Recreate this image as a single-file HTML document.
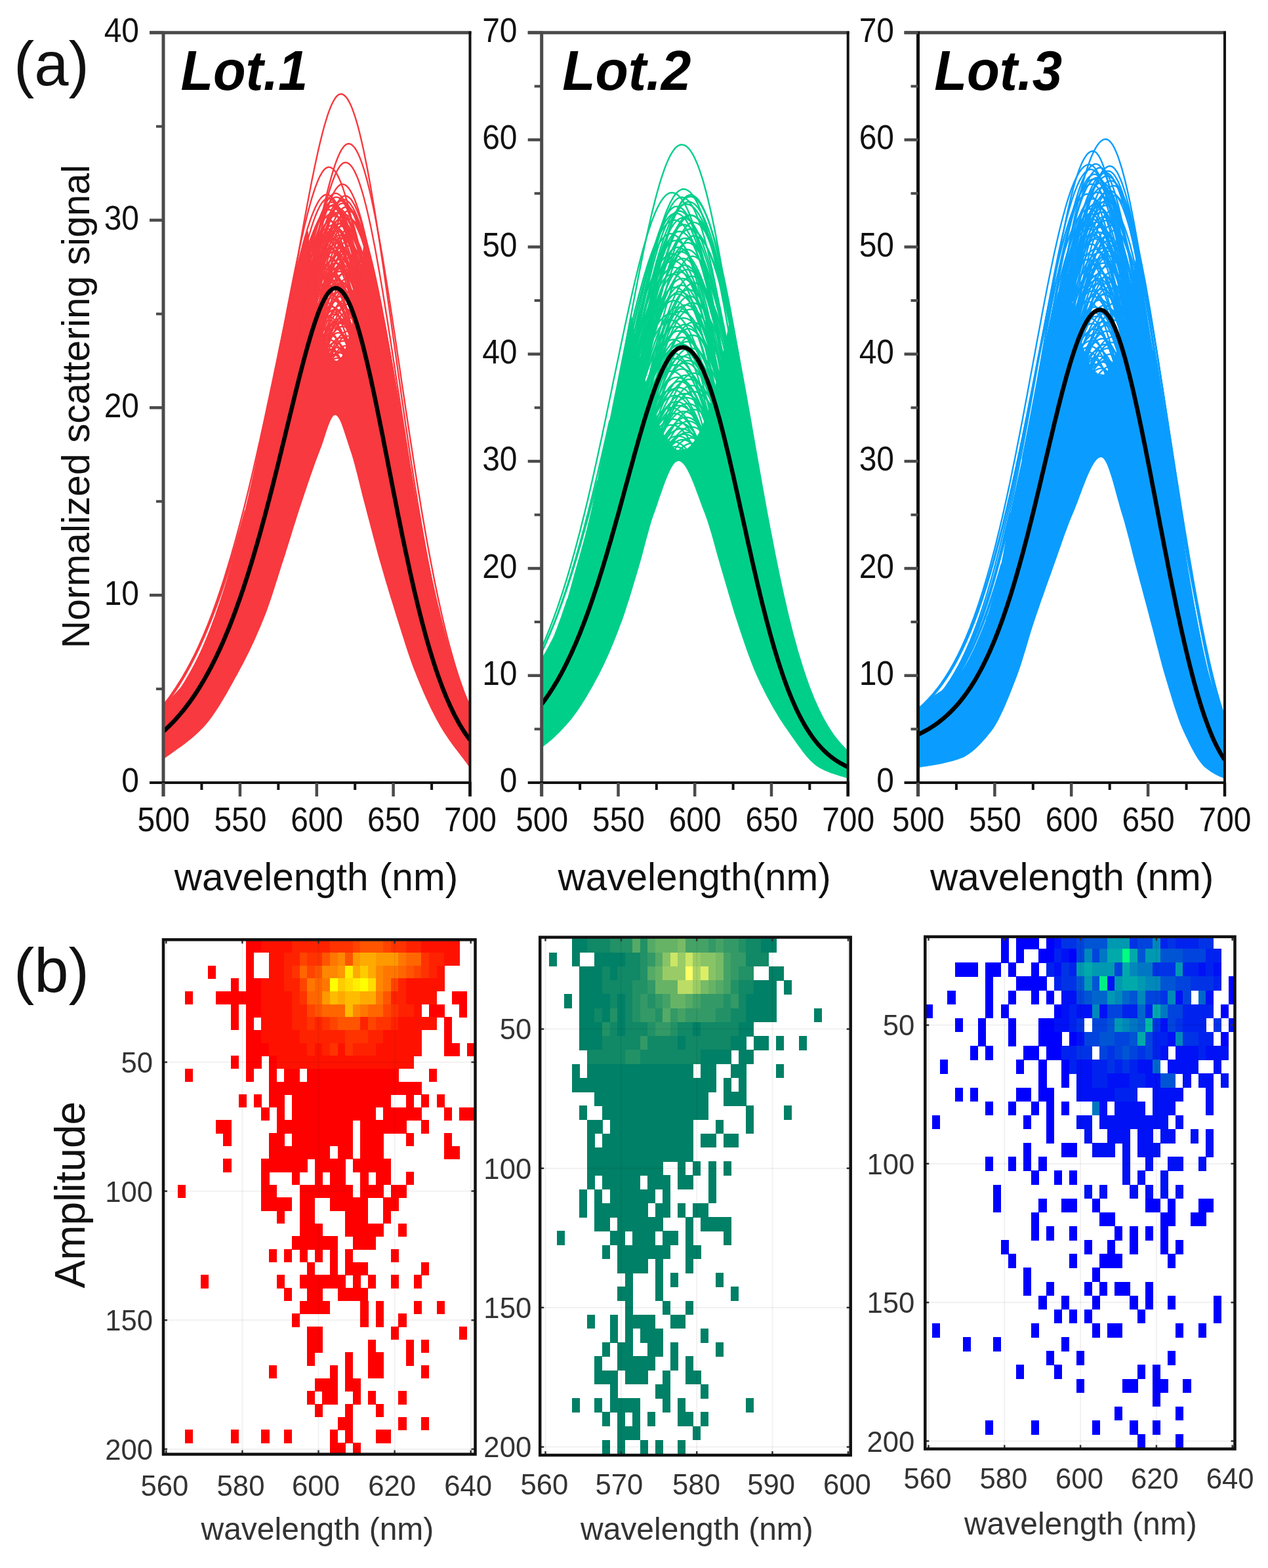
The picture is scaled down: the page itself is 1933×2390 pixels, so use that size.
<!DOCTYPE html>
<html><head><meta charset="utf-8"><title>Figure</title>
<style>html,body{margin:0;padding:0;background:#fff;}svg{display:block;}</style></head>
<body><svg xmlns="http://www.w3.org/2000/svg" width="1933" height="2390" viewBox="0 0 1933 2390" font-family="Liberation Sans, Arial, Helvetica, sans-serif">
<rect width="1933" height="2390" fill="#fff"/>
<clipPath id="cp1"><rect x="249.0" y="49.8" width="467.5" height="1143.2"/></clipPath>
<g clip-path="url(#cp1)">
<path d="M241.0,1086.8 L243.0,1084.3 L245.0,1081.8 L247.1,1079.3 L249.1,1076.9 L251.1,1074.5 L253.1,1072.1 L255.2,1069.8 L257.2,1067.6 L259.2,1065.4 L261.2,1063.2 L263.3,1061.0 L265.3,1058.8 L267.3,1056.7 L269.3,1054.5 L271.3,1052.3 L273.4,1050.0 L275.4,1047.7 L277.4,1045.4 L279.4,1043.0 L281.5,1040.5 L283.5,1037.9 L285.5,1035.3 L287.5,1032.5 L289.6,1029.6 L291.6,1026.6 L293.6,1023.4 L295.6,1020.1 L297.6,1016.6 L299.7,1012.8 L301.7,1009.0 L303.7,1004.9 L305.7,1000.7 L307.8,996.3 L309.8,991.7 L311.8,987.1 L313.8,982.2 L315.9,977.3 L317.9,972.2 L319.9,967.0 L321.9,961.7 L323.9,956.3 L326.0,950.8 L328.0,945.2 L330.0,939.5 L332.0,933.6 L334.1,927.4 L336.1,920.9 L338.1,914.0 L340.1,906.9 L342.2,899.7 L344.2,892.2 L346.2,884.7 L348.2,877.0 L350.2,869.3 L352.3,861.7 L354.3,854.0 L356.3,846.4 L358.3,838.7 L360.4,830.9 L362.4,823.0 L364.4,815.1 L366.4,807.0 L368.4,798.8 L370.5,790.5 L372.5,782.1 L374.5,773.5 L376.5,764.8 L378.6,756.0 L380.6,747.1 L382.6,738.0 L384.6,728.7 L386.7,719.3 L388.7,709.8 L390.7,700.0 L392.7,690.1 L394.7,679.9 L396.8,669.9 L398.8,660.7 L400.8,651.4 L402.8,642.1 L404.9,632.7 L406.9,623.2 L408.9,613.7 L410.9,604.2 L413.0,594.6 L415.0,585.0 L417.0,575.3 L419.0,565.7 L421.0,556.0 L423.1,546.3 L425.1,536.6 L427.1,526.9 L429.1,517.2 L431.2,507.6 L433.2,498.0 L435.2,488.5 L437.2,479.0 L439.3,469.6 L441.3,460.3 L443.3,451.1 L445.3,442.0 L447.3,433.0 L449.4,424.2 L451.4,415.5 L453.4,407.0 L455.4,398.7 L457.5,390.5 L459.5,382.6 L461.5,374.9 L463.5,367.5 L465.6,360.3 L467.6,353.4 L469.6,351.7 L471.6,369.7 L473.6,386.8 L475.7,403.1 L477.7,418.5 L479.7,433.1 L481.7,446.8 L483.8,459.7 L485.8,471.7 L487.8,482.8 L489.8,493.1 L491.9,502.6 L493.9,511.1 L495.9,518.9 L497.9,525.7 L499.9,531.7 L502.0,536.9 L504.0,541.2 L506.0,544.6 L508.0,547.2 L510.1,549.0 L512.1,549.8 L514.1,549.9 L516.1,549.0 L518.2,547.3 L520.2,544.8 L522.2,541.4 L524.2,537.1 L526.2,532.0 L528.3,526.0 L530.3,519.2 L532.3,511.5 L534.3,502.9 L536.4,493.5 L538.4,483.3 L540.4,472.2 L542.4,460.2 L544.5,447.4 L546.5,433.7 L548.5,419.1 L550.5,403.8 L552.5,387.5 L554.6,370.4 L556.6,360.7 L558.6,368.7 L560.6,376.4 L562.7,383.7 L564.7,391.4 L566.7,399.4 L568.7,407.9 L570.8,416.7 L572.8,425.8 L574.8,435.2 L576.8,444.9 L578.8,454.9 L580.9,465.2 L582.9,475.7 L584.9,486.4 L586.9,497.4 L589.0,508.5 L591.0,519.9 L593.0,531.3 L595.0,542.6 L597.1,553.9 L599.1,565.3 L601.1,576.8 L603.1,588.4 L605.1,600.0 L607.2,611.6 L609.2,623.3 L611.2,635.0 L613.2,646.7 L615.3,658.4 L617.3,670.0 L619.3,681.6 L621.3,693.2 L623.3,704.7 L625.4,716.1 L627.4,727.5 L629.4,738.8 L631.4,749.9 L633.5,761.0 L635.5,772.0 L637.5,782.8 L639.5,793.5 L641.6,804.1 L643.6,814.5 L645.6,824.8 L647.6,835.0 L649.6,845.0 L651.7,854.8 L653.7,864.5 L655.7,874.0 L657.7,883.3 L659.8,892.5 L661.8,901.5 L663.8,910.3 L665.8,918.9 L667.9,927.4 L669.9,935.7 L671.9,943.8 L673.9,951.7 L675.9,959.4 L678.0,967.0 L680.0,974.3 L682.0,981.5 L684.0,988.6 L686.1,995.4 L688.1,1002.0 L690.1,1008.5 L692.1,1014.8 L694.2,1021.0 L696.2,1027.0 L698.2,1032.8 L700.2,1038.4 L702.2,1043.9 L704.3,1049.2 L706.3,1054.4 L708.3,1059.4 L710.3,1064.2 L712.4,1068.9 L714.4,1073.5 L716.4,1077.9 L718.4,1078.1 L720.5,1078.1 L722.5,1078.1 L724.5,1078.1 L724.5,1182.3 L722.5,1179.3 L720.5,1176.4 L718.4,1173.5 L716.4,1170.6 L714.4,1167.7 L712.4,1164.9 L710.3,1162.1 L708.3,1159.4 L706.3,1156.7 L704.3,1154.1 L702.2,1151.4 L700.2,1148.8 L698.2,1146.2 L696.2,1143.5 L694.2,1140.9 L692.1,1138.2 L690.1,1135.4 L688.1,1132.7 L686.1,1129.9 L684.0,1127.0 L682.0,1124.1 L680.0,1121.1 L678.0,1118.0 L675.9,1114.8 L673.9,1111.6 L671.9,1108.2 L669.9,1104.7 L667.9,1101.1 L665.8,1097.4 L663.8,1093.6 L661.8,1089.7 L659.8,1085.8 L657.7,1081.7 L655.7,1077.5 L653.7,1073.3 L651.7,1068.9 L649.6,1064.5 L647.6,1060.0 L645.6,1055.4 L643.6,1050.8 L641.6,1046.0 L639.5,1041.2 L637.5,1036.3 L635.5,1031.4 L633.5,1026.3 L631.4,1021.2 L629.4,1015.9 L627.4,1010.4 L625.4,1004.7 L623.3,998.8 L621.3,992.8 L619.3,986.7 L617.3,980.5 L615.3,974.1 L613.2,967.8 L611.2,961.3 L609.2,954.9 L607.2,948.4 L605.1,942.0 L603.1,935.6 L601.1,929.1 L599.1,922.6 L597.1,916.1 L595.0,909.5 L593.0,902.8 L591.0,896.1 L589.0,889.4 L586.9,882.5 L584.9,875.6 L582.9,868.6 L580.9,861.6 L578.8,854.5 L576.8,847.3 L574.8,839.9 L572.8,832.5 L570.8,824.9 L568.7,817.3 L566.7,809.6 L564.7,801.9 L562.7,794.2 L560.6,786.4 L558.6,778.8 L556.6,771.1 L554.6,763.5 L552.5,755.6 L550.5,747.5 L548.5,739.3 L546.5,731.2 L544.5,723.1 L542.4,715.2 L540.4,707.6 L538.4,700.3 L536.4,693.5 L534.3,687.2 L532.3,681.2 L530.3,675.1 L528.3,668.7 L526.2,662.4 L524.2,656.2 L522.2,650.4 L520.2,645.1 L518.2,640.5 L516.1,636.8 L514.1,634.2 L512.1,632.7 L510.1,632.7 L508.0,634.1 L506.0,636.8 L504.0,640.6 L502.0,645.3 L499.9,650.7 L497.9,656.6 L495.9,662.8 L493.9,669.0 L491.9,675.1 L489.8,680.9 L487.8,686.2 L485.8,691.4 L483.8,696.8 L481.7,702.3 L479.7,707.8 L477.7,713.5 L475.7,719.2 L473.6,725.0 L471.6,730.9 L469.6,736.8 L467.6,742.8 L465.6,748.8 L463.5,754.8 L461.5,760.9 L459.5,766.9 L457.5,773.0 L455.4,779.2 L453.4,785.5 L451.4,791.9 L449.4,798.3 L447.3,804.8 L445.3,811.3 L443.3,817.8 L441.3,824.3 L439.3,830.8 L437.2,837.3 L435.2,843.7 L433.2,850.0 L431.2,856.3 L429.1,862.6 L427.1,868.9 L425.1,875.3 L423.1,881.7 L421.0,888.1 L419.0,894.5 L417.0,900.8 L415.0,907.0 L413.0,913.1 L410.9,919.0 L408.9,924.8 L406.9,930.4 L404.9,935.7 L402.8,940.9 L400.8,945.9 L398.8,950.8 L396.8,955.7 L394.7,960.4 L392.7,965.1 L390.7,969.7 L388.7,974.2 L386.7,978.7 L384.6,983.0 L382.6,987.3 L380.6,991.5 L378.6,995.7 L376.5,999.8 L374.5,1003.8 L372.5,1007.8 L370.5,1011.7 L368.4,1015.5 L366.4,1019.3 L364.4,1023.0 L362.4,1026.7 L360.4,1030.4 L358.3,1034.1 L356.3,1037.8 L354.3,1041.5 L352.3,1045.1 L350.2,1048.7 L348.2,1052.3 L346.2,1055.9 L344.2,1059.4 L342.2,1062.8 L340.1,1066.3 L338.1,1069.6 L336.1,1072.9 L334.1,1076.2 L332.0,1079.4 L330.0,1082.5 L328.0,1085.5 L326.0,1088.5 L323.9,1091.4 L321.9,1094.2 L319.9,1096.9 L317.9,1099.5 L315.9,1102.0 L313.8,1104.4 L311.8,1106.7 L309.8,1108.9 L307.8,1111.0 L305.7,1113.0 L303.7,1115.0 L301.7,1117.0 L299.7,1118.8 L297.6,1120.7 L295.6,1122.4 L293.6,1124.2 L291.6,1125.9 L289.6,1127.5 L287.5,1129.2 L285.5,1130.8 L283.5,1132.3 L281.5,1133.9 L279.4,1135.4 L277.4,1136.9 L275.4,1138.4 L273.4,1139.8 L271.3,1141.3 L269.3,1142.7 L267.3,1144.2 L265.3,1145.6 L263.3,1147.0 L261.2,1148.5 L259.2,1149.9 L257.2,1151.4 L255.2,1152.8 L253.1,1154.3 L251.1,1155.8 L249.1,1157.3 L247.1,1158.8 L245.0,1160.3 L243.0,1161.8 L241.0,1163.3 Z" fill="#f8393f"/>
<clipPath id="op1"><path d="M241.0,0.0 L241.0,1163.3 L243.0,1161.8 L245.0,1160.3 L247.1,1158.8 L249.1,1157.3 L251.1,1155.8 L253.1,1154.3 L255.2,1152.8 L257.2,1151.4 L259.2,1149.9 L261.2,1148.5 L263.3,1147.0 L265.3,1145.6 L267.3,1144.2 L269.3,1142.7 L271.3,1141.3 L273.4,1139.8 L275.4,1138.4 L277.4,1136.9 L279.4,1135.4 L281.5,1133.9 L283.5,1132.3 L285.5,1130.8 L287.5,1129.2 L289.6,1127.5 L291.6,1125.9 L293.6,1124.2 L295.6,1122.4 L297.6,1120.7 L299.7,1118.8 L301.7,1117.0 L303.7,1115.0 L305.7,1113.0 L307.8,1111.0 L309.8,1108.9 L311.8,1106.7 L313.8,1104.4 L315.9,1102.0 L317.9,1099.5 L319.9,1096.9 L321.9,1094.2 L323.9,1091.4 L326.0,1088.5 L328.0,1085.5 L330.0,1082.5 L332.0,1079.4 L334.1,1076.2 L336.1,1072.9 L338.1,1069.6 L340.1,1066.3 L342.2,1062.8 L344.2,1059.4 L346.2,1055.9 L348.2,1052.3 L350.2,1048.7 L352.3,1045.1 L354.3,1041.5 L356.3,1037.8 L358.3,1034.1 L360.4,1030.4 L362.4,1026.7 L364.4,1023.0 L366.4,1019.3 L368.4,1015.5 L370.5,1011.7 L372.5,1007.8 L374.5,1003.8 L376.5,999.8 L378.6,995.7 L380.6,991.5 L382.6,987.3 L384.6,983.0 L386.7,978.7 L388.7,974.2 L390.7,969.7 L392.7,965.1 L394.7,960.4 L396.8,955.7 L398.8,950.8 L400.8,945.9 L402.8,940.9 L404.9,935.7 L406.9,930.4 L408.9,924.8 L410.9,919.0 L413.0,913.1 L415.0,907.0 L417.0,900.8 L419.0,894.5 L421.0,888.1 L423.1,881.7 L425.1,875.3 L427.1,868.9 L429.1,862.6 L431.2,856.3 L433.2,850.0 L435.2,843.7 L437.2,837.3 L439.3,830.8 L441.3,824.3 L443.3,817.8 L445.3,811.3 L447.3,804.8 L449.4,798.3 L451.4,791.9 L453.4,785.5 L455.4,779.2 L457.5,773.0 L459.5,766.9 L461.5,760.9 L463.5,754.8 L465.6,748.8 L467.6,742.8 L469.6,736.8 L471.6,730.9 L473.6,725.0 L475.7,719.2 L477.7,713.5 L479.7,707.8 L481.7,702.3 L483.8,696.8 L485.8,691.4 L487.8,686.2 L489.8,680.9 L491.9,675.1 L493.9,669.0 L495.9,662.8 L497.9,656.6 L499.9,650.7 L502.0,645.3 L504.0,640.6 L506.0,636.8 L508.0,634.1 L510.1,632.7 L512.1,632.7 L514.1,634.2 L516.1,636.8 L518.2,640.5 L520.2,645.1 L522.2,650.4 L524.2,656.2 L526.2,662.4 L528.3,668.7 L530.3,675.1 L532.3,681.2 L534.3,687.2 L536.4,693.5 L538.4,700.3 L540.4,707.6 L542.4,715.2 L544.5,723.1 L546.5,731.2 L548.5,739.3 L550.5,747.5 L552.5,755.6 L554.6,763.5 L556.6,771.1 L558.6,778.8 L560.6,786.4 L562.7,794.2 L564.7,801.9 L566.7,809.6 L568.7,817.3 L570.8,824.9 L572.8,832.5 L574.8,839.9 L576.8,847.3 L578.8,854.5 L580.9,861.6 L582.9,868.6 L584.9,875.6 L586.9,882.5 L589.0,889.4 L591.0,896.1 L593.0,902.8 L595.0,909.5 L597.1,916.1 L599.1,922.6 L601.1,929.1 L603.1,935.6 L605.1,942.0 L607.2,948.4 L609.2,954.9 L611.2,961.3 L613.2,967.8 L615.3,974.1 L617.3,980.5 L619.3,986.7 L621.3,992.8 L623.3,998.8 L625.4,1004.7 L627.4,1010.4 L629.4,1015.9 L631.4,1021.2 L633.5,1026.3 L635.5,1031.4 L637.5,1036.3 L639.5,1041.2 L641.6,1046.0 L643.6,1050.8 L645.6,1055.4 L647.6,1060.0 L649.6,1064.5 L651.7,1068.9 L653.7,1073.3 L655.7,1077.5 L657.7,1081.7 L659.8,1085.8 L661.8,1089.7 L663.8,1093.6 L665.8,1097.4 L667.9,1101.1 L669.9,1104.7 L671.9,1108.2 L673.9,1111.6 L675.9,1114.8 L678.0,1118.0 L680.0,1121.1 L682.0,1124.1 L684.0,1127.0 L686.1,1129.9 L688.1,1132.7 L690.1,1135.4 L692.1,1138.2 L694.2,1140.9 L696.2,1143.5 L698.2,1146.2 L700.2,1148.8 L702.2,1151.4 L704.3,1154.1 L706.3,1156.7 L708.3,1159.4 L710.3,1162.1 L712.4,1164.9 L714.4,1167.7 L716.4,1170.6 L718.4,1173.5 L720.5,1176.4 L722.5,1179.3 L724.5,1182.3 L724.5,0.0 Z"/></clipPath>
<g clip-path="url(#op1)" fill="none" stroke="#f8393f" stroke-width="2.4">
<path d="M482.8,458.7 L485.1,452.4 L487.4,446.5 L489.8,441.2 L492.1,436.3 L494.4,432.1 L496.8,428.4 L499.1,425.3 L501.4,422.9 L503.8,421.2 L506.1,420.2 L508.5,420.0 L510.8,420.4 L513.1,421.5 L515.5,423.3 L517.8,425.7 L520.1,428.7 L522.5,432.3 L524.8,436.6 L527.2,441.4 L529.5,446.9 L531.8,452.9 L534.2,459.4 L536.5,466.5 L538.8,474.1 L540.0,478.1"/>
<path d="M495.6,523.2 L497.9,517.8 L500.3,512.8 L502.6,508.2 L505.0,504.1 L507.3,500.5 L509.6,497.4 L512.0,494.8 L514.3,492.9 L516.6,491.5 L519.0,490.7 L521.3,490.6 L523.7,491.1 L526.0,492.1 L528.3,493.7 L530.7,495.9 L533.0,498.6 L535.3,501.8 L535.3,501.8"/>
<path d="M291.1,1029.5 L293.4,1025.3 L295.8,1020.9 L298.1,1016.5 L300.4,1012.0 L302.8,1007.3 L305.1,1002.6 L307.4,997.7 L309.8,992.7 L312.1,987.7 L314.4,982.4 L316.8,977.1 L316.8,977.1 M473.4,396.1 L475.7,389.6 L478.1,383.5 L480.4,378.0 L482.8,373.0 L485.1,368.5 L487.4,364.6 L489.8,361.3 L492.1,358.6 L494.4,356.6 L496.8,355.3 L499.1,354.8 L501.4,354.9 L503.8,355.7 L506.1,357.1 L508.5,359.2 L510.8,361.9 L513.1,365.2 L515.5,369.2 L517.8,373.7 L520.1,378.8 L522.5,384.5 L524.8,390.7 L527.2,397.5 L529.5,404.8 L531.8,412.6 L534.2,420.9 L536.5,429.7 L538.8,438.9 L541.2,448.5 L543.5,458.5 L543.5,458.5"/>
<path d="M500.3,536.7 L502.6,534.3 L505.0,532.4 L507.3,531.0 L509.6,530.1 L512.0,529.7 L514.3,529.9 L516.6,530.6 L519.0,531.8 L521.3,533.4 L523.7,535.5 L526.0,538.1 L526.0,538.1"/>
<path d="M485.1,479.4 L487.4,470.2 L489.8,461.3 L492.1,452.8 L494.4,444.6 L496.8,436.9 L499.1,429.5 L501.4,422.7 L503.8,416.3 L506.1,410.4 L508.5,405.1 L510.8,400.5 L513.1,396.4 L515.5,393.0 L517.8,390.3 L520.1,388.4 L522.5,387.2 L524.8,386.9 L527.2,387.3 L529.5,388.4 L531.8,390.2 L534.2,392.7 L536.5,395.9 L538.8,399.8 L541.2,404.3 L543.5,409.5 L545.9,415.4 L548.2,421.8 L549.4,425.2"/>
<path d="M485.1,475.5 L487.4,470.8 L489.8,466.7 L492.1,463.1 L494.4,460.0 L496.8,457.6 L499.1,455.9 L501.4,454.8 L503.8,454.4 L506.1,454.6 L508.5,455.5 L510.8,457.1 L513.1,459.2 L515.5,461.9 L517.8,465.2 L520.1,469.1 L522.5,473.6 L524.8,478.6 L527.2,484.2 L529.5,490.3 L531.8,496.9 L534.2,504.0 L535.3,507.7"/>
<path d="M476.9,414.5 L479.2,405.4 L481.6,396.6 L483.9,388.1 L486.3,380.0 L488.6,372.3 L490.9,365.0 L493.3,358.3 L495.6,352.0 L497.9,346.2 L500.3,341.1 L502.6,336.5 L505.0,332.5 L507.3,329.3 L509.6,326.7 L512.0,324.8 L514.3,323.7 L516.6,323.4 L519.0,323.8 L521.3,325.0 L523.7,326.8 L526.0,329.3 L528.3,332.4 L530.7,336.3 L533.0,340.8 L535.3,345.9 L537.7,351.6 L540.0,358.0 L542.4,364.9 L544.7,372.4 L547.0,380.5 L549.4,389.1 L551.7,398.2 L551.7,398.2"/>
<path d="M275.9,1049.3 L278.2,1045.6 L280.6,1041.9 L282.9,1038.1 L285.2,1034.2 L287.6,1030.2 L289.9,1026.2 L292.2,1022.0 L294.6,1017.7 L296.9,1013.4 L299.3,1008.9 L301.6,1004.3 L303.9,999.7 L306.3,994.9 L308.6,990.1 L310.9,985.1 L313.3,980.0 L315.6,974.8 L318.0,969.5 L320.3,964.1 L322.6,958.5 L325.0,952.9 L327.3,947.1 L329.6,941.3 L332.0,935.3 L333.1,932.2 M476.9,425.6 L479.2,420.9 L481.6,416.8 L483.9,413.1 L486.3,410.0 L488.6,407.4 L490.9,405.5 L493.3,404.1 L495.6,403.4 L497.9,403.3 L500.3,403.8 L502.6,404.9 L505.0,406.6 L507.3,408.8 L509.6,411.6 L512.0,415.0 L514.3,418.8 L516.6,423.3 L519.0,428.2 L521.3,433.6 L523.7,439.5 L526.0,445.9 L528.3,452.7 L530.7,460.0 L533.0,467.7 L535.3,475.8 L537.7,484.3 L538.8,488.7"/>
<path d="M489.8,495.5 L492.1,490.6 L494.4,486.2 L496.8,482.3 L499.1,479.0 L501.4,476.3 L503.8,474.3 L506.1,472.9 L508.5,472.3 L510.8,472.3 L513.1,473.0 L515.5,474.3 L517.8,476.2 L520.1,478.8 L522.5,481.9 L524.8,485.7 L527.2,490.0 L529.5,494.9 L531.8,500.3 L534.2,506.3 L534.2,506.3"/>
<path d="M480.4,439.9 L482.8,430.3 L485.1,421.1 L487.4,412.2 L489.8,403.7 L492.1,395.5 L494.4,387.7 L496.8,380.4 L499.1,373.6 L501.4,367.3 L503.8,361.5 L506.1,356.3 L508.5,351.8 L510.8,347.8 L513.1,344.6 L515.5,342.0 L517.8,340.2 L520.1,339.2 L522.5,339.0 L524.8,339.5 L527.2,340.8 L529.5,342.7 L531.8,345.3 L534.2,348.7 L536.5,352.7 L538.8,357.3 L541.2,362.6 L543.5,368.6 L545.9,375.1 L548.2,382.3 L550.5,390.0 L552.9,398.3 L552.9,398.3"/>
<path d="M493.3,513.1 L495.6,511.4 L497.9,510.2 L500.3,509.7 L502.6,509.8 L505.0,510.4 L507.3,511.5 L509.6,513.2 L512.0,515.4 L514.3,518.2 L516.6,521.4 L519.0,525.2 L521.3,529.4 L523.7,534.1 L526.0,539.3 L526.0,539.3"/>
<path d="M479.2,435.0 L481.6,427.4 L483.9,420.2 L486.3,413.3 L488.6,406.9 L490.9,400.9 L493.3,395.3 L495.6,390.3 L497.9,385.7 L500.3,381.7 L502.6,378.3 L505.0,375.5 L507.3,373.3 L509.6,371.7 L512.0,370.9 L514.3,370.7 L516.6,371.2 L519.0,372.3 L521.3,374.1 L523.7,376.4 L526.0,379.3 L528.3,382.9 L530.7,387.0 L533.0,391.7 L535.3,396.9 L537.7,402.7 L540.0,409.1 L542.4,415.9 L544.7,423.2 L547.0,431.0 L548.2,435.1"/>
<path d="M489.8,499.6 L492.1,492.6 L494.4,485.9 L496.8,479.6 L499.1,473.6 L501.4,468.0 L503.8,462.7 L506.1,457.9 L508.5,453.5 L510.8,449.6 L513.1,446.1 L515.5,443.2 L517.8,440.8 L520.1,439.0 L522.5,437.7 L524.8,437.1 L527.2,437.0 L529.5,437.6 L531.8,438.6 L534.2,440.3 L536.5,442.4 L538.8,445.1 L541.2,448.3 L543.5,452.0 L544.7,454.0"/>
<path d="M472.2,380.9 L474.6,372.0 L476.9,363.6 L479.2,355.6 L481.6,348.0 L483.9,341.0 L486.3,334.6 L488.6,328.8 L490.9,323.6 L493.3,319.1 L495.6,315.3 L497.9,312.3 L500.3,310.0 L502.6,308.6 L505.0,308.0 L507.3,308.3 L509.6,309.3 L512.0,311.1 L514.3,313.7 L516.6,317.0 L519.0,321.0 L521.3,325.7 L523.7,331.2 L526.0,337.3 L528.3,344.1 L530.7,351.6 L533.0,359.6 L535.3,368.3 L537.7,377.6 L540.0,387.3 L542.4,397.7 L544.7,408.5 L547.0,419.7 L548.2,425.6"/>
<path d="M489.8,495.7 L492.1,487.5 L494.4,479.5 L496.8,471.9 L499.1,464.6 L501.4,457.6 L503.8,451.0 L506.1,444.9 L508.5,439.1 L510.8,433.9 L513.1,429.1 L515.5,424.8 L517.8,421.1 L520.1,417.9 L522.5,415.4 L524.8,413.5 L527.2,412.2 L529.5,411.6 L531.8,411.7 L534.2,412.5 L536.5,413.8 L538.8,415.7 L541.2,418.3 L543.5,421.4 L545.9,425.1 L548.2,429.4 L548.2,429.4"/>
<path d="M487.4,487.8 L489.8,485.4 L492.1,483.5 L494.4,482.2 L496.8,481.4 L499.1,481.3 L501.4,481.8 L503.8,482.7 L506.1,484.2 L508.5,486.2 L510.8,488.8 L513.1,491.8 L515.5,495.4 L517.8,499.4 L520.1,503.9 L522.5,508.9 L524.8,514.3 L527.2,520.2 L529.5,526.5 L529.5,526.5"/>
<path d="M475.7,412.3 L478.1,404.7 L480.4,397.5 L482.8,390.6 L485.1,384.2 L487.4,378.1 L489.8,372.5 L492.1,367.4 L494.4,362.8 L496.8,358.8 L499.1,355.2 L501.4,352.3 L503.8,349.9 L506.1,348.2 L508.5,347.2 L510.8,346.8 L513.1,347.1 L515.5,348.0 L517.8,349.5 L520.1,351.6 L522.5,354.3 L524.8,357.6 L527.2,361.4 L529.5,365.8 L531.8,370.8 L534.2,376.2 L536.5,382.2 L538.8,388.8 L541.2,395.8 L543.5,403.2 L545.9,411.2 L548.2,419.6 L549.4,423.9"/>
<path d="M502.6,543.0 L505.0,538.3 L507.3,534.0 L509.6,530.2 L512.0,527.0 L514.3,524.3 L516.6,522.2 L519.0,520.7 L521.3,519.8 L523.7,519.5 L526.0,519.9 L528.3,520.9 L530.7,522.4 L530.7,522.4"/>
<path d="M476.9,418.9 L479.2,412.4 L481.6,406.4 L483.9,400.9 L486.3,395.9 L488.6,391.5 L490.9,387.7 L493.3,384.6 L495.6,382.0 L497.9,380.2 L500.3,379.1 L502.6,378.7 L505.0,379.1 L507.3,380.1 L509.6,381.8 L512.0,384.1 L514.3,387.1 L516.6,390.7 L519.0,395.0 L521.3,399.8 L523.7,405.3 L526.0,411.3 L528.3,417.9 L530.7,425.0 L533.0,432.6 L535.3,440.8 L537.7,449.4 L540.0,458.5 L542.4,468.0 L542.4,468.0"/>
<path d="M487.4,486.0 L489.8,479.9 L492.1,474.3 L494.4,469.1 L496.8,464.3 L499.1,460.0 L501.4,456.2 L503.8,453.0 L506.1,450.3 L508.5,448.2 L510.8,446.7 L513.1,445.8 L515.5,445.6 L517.8,446.0 L520.1,447.0 L522.5,448.6 L524.8,450.7 L527.2,453.4 L529.5,456.7 L531.8,460.5 L534.2,464.8 L536.5,469.7 L538.8,475.1 L540.0,477.9"/>
<path d="M479.2,436.7 L481.6,427.1 L483.9,417.6 L486.3,408.4 L488.6,399.5 L490.9,390.9 L493.3,382.6 L495.6,374.6 L497.9,367.1 L500.3,359.9 L502.6,353.2 L505.0,346.9 L507.3,341.1 L509.6,335.8 L512.0,331.1 L514.3,326.9 L516.6,323.4 L519.0,320.5 L521.3,318.2 L523.7,316.7 L526.0,315.8 L528.3,315.7 L530.7,316.3 L533.0,317.5 L535.3,319.4 L537.7,321.9 L540.0,325.0 L542.4,328.8 L544.7,333.1 L547.0,338.1 L549.4,343.6 L551.7,349.7 L554.0,356.4 L556.4,363.6 L558.7,371.3 L561.1,379.5 L563.4,388.2 L565.7,397.4 L568.1,406.9 L570.4,416.9 L572.7,427.3 L575.1,438.1 L577.4,449.2 L579.8,460.6 L582.1,472.4 L584.4,484.4 L586.8,496.6 L589.1,509.1 L591.4,521.8 L593.8,534.6 L596.1,547.7 L598.5,560.8 L600.8,574.1 L603.1,587.4 L605.5,600.9 L607.8,614.3 L610.1,627.8 L612.5,641.3 L614.8,654.8 L617.2,668.3 L619.5,681.7 L621.8,695.1 L624.2,708.3 L626.5,721.5 L628.8,734.6 L631.2,747.5 L633.5,760.3 L635.9,773.0 L638.2,785.5 L640.5,797.8 L642.9,809.9 L645.2,821.8 L647.5,833.6 L649.9,845.1 L652.2,856.5 L654.6,867.6 L656.9,878.4 L659.2,889.1 L661.6,899.5 L663.9,909.7 L666.2,919.7 L668.6,929.4 L670.9,938.9 L673.3,948.1 L675.6,957.1 L677.9,965.8 L680.3,974.3 L682.6,982.6 L684.9,990.6 L687.3,998.4 L689.6,1006.0 L692.0,1013.3 L694.3,1020.4 L696.6,1027.3 L699.0,1033.9 L701.3,1040.4 L703.6,1046.6 L706.0,1052.6 L708.3,1058.4 L710.7,1064.0 L713.0,1069.4 L715.3,1074.6 L716.5,1077.1"/>
<path d="M502.6,541.1 L505.0,540.5 L507.3,540.3 L509.6,540.7 L512.0,541.5 L514.3,542.8 L516.6,544.5 L519.0,546.7 L520.1,547.9"/>
<path d="M483.9,470.4 L486.3,461.9 L488.6,453.7 L490.9,445.9 L493.3,438.5 L495.6,431.6 L497.9,425.2 L500.3,419.3 L502.6,413.9 L505.0,409.2 L507.3,405.0 L509.6,401.6 L512.0,398.8 L514.3,396.8 L516.6,395.5 L519.0,395.0 L521.3,395.3 L523.7,396.4 L526.0,398.1 L528.3,400.5 L530.7,403.6 L533.0,407.4 L535.3,411.8 L537.7,416.9 L540.0,422.7 L542.4,429.0 L544.7,436.0 L547.0,443.5 L547.0,443.5"/>
<path d="M496.8,527.9 L499.1,520.5 L501.4,513.3 L503.8,506.6 L506.1,500.2 L508.5,494.2 L510.8,488.6 L513.1,483.5 L515.5,479.0 L517.8,474.9 L520.1,471.4 L522.5,468.5 L524.8,466.2 L527.2,464.5 L529.5,463.5 L531.8,463.2 L534.2,463.6 L536.5,464.6 L538.8,466.2 L541.2,468.4 L542.4,469.7"/>
<path d="M284.1,1039.5 L286.4,1035.4 L288.7,1031.2 L291.1,1026.9 L293.4,1022.5 L295.8,1018.0 L298.1,1013.4 L300.4,1008.6 L302.8,1003.8 L305.1,998.8 L307.4,993.7 L309.8,988.5 L312.1,983.2 L314.4,977.8 L316.8,972.2 L319.1,966.5 L321.5,960.7 L323.8,954.7 L326.1,948.6 L328.5,942.4 L330.8,936.0 L333.1,929.5 L335.5,922.8 L337.8,916.0 L340.2,909.1 L340.2,909.1 M471.1,371.4 L473.4,364.7 L475.7,358.6 L478.1,352.9 L480.4,347.9 L482.8,343.4 L485.1,339.6 L487.4,336.5 L489.8,334.0 L492.1,332.3 L494.4,331.4 L496.8,331.2 L499.1,331.8 L501.4,333.0 L503.8,335.0 L506.1,337.6 L508.5,340.9 L510.8,344.8 L513.1,349.4 L515.5,354.7 L517.8,360.5 L520.1,367.0 L522.5,374.0 L524.8,381.6 L527.2,389.8 L529.5,398.5 L531.8,407.6 L534.2,417.3 L536.5,427.4 L538.8,437.9 L541.2,448.8 L543.5,460.1 L543.5,460.1"/>
<path d="M493.3,512.2 L495.6,508.9 L497.9,506.1 L500.3,503.7 L502.6,501.9 L505.0,500.7 L507.3,500.1 L509.6,500.1 L512.0,500.6 L514.3,501.6 L516.6,503.2 L519.0,505.3 L521.3,507.9 L523.7,511.0 L526.0,514.7 L528.3,518.8 L530.7,523.3 L530.7,523.3"/>
<path d="M480.4,447.4 L482.8,439.1 L485.1,431.1 L487.4,423.4 L489.8,416.0 L492.1,409.0 L494.4,402.4 L496.8,396.2 L499.1,390.4 L501.4,385.1 L503.8,380.3 L506.1,376.0 L508.5,372.3 L510.8,369.1 L513.1,366.6 L515.5,364.6 L517.8,363.3 L520.1,362.7 L522.5,362.8 L524.8,363.5 L527.2,364.8 L529.5,366.7 L531.8,369.2 L534.2,372.3 L536.5,376.0 L538.8,380.2 L541.2,385.0 L543.5,390.3 L545.9,396.2 L548.2,402.5 L550.5,409.4 L550.5,409.4"/>
<path d="M481.6,450.9 L483.9,445.9 L486.3,441.4 L488.6,437.6 L490.9,434.4 L493.3,431.8 L495.6,429.9 L497.9,428.8 L500.3,428.4 L502.6,428.8 L505.0,429.8 L507.3,431.5 L509.6,433.9 L512.0,436.9 L514.3,440.5 L516.6,444.8 L519.0,449.7 L521.3,455.2 L523.7,461.3 L526.0,467.9 L528.3,475.1 L530.7,482.8 L533.0,491.0 L535.3,499.7 L536.5,504.2"/>
<path d="M473.4,397.0 L475.7,387.3 L478.1,377.9 L480.4,368.9 L482.8,360.3 L485.1,352.1 L487.4,344.4 L489.8,337.2 L492.1,330.5 L494.4,324.4 L496.8,318.9 L499.1,314.0 L501.4,309.9 L503.8,306.4 L506.1,303.7 L508.5,301.7 L510.8,300.6 L513.1,300.4 L515.5,300.9 L517.8,302.1 L520.1,304.2 L522.5,306.9 L524.8,310.4 L527.2,314.5 L529.5,319.4 L531.8,325.0 L534.2,331.2 L536.5,338.1 L538.8,345.6 L541.2,353.7 L543.5,362.4 L545.9,371.6 L548.2,381.4 L550.5,391.7 L551.7,397.0"/>
<path d="M480.4,447.6 L482.8,442.1 L485.1,437.0 L487.4,432.4 L489.8,428.3 L492.1,424.7 L494.4,421.7 L496.8,419.3 L499.1,417.5 L501.4,416.3 L503.8,415.8 L506.1,415.9 L508.5,416.7 L510.8,418.0 L513.1,419.9 L515.5,422.4 L517.8,425.5 L520.1,429.1 L522.5,433.3 L524.8,438.0 L527.2,443.2 L529.5,448.9 L531.8,455.2 L534.2,461.9 L536.5,469.1 L538.8,476.7 L540.0,480.6"/>
<path d="M493.3,512.8 L495.6,508.1 L497.9,503.7 L500.3,499.8 L502.6,496.3 L505.0,493.2 L507.3,490.7 L509.6,488.7 L512.0,487.2 L514.3,486.3 L516.6,485.9 L519.0,486.1 L521.3,486.9 L523.7,488.1 L526.0,489.8 L528.3,492.1 L530.7,494.8 L533.0,498.1 L535.3,501.8 L535.3,501.8"/>
<path d="M483.9,471.1 L486.3,461.0 L488.6,451.0 L490.9,441.4 L493.3,432.1 L495.6,423.1 L497.9,414.5 L500.3,406.2 L502.6,398.4 L505.0,391.1 L507.3,384.2 L509.6,377.9 L512.0,372.2 L514.3,367.0 L516.6,362.5 L519.0,358.7 L521.3,355.6 L523.7,353.2 L526.0,351.6 L528.3,350.8 L530.7,350.9 L533.0,351.7 L535.3,353.2 L537.7,355.5 L540.0,358.4 L542.4,362.1 L544.7,366.5 L547.0,371.5 L549.4,377.2 L551.7,383.6 L552.9,387.0"/>
<path d="M496.8,524.6 L499.1,524.7 L501.4,525.4 L503.8,526.6 L506.1,528.4 L508.5,530.7 L510.8,533.6 L513.1,536.9 L515.5,540.8 L517.8,545.2 L520.1,550.1 L520.1,550.1"/>
<path d="M479.2,436.7 L481.6,429.5 L483.9,422.7 L486.3,416.4 L488.6,410.5 L490.9,405.0 L493.3,400.2 L495.6,395.8 L497.9,392.0 L500.3,388.9 L502.6,386.3 L505.0,384.4 L507.3,383.3 L509.6,382.8 L512.0,383.0 L514.3,383.9 L516.6,385.4 L519.0,387.6 L521.3,390.4 L523.7,393.8 L526.0,397.8 L528.3,402.3 L530.7,407.5 L533.0,413.2 L535.3,419.5 L537.7,426.3 L540.0,433.6 L542.4,441.4 L544.7,449.7 L544.7,449.7"/>
<path d="M489.8,502.9 L492.1,496.3 L494.4,490.0 L496.8,484.1 L499.1,478.6 L501.4,473.4 L503.8,468.8 L506.1,464.5 L508.5,460.8 L510.8,457.6 L513.1,454.9 L515.5,452.8 L517.8,451.2 L520.1,450.3 L522.5,450.0 L524.8,450.3 L527.2,451.2 L529.5,452.6 L531.8,454.6 L534.2,457.1 L536.5,460.1 L538.8,463.7 L541.2,467.8 L542.4,470.1"/>
<path d="M249.0,1078.1 L251.3,1075.1 L253.7,1072.1 L256.0,1069.0 L258.4,1065.9 L260.7,1062.6 L263.0,1059.3 L265.4,1055.9 L267.7,1052.5 L270.0,1048.9 L272.4,1045.3 L274.7,1041.5 L277.1,1037.7 L279.4,1033.8 L281.7,1029.8 L284.1,1025.7 L286.4,1021.5 L288.7,1017.3 L291.1,1012.9 L293.4,1008.4 L295.8,1003.8 L298.1,999.1 L300.4,994.3 L302.8,989.4 L305.1,984.4 L307.4,979.3 L309.8,974.0 L312.1,968.7 L314.4,963.2 L316.8,957.6 L319.1,951.9 L321.5,946.1 L323.8,940.1 L326.1,934.1 L328.5,927.9 L330.8,921.5 L333.1,915.1 L335.5,908.5 L337.8,901.8 L340.2,894.9 L342.5,887.9 L344.8,880.8 L347.2,873.6 L349.5,866.2 L351.9,858.7 L354.2,851.0 L356.5,843.2 L358.9,835.3 L361.2,827.2 L363.5,819.0 L365.9,810.7 L368.2,802.2 L368.2,802.2 M471.1,372.5 L473.4,365.4 L475.7,358.7 L478.1,352.4 L480.4,346.5 L482.8,341.2 L485.1,336.4 L487.4,332.1 L489.8,328.4 L492.1,325.3 L494.4,322.9 L496.8,321.1 L499.1,319.9 L501.4,319.5 L503.8,319.8 L506.1,320.7 L508.5,322.2 L510.8,324.4 L513.1,327.1 L515.5,330.5 L517.8,334.5 L520.1,339.0 L522.5,344.1 L524.8,349.8 L527.2,356.0 L529.5,362.8 L531.8,370.0 L534.2,377.8 L536.5,386.0 L538.8,394.7 L541.2,403.8 L543.5,413.3 L545.9,423.2 L548.2,433.5 L548.2,433.5"/>
<path d="M507.3,548.5 L509.6,547.0 L512.0,546.1 L514.3,545.8 L516.6,546.1 L519.0,547.0 L520.1,547.7"/>
<path d="M487.4,483.0 L489.8,474.5 L492.1,466.3 L494.4,458.5 L496.8,451.0 L499.1,443.8 L501.4,437.1 L503.8,430.9 L506.1,425.1 L508.5,419.8 L510.8,415.0 L513.1,410.8 L515.5,407.2 L517.8,404.2 L520.1,401.9 L522.5,400.3 L524.8,399.4 L527.2,399.2 L529.5,399.7 L531.8,400.8 L534.2,402.6 L536.5,405.1 L538.8,408.1 L541.2,411.8 L543.5,416.1 L545.9,421.0 L548.2,426.5 L548.2,426.5"/>
<path d="M487.4,486.2 L489.8,482.0 L492.1,478.2 L494.4,475.0 L496.8,472.4 L499.1,470.3 L501.4,468.8 L503.8,467.9 L506.1,467.7 L508.5,468.1 L510.8,469.0 L513.1,470.5 L515.5,472.6 L517.8,475.2 L520.1,478.4 L522.5,482.0 L524.8,486.3 L527.2,491.0 L529.5,496.2 L531.8,501.9 L534.2,508.1 L534.2,508.1"/>
<path d="M476.9,426.8 L479.2,418.0 L481.6,409.5 L483.9,401.3 L486.3,393.5 L488.6,386.0 L490.9,378.9 L493.3,372.3 L495.6,366.1 L497.9,360.4 L500.3,355.1 L502.6,350.5 L505.0,346.3 L507.3,342.8 L509.6,339.9 L512.0,337.7 L514.3,336.1 L516.6,335.2 L519.0,335.1 L521.3,335.6 L523.7,336.8 L526.0,338.6 L528.3,341.0 L530.7,344.1 L533.0,347.8 L535.3,352.0 L537.7,356.9 L540.0,362.3 L542.4,368.3 L544.7,374.8 L547.0,381.9 L549.4,389.5 L551.7,397.5 L551.7,397.5"/>
<path d="M502.6,540.3 L505.0,535.1 L507.3,530.2 L509.6,525.7 L512.0,521.5 L514.3,517.8 L516.6,514.5 L519.0,511.6 L521.3,509.2 L523.7,507.3 L526.0,505.9 L528.3,505.1 L530.7,504.8 L533.0,505.0 L535.3,505.8 L535.3,505.8"/>
<path d="M474.6,405.2 L476.9,398.7 L479.2,392.6 L481.6,387.1 L483.9,382.2 L486.3,377.8 L488.6,374.2 L490.9,371.2 L493.3,369.0 L495.6,367.5 L497.9,366.7 L500.3,366.8 L502.6,367.6 L505.0,369.1 L507.3,371.3 L509.6,374.2 L512.0,377.7 L514.3,382.0 L516.6,386.8 L519.0,392.4 L521.3,398.5 L523.7,405.2 L526.0,412.6 L528.3,420.4 L530.7,428.8 L533.0,437.8 L535.3,447.2 L537.7,457.1 L540.0,467.4 L541.2,472.7"/>
<path d="M485.1,471.8 L487.4,465.6 L489.8,459.9 L492.1,454.6 L494.4,449.9 L496.8,445.6 L499.1,441.9 L501.4,438.8 L503.8,436.3 L506.1,434.4 L508.5,433.2 L510.8,432.7 L513.1,432.9 L515.5,433.7 L517.8,435.1 L520.1,437.1 L522.5,439.8 L524.8,443.0 L527.2,446.8 L529.5,451.1 L531.8,456.1 L534.2,461.6 L536.5,467.6 L538.8,474.1 L540.0,477.5"/>
<path d="M476.9,425.6 L479.2,415.6 L481.6,405.9 L483.9,396.4 L486.3,387.2 L488.6,378.3 L490.9,369.8 L493.3,361.7 L495.6,354.0 L497.9,346.7 L500.3,339.9 L502.6,333.5 L505.0,327.7 L507.3,322.5 L509.6,317.8 L512.0,313.8 L514.3,310.5 L516.6,307.8 L519.0,305.8 L521.3,304.6 L523.7,304.2 L526.0,304.5 L528.3,305.5 L530.7,307.2 L533.0,309.5 L535.3,312.6 L537.7,316.3 L540.0,320.6 L542.4,325.6 L544.7,331.2 L547.0,337.4 L549.4,344.2 L551.7,351.6 L554.0,359.5 L556.4,368.0 L556.4,368.0"/>
<path d="M482.8,460.5 L485.1,453.8 L487.4,447.5 L489.8,441.6 L492.1,436.1 L494.4,430.9 L496.8,426.3 L499.1,422.0 L501.4,418.3 L503.8,415.1 L506.1,412.4 L508.5,410.2 L510.8,408.7 L513.1,407.7 L515.5,407.4 L517.8,407.7 L520.1,408.5 L522.5,409.9 L524.8,411.9 L527.2,414.4 L529.5,417.4 L531.8,420.9 L534.2,425.0 L536.5,429.5 L538.8,434.6 L541.2,440.1 L543.5,446.1 L544.7,449.3"/>
<path d="M496.8,531.1 L499.1,524.0 L501.4,517.3 L503.8,511.0 L506.1,505.1 L508.5,499.7 L510.8,494.8 L513.1,490.4 L515.5,486.6 L517.8,483.3 L520.1,480.7 L522.5,478.7 L524.8,477.4 L527.2,476.8 L529.5,476.9 L531.8,477.6 L534.2,479.0 L536.5,481.0 L538.8,483.6 L538.8,483.6"/>
<path d="M474.6,409.7 L476.9,401.4 L479.2,393.5 L481.6,386.1 L483.9,379.1 L486.3,372.6 L488.6,366.7 L490.9,361.3 L493.3,356.6 L495.6,352.5 L497.9,349.1 L500.3,346.4 L502.6,344.4 L505.0,343.3 L507.3,342.9 L509.6,343.3 L512.0,344.4 L514.3,346.3 L516.6,348.8 L519.0,352.0 L521.3,356.0 L523.7,360.6 L526.0,365.8 L528.3,371.7 L530.7,378.2 L533.0,385.3 L535.3,393.0 L537.7,401.3 L540.0,410.1 L542.4,419.4 L544.7,429.2 L547.0,439.5 L547.0,439.5"/>
<path d="M499.1,536.4 L501.4,532.0 L503.8,528.0 L506.1,524.4 L508.5,521.4 L510.8,518.9 L513.1,516.9 L515.5,515.5 L517.8,514.7 L520.1,514.6 L522.5,515.0 L524.8,515.9 L527.2,517.4 L529.5,519.4 L530.7,520.6"/>
<path d="M486.3,481.4 L488.6,472.3 L490.9,463.6 L493.3,455.0 L495.6,446.8 L497.9,438.8 L500.3,431.2 L502.6,424.0 L505.0,417.1 L507.3,410.6 L509.6,404.6 L512.0,399.0 L514.3,394.0 L516.6,389.5 L519.0,385.5 L521.3,382.1 L523.7,379.3 L526.0,377.1 L528.3,375.6 L530.7,374.8 L533.0,374.8 L535.3,375.3 L537.7,376.5 L540.0,378.3 L542.4,380.8 L544.7,383.8 L547.0,387.4 L549.4,391.6 L551.7,396.4 L551.7,396.4"/>
<path d="M481.6,453.5 L483.9,450.1 L486.3,447.2 L488.6,444.9 L490.9,443.1 L493.3,441.9 L495.6,441.3 L497.9,441.4 L500.3,442.0 L502.6,443.2 L505.0,444.9 L507.3,447.1 L509.6,449.9 L512.0,453.2 L514.3,457.0 L516.6,461.3 L519.0,466.1 L521.3,471.4 L523.7,477.1 L526.0,483.3 L528.3,490.0 L530.7,497.0 L533.0,504.5 L534.2,508.3"/>
<path d="M473.4,395.7 L475.7,386.2 L478.1,377.2 L480.4,368.6 L482.8,360.5 L485.1,352.9 L487.4,345.8 L489.8,339.2 L492.1,333.3 L494.4,328.0 L496.8,323.4 L499.1,319.5 L501.4,316.4 L503.8,314.0 L506.1,312.5 L508.5,311.8 L510.8,312.1 L513.1,313.0 L515.5,314.8 L517.8,317.3 L520.1,320.6 L522.5,324.6 L524.8,329.4 L527.2,334.8 L529.5,341.0 L531.8,347.8 L534.2,355.3 L536.5,363.4 L538.8,372.1 L541.2,381.4 L543.5,391.2 L545.9,401.6 L548.2,412.5 L549.4,418.1"/>
<path d="M506.1,547.7 L508.5,544.2 L510.8,541.3 L513.1,538.9 L515.5,537.0 L517.8,535.7 L520.1,535.1 L522.5,535.0 L524.8,535.5 L526.0,536.0"/>
<path d="M476.9,424.7 L479.2,418.8 L481.6,413.4 L483.9,408.5 L486.3,404.1 L488.6,400.3 L490.9,397.1 L493.3,394.6 L495.6,392.7 L497.9,391.4 L500.3,390.9 L502.6,391.2 L505.0,392.0 L507.3,393.5 L509.6,395.6 L512.0,398.4 L514.3,401.7 L516.6,405.7 L519.0,410.2 L521.3,415.3 L523.7,421.0 L526.0,427.2 L528.3,434.0 L530.7,441.3 L533.0,449.0 L535.3,457.3 L537.7,465.9 L540.0,475.0 L541.2,479.7"/>
<path d="M488.6,490.2 L490.9,484.9 L493.3,480.0 L495.6,475.5 L497.9,471.5 L500.3,468.0 L502.6,465.1 L505.0,462.6 L507.3,460.8 L509.6,459.5 L512.0,458.9 L514.3,458.8 L516.6,459.4 L519.0,460.5 L521.3,462.2 L523.7,464.4 L526.0,467.1 L528.3,470.4 L530.7,474.2 L533.0,478.5 L535.3,483.3 L537.7,488.6 L538.8,491.5"/>
<path d="M479.2,437.1 L481.6,427.9 L483.9,418.9 L486.3,410.2 L488.6,401.8 L490.9,393.7 L493.3,385.9 L495.6,378.5 L497.9,371.5 L500.3,364.8 L502.6,358.7 L505.0,353.0 L507.3,347.8 L509.6,343.1 L512.0,338.9 L514.3,335.4 L516.6,332.5 L519.0,330.1 L521.3,328.5 L523.7,327.5 L526.0,327.3 L528.3,327.7 L530.7,328.7 L533.0,330.4 L535.3,332.7 L537.7,335.6 L540.0,339.1 L542.4,343.2 L544.7,347.9 L547.0,353.1 L549.4,358.9 L551.7,365.2 L554.0,372.0 L555.2,375.7 M683.8,989.7 L686.1,997.4 L688.5,1004.9 L690.8,1012.2 L693.1,1019.2 L695.5,1026.0 L697.8,1032.6 L700.1,1039.0 L702.5,1045.2 L704.8,1051.2 L707.1,1056.9 L709.5,1062.5 L711.8,1067.9 L714.2,1073.1 L716.5,1078.1 L716.5,1078.1"/>
<path d="M490.9,506.9 L493.3,503.4 L495.6,500.5 L497.9,498.2 L500.3,496.6 L502.6,495.6 L505.0,495.3 L507.3,495.6 L509.6,496.5 L512.0,498.1 L514.3,500.2 L516.6,503.0 L519.0,506.3 L521.3,510.1 L523.7,514.6 L526.0,519.6 L528.3,525.0 L529.5,528.0"/>
<path d="M479.2,443.3 L481.6,434.5 L483.9,426.0 L486.3,417.8 L488.6,410.1 L490.9,402.7 L493.3,395.9 L495.6,389.4 L497.9,383.5 L500.3,378.2 L502.6,373.4 L505.0,369.2 L507.3,365.7 L509.6,362.9 L512.0,360.7 L514.3,359.4 L516.6,358.7 L519.0,358.9 L521.3,359.7 L523.7,361.3 L526.0,363.5 L528.3,366.4 L530.7,369.9 L533.0,374.1 L535.3,378.9 L537.7,384.4 L540.0,390.5 L542.4,397.1 L544.7,404.4 L547.0,412.1 L549.4,420.4 L549.4,420.4"/>
<path d="M490.9,501.6 L493.3,493.7 L495.6,486.1 L497.9,478.7 L500.3,471.8 L502.6,465.1 L505.0,458.9 L507.3,453.1 L509.6,447.7 L512.0,442.9 L514.3,438.5 L516.6,434.6 L519.0,431.3 L521.3,428.6 L523.7,426.6 L526.0,425.1 L528.3,424.3 L530.7,424.2 L533.0,424.8 L535.3,425.9 L537.7,427.7 L540.0,430.0 L542.4,432.9 L544.7,436.4 L547.0,440.5 L547.0,440.5"/>
<path d="M249.0,1077.4 L251.3,1074.4 L253.7,1071.3 L256.0,1068.1 L258.4,1064.9 L260.7,1061.6 L263.0,1058.1 L265.4,1054.6 L267.7,1051.0 L270.0,1047.4 L272.4,1043.6 L274.7,1039.7 L277.1,1035.8 L279.4,1031.7 L281.7,1027.6 L284.1,1023.4 L286.4,1019.0 L288.7,1014.6 L291.1,1010.0 L293.4,1005.3 L295.8,1000.6 L298.1,995.7 L300.4,990.7 L302.8,985.6 L305.1,980.3 L307.4,975.0 L309.8,969.5 L312.1,963.9 L314.4,958.2 L316.8,952.4 L319.1,946.4 L321.5,940.3 L323.8,934.1 L326.1,927.7 L328.5,921.2 L330.8,914.6 L333.1,907.8 L335.5,900.9 L337.8,893.8 L340.2,886.6 L342.5,879.3 L344.8,871.8 L347.2,864.2 L349.5,856.4 L351.9,848.5 L354.2,840.4 L356.5,832.2 L358.9,823.9 L361.2,815.4 L363.5,806.7 L365.9,797.9 L368.2,789.0 L370.6,779.9 L372.9,770.7 L375.2,761.3 L377.6,751.8 L379.9,742.2 L382.2,732.4 L384.6,722.5 L386.9,712.5 L389.2,702.3 L391.6,692.0 L393.9,681.6 L396.3,671.2 L398.6,660.6 L400.9,649.9 L403.3,639.1 L405.6,628.2 L407.9,617.3 L410.3,606.3 L412.6,595.2 L415.0,584.1 L417.3,572.9 L419.6,561.7 L422.0,550.5 L424.3,539.3 L426.6,528.1 L429.0,517.0 L431.3,505.9 L433.7,494.8 L436.0,483.8 L438.3,472.9 L440.7,462.1 L443.0,451.4 L445.4,440.9 L447.7,430.5 L450.0,420.4 L452.4,410.4 L454.7,400.7 L457.0,391.2 L459.4,382.0 L461.7,373.2 L464.0,364.6 L466.4,356.5 L468.7,348.7 L471.1,341.3 L473.4,334.4 L475.7,328.0 L478.1,322.1 L480.4,316.7 L482.8,311.9 L485.1,307.6 L487.4,304.1 L489.8,301.1 L492.1,298.9 L494.4,297.4 L496.8,296.6 L499.1,296.6 L501.4,297.3 L503.8,298.7 L506.1,300.7 L508.5,303.4 L510.8,306.7 L513.1,310.7 L515.5,315.3 L517.8,320.5 L520.1,326.4 L522.5,332.8 L524.8,339.8 L527.2,347.3 L529.5,355.4 L531.8,363.9 L534.2,373.0 L536.5,382.6 L538.8,392.5 L541.2,402.9 L543.5,413.8 L545.9,424.9 L548.2,436.5 L548.2,436.5"/>
<path d="M487.4,489.7 L489.8,481.6 L492.1,473.8 L494.4,466.4 L496.8,459.4 L499.1,452.8 L501.4,446.7 L503.8,441.1 L506.1,436.0 L508.5,431.5 L510.8,427.6 L513.1,424.3 L515.5,421.6 L517.8,419.6 L520.1,418.4 L522.5,417.9 L524.8,418.1 L527.2,419.0 L529.5,420.6 L531.8,422.8 L534.2,425.7 L536.5,429.2 L538.8,433.3 L541.2,438.1 L543.5,443.4 L545.9,449.4 L545.9,449.4"/>
<path d="M489.8,497.0 L492.1,494.1 L494.4,491.7 L496.8,489.9 L499.1,488.8 L501.4,488.3 L503.8,488.4 L506.1,489.1 L508.5,490.4 L510.8,492.3 L513.1,494.7 L515.5,497.7 L517.8,501.2 L520.1,505.3 L522.5,509.8 L524.8,514.9 L527.2,520.5 L529.5,526.6 L529.5,526.6"/>
<path d="M478.1,427.9 L480.4,419.7 L482.8,411.7 L485.1,404.1 L487.4,397.0 L489.8,390.2 L492.1,384.0 L494.4,378.2 L496.8,372.9 L499.1,368.1 L501.4,364.0 L503.8,360.4 L506.1,357.5 L508.5,355.3 L510.8,353.7 L513.1,352.9 L515.5,352.8 L517.8,353.4 L520.1,354.6 L522.5,356.5 L524.8,359.1 L527.2,362.3 L529.5,366.1 L531.8,370.5 L534.2,375.5 L536.5,381.1 L538.8,387.3 L541.2,394.0 L543.5,401.3 L545.9,409.0 L548.2,417.3 L549.4,421.6"/>
<path d="M506.1,547.8 L508.5,543.7 L510.8,540.0 L513.1,536.7 L515.5,533.8 L517.8,531.4 L520.1,529.6 L522.5,528.2 L524.8,527.4 L527.2,527.1 L529.5,527.4 L529.5,527.4"/>
<path d="M478.1,426.7 L480.4,420.5 L482.8,414.8 L485.1,409.4 L487.4,404.6 L489.8,400.2 L492.1,396.3 L494.4,392.9 L496.8,390.1 L499.1,387.8 L501.4,386.2 L503.8,385.2 L506.1,384.8 L508.5,385.1 L510.8,385.9 L513.1,387.3 L515.5,389.3 L517.8,391.9 L520.1,395.0 L522.5,398.6 L524.8,402.8 L527.2,407.5 L529.5,412.7 L531.8,418.4 L534.2,424.6 L536.5,431.2 L538.8,438.3 L541.2,445.9 L543.5,453.8 L544.7,458.0"/>
<path d="M489.8,499.7 L492.1,493.0 L494.4,486.6 L496.8,480.8 L499.1,475.3 L501.4,470.4 L503.8,466.0 L506.1,462.1 L508.5,458.9 L510.8,456.2 L513.1,454.2 L515.5,452.9 L517.8,452.2 L520.1,452.3 L522.5,453.0 L524.8,454.4 L527.2,456.3 L529.5,458.9 L531.8,462.1 L534.2,465.9 L536.5,470.3 L538.8,475.2 L540.0,477.9"/>
<path d="M481.6,457.2 L483.9,446.9 L486.3,436.7 L488.6,426.8 L490.9,417.1 L493.3,407.7 L495.6,398.6 L497.9,389.9 L500.3,381.6 L502.6,373.6 L505.0,366.1 L507.3,359.1 L509.6,352.5 L512.0,346.5 L514.3,341.1 L516.6,336.2 L519.0,332.0 L521.3,328.4 L523.7,325.6 L526.0,323.4 L528.3,322.1 L530.7,321.5 L533.0,321.7 L535.3,322.6 L537.7,324.2 L540.0,326.5 L542.4,329.5 L544.7,333.2 L547.0,337.6 L549.4,342.6 L551.7,348.2 L554.0,354.5 L556.4,361.4 L558.7,368.8 L561.1,376.9 L563.4,385.4 L565.7,394.5 L568.1,404.1 L570.4,414.1 L572.7,424.6 L575.1,435.5 L577.4,446.8 L579.8,458.5 L582.1,470.5 L584.4,482.9 L586.8,495.5 L589.1,508.4 L591.4,521.5 L593.8,534.8 L596.1,548.3 L598.5,561.9 L600.8,575.7 L603.1,589.6 L605.5,603.5 L607.8,617.5 L607.8,617.5"/>
<path d="M481.6,449.3 L483.9,442.8 L486.3,436.6 L488.6,430.8 L490.9,425.5 L493.3,420.6 L495.6,416.2 L497.9,412.3 L500.3,409.0 L502.6,406.2 L505.0,404.0 L507.3,402.4 L509.6,401.5 L512.0,401.2 L514.3,401.6 L516.6,402.5 L519.0,404.0 L521.3,406.1 L523.7,408.7 L526.0,412.0 L528.3,415.7 L530.7,420.0 L533.0,424.9 L535.3,430.2 L537.7,436.1 L540.0,442.4 L542.4,449.2 L544.7,456.5 L544.7,456.5"/>
<path d="M493.3,514.1 L495.6,508.2 L497.9,502.7 L500.3,497.5 L502.6,492.7 L505.0,488.3 L507.3,484.3 L509.6,480.7 L512.0,477.7 L514.3,475.1 L516.6,473.0 L519.0,471.4 L521.3,470.4 L523.7,470.0 L526.0,470.1 L528.3,470.7 L530.7,471.9 L533.0,473.5 L535.3,475.7 L537.7,478.3 L540.0,481.5 L540.0,481.5"/>
<path d="M473.4,397.9 L475.7,389.6 L478.1,381.8 L480.4,374.6 L482.8,367.8 L485.1,361.6 L487.4,356.0 L489.8,351.1 L492.1,346.8 L494.4,343.3 L496.8,340.5 L499.1,338.5 L501.4,337.3 L503.8,337.0 L506.1,337.5 L508.5,338.8 L510.8,340.8 L513.1,343.5 L515.5,347.0 L517.8,351.2 L520.1,356.1 L522.5,361.7 L524.8,368.0 L527.2,374.9 L529.5,382.4 L531.8,390.6 L534.2,399.3 L536.5,408.6 L538.8,418.5 L541.2,428.8 L543.5,439.6 L545.9,450.9 L545.9,450.9"/>
<path d="M496.8,527.5 L499.1,523.1 L501.4,519.2 L503.8,515.7 L506.1,512.9 L508.5,510.5 L510.8,508.8 L513.1,507.7 L515.5,507.2 L517.8,507.4 L520.1,508.2 L522.5,509.5 L524.8,511.4 L527.2,513.9 L529.5,516.9 L531.8,520.5 L531.8,520.5"/>
<path d="M485.1,470.2 L487.4,461.1 L489.8,452.2 L492.1,443.6 L494.4,435.3 L496.8,427.4 L499.1,419.8 L501.4,412.6 L503.8,405.9 L506.1,399.6 L508.5,393.8 L510.8,388.6 L513.1,383.8 L515.5,379.7 L517.8,376.2 L520.1,373.3 L522.5,371.1 L524.8,369.6 L527.2,368.8 L529.5,368.8 L531.8,369.4 L534.2,370.7 L536.5,372.7 L538.8,375.3 L541.2,378.5 L543.5,382.4 L545.9,386.9 L548.2,392.0 L550.5,397.7 L551.7,400.7"/>
<path d="M483.9,465.4 L486.3,460.0 L488.6,455.1 L490.9,450.6 L493.3,446.7 L495.6,443.2 L497.9,440.4 L500.3,438.1 L502.6,436.4 L505.0,435.3 L507.3,434.8 L509.6,435.1 L512.0,435.9 L514.3,437.2 L516.6,439.2 L519.0,441.7 L521.3,444.7 L523.7,448.4 L526.0,452.5 L528.3,457.2 L530.7,462.4 L533.0,468.1 L535.3,474.2 L537.7,480.9 L538.8,484.4"/>
<path d="M475.7,411.0 L478.1,401.7 L480.4,392.7 L482.8,384.0 L485.1,375.6 L487.4,367.5 L489.8,359.9 L492.1,352.6 L494.4,345.7 L496.8,339.3 L499.1,333.3 L501.4,327.9 L503.8,323.0 L506.1,318.6 L508.5,314.9 L510.8,311.8 L513.1,309.3 L515.5,307.5 L517.8,306.4 L520.1,306.1 L522.5,306.4 L524.8,307.4 L527.2,309.1 L529.5,311.3 L531.8,314.2 L534.2,317.8 L536.5,321.9 L538.8,326.6 L541.2,332.0 L543.5,337.9 L545.9,344.3 L548.2,351.3 L550.5,358.8 L552.9,366.9 L555.2,375.4 L555.2,375.4"/>
<path d="M478.1,429.3 L480.4,424.6 L482.8,420.5 L485.1,417.0 L487.4,414.2 L489.8,411.9 L492.1,410.4 L494.4,409.6 L496.8,409.6 L499.1,410.2 L501.4,411.4 L503.8,413.4 L506.1,415.9 L508.5,419.1 L510.8,422.9 L513.1,427.3 L515.5,432.3 L517.8,437.9 L520.1,444.0 L522.5,450.7 L524.8,457.9 L527.2,465.7 L529.5,473.9 L531.8,482.5 L534.2,491.6 L536.5,501.1 L536.5,501.1"/>
<path d="M489.8,497.7 L492.1,493.5 L494.4,489.7 L496.8,486.5 L499.1,483.8 L501.4,481.7 L503.8,480.2 L506.1,479.3 L508.5,479.0 L510.8,479.4 L513.1,480.3 L515.5,481.7 L517.8,483.8 L520.1,486.4 L522.5,489.5 L524.8,493.1 L527.2,497.3 L529.5,502.0 L531.8,507.2 L534.2,512.9 L534.2,512.9"/>
<path d="M479.2,437.2 L481.6,428.4 L483.9,419.9 L486.3,411.7 L488.6,403.8 L490.9,396.3 L493.3,389.2 L495.6,382.5 L497.9,376.3 L500.3,370.5 L502.6,365.3 L505.0,360.5 L507.3,356.4 L509.6,352.8 L512.0,349.9 L514.3,347.6 L516.6,346.0 L519.0,345.1 L521.3,344.9 L523.7,345.4 L526.0,346.5 L528.3,348.3 L530.7,350.7 L533.0,353.7 L535.3,357.4 L537.7,361.6 L540.0,366.5 L542.4,371.9 L544.7,377.9 L547.0,384.4 L549.4,391.4 L551.7,399.0 L551.7,399.0"/>
<path d="M494.4,518.6 L496.8,517.5 L499.1,517.1 L501.4,517.1 L503.8,517.7 L506.1,518.8 L508.5,520.3 L510.8,522.3 L513.1,524.8 L515.5,527.8 L517.8,531.2 L520.1,535.0 L522.5,539.3 L523.7,541.6"/>
<path d="M480.4,440.3 L482.8,432.3 L485.1,424.6 L487.4,417.4 L489.8,410.7 L492.1,404.4 L494.4,398.8 L496.8,393.6 L499.1,389.1 L501.4,385.3 L503.8,382.1 L506.1,379.6 L508.5,377.9 L510.8,376.9 L513.1,376.8 L515.5,377.3 L517.8,378.6 L520.1,380.6 L522.5,383.3 L524.8,386.7 L527.2,390.8 L529.5,395.5 L531.8,400.8 L534.2,406.8 L536.5,413.4 L538.8,420.5 L541.2,428.3 L543.5,436.5 L545.9,445.3 L545.9,445.3"/>
<path d="M490.9,505.5 L493.3,498.1 L495.6,491.1 L497.9,484.4 L500.3,478.1 L502.6,472.3 L505.0,466.9 L507.3,462.0 L509.6,457.6 L512.0,453.7 L514.3,450.4 L516.6,447.7 L519.0,445.7 L521.3,444.3 L523.7,443.6 L526.0,443.5 L528.3,444.1 L530.7,445.4 L533.0,447.2 L535.3,449.7 L537.7,452.7 L540.0,456.4 L542.4,460.6 L543.5,462.9"/>
<path d="M471.1,380.2 L473.4,372.0 L475.7,364.2 L478.1,356.9 L480.4,350.0 L482.8,343.7 L485.1,337.8 L487.4,332.5 L489.8,327.8 L492.1,323.7 L494.4,320.3 L496.8,317.5 L499.1,315.5 L501.4,314.2 L503.8,313.8 L506.1,314.0 L508.5,315.0 L510.8,316.6 L513.1,318.9 L515.5,322.0 L517.8,325.6 L520.1,329.9 L522.5,334.9 L524.8,340.5 L527.2,346.7 L529.5,353.5 L531.8,360.8 L534.2,368.7 L536.5,377.2 L538.8,386.1 L541.2,395.6 L543.5,405.5 L545.9,415.8 L548.2,426.6 L548.2,426.6"/>
<path d="M503.8,545.6 L506.1,543.0 L508.5,540.9 L510.8,539.3 L513.1,538.2 L515.5,537.7 L517.8,537.7 L520.1,538.2 L522.5,539.2 L524.8,540.7 L524.8,540.7"/>
<path d="M486.3,480.5 L488.6,472.4 L490.9,464.6 L493.3,457.0 L495.6,449.8 L497.9,442.8 L500.3,436.2 L502.6,430.0 L505.0,424.2 L507.3,418.8 L509.6,413.8 L512.0,409.3 L514.3,405.3 L516.6,401.8 L519.0,398.9 L521.3,396.5 L523.7,394.7 L526.0,393.5 L528.3,393.0 L530.7,393.1 L533.0,393.8 L535.3,395.1 L537.7,396.9 L540.0,399.3 L542.4,402.3 L544.7,405.8 L547.0,409.8 L549.4,414.4 L550.5,416.8 M695.5,1027.0 L697.8,1033.4 L700.1,1039.6 L702.5,1045.7 L704.8,1051.5 L707.1,1057.2 L709.5,1062.6 L711.8,1067.9 L714.2,1073.0 L716.5,1077.9 L716.5,1077.9"/>
<path d="M485.1,470.2 L487.4,467.0 L489.8,464.5 L492.1,462.7 L494.4,461.5 L496.8,461.0 L499.1,461.2 L501.4,462.1 L503.8,463.5 L506.1,465.6 L508.5,468.3 L510.8,471.6 L513.1,475.5 L515.5,480.0 L517.8,485.1 L520.1,490.7 L522.5,496.8 L524.8,503.4 L527.2,510.5 L529.5,518.1 L530.7,522.1"/>
<path d="M474.6,404.3 L476.9,395.7 L479.2,387.4 L481.6,379.6 L483.9,372.2 L486.3,365.3 L488.6,358.9 L490.9,353.0 L493.3,347.7 L495.6,343.0 L497.9,338.9 L500.3,335.5 L502.6,332.8 L505.0,330.8 L507.3,329.6 L509.6,329.2 L512.0,329.6 L514.3,330.6 L516.6,332.4 L519.0,334.9 L521.3,338.0 L523.7,341.9 L526.0,346.4 L528.3,351.5 L530.7,357.3 L533.0,363.7 L535.3,370.7 L537.7,378.2 L540.0,386.4 L542.4,395.0 L544.7,404.2 L547.0,413.9 L549.4,424.0 L549.4,424.0"/>
<path d="M496.8,529.8 L499.1,524.5 L501.4,519.7 L503.8,515.2 L506.1,511.2 L508.5,507.6 L510.8,504.6 L513.1,502.1 L515.5,500.1 L517.8,498.7 L520.1,497.8 L522.5,497.6 L524.8,498.0 L527.2,498.9 L529.5,500.4 L531.8,502.3 L534.2,504.9 L535.3,506.3"/>
<path d="M282.9,1041.1 L285.2,1037.2 L287.6,1033.2 L289.9,1029.2 L292.2,1025.0 L294.6,1020.7 L296.9,1016.4 L299.3,1011.9 L301.6,1007.4 L303.9,1002.7 L306.3,997.9 L308.6,993.0 L310.9,988.0 L313.3,982.9 L315.6,977.7 L318.0,972.4 L320.3,966.9 L322.6,961.4 L325.0,955.7 L325.0,955.7 M474.6,401.5 L476.9,395.2 L479.2,389.3 L481.6,383.9 L483.9,379.0 L486.3,374.6 L488.6,370.7 L490.9,367.5 L493.3,364.8 L495.6,362.8 L497.9,361.4 L500.3,360.8 L502.6,360.8 L505.0,361.4 L507.3,362.7 L509.6,364.6 L512.0,367.1 L514.3,370.2 L516.6,373.9 L519.0,378.2 L521.3,383.0 L523.7,388.4 L526.0,394.3 L528.3,400.7 L530.7,407.7 L533.0,415.1 L535.3,423.0 L537.7,431.4 L540.0,440.2 L542.4,449.4 L544.7,459.0 L544.7,459.0"/>
<path d="M483.9,470.4 L486.3,464.3 L488.6,458.6 L490.9,453.2 L493.3,448.3 L495.6,443.8 L497.9,439.8 L500.3,436.2 L502.6,433.2 L505.0,430.7 L507.3,428.7 L509.6,427.3 L512.0,426.5 L514.3,426.3 L516.6,426.7 L519.0,427.7 L521.3,429.2 L523.7,431.2 L526.0,433.7 L528.3,436.8 L530.7,440.4 L533.0,444.5 L535.3,449.1 L537.7,454.1 L540.0,459.7 L542.4,465.6 L542.4,465.6"/>
<path d="M478.1,436.6 L480.4,425.7 L482.8,415.0 L485.1,404.7 L487.4,394.5 L489.8,384.8 L492.1,375.3 L494.4,366.3 L496.8,357.6 L499.1,349.4 L501.4,341.7 L503.8,334.4 L506.1,327.8 L508.5,321.7 L510.8,316.2 L513.1,311.4 L515.5,307.3 L517.8,304.0 L520.1,301.4 L522.5,299.6 L524.8,298.6 L527.2,298.5 L529.5,299.2 L531.8,300.6 L534.2,302.8 L536.5,305.8 L538.8,309.5 L541.2,313.9 L543.5,319.0 L545.9,324.8 L548.2,331.2 L550.5,338.4 L552.9,346.1 L555.2,354.5 L557.5,363.4 L559.9,372.9 L562.2,383.0 L564.6,393.5 L564.6,393.5"/>
<path d="M485.1,471.0 L487.4,463.9 L489.8,457.2 L492.1,450.8 L494.4,444.8 L496.8,439.3 L499.1,434.3 L501.4,429.7 L503.8,425.6 L506.1,422.1 L508.5,419.2 L510.8,416.8 L513.1,415.1 L515.5,414.1 L517.8,413.7 L520.1,414.0 L522.5,414.8 L524.8,416.3 L527.2,418.4 L529.5,421.0 L531.8,424.3 L534.2,428.1 L536.5,432.4 L538.8,437.3 L541.2,442.7 L543.5,448.7 L544.7,451.9"/>
<path d="M497.9,532.6 L500.3,526.4 L502.6,520.6 L505.0,515.1 L507.3,509.9 L509.6,505.2 L512.0,500.8 L514.3,496.9 L516.6,493.5 L519.0,490.5 L521.3,488.0 L523.7,486.1 L526.0,484.7 L528.3,483.8 L530.7,483.6 L533.0,483.9 L535.3,484.8 L537.7,486.2 L538.8,487.0"/>
<path d="M249.0,1074.7 L251.3,1071.8 L253.7,1068.7 L256.0,1065.6 L258.4,1062.4 L260.7,1059.1 L263.0,1055.8 L265.4,1052.3 L267.7,1048.8 L270.0,1045.2 L272.4,1041.5 L274.7,1037.8 L277.1,1033.9 L279.4,1030.0 L281.7,1025.9 L284.1,1021.8 L286.4,1017.6 L288.7,1013.3 L291.1,1008.9 L293.4,1004.4 L295.8,999.8 L298.1,995.0 L300.4,990.2 L302.8,985.3 L305.1,980.3 L307.4,975.1 L309.8,969.9 L312.1,964.5 L314.4,959.0 L316.8,953.4 L319.1,947.7 L321.5,941.9 L323.8,936.0 L326.1,929.9 L328.5,923.7 L330.8,917.4 L333.1,911.0 L335.5,904.4 L337.8,897.7 L340.2,890.9 L342.5,884.0 L344.8,876.9 L347.2,869.7 L349.5,862.4 L351.9,854.9 L354.2,847.3 L356.5,839.6 L358.9,831.8 L361.2,823.8 L363.5,815.7 L365.9,807.5 L368.2,799.2 L370.6,790.7 L372.9,782.1 L374.1,777.7 M472.2,387.0 L474.6,381.0 L476.9,375.3 L479.2,370.2 L481.6,365.6 L483.9,361.4 L486.3,357.8 L488.6,354.8 L490.9,352.3 L493.3,350.5 L495.6,349.3 L497.9,348.8 L500.3,349.0 L502.6,349.7 L505.0,351.0 L507.3,353.0 L509.6,355.5 L512.0,358.6 L514.3,362.2 L516.6,366.4 L519.0,371.2 L521.3,376.4 L523.7,382.2 L526.0,388.5 L528.3,395.3 L530.7,402.5 L533.0,410.3 L535.3,418.4 L537.7,427.0 L540.0,435.9 L542.4,445.3 L544.7,455.0 L544.7,455.0"/>
<path d="M497.9,532.1 L500.3,528.9 L502.6,526.3 L505.0,524.3 L507.3,522.9 L509.6,522.2 L512.0,522.1 L514.3,522.7 L516.6,523.8 L519.0,525.5 L521.3,527.8 L523.7,530.7 L526.0,534.1 L527.2,536.1"/>
<path d="M483.9,470.0 L486.3,461.1 L488.6,452.5 L490.9,444.2 L493.3,436.3 L495.6,428.8 L497.9,421.7 L500.3,415.1 L502.6,408.9 L505.0,403.3 L507.3,398.2 L509.6,393.7 L512.0,389.8 L514.3,386.6 L516.6,384.0 L519.0,382.2 L521.3,381.1 L523.7,380.8 L526.0,381.2 L528.3,382.3 L530.7,384.0 L533.0,386.4 L535.3,389.5 L537.7,393.3 L540.0,397.7 L542.4,402.7 L544.7,408.3 L547.0,414.5 L549.4,421.3 L549.4,421.3"/>
<path d="M483.9,468.1 L486.3,463.6 L488.6,459.6 L490.9,456.1 L493.3,453.2 L495.6,450.9 L497.9,449.2 L500.3,448.2 L502.6,447.8 L505.0,448.1 L507.3,449.0 L509.6,450.4 L512.0,452.5 L514.3,455.1 L516.6,458.4 L519.0,462.1 L521.3,466.5 L523.7,471.3 L526.0,476.7 L528.3,482.6 L530.7,489.0 L533.0,495.8 L535.3,503.1 L535.3,503.1"/>
<path d="M474.6,410.1 L476.9,401.1 L479.2,392.3 L481.6,384.0 L483.9,375.9 L486.3,368.3 L488.6,361.1 L490.9,354.3 L493.3,348.0 L495.6,342.2 L497.9,336.9 L500.3,332.2 L502.6,328.1 L505.0,324.7 L507.3,321.8 L509.6,319.7 L512.0,318.3 L514.3,317.6 L516.6,317.7 L519.0,318.5 L521.3,319.9 L523.7,322.0 L526.0,324.8 L528.3,328.2 L530.7,332.2 L533.0,336.8 L535.3,342.1 L537.7,347.9 L540.0,354.4 L542.4,361.3 L544.7,368.9 L547.0,376.9 L549.4,385.5 L551.7,394.5 L552.9,399.2"/>
<path d="M513.1,552.9 L515.5,550.1 L517.8,547.7 L520.1,545.8 L521.3,545.0"/>
<path d="M480.4,441.5 L482.8,434.6 L485.1,428.1 L487.4,422.2 L489.8,416.8 L492.1,412.0 L494.4,407.8 L496.8,404.2 L499.1,401.4 L501.4,399.2 L503.8,397.8 L506.1,397.1 L508.5,397.3 L510.8,398.1 L513.1,399.6 L515.5,401.8 L517.8,404.7 L520.1,408.3 L522.5,412.5 L524.8,417.4 L527.2,422.9 L529.5,429.0 L531.8,435.6 L534.2,442.9 L536.5,450.7 L538.8,459.0 L541.2,467.8 L542.4,472.4"/>
<path d="M492.1,506.3 L494.4,500.1 L496.8,494.4 L499.1,489.0 L501.4,484.2 L503.8,479.8 L506.1,475.9 L508.5,472.7 L510.8,469.9 L513.1,467.8 L515.5,466.4 L517.8,465.6 L520.1,465.5 L522.5,466.0 L524.8,467.1 L527.2,468.9 L529.5,471.2 L531.8,474.1 L534.2,477.6 L536.5,481.6 L538.8,486.2 L538.8,486.2"/>
<path d="M482.8,462.1 L485.1,452.1 L487.4,442.3 L489.8,432.7 L492.1,423.4 L494.4,414.4 L496.8,405.7 L499.1,397.3 L501.4,389.3 L503.8,381.7 L506.1,374.6 L508.5,367.9 L510.8,361.7 L513.1,356.0 L515.5,350.9 L517.8,346.3 L520.1,342.4 L522.5,339.1 L524.8,336.5 L527.2,334.6 L529.5,333.5 L531.8,333.1 L534.2,333.5 L536.5,334.5 L538.8,336.2 L541.2,338.6 L543.5,341.7 L545.9,345.4 L548.2,349.8 L550.5,354.7 L552.9,360.3 L555.2,366.5 L556.4,369.8 M584.4,486.0 L586.8,498.1 L589.1,510.5 L591.4,523.2 L593.8,536.1 L596.1,549.1 L598.5,562.4 L600.8,575.7 L603.1,589.2 L605.5,602.8 L607.8,616.4 L610.1,630.1 L612.5,643.8 L614.8,657.5 L617.2,671.1 L619.5,684.8 L619.5,684.8"/>
<path d="M490.9,503.9 L493.3,502.9 L495.6,502.4 L497.9,502.5 L500.3,503.2 L502.6,504.4 L505.0,506.0 L507.3,508.2 L509.6,510.9 L512.0,514.1 L514.3,517.8 L516.6,522.0 L519.0,526.6 L521.3,531.6 L523.7,537.2 L524.8,540.1"/>
<path d="M476.9,418.8 L479.2,411.8 L481.6,405.2 L483.9,399.0 L486.3,393.3 L488.6,387.9 L490.9,383.1 L493.3,378.7 L495.6,374.9 L497.9,371.7 L500.3,369.0 L502.6,367.0 L505.0,365.6 L507.3,364.8 L509.6,364.7 L512.0,365.3 L514.3,366.4 L516.6,368.1 L519.0,370.5 L521.3,373.4 L523.7,376.8 L526.0,380.9 L528.3,385.5 L530.7,390.6 L533.0,396.2 L535.3,402.4 L537.7,409.0 L540.0,416.2 L542.4,423.7 L544.7,431.8 L547.0,440.2 L547.0,440.2"/>
<path d="M488.6,491.8 L490.9,484.2 L493.3,477.0 L495.6,470.2 L497.9,463.8 L500.3,457.8 L502.6,452.4 L505.0,447.5 L507.3,443.1 L509.6,439.4 L512.0,436.2 L514.3,433.8 L516.6,432.0 L519.0,430.9 L521.3,430.6 L523.7,430.9 L526.0,432.0 L528.3,433.7 L530.7,436.0 L533.0,439.0 L535.3,442.6 L537.7,446.9 L540.0,451.7 L542.4,457.1 L543.5,460.0"/>
<path d="M469.9,363.1 L472.2,355.0 L474.6,347.3 L476.9,340.1 L479.2,333.4 L481.6,327.2 L483.9,321.7 L486.3,316.8 L488.6,312.5 L490.9,308.9 L493.3,306.1 L495.6,304.0 L497.9,302.7 L500.3,302.2 L502.6,302.6 L505.0,303.7 L507.3,305.5 L509.6,308.0 L512.0,311.2 L514.3,315.2 L516.6,319.8 L519.0,325.1 L521.3,331.1 L523.7,337.7 L526.0,344.9 L528.3,352.8 L530.7,361.2 L533.0,370.2 L535.3,379.7 L537.7,389.7 L540.0,400.2 L542.4,411.1 L544.7,422.5 L547.0,434.2 L547.0,434.2"/>
<path d="M486.3,482.0 L488.6,474.1 L490.9,466.6 L493.3,459.4 L495.6,452.5 L497.9,446.0 L500.3,439.8 L502.6,434.1 L505.0,428.8 L507.3,424.0 L509.6,419.7 L512.0,415.8 L514.3,412.6 L516.6,409.9 L519.0,407.8 L521.3,406.3 L523.7,405.5 L526.0,405.4 L528.3,405.8 L530.7,406.9 L533.0,408.6 L535.3,410.8 L537.7,413.6 L540.0,416.9 L542.4,420.9 L544.7,425.3 L547.0,430.3 L548.2,433.0"/>
<path d="M487.4,489.2 L489.8,485.6 L492.1,482.5 L494.4,479.8 L496.8,477.6 L499.1,476.0 L501.4,475.0 L503.8,474.5 L506.1,474.6 L508.5,475.2 L510.8,476.3 L513.1,477.9 L515.5,480.1 L517.8,482.7 L520.1,485.8 L522.5,489.4 L524.8,493.5 L527.2,498.0 L529.5,503.0 L531.8,508.4 L533.0,511.3"/>
<path d="M478.1,433.6 L480.4,424.2 L482.8,415.1 L485.1,406.4 L487.4,398.1 L489.8,390.2 L492.1,382.8 L494.4,375.8 L496.8,369.4 L499.1,363.5 L501.4,358.3 L503.8,353.6 L506.1,349.7 L508.5,346.4 L510.8,343.8 L513.1,342.1 L515.5,341.1 L517.8,341.0 L520.1,341.6 L522.5,343.0 L524.8,345.0 L527.2,347.8 L529.5,351.3 L531.8,355.5 L534.2,360.4 L536.5,365.9 L538.8,372.1 L541.2,378.9 L543.5,386.3 L545.9,394.3 L548.2,402.9 L550.5,412.0 L550.5,412.0"/>
<path d="M503.8,545.9 L506.1,540.5 L508.5,535.4 L510.8,530.8 L513.1,526.6 L515.5,522.9 L517.8,519.7 L520.1,517.0 L522.5,514.9 L524.8,513.3 L527.2,512.4 L529.5,512.1 L531.8,512.4 L533.0,512.7"/>
<path d="M474.6,404.6 L476.9,398.8 L479.2,393.5 L481.6,388.8 L483.9,384.6 L486.3,381.0 L488.6,378.0 L490.9,375.6 L493.3,374.0 L495.6,373.0 L497.9,372.7 L500.3,373.1 L502.6,374.2 L505.0,375.9 L507.3,378.2 L509.6,381.1 L512.0,384.6 L514.3,388.8 L516.6,393.5 L519.0,398.8 L521.3,404.7 L523.7,411.1 L526.0,418.0 L528.3,425.5 L530.7,433.4 L533.0,441.8 L535.3,450.6 L537.7,459.9 L540.0,469.5 L541.2,474.5"/>
<path d="M485.1,471.7 L487.4,466.3 L489.8,461.3 L492.1,456.7 L494.4,452.6 L496.8,449.0 L499.1,445.9 L501.4,443.4 L503.8,441.4 L506.1,440.1 L508.5,439.3 L510.8,439.2 L513.1,439.6 L515.5,440.6 L517.8,442.2 L520.1,444.3 L522.5,447.0 L524.8,450.2 L527.2,453.9 L529.5,458.2 L531.8,462.9 L534.2,468.1 L536.5,473.8 L538.8,480.0 L540.0,483.3"/>
<path d="M476.9,416.9 L479.2,407.8 L481.6,398.8 L483.9,390.2 L486.3,381.8 L488.6,373.8 L490.9,366.1 L493.3,358.8 L495.6,351.9 L497.9,345.5 L500.3,339.4 L502.6,333.9 L505.0,328.8 L507.3,324.3 L509.6,320.4 L512.0,317.0 L514.3,314.3 L516.6,312.2 L519.0,310.7 L521.3,310.0 L523.7,310.0 L526.0,310.6 L528.3,311.8 L530.7,313.7 L533.0,316.2 L535.3,319.3 L537.7,322.9 L540.0,327.2 L542.4,332.0 L544.7,337.4 L547.0,343.4 L549.4,349.9 L551.7,356.9 L554.0,364.4 L556.4,372.4 L556.4,372.4 M687.3,1001.5 L689.6,1008.8 L692.0,1015.9 L694.3,1022.8 L696.6,1029.4 L699.0,1035.9 L701.3,1042.1 L703.6,1048.1 L706.0,1054.0 L708.3,1059.6 L710.7,1065.0 L713.0,1070.3 L715.3,1075.4 L716.5,1077.8"/>
<path d="M499.1,532.8 L501.4,532.3 L503.8,532.5 L506.1,533.3 L508.5,534.6 L510.8,536.5 L513.1,539.0 L515.5,541.9 L517.8,545.4 L520.1,549.4 L520.1,549.4"/>
<path d="M481.6,449.9 L483.9,442.4 L486.3,435.1 L488.6,428.3 L490.9,422.0 L493.3,416.1 L495.6,410.7 L497.9,405.8 L500.3,401.5 L502.6,397.7 L505.0,394.6 L507.3,392.1 L509.6,390.3 L512.0,389.2 L514.3,388.9 L516.6,389.2 L519.0,390.2 L521.3,391.9 L523.7,394.2 L526.0,397.1 L528.3,400.6 L530.7,404.8 L533.0,409.5 L535.3,414.9 L537.7,420.8 L540.0,427.2 L542.4,434.2 L544.7,441.7 L545.9,445.6"/>
<path d="M493.3,512.4 L495.6,505.6 L497.9,499.2 L500.3,493.1 L502.6,487.4 L505.0,482.0 L507.3,477.2 L509.6,472.7 L512.0,468.8 L514.3,465.3 L516.6,462.4 L519.0,460.1 L521.3,458.3 L523.7,457.1 L526.0,456.6 L528.3,456.7 L530.7,457.4 L533.0,458.6 L535.3,460.5 L537.7,462.8 L540.0,465.7 L542.4,469.2 L542.4,469.2"/>
<path d="M281.7,1042.2 L284.1,1038.4 L286.4,1034.4 L288.7,1030.4 L291.1,1026.3 L293.4,1022.1 L295.8,1017.8 L298.1,1013.3 L300.4,1008.8 L302.8,1004.2 L305.1,999.5 L307.4,994.6 L309.8,989.7 L312.1,984.6 L314.4,979.4 L316.8,974.1 L319.1,968.7 L321.5,963.2 L323.8,957.6 L326.1,951.8 L328.5,945.9 L328.5,945.9 M472.2,389.3 L474.6,381.6 L476.9,374.2 L479.2,367.3 L481.6,360.8 L483.9,354.7 L486.3,349.1 L488.6,344.1 L490.9,339.5 L493.3,335.6 L495.6,332.2 L497.9,329.5 L500.3,327.4 L502.6,326.1 L505.0,325.4 L507.3,325.4 L509.6,326.1 L512.0,327.5 L514.3,329.4 L516.6,332.0 L519.0,335.2 L521.3,339.1 L523.7,343.5 L526.0,348.5 L528.3,354.0 L530.7,360.2 L533.0,366.8 L535.3,374.0 L537.7,381.7 L540.0,389.8 L542.4,398.5 L544.7,407.6 L547.0,417.1 L549.4,427.0 L549.4,427.0"/>
<path d="M494.4,519.5 L496.8,514.9 L499.1,510.6 L501.4,506.8 L503.8,503.3 L506.1,500.4 L508.5,497.8 L510.8,495.8 L513.1,494.3 L515.5,493.3 L517.8,492.9 L520.1,493.0 L522.5,493.7 L524.8,494.8 L527.2,496.4 L529.5,498.5 L531.8,501.0 L534.2,504.0 L535.3,505.7"/>
<path d="M485.1,480.0 L487.4,469.8 L489.8,459.7 L492.1,449.9 L494.4,440.5 L496.8,431.3 L499.1,422.5 L501.4,414.2 L503.8,406.2 L506.1,398.7 L508.5,391.7 L510.8,385.2 L513.1,379.3 L515.5,374.0 L517.8,369.3 L520.1,365.3 L522.5,362.0 L524.8,359.5 L527.2,357.8 L529.5,356.9 L531.8,356.8 L534.2,357.5 L536.5,358.9 L538.8,361.1 L541.2,364.0 L543.5,367.6 L545.9,371.9 L548.2,376.9 L550.5,382.6 L552.9,388.9 L552.9,388.9"/>
<path d="M480.4,443.8 L482.8,438.9 L485.1,434.6 L487.4,430.9 L489.8,427.8 L492.1,425.3 L494.4,423.5 L496.8,422.4 L499.1,422.1 L501.4,422.4 L503.8,423.5 L506.1,425.1 L508.5,427.4 L510.8,430.4 L513.1,433.9 L515.5,438.1 L517.8,442.9 L520.1,448.2 L522.5,454.2 L524.8,460.6 L527.2,467.6 L529.5,475.2 L531.8,483.2 L534.2,491.6 L536.5,500.5 L536.5,500.5"/>
<path d="M472.2,388.5 L474.6,379.0 L476.9,369.9 L479.2,361.1 L481.6,352.7 L483.9,344.7 L486.3,337.2 L488.6,330.2 L490.9,323.8 L493.3,317.8 L495.6,312.5 L497.9,307.8 L500.3,303.8 L502.6,300.4 L505.0,297.8 L507.3,295.9 L509.6,294.9 L512.0,294.6 L514.3,295.2 L516.6,296.4 L519.0,298.4 L521.3,301.1 L523.7,304.4 L526.0,308.5 L528.3,313.3 L530.7,318.7 L533.0,324.7 L535.3,331.4 L537.7,338.7 L540.0,346.6 L542.4,355.1 L544.7,364.1 L547.0,373.6 L549.4,383.6 L551.7,394.1 L552.9,399.6"/>
<path d="M480.4,446.7 L482.8,441.6 L485.1,437.0 L487.4,432.8 L489.8,429.1 L492.1,425.9 L494.4,423.3 L496.8,421.3 L499.1,419.9 L501.4,419.1 L503.8,418.9 L506.1,419.4 L508.5,420.4 L510.8,422.0 L513.1,424.1 L515.5,426.8 L517.8,430.0 L520.1,433.8 L522.5,438.1 L524.8,442.9 L527.2,448.1 L529.5,453.9 L531.8,460.2 L534.2,466.9 L536.5,474.0 L538.8,481.6 L540.0,485.5"/>
<path d="M494.4,515.7 L496.8,510.5 L499.1,505.9 L501.4,501.7 L503.8,498.1 L506.1,495.1 L508.5,492.7 L510.8,490.9 L513.1,489.8 L515.5,489.4 L517.8,489.7 L520.1,490.6 L522.5,492.1 L524.8,494.2 L527.2,496.9 L529.5,500.3 L531.8,504.2 L534.2,508.6 L534.2,508.6"/>
</g>
<path d="M249.0,1094.0 L251.3,1091.3 L253.7,1088.6 L256.0,1085.7 L258.4,1082.9 L260.7,1079.9 L263.0,1076.8 L265.4,1073.7 L267.7,1070.5 L270.0,1067.2 L272.4,1063.8 L274.7,1060.4 L277.1,1056.8 L279.4,1053.2 L281.7,1049.4 L284.1,1045.6 L286.4,1041.7 L288.7,1037.6 L291.1,1033.5 L293.4,1029.3 L295.8,1024.9 L298.1,1020.5 L300.4,1015.9 L302.8,1011.2 L305.1,1006.4 L307.4,1001.5 L309.8,996.5 L312.1,991.3 L314.4,986.0 L316.8,980.6 L319.1,975.1 L321.5,969.4 L323.8,963.6 L326.1,957.6 L328.5,951.5 L330.8,945.3 L333.1,938.9 L335.5,932.4 L337.8,925.7 L340.2,918.9 L342.5,911.9 L344.8,904.8 L347.2,897.5 L349.5,890.0 L351.9,882.4 L354.2,874.6 L356.5,866.6 L358.9,858.5 L361.2,850.2 L363.5,841.7 L365.9,833.1 L368.2,824.2 L370.6,815.2 L372.9,806.1 L375.2,796.7 L377.6,787.2 L379.9,777.5 L382.2,767.6 L384.6,757.5 L386.9,747.3 L389.2,736.8 L391.6,726.2 L393.9,715.4 L396.3,704.5 L398.6,693.3 L400.9,682.0 L403.3,670.6 L405.6,658.9 L407.9,647.1 L410.3,635.2 L412.6,623.1 L415.0,610.8 L417.3,598.4 L419.6,585.9 L422.0,573.2 L424.3,560.4 L426.6,547.5 L429.0,534.5 L431.3,521.4 L433.7,508.2 L436.0,495.0 L438.3,481.7 L440.7,468.3 L443.0,454.9 L445.4,441.5 L447.7,428.1 L450.0,414.6 L452.4,401.3 L454.7,387.9 L457.0,374.7 L459.4,361.5 L461.7,348.4 L464.0,335.5 L466.4,322.7 L468.7,310.2 L471.1,297.8 L473.4,285.6 L475.7,273.8 L478.1,262.2 L480.4,250.9 L482.8,240.1 L485.1,229.5 L487.4,219.5 L489.8,209.9 L492.1,200.7 L494.4,192.1 L496.8,184.1 L499.1,176.7 L501.4,169.9 L503.8,163.8 L506.1,158.4 L508.5,153.8 L510.8,149.9 L513.1,146.9 L515.5,144.8 L517.8,143.6 L520.1,143.3 L522.5,143.9 L524.8,145.3 L527.2,147.5 L529.5,150.5 L531.8,154.4 L534.2,159.0 L536.5,164.4 L538.8,170.6 L541.2,177.5 L543.5,185.1 L545.9,193.5 L548.2,202.5 L550.5,212.1 L552.9,222.4 L555.2,233.3 L557.5,244.8 L559.9,256.8 L562.2,269.3 L564.6,282.3 L566.9,295.8 L569.2,309.7 L571.6,324.0 L573.9,338.6 L576.2,353.6 L578.6,368.9 L580.9,384.5 L583.3,400.3 L585.6,416.3 L587.9,432.5 L590.3,448.8 L592.6,465.3 L595.0,481.8 L597.3,498.5 L599.6,515.1 L602.0,531.8 L604.3,548.4 L606.6,565.0 L609.0,581.6 L611.3,598.1 L613.6,614.4 L616.0,630.7 L618.3,646.8 L620.7,662.7 L623.0,678.5 L625.3,694.0 L627.7,709.4 L630.0,724.5 L632.3,739.4 L634.7,754.1 L637.0,768.5 L639.4,782.6 L641.7,796.4 L644.0,810.0 L646.4,823.3 L648.7,836.3 L651.0,849.0 L653.4,861.4 L655.7,873.5 L658.1,885.3 L660.4,896.8 L662.7,907.9 L665.1,918.8 L667.4,929.4 L669.8,939.6 L672.1,949.6 L674.4,959.2 L676.8,968.6 L679.1,977.6 L681.4,986.4 L683.8,994.9 L686.1,1003.1 L688.5,1011.0 L690.8,1018.6 L693.1,1026.0 L695.5,1033.1 L697.8,1040.0 L700.1,1046.6 L702.5,1052.9 L704.8,1059.1 L707.1,1065.0 L709.5,1070.6 L711.8,1076.1 L714.2,1081.3 L716.5,1086.3" fill="none" stroke="#f8393f" stroke-width="2.4"/>
<path d="M249.0,1117.8 L251.3,1115.7 L253.7,1113.5 L256.0,1111.3 L258.4,1109.1 L260.7,1106.8 L263.0,1104.4 L265.4,1101.9 L267.7,1099.4 L270.0,1096.8 L272.4,1094.2 L274.7,1091.5 L277.1,1088.7 L279.4,1085.8 L281.7,1082.8 L284.1,1079.8 L286.4,1076.7 L288.7,1073.5 L291.1,1070.3 L293.4,1066.9 L295.8,1063.5 L298.1,1059.9 L300.4,1056.3 L302.8,1052.6 L305.1,1048.8 L307.4,1044.8 L309.8,1040.8 L312.1,1036.7 L314.4,1032.5 L316.8,1028.1 L319.1,1023.7 L321.5,1019.1 L323.8,1014.5 L326.1,1009.7 L328.5,1004.8 L330.8,999.7 L333.1,994.6 L335.5,989.3 L337.8,983.9 L340.2,978.3 L342.5,972.6 L344.8,966.8 L347.2,960.9 L349.5,954.8 L351.9,948.5 L354.2,942.1 L356.5,935.6 L358.9,928.9 L361.2,922.1 L363.5,915.1 L365.9,907.9 L368.2,900.6 L370.6,893.2 L372.9,885.5 L375.2,877.7 L377.6,869.8 L379.9,861.6 L382.2,853.3 L384.6,844.9 L386.9,836.2 L389.2,827.4 L391.6,818.4 L393.9,809.3 L396.3,799.9 L398.6,790.4 L400.9,780.7 L403.3,770.9 L405.6,760.9 L407.9,750.7 L410.3,740.3 L412.6,729.8 L415.0,719.1 L417.3,708.2 L419.6,697.2 L422.0,686.0 L424.3,674.7 L426.6,663.2 L429.0,651.6 L431.3,639.8 L433.7,627.9 L436.0,615.9 L438.3,603.8 L440.7,591.6 L443.0,579.3 L445.4,566.8 L447.7,554.3 L450.0,541.8 L452.4,529.1 L454.7,516.5 L457.0,503.8 L459.4,491.1 L461.7,478.4 L464.0,465.7 L466.4,453.0 L468.7,440.4 L471.1,427.9 L473.4,415.5 L475.7,403.2 L478.1,391.0 L480.4,379.0 L482.8,367.2 L485.1,355.6 L487.4,344.3 L489.8,333.2 L492.1,322.5 L494.4,312.0 L496.8,302.0 L499.1,292.3 L501.4,283.1 L503.8,274.3 L506.1,266.1 L508.5,258.3 L510.8,251.2 L513.1,244.7 L515.5,238.8 L517.8,233.6 L520.1,229.1 L522.5,225.4 L524.8,222.5 L527.2,220.5 L529.5,219.3 L531.8,219.0 L534.2,219.6 L536.5,220.9 L538.8,223.1 L541.2,226.0 L543.5,229.7 L545.9,234.2 L548.2,239.4 L550.5,245.4 L552.9,252.1 L555.2,259.4 L557.5,267.4 L559.9,276.1 L562.2,285.4 L564.6,295.3 L566.9,305.8 L569.2,316.8 L571.6,328.4 L573.9,340.4 L576.2,352.9 L578.6,365.8 L580.9,379.1 L583.3,392.8 L585.6,406.8 L587.9,421.2 L590.3,435.8 L592.6,450.6 L595.0,465.7 L597.3,481.0 L599.6,496.4 L602.0,511.9 L604.3,527.6 L606.6,543.3 L609.0,559.0 L611.3,574.8 L613.6,590.6 L616.0,606.3 L618.3,622.0 L620.7,637.6 L623.0,653.1 L625.3,668.5 L627.7,683.8 L630.0,698.9 L632.3,713.9 L634.7,728.6 L637.0,743.2 L639.4,757.5 L641.7,771.6 L644.0,785.5 L646.4,799.1 L648.7,812.5 L651.0,825.6 L653.4,838.5 L655.7,851.0 L658.1,863.3 L660.4,875.3 L662.7,887.0 L665.1,898.4 L667.4,909.5 L669.8,920.3 L672.1,930.8 L674.4,941.1 L676.8,951.0 L679.1,960.6 L681.4,969.9 L683.8,979.0 L686.1,987.7 L688.5,996.2 L690.8,1004.4 L693.1,1012.3 L695.5,1020.0 L697.8,1027.4 L700.1,1034.5 L702.5,1041.3 L704.8,1048.0 L707.1,1054.3 L709.5,1060.5 L711.8,1066.3 L714.2,1072.0 L716.5,1077.5" fill="none" stroke="#f8393f" stroke-width="2.4"/>
<path d="M249.0,1115.9 L251.3,1113.7 L253.7,1111.5 L256.0,1109.3 L258.4,1107.0 L260.7,1104.6 L263.0,1102.2 L265.4,1099.6 L267.7,1097.1 L270.0,1094.4 L272.4,1091.7 L274.7,1088.9 L277.1,1086.1 L279.4,1083.1 L281.7,1080.1 L284.1,1077.0 L286.4,1073.9 L288.7,1070.6 L291.1,1067.3 L293.4,1063.8 L295.8,1060.3 L298.1,1056.7 L300.4,1053.0 L302.8,1049.2 L305.1,1045.3 L307.4,1041.3 L309.8,1037.2 L312.1,1033.0 L314.4,1028.7 L316.8,1024.2 L319.1,1019.7 L321.5,1015.0 L323.8,1010.3 L326.1,1005.4 L328.5,1000.4 L330.8,995.3 L333.1,990.0 L335.5,984.6 L337.8,979.1 L340.2,973.5 L342.5,967.7 L344.8,961.8 L347.2,955.7 L349.5,949.5 L351.9,943.2 L354.2,936.7 L356.5,930.0 L358.9,923.3 L361.2,916.3 L363.5,909.2 L365.9,902.0 L368.2,894.6 L370.6,887.0 L372.9,879.3 L375.2,871.4 L377.6,863.3 L379.9,855.1 L382.2,846.7 L384.6,838.1 L386.9,829.4 L389.2,820.5 L391.6,811.5 L393.9,802.2 L396.3,792.8 L398.6,783.3 L400.9,773.5 L403.3,763.6 L405.6,753.6 L407.9,743.4 L410.3,733.0 L412.6,722.4 L415.0,711.7 L417.3,700.9 L419.6,689.9 L422.0,678.8 L424.3,667.5 L426.6,656.1 L429.0,644.5 L431.3,632.9 L433.7,621.1 L436.0,609.2 L438.3,597.3 L440.7,585.2 L443.0,573.1 L445.4,560.9 L447.7,548.6 L450.0,536.3 L452.4,524.0 L454.7,511.7 L457.0,499.3 L459.4,487.0 L461.7,474.7 L464.0,462.5 L466.4,450.4 L468.7,438.3 L471.1,426.4 L473.4,414.6 L475.7,402.9 L478.1,391.4 L480.4,380.2 L482.8,369.2 L485.1,358.4 L487.4,348.0 L489.8,337.9 L492.1,328.1 L494.4,318.7 L496.8,309.8 L499.1,301.3 L501.4,293.3 L503.8,285.8 L506.1,278.8 L508.5,272.5 L510.8,266.8 L513.1,261.8 L515.5,257.4 L517.8,253.8 L520.1,251.0 L522.5,249.0 L524.8,247.9 L527.2,247.6 L529.5,248.1 L531.8,249.5 L534.2,251.5 L536.5,254.4 L538.8,258.0 L541.2,262.4 L543.5,267.4 L545.9,273.2 L548.2,279.7 L550.5,286.8 L552.9,294.6 L555.2,303.0 L557.5,312.0 L559.9,321.7 L562.2,331.8 L564.6,342.5 L566.9,353.7 L569.2,365.4 L571.6,377.5 L573.9,390.1 L576.2,403.0 L578.6,416.3 L580.9,429.9 L583.3,443.8 L585.6,458.0 L587.9,472.4 L590.3,487.0 L592.6,501.9 L595.0,516.8 L597.3,531.9 L599.6,547.1 L602.0,562.3 L604.3,577.6 L606.6,592.9 L609.0,608.3 L611.3,623.5 L613.6,638.8 L616.0,653.9 L618.3,669.0 L620.7,683.9 L623.0,698.7 L625.3,713.4 L627.7,727.9 L630.0,742.2 L632.3,756.4 L634.7,770.3 L637.0,784.0 L639.4,797.5 L641.7,810.7 L644.0,823.7 L646.4,836.4 L648.7,848.9 L651.0,861.1 L653.4,873.0 L655.7,884.6 L658.1,896.0 L660.4,907.0 L662.7,917.8 L665.1,928.3 L667.4,938.5 L669.8,948.4 L672.1,958.1 L674.4,967.4 L676.8,976.5 L679.1,985.3 L681.4,993.8 L683.8,1002.0 L686.1,1010.0 L688.5,1017.6 L690.8,1025.1 L693.1,1032.2 L695.5,1039.1 L697.8,1045.8 L700.1,1052.2 L702.5,1058.4 L704.8,1064.3 L707.1,1070.1 L709.5,1075.6 L711.8,1080.9 L714.2,1085.9 L716.5,1090.8" fill="none" stroke="#f8393f" stroke-width="2.4"/>
<path d="M249.0,1090.0 L251.3,1087.2 L253.7,1084.3 L256.0,1081.3 L258.4,1078.2 L260.7,1075.1 L263.0,1071.9 L265.4,1068.5 L267.7,1065.1 L270.0,1061.7 L272.4,1058.1 L274.7,1054.4 L277.1,1050.6 L279.4,1046.8 L281.7,1042.8 L284.1,1038.8 L286.4,1034.6 L288.7,1030.3 L291.1,1025.9 L293.4,1021.5 L295.8,1016.9 L298.1,1012.1 L300.4,1007.3 L302.8,1002.3 L305.1,997.3 L307.4,992.1 L309.8,986.7 L312.1,981.3 L314.4,975.7 L316.8,970.0 L319.1,964.1 L321.5,958.1 L323.8,952.0 L326.1,945.7 L328.5,939.3 L330.8,932.7 L333.1,926.0 L335.5,919.1 L337.8,912.1 L340.2,904.9 L342.5,897.6 L344.8,890.1 L347.2,882.4 L349.5,874.6 L351.9,866.6 L354.2,858.5 L356.5,850.2 L358.9,841.7 L361.2,833.0 L363.5,824.2 L365.9,815.3 L368.2,806.1 L370.6,796.8 L372.9,787.3 L375.2,777.7 L377.6,767.9 L379.9,757.9 L382.2,747.8 L384.6,737.5 L386.9,727.0 L389.2,716.4 L391.6,705.7 L393.9,694.8 L396.3,683.8 L398.6,672.6 L400.9,661.3 L403.3,649.8 L405.6,638.3 L407.9,626.6 L410.3,614.8 L412.6,603.0 L415.0,591.0 L417.3,579.0 L419.6,566.9 L422.0,554.7 L424.3,542.5 L426.6,530.3 L429.0,518.0 L431.3,505.8 L433.7,493.6 L436.0,481.4 L438.3,469.2 L440.7,457.2 L443.0,445.2 L445.4,433.3 L447.7,421.6 L450.0,410.0 L452.4,398.6 L454.7,387.4 L457.0,376.5 L459.4,365.8 L461.7,355.4 L464.0,345.3 L466.4,335.6 L468.7,326.3 L471.1,317.3 L473.4,308.8 L475.7,300.8 L478.1,293.3 L480.4,286.4 L482.8,280.1 L485.1,274.3 L487.4,269.3 L489.8,264.9 L492.1,261.2 L494.4,258.4 L496.8,256.3 L499.1,255.1 L501.4,254.7 L503.8,255.2 L506.1,256.4 L508.5,258.4 L510.8,261.2 L513.1,264.7 L515.5,268.9 L517.8,273.9 L520.1,279.5 L522.5,285.9 L524.8,292.9 L527.2,300.6 L529.5,308.9 L531.8,317.8 L534.2,327.3 L536.5,337.3 L538.8,347.9 L541.2,358.9 L543.5,370.5 L545.9,382.5 L548.2,394.9 L550.5,407.7 L552.9,420.8 L555.2,434.3 L557.5,448.1 L559.9,462.1 L562.2,476.4 L564.6,490.9 L566.9,505.6 L569.2,520.4 L571.6,535.4 L573.9,550.5 L576.2,565.6 L578.6,580.8 L580.9,596.0 L583.3,611.2 L585.6,626.3 L587.9,641.4 L590.3,656.5 L592.6,671.5 L595.0,686.3 L597.3,701.0 L599.6,715.6 L602.0,730.0 L604.3,744.2 L606.6,758.3 L609.0,772.1 L611.3,785.7 L613.6,799.1 L616.0,812.3 L618.3,825.2 L620.7,837.8 L623.0,850.2 L625.3,862.4 L627.7,874.2 L630.0,885.8 L632.3,897.1 L634.7,908.1 L637.0,918.8 L639.4,929.3 L641.7,939.5 L644.0,949.3 L646.4,958.9 L648.7,968.2 L651.0,977.2 L653.4,986.0 L655.7,994.4 L658.1,1002.6 L660.4,1010.6 L662.7,1018.2 L665.1,1025.6 L667.4,1032.7 L669.8,1039.6 L672.1,1046.3 L674.4,1052.7 L676.8,1058.8 L679.1,1064.7 L681.4,1070.4 L683.8,1075.9 L686.1,1081.2 L688.5,1086.2 L690.8,1091.1 L693.1,1095.8 L695.5,1100.2 L697.8,1104.5 L700.1,1108.6 L702.5,1112.5 L704.8,1116.3 L707.1,1119.9 L709.5,1123.4 L711.8,1126.7 L714.2,1129.8 L716.5,1132.8" fill="none" stroke="#f8393f" stroke-width="2.4"/>
<path d="M249.0,1114.4 L251.3,1112.2 L253.7,1110.0 L256.0,1107.7 L258.4,1105.3 L260.7,1102.9 L263.0,1100.4 L265.4,1097.9 L267.7,1095.3 L270.0,1092.6 L272.4,1089.8 L274.7,1087.0 L277.1,1084.1 L279.4,1081.1 L281.7,1078.0 L284.1,1074.9 L286.4,1071.7 L288.7,1068.4 L291.1,1065.0 L293.4,1061.5 L295.8,1057.9 L298.1,1054.2 L300.4,1050.5 L302.8,1046.6 L305.1,1042.6 L307.4,1038.6 L309.8,1034.4 L312.1,1030.1 L314.4,1025.8 L316.8,1021.3 L319.1,1016.7 L321.5,1012.0 L323.8,1007.1 L326.1,1002.2 L328.5,997.1 L330.8,991.9 L333.1,986.6 L335.5,981.2 L337.8,975.6 L340.2,969.9 L342.5,964.0 L344.8,958.0 L347.2,951.9 L349.5,945.7 L351.9,939.3 L354.2,932.7 L356.5,926.0 L358.9,919.2 L361.2,912.2 L363.5,905.0 L365.9,897.7 L368.2,890.3 L370.6,882.6 L372.9,874.9 L375.2,866.9 L377.6,858.8 L379.9,850.6 L382.2,842.2 L384.6,833.6 L386.9,824.8 L389.2,815.9 L391.6,806.9 L393.9,797.6 L396.3,788.3 L398.6,778.7 L400.9,769.0 L403.3,759.1 L405.6,749.1 L407.9,738.9 L410.3,728.6 L412.6,718.1 L415.0,707.5 L417.3,696.8 L419.6,685.9 L422.0,674.9 L424.3,663.8 L426.6,652.5 L429.0,641.2 L431.3,629.7 L433.7,618.2 L436.0,606.5 L438.3,594.8 L440.7,583.0 L443.0,571.2 L445.4,559.3 L447.7,547.5 L450.0,535.6 L452.4,523.7 L454.7,511.8 L457.0,499.9 L459.4,488.1 L461.7,476.4 L464.0,464.8 L466.4,453.2 L468.7,441.8 L471.1,430.6 L473.4,419.6 L475.7,408.7 L478.1,398.1 L480.4,387.7 L482.8,377.6 L485.1,367.9 L487.4,358.4 L489.8,349.4 L492.1,340.7 L494.4,332.5 L496.8,324.8 L499.1,317.6 L501.4,310.9 L503.8,304.8 L506.1,299.3 L508.5,294.4 L510.8,290.2 L513.1,286.8 L515.5,284.0 L517.8,282.1 L520.1,281.0 L522.5,280.7 L524.8,281.3 L527.2,282.5 L529.5,284.6 L531.8,287.3 L534.2,290.8 L536.5,295.0 L538.8,299.9 L541.2,305.5 L543.5,311.7 L545.9,318.6 L548.2,326.1 L550.5,334.2 L552.9,342.9 L555.2,352.2 L557.5,362.0 L559.9,372.4 L562.2,383.2 L564.6,394.4 L566.9,406.1 L569.2,418.2 L571.6,430.7 L573.9,443.5 L576.2,456.7 L578.6,470.1 L580.9,483.8 L583.3,497.7 L585.6,511.8 L587.9,526.1 L590.3,540.5 L592.6,555.1 L595.0,569.7 L597.3,584.5 L599.6,599.2 L602.0,614.0 L604.3,628.8 L606.6,643.5 L609.0,658.2 L611.3,672.8 L613.6,687.4 L616.0,701.8 L618.3,716.1 L620.7,730.2 L623.0,744.2 L625.3,758.0 L627.7,771.7 L630.0,785.1 L632.3,798.3 L634.7,811.3 L637.0,824.1 L639.4,836.6 L641.7,848.9 L644.0,860.9 L646.4,872.7 L648.7,884.2 L651.0,895.4 L653.4,906.4 L655.7,917.1 L658.1,927.5 L660.4,937.6 L662.7,947.5 L665.1,957.0 L667.4,966.3 L669.8,975.3 L672.1,984.1 L674.4,992.6 L676.8,1000.8 L679.1,1008.7 L681.4,1016.4 L683.8,1023.8 L686.1,1030.9 L688.5,1037.9 L690.8,1044.5 L693.1,1051.0 L695.5,1057.2 L697.8,1063.1 L700.1,1068.9 L702.5,1074.4 L704.8,1079.7 L707.1,1084.8 L709.5,1089.7 L711.8,1094.4 L714.2,1098.9 L716.5,1103.2" fill="none" stroke="#f8393f" stroke-width="2.4"/>
<path d="M249.0,1114.9 L251.3,1112.8 L253.7,1110.7 L256.0,1108.5 L258.4,1106.2 L260.7,1103.8 L263.0,1101.5 L265.4,1099.0 L267.7,1096.5 L270.0,1093.9 L272.4,1091.2 L274.7,1088.5 L277.1,1085.7 L279.4,1082.9 L281.7,1079.9 L284.1,1076.9 L286.4,1073.8 L288.7,1070.7 L291.1,1067.5 L293.4,1064.1 L295.8,1060.7 L298.1,1057.2 L300.4,1053.7 L302.8,1050.0 L305.1,1046.3 L307.4,1042.4 L309.8,1038.5 L312.1,1034.5 L314.4,1030.3 L316.8,1026.1 L319.1,1021.8 L321.5,1017.4 L323.8,1012.8 L326.1,1008.2 L328.5,1003.4 L330.8,998.6 L333.1,993.6 L335.5,988.6 L337.8,983.4 L340.2,978.1 L342.5,972.7 L344.8,967.1 L347.2,961.5 L349.5,955.7 L351.9,949.8 L354.2,943.8 L356.5,937.6 L358.9,931.3 L361.2,924.9 L363.5,918.4 L365.9,911.8 L368.2,905.0 L370.6,898.1 L372.9,891.0 L375.2,883.9 L377.6,876.6 L379.9,869.1 L382.2,861.6 L384.6,853.9 L386.9,846.1 L389.2,838.1 L391.6,830.1 L393.9,821.9 L396.3,813.6 L398.6,805.2 L400.9,796.7 L403.3,788.0 L405.6,779.3 L407.9,770.4 L410.3,761.5 L412.6,752.4 L415.0,743.3 L417.3,734.0 L419.6,724.7 L422.0,715.4 L424.3,705.9 L426.6,696.4 L429.0,686.9 L431.3,677.3 L433.7,667.7 L436.0,658.1 L438.3,648.4 L440.7,638.8 L443.0,629.2 L445.4,619.6 L447.7,610.0 L450.0,600.5 L452.4,591.1 L454.7,581.8 L457.0,572.5 L459.4,563.4 L461.7,554.5 L464.0,545.7 L466.4,537.0 L468.7,528.6 L471.1,520.4 L473.4,512.5 L475.7,504.8 L478.1,497.4 L480.4,490.3 L482.8,483.6 L485.1,477.2 L487.4,471.2 L489.8,465.7 L492.1,460.6 L494.4,455.9 L496.8,451.8 L499.1,448.2 L501.4,445.2 L503.8,442.7 L506.1,440.9 L508.5,439.6 L510.8,439.1 L513.1,439.2 L515.5,439.9 L517.8,441.2 L520.1,443.1 L522.5,445.6 L524.8,448.6 L527.2,452.3 L529.5,456.4 L531.8,461.1 L534.2,466.3 L536.5,472.1 L538.8,478.3 L541.2,485.0 L543.5,492.2 L545.9,499.8 L548.2,507.8 L550.5,516.2 L552.9,525.1 L555.2,534.2 L557.5,543.7 L559.9,553.6 L562.2,563.7 L564.6,574.1 L566.9,584.7 L569.2,595.6 L571.6,606.7 L573.9,618.0 L576.2,629.4 L578.6,641.0 L580.9,652.6 L583.3,664.4 L585.6,676.3 L587.9,688.2 L590.3,700.1 L592.6,712.1 L595.0,724.1 L597.3,736.0 L599.6,747.9 L602.0,759.8 L604.3,771.6 L606.6,783.3 L609.0,794.9 L611.3,806.4 L613.6,817.8 L616.0,829.1 L618.3,840.2 L620.7,851.1 L623.0,861.9 L625.3,872.5 L627.7,882.9 L630.0,893.2 L632.3,903.2 L634.7,913.1 L637.0,922.7 L639.4,932.2 L641.7,941.4 L644.0,950.4 L646.4,959.2 L648.7,967.8 L651.0,976.1 L653.4,984.3 L655.7,992.2 L658.1,999.9 L660.4,1007.4 L662.7,1014.6 L665.1,1021.7 L667.4,1028.5 L669.8,1035.1 L672.1,1041.5 L674.4,1047.7 L676.8,1053.7 L679.1,1059.5 L681.4,1065.0 L683.8,1070.4 L686.1,1075.6 L688.5,1080.7 L690.8,1085.5 L693.1,1090.2 L695.5,1094.6 L697.8,1098.9 L700.1,1103.1 L702.5,1107.1 L704.8,1110.9 L707.1,1114.6 L709.5,1118.1 L711.8,1121.5 L714.2,1124.8 L716.5,1127.9" fill="none" stroke="#000" stroke-width="6.5" stroke-linejoin="round"/>
</g>
<line x1="228.0" y1="49.8" x2="718.5" y2="49.8" stroke="#4a4a4a" stroke-width="5"/>
<line x1="249.0" y1="47.8" x2="249.0" y2="1214.0" stroke="#4a4a4a" stroke-width="5"/>
<line x1="716.5" y1="47.8" x2="716.5" y2="1214.0" stroke="#111" stroke-width="4"/>
<line x1="228.0" y1="1193.0" x2="718.5" y2="1193.0" stroke="#111" stroke-width="4"/>
<line x1="238.0" y1="1050.1" x2="249.0" y2="1050.1" stroke="#4a4a4a" stroke-width="4"/>
<line x1="228.0" y1="907.2" x2="249.0" y2="907.2" stroke="#4a4a4a" stroke-width="4.5"/>
<line x1="238.0" y1="764.3" x2="249.0" y2="764.3" stroke="#4a4a4a" stroke-width="4"/>
<line x1="228.0" y1="621.4" x2="249.0" y2="621.4" stroke="#4a4a4a" stroke-width="4.5"/>
<line x1="238.0" y1="478.5" x2="249.0" y2="478.5" stroke="#4a4a4a" stroke-width="4"/>
<line x1="228.0" y1="335.6" x2="249.0" y2="335.6" stroke="#4a4a4a" stroke-width="4.5"/>
<line x1="238.0" y1="192.7" x2="249.0" y2="192.7" stroke="#4a4a4a" stroke-width="4"/>
<line x1="228.0" y1="49.8" x2="249.0" y2="49.8" stroke="#4a4a4a" stroke-width="4.5"/>
<line x1="249.0" y1="1193.0" x2="249.0" y2="1214.0" stroke="#4a4a4a" stroke-width="4.5"/>
<line x1="307.4" y1="1193.0" x2="307.4" y2="1204.0" stroke="#111" stroke-width="4"/>
<line x1="365.9" y1="1193.0" x2="365.9" y2="1214.0" stroke="#4a4a4a" stroke-width="4.5"/>
<line x1="424.3" y1="1193.0" x2="424.3" y2="1204.0" stroke="#111" stroke-width="4"/>
<line x1="482.8" y1="1193.0" x2="482.8" y2="1214.0" stroke="#4a4a4a" stroke-width="4.5"/>
<line x1="541.2" y1="1193.0" x2="541.2" y2="1204.0" stroke="#111" stroke-width="4"/>
<line x1="599.6" y1="1193.0" x2="599.6" y2="1214.0" stroke="#4a4a4a" stroke-width="4.5"/>
<line x1="658.1" y1="1193.0" x2="658.1" y2="1204.0" stroke="#111" stroke-width="4"/>
<line x1="716.5" y1="1193.0" x2="716.5" y2="1214.0" stroke="#111" stroke-width="4.5"/>
<text transform="translate(212.0,1207.3) scale(0.94,1)" font-size="51" text-anchor="end" fill="#111">0</text>
<text transform="translate(212.0,921.5) scale(0.94,1)" font-size="51" text-anchor="end" fill="#111">10</text>
<text transform="translate(212.0,635.7) scale(0.94,1)" font-size="51" text-anchor="end" fill="#111">20</text>
<text transform="translate(212.0,349.9) scale(0.94,1)" font-size="51" text-anchor="end" fill="#111">30</text>
<text transform="translate(212.0,64.1) scale(0.94,1)" font-size="51" text-anchor="end" fill="#111">40</text>
<text transform="translate(249.5,1267.3) scale(0.94,1)" font-size="51" text-anchor="middle" fill="#111">500</text>
<text transform="translate(366.4,1267.3) scale(0.94,1)" font-size="51" text-anchor="middle" fill="#111">550</text>
<text transform="translate(483.2,1267.3) scale(0.94,1)" font-size="51" text-anchor="middle" fill="#111">600</text>
<text transform="translate(600.1,1267.3) scale(0.94,1)" font-size="51" text-anchor="middle" fill="#111">650</text>
<text transform="translate(717.0,1267.3) scale(0.94,1)" font-size="51" text-anchor="middle" fill="#111">700</text>
<clipPath id="cp2"><rect x="825.7" y="49.8" width="467.0" height="1143.2"/></clipPath>
<g clip-path="url(#cp2)">
<path d="M817.7,1016.5 L819.7,1013.4 L821.7,1010.2 L823.8,1006.9 L825.8,1003.5 L827.8,1000.0 L829.8,996.5 L831.8,992.9 L833.9,989.3 L835.9,985.6 L837.9,981.8 L839.9,977.9 L842.0,973.9 L844.0,969.8 L846.0,965.5 L848.0,961.1 L850.0,956.5 L852.1,951.6 L854.1,946.6 L856.1,941.1 L858.1,935.2 L860.1,929.0 L862.2,922.4 L864.2,915.6 L866.2,908.6 L868.2,901.5 L870.2,894.2 L872.3,886.9 L874.3,879.6 L876.3,872.3 L878.3,865.1 L880.3,858.0 L882.4,850.9 L884.4,843.7 L886.4,836.5 L888.4,829.2 L890.5,821.7 L892.5,814.1 L894.5,806.3 L896.5,798.3 L898.5,790.0 L900.6,781.3 L902.6,772.2 L904.6,762.4 L906.6,752.3 L908.6,741.9 L910.7,731.3 L912.7,720.8 L914.7,710.4 L916.7,700.4 L918.7,690.6 L920.8,681.0 L922.8,671.4 L924.8,661.8 L926.8,652.0 L928.9,642.1 L930.9,632.2 L932.9,622.2 L934.9,612.1 L936.9,602.0 L939.0,591.9 L941.0,581.8 L943.0,571.6 L945.0,561.4 L947.0,551.3 L949.1,541.1 L951.1,531.0 L953.1,520.9 L955.1,510.7 L957.1,500.4 L959.2,490.1 L961.2,479.8 L963.2,482.8 L965.2,493.6 L967.2,504.2 L969.3,514.4 L971.3,524.4 L973.3,534.1 L975.3,543.4 L977.4,552.5 L979.4,561.3 L981.4,569.7 L983.4,577.9 L985.4,585.8 L987.5,593.4 L989.5,600.7 L991.5,607.7 L993.5,614.4 L995.5,620.8 L997.6,626.9 L999.6,632.7 L1001.6,638.2 L1003.6,643.4 L1005.6,648.3 L1007.7,652.9 L1009.7,657.3 L1011.7,661.3 L1013.7,665.0 L1015.8,668.5 L1017.8,671.6 L1019.8,674.5 L1021.8,677.0 L1023.8,679.3 L1025.9,681.2 L1027.9,682.9 L1029.9,684.2 L1031.9,685.3 L1033.9,686.1 L1036.0,686.5 L1038.0,686.7 L1040.0,686.6 L1042.0,686.2 L1044.0,685.5 L1046.1,684.5 L1048.1,683.2 L1050.1,681.6 L1052.1,679.7 L1054.1,677.5 L1056.2,675.0 L1058.2,672.2 L1060.2,669.1 L1062.2,665.7 L1064.3,662.1 L1066.3,658.1 L1068.3,653.8 L1070.3,649.3 L1072.3,644.4 L1074.4,639.3 L1076.4,633.8 L1078.4,628.1 L1080.4,622.0 L1082.4,615.7 L1084.5,609.0 L1086.5,602.1 L1088.5,594.9 L1090.5,587.4 L1092.5,579.5 L1094.6,571.4 L1096.6,563.0 L1098.6,554.3 L1100.6,545.3 L1102.6,536.0 L1104.7,526.4 L1106.7,516.5 L1108.7,506.3 L1110.7,495.8 L1112.8,485.0 L1114.8,485.4 L1116.8,495.2 L1118.8,505.2 L1120.8,515.4 L1122.9,525.8 L1124.9,536.4 L1126.9,547.1 L1128.9,557.9 L1130.9,568.9 L1133.0,580.0 L1135.0,591.2 L1137.0,602.4 L1139.0,613.8 L1141.0,625.2 L1143.1,636.6 L1145.1,648.1 L1147.1,659.7 L1149.1,671.2 L1151.2,682.7 L1153.2,694.2 L1155.2,705.7 L1157.2,717.1 L1159.2,728.5 L1161.3,739.8 L1163.3,751.0 L1165.3,762.2 L1167.3,773.3 L1169.3,784.2 L1171.4,795.1 L1173.4,805.8 L1175.4,816.4 L1177.4,826.9 L1179.4,837.3 L1181.5,847.4 L1183.5,857.5 L1185.5,867.3 L1187.5,877.0 L1189.5,886.6 L1191.6,895.9 L1193.6,905.1 L1195.6,914.1 L1197.6,922.9 L1199.7,931.6 L1201.7,940.0 L1203.7,948.3 L1205.7,956.3 L1207.7,964.2 L1209.8,971.9 L1211.8,979.4 L1213.8,986.7 L1215.8,993.8 L1217.8,1000.7 L1219.9,1007.4 L1221.9,1014.0 L1223.9,1020.3 L1225.9,1026.5 L1227.9,1032.5 L1230.0,1038.3 L1232.0,1043.9 L1234.0,1049.4 L1236.0,1054.6 L1238.1,1059.8 L1240.1,1064.7 L1242.1,1069.5 L1244.1,1074.1 L1246.1,1078.6 L1248.2,1082.9 L1250.2,1087.1 L1252.2,1091.1 L1254.2,1095.0 L1256.2,1098.7 L1258.3,1102.3 L1260.3,1105.8 L1262.3,1109.2 L1264.3,1112.4 L1266.3,1115.5 L1268.4,1118.5 L1270.4,1121.4 L1272.4,1124.2 L1274.4,1126.8 L1276.4,1129.4 L1278.5,1131.9 L1280.5,1134.2 L1282.5,1136.5 L1284.5,1138.7 L1286.6,1140.8 L1288.6,1142.8 L1290.6,1144.7 L1292.6,1146.6 L1294.6,1146.7 L1296.7,1146.7 L1298.7,1146.7 L1300.7,1146.7 L1300.7,1188.9 L1298.7,1188.4 L1296.7,1187.8 L1294.6,1187.2 L1292.6,1186.6 L1290.6,1185.9 L1288.6,1185.3 L1286.6,1184.7 L1284.5,1184.1 L1282.5,1183.5 L1280.5,1182.9 L1278.5,1182.2 L1276.4,1181.6 L1274.4,1180.9 L1272.4,1180.3 L1270.4,1179.6 L1268.4,1178.9 L1266.3,1178.2 L1264.3,1177.4 L1262.3,1176.6 L1260.3,1175.8 L1258.3,1174.9 L1256.2,1174.0 L1254.2,1173.0 L1252.2,1172.0 L1250.2,1170.9 L1248.2,1169.8 L1246.1,1168.5 L1244.1,1167.1 L1242.1,1165.6 L1240.1,1163.8 L1238.1,1162.0 L1236.0,1160.0 L1234.0,1157.9 L1232.0,1155.7 L1230.0,1153.4 L1227.9,1151.0 L1225.9,1148.5 L1223.9,1145.9 L1221.9,1143.3 L1219.9,1140.6 L1217.8,1137.8 L1215.8,1135.0 L1213.8,1132.2 L1211.8,1129.3 L1209.8,1126.5 L1207.7,1123.6 L1205.7,1120.7 L1203.7,1117.8 L1201.7,1114.9 L1199.7,1112.1 L1197.6,1109.1 L1195.6,1106.2 L1193.6,1103.1 L1191.6,1100.0 L1189.5,1096.9 L1187.5,1093.7 L1185.5,1090.4 L1183.5,1087.1 L1181.5,1083.7 L1179.4,1080.3 L1177.4,1076.7 L1175.4,1073.1 L1173.4,1069.5 L1171.4,1065.8 L1169.3,1062.0 L1167.3,1058.1 L1165.3,1054.2 L1163.3,1050.1 L1161.3,1046.1 L1159.2,1041.9 L1157.2,1037.6 L1155.2,1033.3 L1153.2,1028.9 L1151.2,1024.2 L1149.1,1019.4 L1147.1,1014.3 L1145.1,1009.2 L1143.1,1003.8 L1141.0,998.3 L1139.0,992.7 L1137.0,987.0 L1135.0,981.2 L1133.0,975.3 L1130.9,969.3 L1128.9,963.3 L1126.9,957.2 L1124.9,951.1 L1122.9,945.0 L1120.8,938.7 L1118.8,932.3 L1116.8,925.7 L1114.8,918.9 L1112.8,912.1 L1110.7,905.2 L1108.7,898.3 L1106.7,891.4 L1104.7,884.4 L1102.6,877.5 L1100.6,870.7 L1098.6,863.9 L1096.6,857.0 L1094.6,849.9 L1092.5,842.6 L1090.5,835.3 L1088.5,828.0 L1086.5,820.8 L1084.5,813.8 L1082.4,806.9 L1080.4,800.3 L1078.4,794.1 L1076.4,788.2 L1074.4,782.8 L1072.3,777.5 L1070.3,772.2 L1068.3,766.7 L1066.3,761.2 L1064.3,755.7 L1062.2,750.2 L1060.2,744.8 L1058.2,739.5 L1056.2,734.4 L1054.1,729.6 L1052.1,725.0 L1050.1,720.7 L1048.1,716.8 L1046.1,713.2 L1044.0,710.1 L1042.0,707.5 L1040.0,705.4 L1038.0,703.9 L1036.0,703.0 L1033.9,702.8 L1031.9,703.4 L1029.9,704.6 L1027.9,706.6 L1025.9,709.2 L1023.8,712.4 L1021.8,716.2 L1019.8,720.4 L1017.8,725.0 L1015.8,729.9 L1013.7,735.2 L1011.7,740.7 L1009.7,746.4 L1007.7,752.2 L1005.6,758.1 L1003.6,764.0 L1001.6,769.9 L999.6,775.7 L997.6,781.4 L995.5,787.0 L993.5,793.2 L991.5,799.8 L989.5,806.9 L987.5,814.2 L985.4,821.7 L983.4,829.3 L981.4,837.0 L979.4,844.6 L977.4,852.1 L975.3,859.3 L973.3,866.2 L971.3,873.0 L969.3,879.7 L967.2,886.5 L965.2,893.3 L963.2,900.0 L961.2,906.6 L959.2,913.1 L957.1,919.6 L955.1,925.8 L953.1,932.0 L951.1,937.9 L949.1,943.7 L947.0,949.2 L945.0,954.6 L943.0,959.9 L941.0,965.2 L939.0,970.3 L936.9,975.4 L934.9,980.4 L932.9,985.3 L930.9,990.1 L928.9,994.8 L926.8,999.4 L924.8,1003.9 L922.8,1008.3 L920.8,1012.7 L918.7,1016.9 L916.7,1021.0 L914.7,1025.1 L912.7,1029.0 L910.7,1032.8 L908.6,1036.6 L906.6,1040.3 L904.6,1043.9 L902.6,1047.6 L900.6,1051.1 L898.5,1054.6 L896.5,1058.1 L894.5,1061.5 L892.5,1064.8 L890.5,1068.1 L888.4,1071.3 L886.4,1074.5 L884.4,1077.6 L882.4,1080.6 L880.3,1083.5 L878.3,1086.4 L876.3,1089.1 L874.3,1091.8 L872.3,1094.5 L870.2,1097.0 L868.2,1099.5 L866.2,1101.8 L864.2,1104.1 L862.2,1106.4 L860.1,1108.6 L858.1,1110.8 L856.1,1113.0 L854.1,1115.1 L852.1,1117.1 L850.0,1119.1 L848.0,1121.1 L846.0,1123.0 L844.0,1124.8 L842.0,1126.7 L839.9,1128.4 L837.9,1130.1 L835.9,1131.8 L833.9,1133.4 L831.8,1135.0 L829.8,1136.5 L827.8,1138.0 L825.8,1139.4 L823.8,1140.7 L821.7,1141.9 L819.7,1143.1 L817.7,1144.2 Z" fill="#00cf8a"/>
<clipPath id="op2"><path d="M817.7,0.0 L817.7,1144.2 L819.7,1143.1 L821.7,1141.9 L823.8,1140.7 L825.8,1139.4 L827.8,1138.0 L829.8,1136.5 L831.8,1135.0 L833.9,1133.4 L835.9,1131.8 L837.9,1130.1 L839.9,1128.4 L842.0,1126.7 L844.0,1124.8 L846.0,1123.0 L848.0,1121.1 L850.0,1119.1 L852.1,1117.1 L854.1,1115.1 L856.1,1113.0 L858.1,1110.8 L860.1,1108.6 L862.2,1106.4 L864.2,1104.1 L866.2,1101.8 L868.2,1099.5 L870.2,1097.0 L872.3,1094.5 L874.3,1091.8 L876.3,1089.1 L878.3,1086.4 L880.3,1083.5 L882.4,1080.6 L884.4,1077.6 L886.4,1074.5 L888.4,1071.3 L890.5,1068.1 L892.5,1064.8 L894.5,1061.5 L896.5,1058.1 L898.5,1054.6 L900.6,1051.1 L902.6,1047.6 L904.6,1043.9 L906.6,1040.3 L908.6,1036.6 L910.7,1032.8 L912.7,1029.0 L914.7,1025.1 L916.7,1021.0 L918.7,1016.9 L920.8,1012.7 L922.8,1008.3 L924.8,1003.9 L926.8,999.4 L928.9,994.8 L930.9,990.1 L932.9,985.3 L934.9,980.4 L936.9,975.4 L939.0,970.3 L941.0,965.2 L943.0,959.9 L945.0,954.6 L947.0,949.2 L949.1,943.7 L951.1,937.9 L953.1,932.0 L955.1,925.8 L957.1,919.6 L959.2,913.1 L961.2,906.6 L963.2,900.0 L965.2,893.3 L967.2,886.5 L969.3,879.7 L971.3,873.0 L973.3,866.2 L975.3,859.3 L977.4,852.1 L979.4,844.6 L981.4,837.0 L983.4,829.3 L985.4,821.7 L987.5,814.2 L989.5,806.9 L991.5,799.8 L993.5,793.2 L995.5,787.0 L997.6,781.4 L999.6,775.7 L1001.6,769.9 L1003.6,764.0 L1005.6,758.1 L1007.7,752.2 L1009.7,746.4 L1011.7,740.7 L1013.7,735.2 L1015.8,729.9 L1017.8,725.0 L1019.8,720.4 L1021.8,716.2 L1023.8,712.4 L1025.9,709.2 L1027.9,706.6 L1029.9,704.6 L1031.9,703.4 L1033.9,702.8 L1036.0,703.0 L1038.0,703.9 L1040.0,705.4 L1042.0,707.5 L1044.0,710.1 L1046.1,713.2 L1048.1,716.8 L1050.1,720.7 L1052.1,725.0 L1054.1,729.6 L1056.2,734.4 L1058.2,739.5 L1060.2,744.8 L1062.2,750.2 L1064.3,755.7 L1066.3,761.2 L1068.3,766.7 L1070.3,772.2 L1072.3,777.5 L1074.4,782.8 L1076.4,788.2 L1078.4,794.1 L1080.4,800.3 L1082.4,806.9 L1084.5,813.8 L1086.5,820.8 L1088.5,828.0 L1090.5,835.3 L1092.5,842.6 L1094.6,849.9 L1096.6,857.0 L1098.6,863.9 L1100.6,870.7 L1102.6,877.5 L1104.7,884.4 L1106.7,891.4 L1108.7,898.3 L1110.7,905.2 L1112.8,912.1 L1114.8,918.9 L1116.8,925.7 L1118.8,932.3 L1120.8,938.7 L1122.9,945.0 L1124.9,951.1 L1126.9,957.2 L1128.9,963.3 L1130.9,969.3 L1133.0,975.3 L1135.0,981.2 L1137.0,987.0 L1139.0,992.7 L1141.0,998.3 L1143.1,1003.8 L1145.1,1009.2 L1147.1,1014.3 L1149.1,1019.4 L1151.2,1024.2 L1153.2,1028.9 L1155.2,1033.3 L1157.2,1037.6 L1159.2,1041.9 L1161.3,1046.1 L1163.3,1050.1 L1165.3,1054.2 L1167.3,1058.1 L1169.3,1062.0 L1171.4,1065.8 L1173.4,1069.5 L1175.4,1073.1 L1177.4,1076.7 L1179.4,1080.3 L1181.5,1083.7 L1183.5,1087.1 L1185.5,1090.4 L1187.5,1093.7 L1189.5,1096.9 L1191.6,1100.0 L1193.6,1103.1 L1195.6,1106.2 L1197.6,1109.1 L1199.7,1112.1 L1201.7,1114.9 L1203.7,1117.8 L1205.7,1120.7 L1207.7,1123.6 L1209.8,1126.5 L1211.8,1129.3 L1213.8,1132.2 L1215.8,1135.0 L1217.8,1137.8 L1219.9,1140.6 L1221.9,1143.3 L1223.9,1145.9 L1225.9,1148.5 L1227.9,1151.0 L1230.0,1153.4 L1232.0,1155.7 L1234.0,1157.9 L1236.0,1160.0 L1238.1,1162.0 L1240.1,1163.8 L1242.1,1165.6 L1244.1,1167.1 L1246.1,1168.5 L1248.2,1169.8 L1250.2,1170.9 L1252.2,1172.0 L1254.2,1173.0 L1256.2,1174.0 L1258.3,1174.9 L1260.3,1175.8 L1262.3,1176.6 L1264.3,1177.4 L1266.3,1178.2 L1268.4,1178.9 L1270.4,1179.6 L1272.4,1180.3 L1274.4,1180.9 L1276.4,1181.6 L1278.5,1182.2 L1280.5,1182.9 L1282.5,1183.5 L1284.5,1184.1 L1286.6,1184.7 L1288.6,1185.3 L1290.6,1185.9 L1292.6,1186.6 L1294.6,1187.2 L1296.7,1187.8 L1298.7,1188.4 L1300.7,1188.9 L1300.7,0.0 Z"/></clipPath>
<g clip-path="url(#op2)" fill="none" stroke="#00cf8a" stroke-width="2.4">
<path d="M985.6,595.1 L988.0,587.5 L990.3,580.1 L992.7,572.9 L995.0,566.0 L997.3,559.4 L999.7,553.1 L1002.0,547.1 L1004.3,541.4 L1006.7,536.1 L1009.0,531.2 L1011.3,526.6 L1013.7,522.4 L1016.0,518.7 L1018.3,515.3 L1020.7,512.4 L1023.0,509.9 L1025.3,507.9 L1027.7,506.3 L1030.0,505.2 L1032.3,504.6 L1034.7,504.4 L1037.0,504.7 L1039.4,505.4 L1041.7,506.6 L1044.0,508.1 L1046.4,510.1 L1048.7,512.6 L1051.0,515.5 L1053.4,518.8 L1055.7,522.6 L1058.0,526.9 L1060.4,531.5 L1062.7,536.6 L1065.0,542.2 L1067.4,548.1 L1069.7,554.5 L1072.0,561.2 L1074.4,568.4 L1076.7,575.9 L1079.0,583.8 L1081.4,592.1 L1083.7,600.7 L1086.1,609.6 L1086.1,609.6"/>
<path d="M1006.7,657.6 L1009.0,652.2 L1011.3,647.0 L1013.7,642.1 L1016.0,637.4 L1018.3,633.0 L1020.7,628.9 L1023.0,625.1 L1025.3,621.6 L1027.7,618.5 L1030.0,615.7 L1032.3,613.2 L1034.7,611.1 L1037.0,609.3 L1039.4,608.0 L1041.7,606.9 L1044.0,606.3 L1046.4,606.0 L1048.7,606.2 L1051.0,606.6 L1053.4,607.4 L1055.7,608.6 L1058.0,610.1 L1060.4,611.9 L1062.7,614.1 L1065.0,616.7 L1067.4,619.6 L1069.7,622.9 L1072.0,626.6 L1074.4,630.5 L1076.7,634.9 L1076.7,634.9"/>
<path d="M969.3,521.6 L971.6,512.8 L974.0,504.1 L976.3,495.7 L978.6,487.5 L981.0,479.6 L983.3,471.9 L985.6,464.6 L988.0,457.5 L990.3,450.8 L992.7,444.4 L995.0,438.3 L997.3,432.6 L999.7,427.3 L1002.0,422.4 L1004.3,417.9 L1006.7,413.8 L1009.0,410.1 L1011.3,406.9 L1013.7,404.1 L1016.0,401.8 L1018.3,400.0 L1020.7,398.6 L1023.0,397.8 L1025.3,397.4 L1027.7,397.5 L1030.0,398.0 L1032.3,399.0 L1034.7,400.4 L1037.0,402.3 L1039.4,404.6 L1041.7,407.4 L1044.0,410.6 L1046.4,414.3 L1048.7,418.5 L1051.0,423.1 L1053.4,428.2 L1055.7,433.7 L1058.0,439.7 L1060.4,446.0 L1062.7,452.9 L1065.0,460.1 L1067.4,467.7 L1069.7,475.8 L1072.0,484.2 L1074.4,493.0 L1076.7,502.2 L1079.0,511.7 L1081.4,521.5 L1083.7,531.6 L1086.1,542.1 L1088.4,552.8 L1090.7,563.7 L1093.1,575.0 L1094.2,580.6"/>
<path d="M1014.8,669.0 L1017.2,666.2 L1019.5,663.6 L1021.8,661.3 L1024.2,659.3 L1026.5,657.5 L1028.8,656.1 L1031.2,655.0 L1033.5,654.1 L1035.9,653.6 L1038.2,653.4 L1040.5,653.5 L1042.9,653.9 L1045.2,654.6 L1047.5,655.6 L1049.9,656.8 L1052.2,658.4 L1054.5,660.2 L1056.9,662.3 L1059.2,664.8 L1061.5,667.5 L1062.7,668.9"/>
<path d="M989.2,605.3 L991.5,595.6 L993.8,586.1 L996.2,576.8 L998.5,567.6 L1000.8,558.7 L1003.2,550.0 L1005.5,541.5 L1007.8,533.3 L1010.2,525.4 L1012.5,517.8 L1014.8,510.5 L1017.2,503.5 L1019.5,497.0 L1021.8,490.7 L1024.2,484.9 L1026.5,479.5 L1028.8,474.6 L1031.2,470.1 L1033.5,466.0 L1035.9,462.4 L1038.2,459.3 L1040.5,456.7 L1042.9,454.6 L1045.2,453.0 L1047.5,452.0 L1049.9,451.5 L1052.2,451.5 L1054.5,452.0 L1056.9,453.0 L1059.2,454.5 L1061.5,456.4 L1063.9,458.9 L1066.2,461.9 L1068.5,465.4 L1070.9,469.3 L1073.2,473.8 L1075.5,478.8 L1077.9,484.2 L1080.2,490.2 L1082.6,496.6 L1084.9,503.5 L1087.2,510.9 L1089.6,518.6 L1091.9,526.9 L1094.2,535.5 L1096.6,544.6 L1098.9,554.0 L1100.1,558.8"/>
<path d="M991.5,610.7 L993.8,604.7 L996.2,599.0 L998.5,593.6 L1000.8,588.6 L1003.2,583.8 L1005.5,579.4 L1007.8,575.3 L1010.2,571.6 L1012.5,568.2 L1014.8,565.3 L1017.2,562.7 L1019.5,560.6 L1021.8,558.8 L1024.2,557.5 L1026.5,556.6 L1028.8,556.2 L1031.2,556.1 L1033.5,556.5 L1035.9,557.2 L1038.2,558.4 L1040.5,559.9 L1042.9,561.9 L1045.2,564.3 L1047.5,567.0 L1049.9,570.2 L1052.2,573.8 L1054.5,577.8 L1056.9,582.1 L1059.2,586.9 L1061.5,592.1 L1063.9,597.6 L1066.2,603.5 L1068.5,609.8 L1070.9,616.5 L1073.2,623.5 L1075.5,630.8 L1077.9,638.4 L1077.9,638.4"/>
<path d="M972.8,538.6 L975.1,527.9 L977.5,517.4 L979.8,506.9 L982.1,496.7 L984.5,486.6 L986.8,476.7 L989.2,467.0 L991.5,457.5 L993.8,448.3 L996.2,439.3 L998.5,430.6 L1000.8,422.2 L1003.2,414.2 L1005.5,406.5 L1007.8,399.1 L1010.2,392.1 L1012.5,385.5 L1014.8,379.4 L1017.2,373.6 L1019.5,368.3 L1021.8,363.5 L1024.2,359.1 L1026.5,355.2 L1028.8,351.8 L1031.2,348.9 L1033.5,346.5 L1035.9,344.7 L1038.2,343.4 L1040.5,342.6 L1042.9,342.4 L1045.2,342.7 L1047.5,343.5 L1049.9,344.8 L1052.2,346.5 L1054.5,348.8 L1056.9,351.6 L1059.2,355.0 L1061.5,358.8 L1063.9,363.1 L1066.2,368.0 L1068.5,373.3 L1070.9,379.2 L1073.2,385.5 L1075.5,392.4 L1077.9,399.7 L1080.2,407.5 L1082.6,415.7 L1084.9,424.4 L1087.2,433.6 L1089.6,443.1 L1091.9,453.1 L1094.2,463.4 L1096.6,474.1 L1098.9,485.2 L1101.2,496.6 L1103.6,508.3 L1105.9,520.3 L1107.1,526.4"/>
<path d="M1033.5,688.6 L1035.9,686.0 L1038.2,683.6 L1040.5,681.6 L1042.9,679.8 L1045.2,678.4 L1047.5,677.2 L1049.9,676.3 L1052.2,675.8 L1054.5,675.6 L1056.9,675.6 L1058.0,675.8"/>
<path d="M976.3,553.2 L978.6,546.5 L981.0,540.0 L983.3,533.8 L985.6,527.8 L988.0,522.2 L990.3,516.8 L992.7,511.7 L995.0,507.0 L997.3,502.5 L999.7,498.5 L1002.0,494.7 L1004.3,491.3 L1006.7,488.3 L1009.0,485.7 L1011.3,483.4 L1013.7,481.5 L1016.0,480.0 L1018.3,479.0 L1020.7,478.3 L1023.0,478.1 L1025.3,478.2 L1027.7,478.7 L1030.0,479.6 L1032.3,480.9 L1034.7,482.5 L1037.0,484.6 L1039.4,487.0 L1041.7,489.8 L1044.0,493.0 L1046.4,496.5 L1048.7,500.5 L1051.0,504.8 L1053.4,509.6 L1055.7,514.6 L1058.0,520.1 L1060.4,525.9 L1062.7,532.1 L1065.0,538.6 L1067.4,545.4 L1069.7,552.6 L1072.0,560.1 L1074.4,567.9 L1076.7,576.1 L1079.0,584.4 L1081.4,593.1 L1083.7,602.0 L1086.1,611.2 L1086.1,611.2"/>
<path d="M998.5,632.3 L1000.8,626.5 L1003.2,621.0 L1005.5,615.8 L1007.8,610.9 L1010.2,606.3 L1012.5,602.1 L1014.8,598.2 L1017.2,594.7 L1019.5,591.6 L1021.8,588.9 L1024.2,586.6 L1026.5,584.7 L1028.8,583.2 L1031.2,582.1 L1033.5,581.5 L1035.9,581.3 L1038.2,581.5 L1040.5,582.1 L1042.9,583.2 L1045.2,584.6 L1047.5,586.4 L1049.9,588.6 L1052.2,591.3 L1054.5,594.3 L1056.9,597.7 L1059.2,601.6 L1061.5,605.9 L1063.9,610.5 L1066.2,615.6 L1068.5,621.0 L1070.9,626.8 L1073.2,633.0 L1075.5,639.5 L1075.5,639.5"/>
<path d="M978.6,565.7 L981.0,555.0 L983.3,544.5 L985.6,534.1 L988.0,523.9 L990.3,513.8 L992.7,503.9 L995.0,494.2 L997.3,484.7 L999.7,475.5 L1002.0,466.5 L1004.3,457.9 L1006.7,449.5 L1009.0,441.4 L1011.3,433.7 L1013.7,426.3 L1016.0,419.4 L1018.3,412.8 L1020.7,406.6 L1023.0,400.8 L1025.3,395.5 L1027.7,390.7 L1030.0,386.3 L1032.3,382.5 L1034.7,379.1 L1037.0,376.2 L1039.4,373.9 L1041.7,372.1 L1044.0,370.8 L1046.4,370.1 L1048.7,370.0 L1051.0,370.4 L1053.4,371.2 L1055.7,372.6 L1058.0,374.5 L1060.4,376.9 L1062.7,379.8 L1065.0,383.2 L1067.4,387.1 L1069.7,391.6 L1072.0,396.6 L1074.4,402.1 L1076.7,408.1 L1079.0,414.6 L1081.4,421.5 L1083.7,429.0 L1086.1,437.0 L1088.4,445.4 L1090.7,454.2 L1093.1,463.5 L1095.4,473.2 L1097.7,483.3 L1100.1,493.7 L1102.4,504.6 L1104.7,515.7 L1107.1,527.2 L1107.1,527.2"/>
<path d="M1003.2,648.7 L1005.5,645.4 L1007.8,642.4 L1010.2,639.7 L1012.5,637.3 L1014.8,635.3 L1017.2,633.5 L1019.5,632.2 L1021.8,631.1 L1024.2,630.5 L1026.5,630.2 L1028.8,630.2 L1031.2,630.6 L1033.5,631.2 L1035.9,632.3 L1038.2,633.6 L1040.5,635.3 L1042.9,637.3 L1045.2,639.6 L1047.5,642.3 L1049.9,645.3 L1052.2,648.7 L1054.5,652.3 L1056.9,656.3 L1059.2,660.7 L1061.5,665.3 L1062.7,667.7"/>
<path d="M977.5,563.4 L979.8,554.5 L982.1,545.9 L984.5,537.4 L986.8,529.1 L989.2,521.0 L991.5,513.2 L993.8,505.5 L996.2,498.2 L998.5,491.1 L1000.8,484.2 L1003.2,477.7 L1005.5,471.5 L1007.8,465.6 L1010.2,460.1 L1012.5,454.9 L1014.8,450.1 L1017.2,445.7 L1019.5,441.6 L1021.8,438.0 L1024.2,434.8 L1026.5,432.0 L1028.8,429.6 L1031.2,427.7 L1033.5,426.2 L1035.9,425.2 L1038.2,424.6 L1040.5,424.5 L1042.9,424.9 L1045.2,425.6 L1047.5,426.8 L1049.9,428.4 L1052.2,430.4 L1054.5,432.8 L1056.9,435.7 L1059.2,439.0 L1061.5,442.8 L1063.9,446.9 L1066.2,451.5 L1068.5,456.6 L1070.9,462.0 L1073.2,467.9 L1075.5,474.2 L1077.9,480.8 L1080.2,487.9 L1082.6,495.4 L1084.9,503.2 L1087.2,511.4 L1089.6,519.9 L1091.9,528.7 L1094.2,537.9 L1096.6,547.4 L1098.9,557.2 L1098.9,557.2"/>
<path d="M996.2,625.6 L998.5,618.6 L1000.8,611.9 L1003.2,605.4 L1005.5,599.0 L1007.8,592.9 L1010.2,586.9 L1012.5,581.3 L1014.8,575.8 L1017.2,570.6 L1019.5,565.7 L1021.8,561.1 L1024.2,556.7 L1026.5,552.7 L1028.8,548.9 L1031.2,545.5 L1033.5,542.4 L1035.9,539.7 L1038.2,537.3 L1040.5,535.2 L1042.9,533.5 L1045.2,532.2 L1047.5,531.2 L1049.9,530.6 L1052.2,530.4 L1054.5,530.6 L1056.9,531.1 L1059.2,531.9 L1061.5,533.1 L1063.9,534.6 L1066.2,536.5 L1068.5,538.7 L1070.9,541.3 L1073.2,544.3 L1075.5,547.6 L1077.9,551.2 L1080.2,555.2 L1082.6,559.6 L1084.9,564.2 L1087.2,569.3 L1089.6,574.6 L1091.9,580.3 L1093.1,583.2"/>
<path d="M967.0,507.0 L969.3,495.5 L971.6,484.2 L974.0,473.1 L976.3,462.2 L978.6,451.5 L981.0,441.1 L983.3,430.9 L985.6,421.0 L988.0,411.4 L990.3,402.2 L992.7,393.2 L995.0,384.7 L997.3,376.6 L999.7,368.8 L1002.0,361.5 L1004.3,354.7 L1006.7,348.4 L1009.0,342.5 L1011.3,337.2 L1013.7,332.4 L1016.0,328.1 L1018.3,324.4 L1020.7,321.3 L1023.0,318.7 L1025.3,316.8 L1027.7,315.4 L1030.0,314.7 L1032.3,314.6 L1034.7,315.1 L1037.0,316.1 L1039.4,317.7 L1041.7,319.9 L1044.0,322.6 L1046.4,325.9 L1048.7,329.8 L1051.0,334.3 L1053.4,339.4 L1055.7,345.0 L1058.0,351.2 L1060.4,358.0 L1062.7,365.3 L1065.0,373.2 L1067.4,381.6 L1069.7,390.5 L1072.0,399.9 L1074.4,409.8 L1076.7,420.2 L1079.0,431.1 L1081.4,442.3 L1083.7,454.0 L1086.1,466.1 L1088.4,478.5 L1090.7,491.3 L1093.1,504.4 L1095.4,517.8 L1097.7,531.5 L1100.1,545.4 L1101.2,552.4"/>
<path d="M1034.7,688.5 L1037.0,687.4 L1039.4,686.5 L1041.7,686.0 L1044.0,685.9 L1046.4,686.0 L1047.5,686.2"/>
<path d="M993.8,623.9 L996.2,615.5 L998.5,607.3 L1000.8,599.3 L1003.2,591.5 L1005.5,583.8 L1007.8,576.3 L1010.2,569.1 L1012.5,562.1 L1014.8,555.3 L1017.2,548.8 L1019.5,542.6 L1021.8,536.7 L1024.2,531.1 L1026.5,525.8 L1028.8,520.8 L1031.2,516.2 L1033.5,511.9 L1035.9,508.0 L1038.2,504.5 L1040.5,501.4 L1042.9,498.7 L1045.2,496.4 L1047.5,494.5 L1049.9,493.0 L1052.2,492.0 L1054.5,491.4 L1056.9,491.3 L1059.2,491.6 L1061.5,492.2 L1063.9,493.3 L1066.2,494.8 L1068.5,496.6 L1070.9,498.9 L1073.2,501.6 L1075.5,504.8 L1077.9,508.3 L1080.2,512.2 L1082.6,516.6 L1084.9,521.3 L1087.2,526.5 L1089.6,532.0 L1091.9,538.0 L1094.2,544.3 L1096.6,551.0 L1098.9,558.0 L1098.9,558.0"/>
<path d="M995.0,621.1 L997.3,617.1 L999.7,613.4 L1002.0,610.0 L1004.3,606.9 L1006.7,604.1 L1009.0,601.6 L1011.3,599.5 L1013.7,597.6 L1016.0,596.2 L1018.3,595.0 L1020.7,594.3 L1023.0,593.8 L1025.3,593.8 L1027.7,594.0 L1030.0,594.6 L1032.3,595.5 L1034.7,596.7 L1037.0,598.3 L1039.4,600.2 L1041.7,602.4 L1044.0,605.0 L1046.4,607.9 L1048.7,611.1 L1051.0,614.7 L1053.4,618.5 L1055.7,622.8 L1058.0,627.3 L1060.4,632.1 L1062.7,637.3 L1065.0,642.7 L1067.4,648.5 L1069.7,654.5 L1069.7,654.5"/>
<path d="M971.6,533.9 L974.0,524.8 L976.3,515.9 L978.6,507.2 L981.0,498.6 L983.3,490.3 L985.6,482.1 L988.0,474.2 L990.3,466.5 L992.7,459.1 L995.0,451.9 L997.3,445.0 L999.7,438.4 L1002.0,432.2 L1004.3,426.2 L1006.7,420.6 L1009.0,415.4 L1011.3,410.5 L1013.7,406.0 L1016.0,401.8 L1018.3,398.1 L1020.7,394.8 L1023.0,391.9 L1025.3,389.4 L1027.7,387.4 L1030.0,385.8 L1032.3,384.6 L1034.7,383.9 L1037.0,383.7 L1039.4,383.9 L1041.7,384.5 L1044.0,385.5 L1046.4,386.9 L1048.7,388.8 L1051.0,391.1 L1053.4,393.8 L1055.7,396.9 L1058.0,400.5 L1060.4,404.5 L1062.7,408.9 L1065.0,413.7 L1067.4,419.0 L1069.7,424.6 L1072.0,430.7 L1074.4,437.2 L1076.7,444.1 L1079.0,451.3 L1081.4,459.0 L1083.7,467.0 L1086.1,475.3 L1088.4,484.0 L1090.7,493.0 L1093.1,502.4 L1095.4,512.0 L1097.7,522.0 L1100.1,532.2 L1102.4,542.6 L1102.4,542.6"/>
<path d="M1017.2,676.5 L1019.5,671.9 L1021.8,667.6 L1024.2,663.6 L1026.5,659.9 L1028.8,656.6 L1031.2,653.5 L1033.5,650.8 L1035.9,648.4 L1038.2,646.4 L1040.5,644.8 L1042.9,643.5 L1045.2,642.6 L1047.5,642.0 L1049.9,641.9 L1052.2,642.1 L1054.5,642.7 L1056.9,643.6 L1059.2,644.9 L1061.5,646.5 L1063.9,648.5 L1066.2,650.8 L1068.5,653.5 L1069.7,655.0"/>
<path d="M975.1,551.5 L977.5,542.9 L979.8,534.5 L982.1,526.4 L984.5,518.5 L986.8,510.9 L989.2,503.6 L991.5,496.6 L993.8,489.9 L996.2,483.6 L998.5,477.6 L1000.8,472.0 L1003.2,466.7 L1005.5,461.9 L1007.8,457.4 L1010.2,453.4 L1012.5,449.9 L1014.8,446.8 L1017.2,444.1 L1019.5,441.9 L1021.8,440.2 L1024.2,439.0 L1026.5,438.2 L1028.8,438.0 L1031.2,438.2 L1033.5,438.9 L1035.9,440.1 L1038.2,441.6 L1040.5,443.7 L1042.9,446.2 L1045.2,449.2 L1047.5,452.6 L1049.9,456.5 L1052.2,460.9 L1054.5,465.7 L1056.9,471.0 L1059.2,476.7 L1061.5,482.9 L1063.9,489.5 L1066.2,496.6 L1068.5,504.0 L1070.9,511.9 L1073.2,520.1 L1075.5,528.8 L1077.9,537.8 L1080.2,547.1 L1082.6,556.8 L1084.9,566.8 L1087.2,577.1 L1089.6,587.6 L1090.7,593.0"/>
<path d="M993.8,617.8 L996.2,611.3 L998.5,604.9 L1000.8,598.9 L1003.2,593.0 L1005.5,587.5 L1007.8,582.2 L1010.2,577.2 L1012.5,572.5 L1014.8,568.1 L1017.2,564.0 L1019.5,560.3 L1021.8,556.9 L1024.2,553.9 L1026.5,551.2 L1028.8,548.9 L1031.2,547.0 L1033.5,545.5 L1035.9,544.4 L1038.2,543.7 L1040.5,543.3 L1042.9,543.4 L1045.2,543.8 L1047.5,544.6 L1049.9,545.8 L1052.2,547.3 L1054.5,549.3 L1056.9,551.6 L1059.2,554.2 L1061.5,557.3 L1063.9,560.7 L1066.2,564.5 L1068.5,568.7 L1070.9,573.2 L1073.2,578.1 L1075.5,583.4 L1077.9,589.0 L1080.2,595.0 L1082.6,601.3 L1084.9,607.9 L1086.1,611.4"/>
<path d="M975.1,553.2 L977.5,542.6 L979.8,532.0 L982.1,521.6 L984.5,511.3 L986.8,501.1 L989.2,491.0 L991.5,481.1 L993.8,471.3 L996.2,461.8 L998.5,452.4 L1000.8,443.2 L1003.2,434.3 L1005.5,425.6 L1007.8,417.2 L1010.2,409.1 L1012.5,401.3 L1014.8,393.8 L1017.2,386.6 L1019.5,379.8 L1021.8,373.4 L1024.2,367.3 L1026.5,361.6 L1028.8,356.3 L1031.2,351.5 L1033.5,347.1 L1035.9,343.1 L1038.2,339.6 L1040.5,336.5 L1042.9,333.9 L1045.2,331.9 L1047.5,330.3 L1049.9,329.2 L1052.2,328.6 L1054.5,328.5 L1056.9,328.9 L1059.2,329.8 L1061.5,331.1 L1063.9,332.9 L1066.2,335.1 L1068.5,337.9 L1070.9,341.1 L1073.2,344.8 L1075.5,348.9 L1077.9,353.5 L1080.2,358.6 L1082.6,364.2 L1084.9,370.3 L1087.2,376.7 L1089.6,383.7 L1091.9,391.1 L1094.2,398.9 L1096.6,407.1 L1098.9,415.8 L1101.2,424.8 L1103.6,434.3 L1105.9,444.1 L1108.2,454.2 L1110.6,464.7 L1112.9,475.5 L1115.2,486.6 L1117.6,498.0 L1119.9,509.7 L1122.2,521.6 L1124.6,533.8 L1126.9,546.1 L1129.2,558.7 L1131.6,571.4 L1133.9,584.3 L1136.3,597.2 L1138.6,610.3 L1140.9,623.5 L1143.3,636.7 L1145.6,650.0 L1147.9,663.3 L1150.3,676.6 L1152.6,689.9 L1154.9,703.2 L1157.3,716.4 L1159.6,729.5 L1161.9,742.6 L1164.3,755.6 L1166.6,768.4 L1168.9,781.1 L1171.3,793.7 L1173.6,806.1 L1176.0,818.3 L1178.3,830.3 L1180.6,842.2 L1183.0,853.9 L1185.3,865.3 L1187.6,876.5 L1190.0,887.5 L1192.3,898.3 L1194.6,908.8 L1197.0,919.1 L1199.3,929.1 L1201.6,938.9 L1204.0,948.4 L1206.3,957.7 L1208.6,966.7 L1211.0,975.4 L1213.3,983.9 L1215.6,992.2 L1218.0,1000.2 L1220.3,1007.9 L1222.7,1015.4 L1225.0,1022.6 L1227.3,1029.6 L1229.7,1036.4 L1232.0,1042.9 L1234.3,1049.2 L1236.7,1055.3 L1239.0,1061.1 L1241.3,1066.7 L1243.7,1072.1 L1246.0,1077.3 L1248.3,1082.3 L1250.7,1087.1 L1253.0,1091.7 L1255.3,1096.1 L1257.7,1100.3 L1260.0,1104.4 L1262.3,1108.2 L1264.7,1112.0 L1267.0,1115.5 L1269.3,1118.9 L1271.7,1122.2 L1274.0,1125.3 L1276.4,1128.3 L1278.7,1131.1 L1281.0,1133.8 L1283.4,1136.4 L1285.7,1138.9 L1288.0,1141.3 L1290.4,1143.5 L1292.7,1145.7 L1292.7,1145.7"/>
<path d="M1016.0,672.3 L1018.3,670.4 L1020.7,668.7 L1023.0,667.3 L1025.3,666.2 L1027.7,665.4 L1030.0,664.9 L1032.3,664.7 L1034.7,664.8 L1037.0,665.1 L1039.4,665.7 L1041.7,666.6 L1044.0,667.7 L1046.4,669.1 L1048.7,670.8 L1051.0,672.8 L1053.4,675.0 L1055.7,677.5 L1056.9,678.9"/>
<path d="M988.0,599.3 L990.3,590.1 L992.7,581.0 L995.0,572.1 L997.3,563.5 L999.7,555.1 L1002.0,546.9 L1004.3,539.1 L1006.7,531.5 L1009.0,524.2 L1011.3,517.3 L1013.7,510.7 L1016.0,504.5 L1018.3,498.7 L1020.7,493.3 L1023.0,488.3 L1025.3,483.8 L1027.7,479.7 L1030.0,476.1 L1032.3,473.0 L1034.7,470.3 L1037.0,468.2 L1039.4,466.6 L1041.7,465.4 L1044.0,464.9 L1046.4,464.8 L1048.7,465.3 L1051.0,466.2 L1053.4,467.6 L1055.7,469.5 L1058.0,471.9 L1060.4,474.7 L1062.7,478.1 L1065.0,482.0 L1067.4,486.4 L1069.7,491.2 L1072.0,496.6 L1074.4,502.4 L1076.7,508.7 L1079.0,515.5 L1081.4,522.7 L1083.7,530.4 L1086.1,538.5 L1088.4,547.0 L1090.7,555.9 L1093.1,565.2 L1095.4,574.9 L1095.4,574.9"/>
<path d="M1006.7,658.5 L1009.0,651.4 L1011.3,644.4 L1013.7,637.7 L1016.0,631.2 L1018.3,624.9 L1020.7,618.9 L1023.0,613.2 L1025.3,607.7 L1027.7,602.6 L1030.0,597.8 L1032.3,593.3 L1034.7,589.1 L1037.0,585.3 L1039.4,581.9 L1041.7,578.8 L1044.0,576.2 L1046.4,573.9 L1048.7,572.0 L1051.0,570.6 L1053.4,569.5 L1055.7,568.9 L1058.0,568.8 L1060.4,569.0 L1062.7,569.6 L1065.0,570.6 L1067.4,572.0 L1069.7,573.8 L1072.0,576.0 L1074.4,578.6 L1076.7,581.6 L1079.0,585.0 L1081.4,588.8 L1083.7,593.0 L1086.1,597.5 L1088.4,602.5 L1088.4,602.5"/>
<path d="M846.7,966.1 L849.1,960.1 L851.4,953.9 L853.7,947.6 L856.1,941.1 L858.4,934.4 L860.7,927.6 L863.1,920.6 L865.4,913.4 L865.4,913.4 M964.6,497.3 L967.0,487.5 L969.3,477.9 L971.6,468.6 L974.0,459.5 L976.3,450.7 L978.6,442.1 L981.0,433.9 L983.3,425.9 L985.6,418.4 L988.0,411.1 L990.3,404.3 L992.7,397.8 L995.0,391.8 L997.3,386.2 L999.7,381.0 L1002.0,376.3 L1004.3,372.0 L1006.7,368.2 L1009.0,364.9 L1011.3,362.2 L1013.7,359.9 L1016.0,358.2 L1018.3,357.0 L1020.7,356.3 L1023.0,356.2 L1025.3,356.6 L1027.7,357.5 L1030.0,358.9 L1032.3,360.7 L1034.7,363.1 L1037.0,366.0 L1039.4,369.4 L1041.7,373.3 L1044.0,377.7 L1046.4,382.6 L1048.7,388.0 L1051.0,393.9 L1053.4,400.3 L1055.7,407.2 L1058.0,414.5 L1060.4,422.4 L1062.7,430.6 L1065.0,439.4 L1067.4,448.5 L1069.7,458.1 L1072.0,468.0 L1074.4,478.3 L1076.7,489.0 L1079.0,500.1 L1081.4,511.4 L1083.7,523.1 L1086.1,535.0 L1088.4,547.2 L1090.7,559.6 L1093.1,572.2 L1094.2,578.6"/>
<path d="M1003.2,648.8 L1005.5,644.6 L1007.8,640.7 L1010.2,637.1 L1012.5,633.8 L1014.8,630.7 L1017.2,628.0 L1019.5,625.6 L1021.8,623.5 L1024.2,621.8 L1026.5,620.4 L1028.8,619.3 L1031.2,618.6 L1033.5,618.2 L1035.9,618.2 L1038.2,618.5 L1040.5,619.1 L1042.9,620.1 L1045.2,621.3 L1047.5,622.9 L1049.9,624.9 L1052.2,627.1 L1054.5,629.7 L1056.9,632.6 L1059.2,635.9 L1061.5,639.4 L1063.9,643.3 L1066.2,647.5 L1068.5,652.1 L1069.7,654.4"/>
<path d="M979.8,567.5 L982.1,558.5 L984.5,549.5 L986.8,540.8 L989.2,532.1 L991.5,523.7 L993.8,515.5 L996.2,507.4 L998.5,499.6 L1000.8,492.0 L1003.2,484.7 L1005.5,477.7 L1007.8,470.9 L1010.2,464.4 L1012.5,458.2 L1014.8,452.4 L1017.2,446.9 L1019.5,441.7 L1021.8,436.9 L1024.2,432.5 L1026.5,428.4 L1028.8,424.8 L1031.2,421.5 L1033.5,418.7 L1035.9,416.3 L1038.2,414.4 L1040.5,412.8 L1042.9,411.8 L1045.2,411.1 L1047.5,411.0 L1049.9,411.2 L1052.2,411.9 L1054.5,413.0 L1056.9,414.5 L1059.2,416.4 L1061.5,418.7 L1063.9,421.5 L1066.2,424.7 L1068.5,428.3 L1070.9,432.3 L1073.2,436.8 L1075.5,441.7 L1077.9,446.9 L1080.2,452.6 L1082.6,458.8 L1084.9,465.3 L1087.2,472.2 L1089.6,479.4 L1091.9,487.1 L1094.2,495.1 L1096.6,503.4 L1098.9,512.1 L1101.2,521.1 L1103.6,530.4 L1104.7,535.2"/>
<path d="M984.5,588.5 L986.8,581.4 L989.2,574.6 L991.5,568.2 L993.8,562.0 L996.2,556.2 L998.5,550.7 L1000.8,545.6 L1003.2,540.9 L1005.5,536.5 L1007.8,532.6 L1010.2,529.1 L1012.5,526.1 L1014.8,523.5 L1017.2,521.3 L1019.5,519.6 L1021.8,518.4 L1024.2,517.7 L1026.5,517.5 L1028.8,517.7 L1031.2,518.4 L1033.5,519.5 L1035.9,521.0 L1038.2,523.0 L1040.5,525.5 L1042.9,528.4 L1045.2,531.8 L1047.5,535.6 L1049.9,539.9 L1052.2,544.6 L1054.5,549.8 L1056.9,555.4 L1059.2,561.4 L1061.5,567.9 L1063.9,574.7 L1066.2,582.0 L1068.5,589.7 L1070.9,597.7 L1073.2,606.1 L1075.5,614.8 L1077.9,623.9 L1079.0,628.5"/>
<path d="M968.1,520.8 L970.5,509.2 L972.8,497.6 L975.1,486.2 L977.5,474.9 L979.8,463.8 L982.1,452.9 L984.5,442.2 L986.8,431.7 L989.2,421.5 L991.5,411.5 L993.8,401.9 L996.2,392.6 L998.5,383.6 L1000.8,374.9 L1003.2,366.6 L1005.5,358.8 L1007.8,351.3 L1010.2,344.3 L1012.5,337.8 L1014.8,331.7 L1017.2,326.1 L1019.5,321.1 L1021.8,316.5 L1024.2,312.5 L1026.5,309.1 L1028.8,306.2 L1031.2,303.9 L1033.5,302.2 L1035.9,301.1 L1038.2,300.6 L1040.5,300.7 L1042.9,301.4 L1045.2,302.6 L1047.5,304.3 L1049.9,306.6 L1052.2,309.5 L1054.5,312.9 L1056.9,317.0 L1059.2,321.5 L1061.5,326.7 L1063.9,332.4 L1066.2,338.6 L1068.5,345.4 L1070.9,352.8 L1073.2,360.7 L1075.5,369.1 L1077.9,378.0 L1080.2,387.4 L1082.6,397.3 L1084.9,407.6 L1087.2,418.4 L1089.6,429.7 L1091.9,441.3 L1094.2,453.3 L1096.6,465.7 L1098.9,478.4 L1101.2,491.4 L1103.6,504.7 L1105.9,518.3 L1107.1,525.1"/>
<path d="M982.1,579.0 L984.5,572.1 L986.8,565.3 L989.2,558.9 L991.5,552.6 L993.8,546.7 L996.2,541.0 L998.5,535.6 L1000.8,530.6 L1003.2,525.8 L1005.5,521.4 L1007.8,517.4 L1010.2,513.7 L1012.5,510.3 L1014.8,507.4 L1017.2,504.8 L1019.5,502.6 L1021.8,500.8 L1024.2,499.5 L1026.5,498.5 L1028.8,498.0 L1031.2,497.9 L1033.5,498.2 L1035.9,498.8 L1038.2,499.9 L1040.5,501.3 L1042.9,503.1 L1045.2,505.3 L1047.5,507.9 L1049.9,510.9 L1052.2,514.3 L1054.5,518.1 L1056.9,522.3 L1059.2,526.9 L1061.5,531.8 L1063.9,537.2 L1066.2,542.9 L1068.5,548.9 L1070.9,555.4 L1073.2,562.2 L1075.5,569.3 L1077.9,576.7 L1080.2,584.5 L1082.6,592.5 L1084.9,600.9 L1087.2,609.5 L1087.2,609.5"/>
<path d="M1003.2,646.0 L1005.5,641.1 L1007.8,636.4 L1010.2,631.9 L1012.5,627.7 L1014.8,623.8 L1017.2,620.1 L1019.5,616.8 L1021.8,613.7 L1024.2,610.9 L1026.5,608.4 L1028.8,606.2 L1031.2,604.3 L1033.5,602.8 L1035.9,601.5 L1038.2,600.7 L1040.5,600.1 L1042.9,599.9 L1045.2,600.0 L1047.5,600.5 L1049.9,601.2 L1052.2,602.3 L1054.5,603.6 L1056.9,605.3 L1059.2,607.3 L1061.5,609.6 L1063.9,612.3 L1066.2,615.2 L1068.5,618.5 L1070.9,622.1 L1073.2,626.0 L1075.5,630.2 L1077.9,634.7 L1077.9,634.7"/>
<path d="M985.6,591.9 L988.0,581.2 L990.3,570.5 L992.7,560.0 L995.0,549.6 L997.3,539.3 L999.7,529.2 L1002.0,519.3 L1004.3,509.7 L1006.7,500.2 L1009.0,491.0 L1011.3,482.1 L1013.7,473.5 L1016.0,465.2 L1018.3,457.3 L1020.7,449.7 L1023.0,442.4 L1025.3,435.6 L1027.7,429.2 L1030.0,423.2 L1032.3,417.7 L1034.7,412.6 L1037.0,408.1 L1039.4,404.0 L1041.7,400.4 L1044.0,397.4 L1046.4,394.9 L1048.7,393.0 L1051.0,391.6 L1053.4,390.8 L1055.7,390.5 L1058.0,390.8 L1060.4,391.6 L1062.7,393.0 L1065.0,394.8 L1067.4,397.2 L1069.7,400.1 L1072.0,403.6 L1074.4,407.6 L1076.7,412.1 L1079.0,417.1 L1081.4,422.7 L1083.7,428.8 L1086.1,435.4 L1088.4,442.5 L1090.7,450.1 L1093.1,458.2 L1095.4,466.8 L1097.7,475.8 L1100.1,485.3 L1102.4,495.2 L1104.7,505.4 L1107.1,516.1 L1108.2,521.6"/>
<path d="M1007.8,656.0 L1010.2,653.8 L1012.5,651.9 L1014.8,650.3 L1017.2,649.1 L1019.5,648.3 L1021.8,647.8 L1024.2,647.7 L1026.5,647.9 L1028.8,648.5 L1031.2,649.4 L1033.5,650.6 L1035.9,652.2 L1038.2,654.1 L1040.5,656.4 L1042.9,659.0 L1045.2,661.9 L1047.5,665.2 L1049.9,668.8 L1052.2,672.8 L1054.5,677.0 L1055.7,679.3"/>
<path d="M978.6,567.8 L981.0,559.2 L983.3,550.8 L985.6,542.6 L988.0,534.6 L990.3,526.9 L992.7,519.4 L995.0,512.2 L997.3,505.3 L999.7,498.7 L1002.0,492.4 L1004.3,486.4 L1006.7,480.8 L1009.0,475.5 L1011.3,470.6 L1013.7,466.1 L1016.0,462.0 L1018.3,458.3 L1020.7,455.0 L1023.0,452.2 L1025.3,449.8 L1027.7,447.8 L1030.0,446.4 L1032.3,445.4 L1034.7,444.8 L1037.0,444.8 L1039.4,445.1 L1041.7,445.9 L1044.0,447.2 L1046.4,448.8 L1048.7,450.9 L1051.0,453.5 L1053.4,456.5 L1055.7,459.9 L1058.0,463.8 L1060.4,468.1 L1062.7,472.9 L1065.0,478.1 L1067.4,483.7 L1069.7,489.8 L1072.0,496.2 L1074.4,503.1 L1076.7,510.4 L1079.0,518.0 L1081.4,526.1 L1083.7,534.5 L1086.1,543.2 L1088.4,552.3 L1090.7,561.7 L1093.1,571.4 L1094.2,576.3"/>
<path d="M997.3,632.0 L999.7,625.4 L1002.0,619.0 L1004.3,612.8 L1006.7,606.8 L1009.0,601.0 L1011.3,595.5 L1013.7,590.3 L1016.0,585.3 L1018.3,580.6 L1020.7,576.2 L1023.0,572.1 L1025.3,568.3 L1027.7,564.8 L1030.0,561.7 L1032.3,558.9 L1034.7,556.5 L1037.0,554.4 L1039.4,552.7 L1041.7,551.4 L1044.0,550.5 L1046.4,549.9 L1048.7,549.7 L1051.0,549.9 L1053.4,550.4 L1055.7,551.3 L1058.0,552.6 L1060.4,554.1 L1062.7,556.1 L1065.0,558.4 L1067.4,561.1 L1069.7,564.1 L1072.0,567.5 L1074.4,571.3 L1076.7,575.4 L1079.0,579.9 L1081.4,584.7 L1083.7,589.8 L1086.1,595.3 L1088.4,601.1 L1088.4,601.1"/>
<path d="M825.7,993.6 L828.0,988.7 L830.4,983.6 L832.7,978.4 L835.0,973.0 L837.4,967.6 L839.7,961.9 L842.0,956.2 L844.4,950.3 L846.7,944.3 L849.1,938.1 L851.4,931.8 L853.7,925.3 L856.1,918.7 L858.4,912.0 L860.7,905.1 L863.1,898.0 L865.4,890.9 L867.7,883.5 L870.1,876.0 L872.4,868.4 L874.7,860.6 L877.1,852.7 L879.4,844.6 L881.7,836.4 L884.1,828.0 L886.4,819.5 L888.7,810.8 L891.1,802.0 L893.4,793.1 L895.8,784.0 L898.1,774.8 L900.4,765.5 L902.8,756.0 L905.1,746.5 L907.4,736.8 L909.8,727.0 L912.1,717.1 L914.4,707.2 L916.8,697.1 L919.1,686.9 L921.4,676.7 L923.8,666.4 L926.1,656.1 L928.4,645.7 L929.6,640.5 M963.5,491.4 L965.8,481.8 L968.1,472.4 L970.5,463.1 L972.8,454.1 L975.1,445.3 L977.5,436.7 L979.8,428.3 L982.1,420.3 L984.5,412.5 L986.8,404.9 L989.2,397.7 L991.5,390.9 L993.8,384.3 L996.2,378.1 L998.5,372.3 L1000.8,366.9 L1003.2,361.8 L1005.5,357.2 L1007.8,353.0 L1010.2,349.2 L1012.5,345.9 L1014.8,343.0 L1017.2,340.5 L1019.5,338.6 L1021.8,337.1 L1024.2,336.1 L1026.5,335.5 L1028.8,335.5 L1031.2,335.9 L1033.5,336.7 L1035.9,338.0 L1038.2,339.8 L1040.5,341.9 L1042.9,344.6 L1045.2,347.7 L1047.5,351.2 L1049.9,355.3 L1052.2,359.7 L1054.5,364.6 L1056.9,370.0 L1059.2,375.8 L1061.5,382.1 L1063.9,388.8 L1066.2,395.9 L1068.5,403.4 L1070.9,411.3 L1073.2,419.7 L1075.5,428.4 L1077.9,437.5 L1080.2,446.9 L1082.6,456.7 L1084.9,466.8 L1087.2,477.3 L1089.6,488.0 L1091.9,499.0 L1094.2,510.3 L1096.6,521.8 L1098.9,533.6 L1101.2,545.5 L1101.2,545.5"/>
<path d="M1021.8,681.4 L1024.2,678.8 L1026.5,676.5 L1028.8,674.6 L1031.2,673.0 L1033.5,671.7 L1035.9,670.8 L1038.2,670.3 L1040.5,670.2 L1042.9,670.4 L1045.2,670.9 L1047.5,671.8 L1049.9,673.0 L1052.2,674.5 L1054.5,676.4 L1056.9,678.6 L1056.9,678.6"/>
<path d="M990.3,613.5 L992.7,604.6 L995.0,595.8 L997.3,587.2 L999.7,578.8 L1002.0,570.6 L1004.3,562.6 L1006.7,554.9 L1009.0,547.3 L1011.3,540.1 L1013.7,533.1 L1016.0,526.4 L1018.3,520.1 L1020.7,514.0 L1023.0,508.3 L1025.3,503.0 L1027.7,498.0 L1030.0,493.4 L1032.3,489.3 L1034.7,485.5 L1037.0,482.2 L1039.4,479.2 L1041.7,476.8 L1044.0,474.8 L1046.4,473.2 L1048.7,472.2 L1051.0,471.6 L1053.4,471.5 L1055.7,471.8 L1058.0,472.5 L1060.4,473.7 L1062.7,475.4 L1065.0,477.4 L1067.4,480.0 L1069.7,482.9 L1072.0,486.4 L1074.4,490.2 L1076.7,494.5 L1079.0,499.3 L1081.4,504.5 L1083.7,510.1 L1086.1,516.2 L1088.4,522.7 L1090.7,529.5 L1093.1,536.8 L1095.4,544.5 L1097.7,552.5 L1098.9,556.7"/>
<path d="M993.8,623.0 L996.2,617.7 L998.5,612.6 L1000.8,607.8 L1003.2,603.3 L1005.5,599.0 L1007.8,595.1 L1010.2,591.5 L1012.5,588.3 L1014.8,585.3 L1017.2,582.8 L1019.5,580.6 L1021.8,578.7 L1024.2,577.2 L1026.5,576.1 L1028.8,575.4 L1031.2,575.1 L1033.5,575.1 L1035.9,575.5 L1038.2,576.3 L1040.5,577.4 L1042.9,578.8 L1045.2,580.7 L1047.5,582.8 L1049.9,585.4 L1052.2,588.3 L1054.5,591.6 L1056.9,595.2 L1059.2,599.2 L1061.5,603.5 L1063.9,608.2 L1066.2,613.3 L1068.5,618.6 L1070.9,624.3 L1073.2,630.4 L1075.5,636.7 L1076.7,640.0"/>
<path d="M974.0,545.3 L976.3,535.4 L978.6,525.6 L981.0,515.9 L983.3,506.4 L985.6,497.0 L988.0,487.9 L990.3,478.9 L992.7,470.2 L995.0,461.7 L997.3,453.4 L999.7,445.4 L1002.0,437.7 L1004.3,430.2 L1006.7,423.1 L1009.0,416.3 L1011.3,409.9 L1013.7,403.8 L1016.0,398.1 L1018.3,392.8 L1020.7,387.9 L1023.0,383.4 L1025.3,379.3 L1027.7,375.6 L1030.0,372.4 L1032.3,369.7 L1034.7,367.4 L1037.0,365.6 L1039.4,364.3 L1041.7,363.4 L1044.0,363.1 L1046.4,363.2 L1048.7,363.8 L1051.0,364.8 L1053.4,366.3 L1055.7,368.3 L1058.0,370.6 L1060.4,373.5 L1062.7,376.8 L1065.0,380.6 L1067.4,384.8 L1069.7,389.5 L1072.0,394.7 L1074.4,400.3 L1076.7,406.3 L1079.0,412.8 L1081.4,419.7 L1083.7,427.0 L1086.1,434.8 L1088.4,442.9 L1090.7,451.5 L1093.1,460.4 L1095.4,469.7 L1097.7,479.3 L1100.1,489.3 L1102.4,499.6 L1104.7,510.2 L1107.1,521.1 L1107.1,521.1"/>
<path d="M1014.8,672.0 L1017.2,667.2 L1019.5,662.6 L1021.8,658.2 L1024.2,654.0 L1026.5,650.1 L1028.8,646.4 L1031.2,642.9 L1033.5,639.8 L1035.9,636.9 L1038.2,634.3 L1040.5,632.0 L1042.9,629.9 L1045.2,628.2 L1047.5,626.8 L1049.9,625.6 L1052.2,624.8 L1054.5,624.3 L1056.9,624.2 L1059.2,624.3 L1061.5,624.7 L1063.9,625.5 L1066.2,626.5 L1068.5,627.8 L1070.9,629.4 L1073.2,631.3 L1075.5,633.5 L1077.9,636.0 L1077.9,636.0"/>
<path d="M972.8,534.7 L975.1,525.6 L977.5,516.8 L979.8,508.2 L982.1,499.9 L984.5,491.9 L986.8,484.3 L989.2,476.9 L991.5,469.9 L993.8,463.3 L996.2,457.0 L998.5,451.2 L1000.8,445.8 L1003.2,440.8 L1005.5,436.2 L1007.8,432.2 L1010.2,428.6 L1012.5,425.5 L1014.8,422.9 L1017.2,420.8 L1019.5,419.3 L1021.8,418.3 L1024.2,417.8 L1026.5,417.8 L1028.8,418.4 L1031.2,419.4 L1033.5,420.9 L1035.9,422.9 L1038.2,425.5 L1040.5,428.5 L1042.9,432.0 L1045.2,436.0 L1047.5,440.6 L1049.9,445.6 L1052.2,451.1 L1054.5,457.1 L1056.9,463.6 L1059.2,470.6 L1061.5,478.0 L1063.9,485.9 L1066.2,494.3 L1068.5,503.0 L1070.9,512.2 L1073.2,521.7 L1075.5,531.6 L1077.9,541.9 L1080.2,552.5 L1082.6,563.5 L1084.9,574.7 L1087.2,586.2 L1089.6,598.0 L1089.6,598.0"/>
<path d="M989.2,607.5 L991.5,600.4 L993.8,593.5 L996.2,586.8 L998.5,580.4 L1000.8,574.3 L1003.2,568.5 L1005.5,562.9 L1007.8,557.7 L1010.2,552.8 L1012.5,548.3 L1014.8,544.1 L1017.2,540.2 L1019.5,536.8 L1021.8,533.7 L1024.2,531.1 L1026.5,528.8 L1028.8,527.0 L1031.2,525.6 L1033.5,524.6 L1035.9,524.1 L1038.2,524.0 L1040.5,524.3 L1042.9,525.0 L1045.2,526.1 L1047.5,527.6 L1049.9,529.5 L1052.2,531.8 L1054.5,534.6 L1056.9,537.7 L1059.2,541.3 L1061.5,545.2 L1063.9,549.6 L1066.2,554.4 L1068.5,559.5 L1070.9,565.1 L1073.2,571.0 L1075.5,577.3 L1077.9,584.0 L1080.2,591.1 L1082.6,598.4 L1084.9,606.2 L1086.1,610.1"/>
<path d="M972.8,541.0 L975.1,529.8 L977.5,518.7 L979.8,507.7 L982.1,496.8 L984.5,486.1 L986.8,475.5 L989.2,465.0 L991.5,454.7 L993.8,444.7 L996.2,434.8 L998.5,425.2 L1000.8,415.8 L1003.2,406.7 L1005.5,397.9 L1007.8,389.4 L1010.2,381.2 L1012.5,373.3 L1014.8,365.9 L1017.2,358.8 L1019.5,352.1 L1021.8,345.8 L1024.2,339.9 L1026.5,334.5 L1028.8,329.5 L1031.2,325.1 L1033.5,321.1 L1035.9,317.6 L1038.2,314.6 L1040.5,312.1 L1042.9,310.2 L1045.2,308.8 L1047.5,307.9 L1049.9,307.6 L1052.2,307.8 L1054.5,308.5 L1056.9,309.7 L1059.2,311.5 L1061.5,313.7 L1063.9,316.4 L1066.2,319.7 L1068.5,323.4 L1070.9,327.7 L1073.2,332.5 L1075.5,337.8 L1077.9,343.6 L1080.2,349.9 L1082.6,356.7 L1084.9,364.0 L1087.2,371.7 L1089.6,380.0 L1091.9,388.6 L1094.2,397.8 L1096.6,407.3 L1098.9,417.3 L1101.2,427.6 L1103.6,438.4 L1105.9,449.5 L1108.2,460.9 L1110.6,472.7 L1112.9,484.8 L1114.1,490.9"/>
<path d="M1023.0,681.9 L1025.3,681.2 L1027.7,680.9 L1030.0,680.8 L1032.3,681.0 L1034.7,681.5 L1037.0,682.3 L1039.4,683.3 L1041.7,684.7 L1044.0,686.3 L1045.2,687.2"/>
<path d="M984.5,587.7 L986.8,580.3 L989.2,573.2 L991.5,566.2 L993.8,559.5 L996.2,552.9 L998.5,546.6 L1000.8,540.5 L1003.2,534.7 L1005.5,529.2 L1007.8,523.9 L1010.2,518.9 L1012.5,514.2 L1014.8,509.8 L1017.2,505.8 L1019.5,502.0 L1021.8,498.6 L1024.2,495.6 L1026.5,492.9 L1028.8,490.6 L1031.2,488.7 L1033.5,487.1 L1035.9,485.9 L1038.2,485.1 L1040.5,484.7 L1042.9,484.7 L1045.2,485.1 L1047.5,485.8 L1049.9,486.9 L1052.2,488.3 L1054.5,490.1 L1056.9,492.3 L1059.2,494.8 L1061.5,497.7 L1063.9,501.0 L1066.2,504.6 L1068.5,508.6 L1070.9,513.0 L1073.2,517.7 L1075.5,522.8 L1077.9,528.2 L1080.2,534.0 L1082.6,540.1 L1084.9,546.6 L1087.2,553.3 L1089.6,560.4 L1091.9,567.8 L1094.2,575.5 L1094.2,575.5"/>
<path d="M1009.0,660.8 L1011.3,654.1 L1013.7,647.6 L1016.0,641.4 L1018.3,635.4 L1020.7,629.7 L1023.0,624.4 L1025.3,619.3 L1027.7,614.6 L1030.0,610.2 L1032.3,606.1 L1034.7,602.4 L1037.0,599.1 L1039.4,596.2 L1041.7,593.7 L1044.0,591.7 L1046.4,590.0 L1048.7,588.7 L1051.0,587.9 L1053.4,587.6 L1055.7,587.6 L1058.0,588.1 L1060.4,589.0 L1062.7,590.2 L1065.0,591.9 L1067.4,594.0 L1069.7,596.5 L1072.0,599.4 L1074.4,602.7 L1076.7,606.4 L1079.0,610.5 L1081.4,615.1 L1082.6,617.5"/>
<path d="M972.8,533.7 L975.1,523.6 L977.5,513.6 L979.8,503.8 L982.1,494.2 L984.5,484.9 L986.8,475.8 L989.2,467.0 L991.5,458.5 L993.8,450.4 L996.2,442.5 L998.5,435.0 L1000.8,427.9 L1003.2,421.2 L1005.5,414.9 L1007.8,409.0 L1010.2,403.6 L1012.5,398.6 L1014.8,394.1 L1017.2,390.1 L1019.5,386.6 L1021.8,383.6 L1024.2,381.2 L1026.5,379.3 L1028.8,377.9 L1031.2,377.1 L1033.5,376.8 L1035.9,377.1 L1038.2,377.9 L1040.5,379.2 L1042.9,381.0 L1045.2,383.3 L1047.5,386.2 L1049.9,389.5 L1052.2,393.4 L1054.5,397.8 L1056.9,402.8 L1059.2,408.2 L1061.5,414.2 L1063.9,420.7 L1066.2,427.6 L1068.5,435.1 L1070.9,443.0 L1073.2,451.4 L1075.5,460.3 L1077.9,469.6 L1080.2,479.3 L1082.6,489.4 L1084.9,499.8 L1087.2,510.7 L1089.6,521.9 L1091.9,533.4 L1094.2,545.2 L1096.6,557.3 L1097.7,563.5"/>
<path d="M1013.7,668.3 L1016.0,664.0 L1018.3,660.0 L1020.7,656.2 L1023.0,652.7 L1025.3,649.6 L1027.7,646.7 L1030.0,644.2 L1032.3,642.0 L1034.7,640.1 L1037.0,638.6 L1039.4,637.4 L1041.7,636.6 L1044.0,636.2 L1046.4,636.1 L1048.7,636.3 L1051.0,636.8 L1053.4,637.7 L1055.7,638.9 L1058.0,640.5 L1060.4,642.4 L1062.7,644.6 L1065.0,647.2 L1067.4,650.1 L1069.7,653.3 L1069.7,653.3"/>
<path d="M988.0,602.1 L990.3,592.8 L992.7,583.6 L995.0,574.6 L997.3,565.6 L999.7,556.9 L1002.0,548.3 L1004.3,539.9 L1006.7,531.7 L1009.0,523.7 L1011.3,515.9 L1013.7,508.4 L1016.0,501.1 L1018.3,494.2 L1020.7,487.5 L1023.0,481.1 L1025.3,475.1 L1027.7,469.3 L1030.0,464.0 L1032.3,459.0 L1034.7,454.4 L1037.0,450.1 L1039.4,446.3 L1041.7,442.9 L1044.0,439.9 L1046.4,437.3 L1048.7,435.2 L1051.0,433.5 L1053.4,432.3 L1055.7,431.6 L1058.0,431.3 L1060.4,431.4 L1062.7,432.0 L1065.0,433.0 L1067.4,434.4 L1069.7,436.3 L1072.0,438.6 L1074.4,441.3 L1076.7,444.5 L1079.0,448.1 L1081.4,452.1 L1083.7,456.6 L1086.1,461.5 L1088.4,466.9 L1090.7,472.6 L1093.1,478.8 L1095.4,485.3 L1097.7,492.3 L1100.1,499.7 L1102.4,507.4 L1104.7,515.5 L1107.1,523.9 L1107.1,523.9"/>
<path d="M984.5,584.5 L986.8,579.2 L989.2,574.1 L991.5,569.4 L993.8,564.9 L996.2,560.7 L998.5,556.8 L1000.8,553.3 L1003.2,550.0 L1005.5,547.1 L1007.8,544.6 L1010.2,542.4 L1012.5,540.6 L1014.8,539.1 L1017.2,538.0 L1019.5,537.3 L1021.8,536.9 L1024.2,536.9 L1026.5,537.3 L1028.8,538.0 L1031.2,539.1 L1033.5,540.5 L1035.9,542.3 L1038.2,544.4 L1040.5,546.9 L1042.9,549.7 L1045.2,552.9 L1047.5,556.5 L1049.9,560.4 L1052.2,564.6 L1054.5,569.2 L1056.9,574.1 L1059.2,579.4 L1061.5,585.0 L1063.9,590.9 L1066.2,597.2 L1068.5,603.7 L1070.9,610.5 L1073.2,617.7 L1075.5,625.1 L1077.9,632.7 L1077.9,632.7"/>
<path d="M969.3,522.1 L971.6,510.6 L974.0,499.1 L976.3,487.9 L978.6,476.8 L981.0,465.9 L983.3,455.3 L985.6,444.8 L988.0,434.7 L990.3,424.9 L992.7,415.3 L995.0,406.1 L997.3,397.3 L999.7,388.9 L1002.0,380.8 L1004.3,373.2 L1006.7,366.0 L1009.0,359.3 L1011.3,353.1 L1013.7,347.4 L1016.0,342.3 L1018.3,337.6 L1020.7,333.6 L1023.0,330.1 L1025.3,327.1 L1027.7,324.8 L1030.0,323.1 L1032.3,322.0 L1034.7,321.6 L1037.0,321.7 L1039.4,322.4 L1041.7,323.7 L1044.0,325.6 L1046.4,328.0 L1048.7,331.0 L1051.0,334.6 L1053.4,338.8 L1055.7,343.6 L1058.0,348.9 L1060.4,354.9 L1062.7,361.4 L1065.0,368.5 L1067.4,376.1 L1069.7,384.3 L1072.0,393.0 L1074.4,402.2 L1076.7,411.9 L1079.0,422.2 L1081.4,432.8 L1083.7,444.0 L1086.1,455.5 L1088.4,467.5 L1090.7,479.8 L1093.1,492.5 L1095.4,505.5 L1097.7,518.8 L1100.1,532.4 L1102.4,546.3 L1102.4,546.3"/>
<path d="M1021.8,680.4 L1024.2,676.8 L1026.5,673.6 L1028.8,670.6 L1031.2,668.0 L1033.5,665.7 L1035.9,663.7 L1038.2,662.1 L1040.5,660.8 L1042.9,659.9 L1045.2,659.3 L1047.5,659.1 L1049.9,659.2 L1052.2,659.7 L1054.5,660.5 L1056.9,661.6 L1059.2,663.1 L1061.5,664.9 L1063.9,667.0 L1063.9,667.0"/>
<path d="M976.3,555.4 L978.6,547.5 L981.0,539.9 L983.3,532.4 L985.6,525.3 L988.0,518.4 L990.3,511.9 L992.7,505.6 L995.0,499.7 L997.3,494.1 L999.7,488.8 L1002.0,484.0 L1004.3,479.5 L1006.7,475.4 L1009.0,471.7 L1011.3,468.5 L1013.7,465.6 L1016.0,463.2 L1018.3,461.3 L1020.7,459.8 L1023.0,458.8 L1025.3,458.2 L1027.7,458.1 L1030.0,458.5 L1032.3,459.3 L1034.7,460.5 L1037.0,462.1 L1039.4,464.1 L1041.7,466.7 L1044.0,469.6 L1046.4,473.0 L1048.7,476.8 L1051.0,481.1 L1053.4,485.8 L1055.7,490.9 L1058.0,496.5 L1060.4,502.4 L1062.7,508.8 L1065.0,515.6 L1067.4,522.8 L1069.7,530.4 L1072.0,538.3 L1074.4,546.6 L1076.7,555.2 L1079.0,564.2 L1081.4,573.5 L1083.7,583.1 L1086.1,592.9 L1088.4,603.1 L1088.4,603.1"/>
<path d="M995.0,625.0 L997.3,619.1 L999.7,613.4 L1002.0,608.0 L1004.3,602.8 L1006.7,597.8 L1009.0,593.2 L1011.3,588.8 L1013.7,584.7 L1016.0,581.0 L1018.3,577.6 L1020.7,574.5 L1023.0,571.7 L1025.3,569.3 L1027.7,567.2 L1030.0,565.5 L1032.3,564.2 L1034.7,563.2 L1037.0,562.6 L1039.4,562.4 L1041.7,562.6 L1044.0,563.1 L1046.4,564.0 L1048.7,565.2 L1051.0,566.7 L1053.4,568.6 L1055.7,570.9 L1058.0,573.5 L1060.4,576.5 L1062.7,579.9 L1065.0,583.6 L1067.4,587.6 L1069.7,592.0 L1072.0,596.8 L1074.4,601.8 L1076.7,607.3 L1079.0,613.0 L1081.4,619.0 L1082.6,622.2"/>
<path d="M976.3,551.0 L978.6,540.9 L981.0,530.9 L983.3,521.0 L985.6,511.3 L988.0,501.7 L990.3,492.2 L992.7,482.9 L995.0,473.8 L997.3,464.9 L999.7,456.2 L1002.0,447.8 L1004.3,439.6 L1006.7,431.6 L1009.0,423.9 L1011.3,416.6 L1013.7,409.5 L1016.0,402.8 L1018.3,396.3 L1020.7,390.3 L1023.0,384.6 L1025.3,379.3 L1027.7,374.4 L1030.0,369.9 L1032.3,365.8 L1034.7,362.2 L1037.0,358.9 L1039.4,356.2 L1041.7,353.9 L1044.0,352.0 L1046.4,350.6 L1048.7,349.7 L1051.0,349.3 L1053.4,349.4 L1055.7,349.9 L1058.0,350.8 L1060.4,352.2 L1062.7,354.0 L1065.0,356.3 L1067.4,359.0 L1069.7,362.2 L1072.0,365.8 L1074.4,369.9 L1076.7,374.5 L1079.0,379.5 L1081.4,384.9 L1083.7,390.7 L1086.1,397.1 L1088.4,403.8 L1090.7,410.9 L1093.1,418.5 L1095.4,426.5 L1097.7,434.8 L1100.1,443.5 L1102.4,452.6 L1104.7,462.1 L1107.1,471.8 L1109.4,482.0 L1111.7,492.4 L1112.9,497.7 M1225.0,1025.6 L1227.3,1032.4 L1229.7,1039.0 L1232.0,1045.3 L1234.3,1051.4 L1236.7,1057.3 L1239.0,1062.9 L1241.3,1068.4 L1243.7,1073.7 L1246.0,1078.7 L1248.3,1083.6 L1250.7,1088.2 L1253.0,1092.7 L1255.3,1097.0 L1257.7,1101.2 L1260.0,1105.1 L1262.3,1108.9 L1264.7,1112.6 L1267.0,1116.1 L1269.3,1119.4 L1271.7,1122.6 L1274.0,1125.6 L1276.4,1128.6 L1278.7,1131.4 L1281.0,1134.0 L1283.4,1136.6 L1285.7,1139.0 L1288.0,1141.4 L1290.4,1143.6 L1292.7,1145.7 L1292.7,1145.7"/>
<path d="M1002.0,642.5 L1004.3,638.0 L1006.7,633.8 L1009.0,630.0 L1011.3,626.5 L1013.7,623.4 L1016.0,620.6 L1018.3,618.2 L1020.7,616.2 L1023.0,614.6 L1025.3,613.4 L1027.7,612.6 L1030.0,612.2 L1032.3,612.2 L1034.7,612.6 L1037.0,613.3 L1039.4,614.5 L1041.7,616.0 L1044.0,617.9 L1046.4,620.2 L1048.7,622.8 L1051.0,625.9 L1053.4,629.3 L1055.7,633.2 L1058.0,637.4 L1060.4,641.9 L1062.7,646.9 L1065.0,652.2 L1067.4,657.9 L1067.4,657.9"/>
<path d="M979.8,566.1 L982.1,556.2 L984.5,546.5 L986.8,536.9 L989.2,527.6 L991.5,518.4 L993.8,509.5 L996.2,500.8 L998.5,492.4 L1000.8,484.2 L1003.2,476.4 L1005.5,468.8 L1007.8,461.6 L1010.2,454.7 L1012.5,448.3 L1014.8,442.2 L1017.2,436.5 L1019.5,431.2 L1021.8,426.3 L1024.2,421.9 L1026.5,418.0 L1028.8,414.5 L1031.2,411.5 L1033.5,409.0 L1035.9,407.0 L1038.2,405.6 L1040.5,404.6 L1042.9,404.2 L1045.2,404.3 L1047.5,404.9 L1049.9,405.9 L1052.2,407.5 L1054.5,409.5 L1056.9,412.0 L1059.2,415.0 L1061.5,418.5 L1063.9,422.5 L1066.2,427.0 L1068.5,432.0 L1070.9,437.4 L1073.2,443.4 L1075.5,449.8 L1077.9,456.7 L1080.2,464.0 L1082.6,471.8 L1084.9,480.1 L1087.2,488.7 L1089.6,497.7 L1091.9,507.2 L1094.2,517.0 L1096.6,527.1 L1098.9,537.6 L1101.2,548.4 L1101.2,548.4"/>
<path d="M996.2,630.8 L998.5,622.9 L1000.8,615.0 L1003.2,607.4 L1005.5,600.0 L1007.8,592.7 L1010.2,585.7 L1012.5,578.9 L1014.8,572.3 L1017.2,566.0 L1019.5,560.0 L1021.8,554.2 L1024.2,548.8 L1026.5,543.7 L1028.8,538.9 L1031.2,534.5 L1033.5,530.4 L1035.9,526.6 L1038.2,523.3 L1040.5,520.3 L1042.9,517.7 L1045.2,515.5 L1047.5,513.8 L1049.9,512.4 L1052.2,511.5 L1054.5,511.0 L1056.9,511.0 L1059.2,511.3 L1061.5,512.1 L1063.9,513.2 L1066.2,514.7 L1068.5,516.6 L1070.9,518.9 L1073.2,521.7 L1075.5,524.8 L1077.9,528.3 L1080.2,532.3 L1082.6,536.6 L1084.9,541.3 L1087.2,546.4 L1089.6,552.0 L1091.9,557.8 L1094.2,564.1 L1096.6,570.7 L1096.6,570.7"/>
<path d="M825.7,987.2 L828.0,981.9 L830.4,976.6 L832.7,971.0 L835.0,965.3 L837.4,959.5 L839.7,953.5 L842.0,947.4 L844.4,941.2 L846.7,934.7 L849.1,928.2 L851.4,921.4 L853.7,914.5 L856.1,907.5 L858.4,900.3 L860.7,892.9 L863.1,885.3 L865.4,877.6 L867.7,869.8 L870.1,861.7 L872.4,853.5 L874.7,845.2 L877.1,836.6 L879.4,827.9 L881.7,819.1 L884.1,810.1 L886.4,800.9 L888.7,791.6 L891.1,782.1 L893.4,772.5 L895.8,762.7 L898.1,752.8 L900.4,742.7 L902.8,732.5 L905.1,722.2 L907.4,711.8 L909.8,701.2 L912.1,690.5 L914.4,679.8 L916.8,668.9 L919.1,657.9 L921.4,646.9 L923.8,635.8 L926.1,624.6 L928.4,613.4 L930.8,602.2 L933.1,590.9 L935.4,579.6 L937.8,568.3 L940.1,557.0 L942.5,545.8 L944.8,534.6 L947.1,523.4 L949.5,512.3 L951.8,501.3 L954.1,490.4 L956.5,479.6 L958.8,469.0 L961.1,458.5 L963.5,448.1 L965.8,438.0 L968.1,428.0 L970.5,418.3 L972.8,408.8 L975.1,399.5 L977.5,390.6 L979.8,381.9 L982.1,373.5 L984.5,365.5 L986.8,357.8 L989.2,350.4 L991.5,343.5 L993.8,336.9 L996.2,330.7 L998.5,325.0 L1000.8,319.7 L1003.2,314.9 L1005.5,310.5 L1007.8,306.6 L1010.2,303.2 L1012.5,300.3 L1014.8,297.9 L1017.2,296.0 L1019.5,294.7 L1021.8,293.9 L1024.2,293.6 L1026.5,293.9 L1028.8,294.6 L1031.2,295.8 L1033.5,297.5 L1035.9,299.7 L1038.2,302.4 L1040.5,305.6 L1042.9,309.4 L1045.2,313.6 L1047.5,318.3 L1049.9,323.5 L1052.2,329.3 L1054.5,335.5 L1056.9,342.2 L1059.2,349.3 L1061.5,357.0 L1063.9,365.1 L1066.2,373.7 L1068.5,382.6 L1070.9,392.1 L1073.2,401.9 L1075.5,412.1 L1077.9,422.7 L1080.2,433.7 L1082.6,445.0 L1084.9,456.6 L1087.2,468.5 L1089.6,480.7 L1091.9,493.2 L1094.2,506.0 L1096.6,518.9 L1098.9,532.0 L1101.2,545.4 L1101.2,545.4"/>
<path d="M992.7,621.3 L995.0,612.8 L997.3,604.5 L999.7,596.4 L1002.0,588.5 L1004.3,580.9 L1006.7,573.5 L1009.0,566.3 L1011.3,559.5 L1013.7,552.9 L1016.0,546.7 L1018.3,540.8 L1020.7,535.3 L1023.0,530.1 L1025.3,525.3 L1027.7,520.9 L1030.0,516.9 L1032.3,513.4 L1034.7,510.2 L1037.0,507.6 L1039.4,505.3 L1041.7,503.6 L1044.0,502.3 L1046.4,501.5 L1048.7,501.1 L1051.0,501.3 L1053.4,501.9 L1055.7,502.9 L1058.0,504.4 L1060.4,506.3 L1062.7,508.7 L1065.0,511.5 L1067.4,514.8 L1069.7,518.5 L1072.0,522.7 L1074.4,527.3 L1076.7,532.4 L1079.0,537.9 L1081.4,543.9 L1083.7,550.3 L1086.1,557.0 L1088.4,564.2 L1090.7,571.8 L1093.1,579.8 L1093.1,579.8"/>
<path d="M998.5,633.2 L1000.8,628.8 L1003.2,624.8 L1005.5,621.0 L1007.8,617.6 L1010.2,614.5 L1012.5,611.8 L1014.8,609.4 L1017.2,607.4 L1019.5,605.7 L1021.8,604.5 L1024.2,603.6 L1026.5,603.1 L1028.8,603.0 L1031.2,603.2 L1033.5,603.8 L1035.9,604.8 L1038.2,606.1 L1040.5,607.8 L1042.9,609.9 L1045.2,612.3 L1047.5,615.1 L1049.9,618.2 L1052.2,621.7 L1054.5,625.6 L1056.9,629.8 L1059.2,634.4 L1061.5,639.3 L1063.9,644.6 L1066.2,650.2 L1068.5,656.1 L1068.5,656.1"/>
<path d="M976.3,551.9 L978.6,542.3 L981.0,532.9 L983.3,523.6 L985.6,514.5 L988.0,505.7 L990.3,497.0 L992.7,488.6 L995.0,480.4 L997.3,472.6 L999.7,464.9 L1002.0,457.6 L1004.3,450.7 L1006.7,444.0 L1009.0,437.7 L1011.3,431.8 L1013.7,426.2 L1016.0,421.1 L1018.3,416.3 L1020.7,412.0 L1023.0,408.1 L1025.3,404.7 L1027.7,401.7 L1030.0,399.2 L1032.3,397.2 L1034.7,395.6 L1037.0,394.6 L1039.4,394.0 L1041.7,394.0 L1044.0,394.4 L1046.4,395.2 L1048.7,396.5 L1051.0,398.3 L1053.4,400.5 L1055.7,403.2 L1058.0,406.4 L1060.4,410.0 L1062.7,414.1 L1065.0,418.7 L1067.4,423.7 L1069.7,429.2 L1072.0,435.2 L1074.4,441.6 L1076.7,448.4 L1079.0,455.7 L1081.4,463.3 L1083.7,471.4 L1086.1,479.9 L1088.4,488.8 L1090.7,498.0 L1093.1,507.6 L1095.4,517.5 L1097.7,527.7 L1100.1,538.3 L1102.4,549.1 L1102.4,549.1"/>
<path d="M1020.7,680.1 L1023.0,676.2 L1025.3,672.5 L1027.7,669.1 L1030.0,666.0 L1032.3,663.1 L1034.7,660.5 L1037.0,658.2 L1039.4,656.2 L1041.7,654.5 L1044.0,653.1 L1046.4,652.0 L1048.7,651.2 L1051.0,650.7 L1053.4,650.6 L1055.7,650.7 L1058.0,651.2 L1060.4,651.9 L1062.7,653.0 L1065.0,654.3 L1067.4,655.9 L1068.5,656.9"/>
<path d="M976.3,553.7 L978.6,546.0 L981.0,538.5 L983.3,531.2 L985.6,524.2 L988.0,517.4 L990.3,510.8 L992.7,504.5 L995.0,498.4 L997.3,492.7 L999.7,487.2 L1002.0,482.1 L1004.3,477.2 L1006.7,472.7 L1009.0,468.6 L1011.3,464.8 L1013.7,461.4 L1016.0,458.3 L1018.3,455.7 L1020.7,453.4 L1023.0,451.5 L1025.3,450.0 L1027.7,449.0 L1030.0,448.3 L1032.3,448.1 L1034.7,448.2 L1037.0,448.8 L1039.4,449.7 L1041.7,451.0 L1044.0,452.7 L1046.4,454.8 L1048.7,457.3 L1051.0,460.1 L1053.4,463.4 L1055.7,467.0 L1058.0,471.1 L1060.4,475.5 L1062.7,480.3 L1065.0,485.5 L1067.4,491.0 L1069.7,497.0 L1072.0,503.3 L1074.4,509.9 L1076.7,516.9 L1079.0,524.2 L1081.4,531.9 L1083.7,539.8 L1086.1,548.1 L1088.4,556.7 L1090.7,565.5 L1093.1,574.6 L1094.2,579.2"/>
<path d="M997.3,634.5 L999.7,627.4 L1002.0,620.6 L1004.3,614.0 L1006.7,607.7 L1009.0,601.6 L1011.3,595.8 L1013.7,590.4 L1016.0,585.2 L1018.3,580.4 L1020.7,576.0 L1023.0,571.8 L1025.3,568.1 L1027.7,564.8 L1030.0,561.8 L1032.3,559.3 L1034.7,557.1 L1037.0,555.4 L1039.4,554.2 L1041.7,553.3 L1044.0,552.9 L1046.4,553.0 L1048.7,553.4 L1051.0,554.3 L1053.4,555.5 L1055.7,557.2 L1058.0,559.3 L1060.4,561.8 L1062.7,564.7 L1065.0,568.0 L1067.4,571.7 L1069.7,575.9 L1072.0,580.4 L1074.4,585.4 L1076.7,590.7 L1079.0,596.5 L1081.4,602.6 L1083.7,609.1 L1084.9,612.5"/>
<path d="M981.0,570.0 L983.3,558.9 L985.6,547.9 L988.0,537.0 L990.3,526.1 L992.7,515.4 L995.0,504.8 L997.3,494.4 L999.7,484.2 L1002.0,474.1 L1004.3,464.3 L1006.7,454.7 L1009.0,445.3 L1011.3,436.2 L1013.7,427.4 L1016.0,419.0 L1018.3,410.8 L1020.7,403.0 L1023.0,395.6 L1025.3,388.5 L1027.7,381.9 L1030.0,375.6 L1032.3,369.8 L1034.7,364.5 L1037.0,359.6 L1039.4,355.2 L1041.7,351.3 L1044.0,348.0 L1046.4,345.1 L1048.7,342.8 L1051.0,341.0 L1053.4,339.7 L1055.7,339.1 L1058.0,338.9 L1060.4,339.3 L1062.7,340.2 L1065.0,341.6 L1067.4,343.6 L1069.7,346.0 L1072.0,349.0 L1074.4,352.4 L1076.7,356.4 L1079.0,361.0 L1081.4,366.0 L1083.7,371.6 L1086.1,377.7 L1088.4,384.3 L1090.7,391.3 L1093.1,398.9 L1095.4,407.0 L1097.7,415.5 L1100.1,424.4 L1102.4,433.8 L1104.7,443.7 L1107.1,453.9 L1109.4,464.5 L1111.7,475.5 L1114.1,486.9 L1115.2,492.7"/>
<path d="M1018.3,674.4 L1020.7,673.6 L1023.0,673.1 L1025.3,672.9 L1027.7,673.0 L1030.0,673.4 L1032.3,674.1 L1034.7,675.1 L1037.0,676.4 L1039.4,678.0 L1041.7,679.9 L1044.0,682.1 L1046.4,684.6 L1047.5,685.9"/>
<path d="M982.1,579.5 L984.5,571.8 L986.8,564.4 L989.2,557.2 L991.5,550.1 L993.8,543.4 L996.2,536.8 L998.5,530.5 L1000.8,524.5 L1003.2,518.8 L1005.5,513.4 L1007.8,508.2 L1010.2,503.4 L1012.5,499.0 L1014.8,494.9 L1017.2,491.1 L1019.5,487.7 L1021.8,484.7 L1024.2,482.1 L1026.5,479.8 L1028.8,478.0 L1031.2,476.6 L1033.5,475.5 L1035.9,474.9 L1038.2,474.8 L1040.5,475.0 L1042.9,475.6 L1045.2,476.6 L1047.5,477.9 L1049.9,479.7 L1052.2,481.8 L1054.5,484.4 L1056.9,487.3 L1059.2,490.6 L1061.5,494.3 L1063.9,498.4 L1066.2,503.0 L1068.5,507.8 L1070.9,513.1 L1073.2,518.7 L1075.5,524.7 L1077.9,531.1 L1080.2,537.8 L1082.6,544.9 L1084.9,552.3 L1087.2,560.0 L1089.6,568.0 L1091.9,576.3 L1093.1,580.6"/>
<path d="M1002.0,644.4 L1004.3,638.7 L1006.7,633.2 L1009.0,627.9 L1011.3,622.8 L1013.7,617.9 L1016.0,613.3 L1018.3,608.9 L1020.7,604.8 L1023.0,600.9 L1025.3,597.3 L1027.7,594.0 L1030.0,591.0 L1032.3,588.3 L1034.7,585.9 L1037.0,583.8 L1039.4,582.0 L1041.7,580.6 L1044.0,579.5 L1046.4,578.7 L1048.7,578.3 L1051.0,578.2 L1053.4,578.4 L1055.7,579.0 L1058.0,579.8 L1060.4,581.0 L1062.7,582.4 L1065.0,584.2 L1067.4,586.3 L1069.7,588.8 L1072.0,591.5 L1074.4,594.6 L1076.7,598.0 L1079.0,601.7 L1081.4,605.7 L1083.7,610.0 L1084.9,612.3"/>
<path d="M970.5,526.9 L972.8,516.3 L975.1,505.9 L977.5,495.7 L979.8,485.7 L982.1,476.0 L984.5,466.6 L986.8,457.4 L989.2,448.6 L991.5,440.1 L993.8,432.0 L996.2,424.2 L998.5,416.9 L1000.8,410.0 L1003.2,403.5 L1005.5,397.5 L1007.8,392.0 L1010.2,387.0 L1012.5,382.5 L1014.8,378.5 L1017.2,375.1 L1019.5,372.2 L1021.8,369.9 L1024.2,368.2 L1026.5,367.1 L1028.8,366.6 L1031.2,366.6 L1033.5,367.3 L1035.9,368.4 L1038.2,370.1 L1040.5,372.4 L1042.9,375.2 L1045.2,378.6 L1047.5,382.5 L1049.9,387.0 L1052.2,392.1 L1054.5,397.7 L1056.9,403.8 L1059.2,410.5 L1061.5,417.8 L1063.9,425.5 L1066.2,433.8 L1068.5,442.6 L1070.9,451.8 L1073.2,461.5 L1075.5,471.7 L1077.9,482.3 L1080.2,493.3 L1082.6,504.7 L1084.9,516.4 L1087.2,528.5 L1089.6,540.9 L1091.9,553.6 L1094.2,566.6 L1095.4,573.1"/>
<path d="M1010.2,661.3 L1012.5,656.7 L1014.8,652.4 L1017.2,648.5 L1019.5,644.8 L1021.8,641.4 L1024.2,638.4 L1026.5,635.7 L1028.8,633.4 L1031.2,631.4 L1033.5,629.8 L1035.9,628.6 L1038.2,627.7 L1040.5,627.3 L1042.9,627.2 L1045.2,627.5 L1047.5,628.1 L1049.9,629.1 L1052.2,630.4 L1054.5,632.1 L1056.9,634.2 L1059.2,636.6 L1061.5,639.4 L1063.9,642.5 L1066.2,646.0 L1068.5,649.9 L1070.9,654.1 L1070.9,654.1"/>
<path d="M985.6,596.3 L988.0,586.6 L990.3,577.1 L992.7,567.6 L995.0,558.3 L997.3,549.2 L999.7,540.2 L1002.0,531.5 L1004.3,522.9 L1006.7,514.6 L1009.0,506.5 L1011.3,498.7 L1013.7,491.2 L1016.0,484.0 L1018.3,477.1 L1020.7,470.5 L1023.0,464.2 L1025.3,458.4 L1027.7,452.9 L1030.0,447.8 L1032.3,443.1 L1034.7,438.8 L1037.0,435.0 L1039.4,431.6 L1041.7,428.7 L1044.0,426.2 L1046.4,424.2 L1048.7,422.7 L1051.0,421.7 L1053.4,421.2 L1055.7,421.2 L1058.0,421.6 L1060.4,422.5 L1062.7,423.8 L1065.0,425.6 L1067.4,427.9 L1069.7,430.6 L1072.0,433.8 L1074.4,437.5 L1076.7,441.6 L1079.0,446.2 L1081.4,451.2 L1083.7,456.7 L1086.1,462.7 L1088.4,469.1 L1090.7,475.9 L1093.1,483.2 L1095.4,490.9 L1097.7,498.9 L1100.1,507.4 L1102.4,516.2 L1104.7,525.4 L1105.9,530.2"/>
<path d="M988.0,597.9 L990.3,591.5 L992.7,585.3 L995.0,579.3 L997.3,573.6 L999.7,568.2 L1002.0,563.0 L1004.3,558.2 L1006.7,553.7 L1009.0,549.4 L1011.3,545.6 L1013.7,542.0 L1016.0,538.9 L1018.3,536.1 L1020.7,533.6 L1023.0,531.6 L1025.3,529.9 L1027.7,528.6 L1030.0,527.8 L1032.3,527.3 L1034.7,527.2 L1037.0,527.5 L1039.4,528.2 L1041.7,529.3 L1044.0,530.7 L1046.4,532.5 L1048.7,534.7 L1051.0,537.2 L1053.4,540.2 L1055.7,543.5 L1058.0,547.2 L1060.4,551.3 L1062.7,555.7 L1065.0,560.5 L1067.4,565.7 L1069.7,571.3 L1072.0,577.2 L1074.4,583.4 L1076.7,590.0 L1079.0,596.9 L1081.4,604.1 L1083.7,611.6 L1084.9,615.5"/>
<path d="M970.5,524.7 L972.8,514.1 L975.1,503.6 L977.5,493.2 L979.8,483.0 L982.1,472.8 L984.5,462.9 L986.8,453.1 L989.2,443.5 L991.5,434.1 L993.8,424.9 L996.2,416.0 L998.5,407.3 L1000.8,398.9 L1003.2,390.8 L1005.5,383.0 L1007.8,375.5 L1010.2,368.3 L1012.5,361.5 L1014.8,355.1 L1017.2,349.1 L1019.5,343.4 L1021.8,338.2 L1024.2,333.4 L1026.5,329.0 L1028.8,325.1 L1031.2,321.7 L1033.5,318.7 L1035.9,316.2 L1038.2,314.2 L1040.5,312.7 L1042.9,311.7 L1045.2,311.2 L1047.5,311.2 L1049.9,311.6 L1052.2,312.6 L1054.5,314.0 L1056.9,315.8 L1059.2,318.1 L1061.5,321.0 L1063.9,324.3 L1066.2,328.0 L1068.5,332.3 L1070.9,337.0 L1073.2,342.2 L1075.5,347.8 L1077.9,354.0 L1080.2,360.6 L1082.6,367.6 L1084.9,375.1 L1087.2,383.0 L1089.6,391.3 L1091.9,400.1 L1094.2,409.2 L1096.6,418.7 L1098.9,428.6 L1101.2,438.9 L1103.6,449.5 L1105.9,460.4 L1108.2,471.6 L1110.6,483.2 L1112.9,494.9 L1112.9,494.9"/>
<path d="M978.6,562.2 L981.0,555.0 L983.3,548.1 L985.6,541.6 L988.0,535.3 L990.3,529.4 L992.7,523.8 L995.0,518.5 L997.3,513.6 L999.7,509.1 L1002.0,505.1 L1004.3,501.4 L1006.7,498.1 L1009.0,495.3 L1011.3,492.9 L1013.7,491.0 L1016.0,489.6 L1018.3,488.6 L1020.7,488.1 L1023.0,488.0 L1025.3,488.4 L1027.7,489.2 L1030.0,490.5 L1032.3,492.2 L1034.7,494.4 L1037.0,496.9 L1039.4,500.0 L1041.7,503.5 L1044.0,507.4 L1046.4,511.8 L1048.7,516.6 L1051.0,521.8 L1053.4,527.5 L1055.7,533.6 L1058.0,540.1 L1060.4,547.0 L1062.7,554.3 L1065.0,562.0 L1067.4,570.0 L1069.7,578.4 L1072.0,587.2 L1074.4,596.2 L1076.7,605.6 L1079.0,615.3 L1081.4,625.2 L1081.4,625.2"/>
<path d="M998.5,633.2 L1000.8,628.1 L1003.2,623.3 L1005.5,618.9 L1007.8,614.7 L1010.2,610.8 L1012.5,607.2 L1014.8,603.9 L1017.2,601.0 L1019.5,598.4 L1021.8,596.2 L1024.2,594.4 L1026.5,592.9 L1028.8,591.8 L1031.2,591.0 L1033.5,590.7 L1035.9,590.7 L1038.2,591.1 L1040.5,591.8 L1042.9,592.9 L1045.2,594.3 L1047.5,596.1 L1049.9,598.3 L1052.2,600.8 L1054.5,603.6 L1056.9,606.9 L1059.2,610.4 L1061.5,614.4 L1063.9,618.7 L1066.2,623.3 L1068.5,628.3 L1070.9,633.6 L1073.2,639.3 L1074.4,642.2"/>
<path d="M977.5,556.9 L979.8,547.1 L982.1,537.4 L984.5,527.9 L986.8,518.6 L989.2,509.4 L991.5,500.4 L993.8,491.6 L996.2,483.0 L998.5,474.6 L1000.8,466.5 L1003.2,458.7 L1005.5,451.1 L1007.8,443.9 L1010.2,437.0 L1012.5,430.4 L1014.8,424.1 L1017.2,418.2 L1019.5,412.7 L1021.8,407.6 L1024.2,402.9 L1026.5,398.6 L1028.8,394.7 L1031.2,391.3 L1033.5,388.3 L1035.9,385.8 L1038.2,383.7 L1040.5,382.1 L1042.9,381.0 L1045.2,380.4 L1047.5,380.3 L1049.9,380.6 L1052.2,381.4 L1054.5,382.6 L1056.9,384.3 L1059.2,386.4 L1061.5,389.0 L1063.9,392.1 L1066.2,395.6 L1068.5,399.5 L1070.9,404.0 L1073.2,408.8 L1075.5,414.2 L1077.9,419.9 L1080.2,426.2 L1082.6,432.8 L1084.9,439.9 L1087.2,447.4 L1089.6,455.3 L1091.9,463.6 L1094.2,472.2 L1096.6,481.3 L1098.9,490.7 L1101.2,500.4 L1103.6,510.5 L1105.9,520.8 L1107.1,526.1"/>
<path d="M1005.5,651.1 L1007.8,648.6 L1010.2,646.3 L1012.5,644.4 L1014.8,642.7 L1017.2,641.3 L1019.5,640.3 L1021.8,639.5 L1024.2,639.1 L1026.5,639.0 L1028.8,639.2 L1031.2,639.6 L1033.5,640.4 L1035.9,641.4 L1038.2,642.8 L1040.5,644.4 L1042.9,646.4 L1045.2,648.6 L1047.5,651.1 L1049.9,653.9 L1052.2,657.1 L1054.5,660.5 L1056.9,664.2 L1059.2,668.2 L1061.5,672.4 L1061.5,672.4"/>
<path d="M981.0,572.4 L983.3,562.9 L985.6,553.6 L988.0,544.6 L990.3,535.7 L992.7,527.2 L995.0,518.8 L997.3,510.8 L999.7,503.1 L1002.0,495.6 L1004.3,488.6 L1006.7,481.9 L1009.0,475.5 L1011.3,469.6 L1013.7,464.1 L1016.0,459.0 L1018.3,454.3 L1020.7,450.2 L1023.0,446.4 L1025.3,443.2 L1027.7,440.5 L1030.0,438.3 L1032.3,436.6 L1034.7,435.4 L1037.0,434.8 L1039.4,434.7 L1041.7,435.1 L1044.0,435.9 L1046.4,437.3 L1048.7,439.2 L1051.0,441.5 L1053.4,444.4 L1055.7,447.8 L1058.0,451.6 L1060.4,456.0 L1062.7,460.9 L1065.0,466.2 L1067.4,472.1 L1069.7,478.4 L1072.0,485.2 L1074.4,492.5 L1076.7,500.2 L1079.0,508.4 L1081.4,517.0 L1083.7,526.0 L1086.1,535.4 L1088.4,545.1 L1090.7,555.3 L1093.1,565.7 L1095.4,576.5 L1095.4,576.5"/>
<path d="M998.5,636.2 L1000.8,628.8 L1003.2,621.5 L1005.5,614.5 L1007.8,607.7 L1010.2,601.2 L1012.5,594.9 L1014.8,588.9 L1017.2,583.1 L1019.5,577.7 L1021.8,572.6 L1024.2,567.8 L1026.5,563.4 L1028.8,559.3 L1031.2,555.5 L1033.5,552.2 L1035.9,549.2 L1038.2,546.7 L1040.5,544.5 L1042.9,542.8 L1045.2,541.5 L1047.5,540.6 L1049.9,540.2 L1052.2,540.1 L1054.5,540.5 L1056.9,541.3 L1059.2,542.5 L1061.5,544.1 L1063.9,546.1 L1066.2,548.4 L1068.5,551.2 L1070.9,554.5 L1073.2,558.1 L1075.5,562.1 L1077.9,566.5 L1080.2,571.3 L1082.6,576.6 L1084.9,582.2 L1087.2,588.1 L1089.6,594.5 L1089.6,594.5"/>
<path d="M964.6,503.4 L967.0,492.8 L969.3,482.5 L971.6,472.2 L974.0,462.2 L976.3,452.4 L978.6,442.8 L981.0,433.5 L983.3,424.4 L985.6,415.6 L988.0,407.1 L990.3,398.9 L992.7,391.1 L995.0,383.6 L997.3,376.5 L999.7,369.8 L1002.0,363.5 L1004.3,357.7 L1006.7,352.2 L1009.0,347.3 L1011.3,342.8 L1013.7,338.7 L1016.0,335.2 L1018.3,332.2 L1020.7,329.7 L1023.0,327.7 L1025.3,326.3 L1027.7,325.4 L1030.0,325.0 L1032.3,325.2 L1034.7,325.9 L1037.0,327.1 L1039.4,328.7 L1041.7,330.9 L1044.0,333.6 L1046.4,336.8 L1048.7,340.5 L1051.0,344.8 L1053.4,349.5 L1055.7,354.7 L1058.0,360.5 L1060.4,366.8 L1062.7,373.5 L1065.0,380.7 L1067.4,388.4 L1069.7,396.6 L1072.0,405.2 L1074.4,414.3 L1076.7,423.8 L1079.0,433.7 L1081.4,444.0 L1083.7,454.7 L1086.1,465.7 L1088.4,477.1 L1090.7,488.7 L1093.1,500.7 L1095.4,513.0 L1097.7,525.5 L1100.1,538.3 L1101.2,544.7"/>
<path d="M1019.5,677.2 L1021.8,674.3 L1024.2,671.8 L1026.5,669.5 L1028.8,667.5 L1031.2,665.8 L1033.5,664.4 L1035.9,663.3 L1038.2,662.5 L1040.5,662.0 L1042.9,661.9 L1045.2,662.1 L1047.5,662.5 L1049.9,663.2 L1052.2,664.2 L1054.5,665.5 L1056.9,667.2 L1059.2,669.1 L1061.5,671.3 L1061.5,671.3"/>
<path d="M988.0,604.1 L990.3,595.8 L992.7,587.6 L995.0,579.6 L997.3,571.7 L999.7,564.0 L1002.0,556.4 L1004.3,549.1 L1006.7,541.9 L1009.0,535.0 L1011.3,528.3 L1013.7,521.9 L1016.0,515.7 L1018.3,509.8 L1020.7,504.2 L1023.0,498.9 L1025.3,493.8 L1027.7,489.2 L1030.0,484.8 L1032.3,480.8 L1034.7,477.1 L1037.0,473.8 L1039.4,470.9 L1041.7,468.3 L1044.0,466.2 L1046.4,464.4 L1048.7,463.1 L1051.0,462.1 L1053.4,461.6 L1055.7,461.5 L1058.0,461.7 L1060.4,462.4 L1062.7,463.4 L1065.0,464.8 L1067.4,466.5 L1069.7,468.7 L1072.0,471.2 L1074.4,474.2 L1076.7,477.5 L1079.0,481.2 L1081.4,485.3 L1083.7,489.8 L1086.1,494.6 L1088.4,499.9 L1090.7,505.5 L1093.1,511.4 L1095.4,517.7 L1097.7,524.4 L1100.1,531.4 L1102.4,538.8 L1103.6,542.5 M1282.2,1138.2 L1284.5,1140.6 L1286.9,1142.8 L1289.2,1145.0 L1291.5,1147.0 L1292.7,1148.0"/>
<path d="M990.3,606.8 L992.7,601.5 L995.0,596.5 L997.3,591.8 L999.7,587.5 L1002.0,583.5 L1004.3,579.9 L1006.7,576.7 L1009.0,573.8 L1011.3,571.4 L1013.7,569.4 L1016.0,567.8 L1018.3,566.6 L1020.7,565.9 L1023.0,565.6 L1025.3,565.7 L1027.7,566.3 L1030.0,567.2 L1032.3,568.5 L1034.7,570.3 L1037.0,572.4 L1039.4,574.9 L1041.7,577.9 L1044.0,581.3 L1046.4,585.1 L1048.7,589.3 L1051.0,593.9 L1053.4,598.9 L1055.7,604.2 L1058.0,610.0 L1060.4,616.2 L1062.7,622.7 L1065.0,629.5 L1067.4,636.7 L1069.7,644.3 L1072.0,652.1 L1072.0,652.1"/>
<path d="M970.5,530.7 L972.8,520.2 L975.1,509.8 L977.5,499.6 L979.8,489.6 L982.1,479.8 L984.5,470.2 L986.8,460.9 L989.2,451.8 L991.5,443.0 L993.8,434.5 L996.2,426.3 L998.5,418.5 L1000.8,411.0 L1003.2,403.9 L1005.5,397.2 L1007.8,390.9 L1010.2,385.0 L1012.5,379.6 L1014.8,374.6 L1017.2,370.1 L1019.5,366.1 L1021.8,362.6 L1024.2,359.6 L1026.5,357.2 L1028.8,355.2 L1031.2,353.9 L1033.5,353.0 L1035.9,352.8 L1038.2,353.0 L1040.5,353.8 L1042.9,355.0 L1045.2,356.8 L1047.5,359.0 L1049.9,361.8 L1052.2,365.1 L1054.5,369.0 L1056.9,373.3 L1059.2,378.2 L1061.5,383.6 L1063.9,389.5 L1066.2,395.9 L1068.5,402.8 L1070.9,410.1 L1073.2,418.0 L1075.5,426.3 L1077.9,435.1 L1080.2,444.3 L1082.6,453.9 L1084.9,464.0 L1087.2,474.4 L1089.6,485.2 L1091.9,496.4 L1094.2,507.8 L1096.6,519.6 L1098.9,531.7 L1101.2,544.0 L1102.4,550.3"/>
<path d="M1009.0,662.3 L1011.3,657.2 L1013.7,652.3 L1016.0,647.7 L1018.3,643.4 L1020.7,639.3 L1023.0,635.6 L1025.3,632.1 L1027.7,628.9 L1030.0,626.0 L1032.3,623.4 L1034.7,621.2 L1037.0,619.3 L1039.4,617.8 L1041.7,616.6 L1044.0,615.8 L1046.4,615.3 L1048.7,615.2 L1051.0,615.4 L1053.4,615.9 L1055.7,616.8 L1058.0,618.0 L1060.4,619.5 L1062.7,621.4 L1065.0,623.6 L1067.4,626.1 L1069.7,629.0 L1072.0,632.2 L1074.4,635.8 L1076.7,639.7 L1076.7,639.7"/>
<path d="M970.5,527.4 L972.8,518.9 L975.1,510.6 L977.5,502.5 L979.8,494.7 L982.1,487.1 L984.5,479.7 L986.8,472.6 L989.2,465.9 L991.5,459.4 L993.8,453.2 L996.2,447.4 L998.5,441.9 L1000.8,436.8 L1003.2,432.1 L1005.5,427.7 L1007.8,423.8 L1010.2,420.2 L1012.5,417.1 L1014.8,414.4 L1017.2,412.1 L1019.5,410.3 L1021.8,409.0 L1024.2,408.1 L1026.5,407.6 L1028.8,407.6 L1031.2,408.1 L1033.5,408.9 L1035.9,410.2 L1038.2,411.9 L1040.5,414.1 L1042.9,416.6 L1045.2,419.7 L1047.5,423.1 L1049.9,427.0 L1052.2,431.3 L1054.5,436.0 L1056.9,441.2 L1059.2,446.8 L1061.5,452.8 L1063.9,459.2 L1066.2,466.0 L1068.5,473.2 L1070.9,480.8 L1073.2,488.8 L1075.5,497.1 L1077.9,505.8 L1080.2,514.8 L1082.6,524.1 L1084.9,533.7 L1087.2,543.6 L1089.6,553.8 L1091.9,564.3 L1094.2,574.9 L1094.2,574.9"/>
<path d="M988.0,598.0 L990.3,591.3 L992.7,584.9 L995.0,578.6 L997.3,572.6 L999.7,566.8 L1002.0,561.2 L1004.3,555.9 L1006.7,550.9 L1009.0,546.2 L1011.3,541.7 L1013.7,537.5 L1016.0,533.7 L1018.3,530.2 L1020.7,527.0 L1023.0,524.1 L1025.3,521.6 L1027.7,519.5 L1030.0,517.7 L1032.3,516.3 L1034.7,515.2 L1037.0,514.5 L1039.4,514.2 L1041.7,514.3 L1044.0,514.7 L1046.4,515.5 L1048.7,516.6 L1051.0,518.1 L1053.4,519.9 L1055.7,522.0 L1058.0,524.6 L1060.4,527.4 L1062.7,530.7 L1065.0,534.3 L1067.4,538.2 L1069.7,542.5 L1072.0,547.1 L1074.4,552.1 L1076.7,557.4 L1079.0,563.1 L1081.4,569.0 L1083.7,575.3 L1086.1,581.9 L1088.4,588.8 L1090.7,596.0 L1090.7,596.0"/>
<path d="M975.1,555.0 L977.5,543.0 L979.8,531.0 L982.1,519.1 L984.5,507.3 L986.8,495.6 L989.2,484.0 L991.5,472.5 L993.8,461.3 L996.2,450.2 L998.5,439.4 L1000.8,428.8 L1003.2,418.4 L1005.5,408.3 L1007.8,398.5 L1010.2,389.1 L1012.5,380.0 L1014.8,371.2 L1017.2,362.9 L1019.5,354.9 L1021.8,347.4 L1024.2,340.4 L1026.5,333.8 L1028.8,327.7 L1031.2,322.1 L1033.5,317.0 L1035.9,312.5 L1038.2,308.5 L1040.5,305.1 L1042.9,302.3 L1045.2,300.1 L1047.5,298.5 L1049.9,297.5 L1052.2,297.1 L1054.5,297.3 L1056.9,298.1 L1059.2,299.4 L1061.5,301.4 L1063.9,303.8 L1066.2,306.9 L1068.5,310.5 L1070.9,314.7 L1073.2,319.5 L1075.5,324.9 L1077.9,330.9 L1080.2,337.4 L1082.6,344.5 L1084.9,352.1 L1087.2,360.3 L1089.6,369.0 L1091.9,378.2 L1094.2,387.9 L1096.6,398.1 L1098.9,408.8 L1101.2,419.9 L1103.6,431.4 L1105.9,443.4 L1108.2,455.7 L1110.6,468.4 L1112.9,481.4 L1114.1,488.0"/>
<path d="M988.0,602.3 L990.3,594.5 L992.7,586.9 L995.0,579.6 L997.3,572.4 L999.7,565.5 L1002.0,558.8 L1004.3,552.4 L1006.7,546.2 L1009.0,540.3 L1011.3,534.8 L1013.7,529.5 L1016.0,524.5 L1018.3,519.9 L1020.7,515.7 L1023.0,511.8 L1025.3,508.3 L1027.7,505.1 L1030.0,502.4 L1032.3,500.0 L1034.7,498.1 L1037.0,496.6 L1039.4,495.5 L1041.7,494.8 L1044.0,494.6 L1046.4,494.7 L1048.7,495.3 L1051.0,496.3 L1053.4,497.6 L1055.7,499.3 L1058.0,501.5 L1060.4,504.0 L1062.7,507.0 L1065.0,510.4 L1067.4,514.1 L1069.7,518.3 L1072.0,522.8 L1074.4,527.8 L1076.7,533.1 L1079.0,538.8 L1081.4,544.9 L1083.7,551.4 L1086.1,558.2 L1088.4,565.4 L1090.7,572.9 L1093.1,580.7 L1093.1,580.7"/>
<path d="M1009.0,662.0 L1011.3,656.3 L1013.7,650.7 L1016.0,645.4 L1018.3,640.3 L1020.7,635.5 L1023.0,630.9 L1025.3,626.5 L1027.7,622.4 L1030.0,618.6 L1032.3,615.0 L1034.7,611.8 L1037.0,608.8 L1039.4,606.2 L1041.7,603.9 L1044.0,601.8 L1046.4,600.2 L1048.7,598.8 L1051.0,597.8 L1053.4,597.2 L1055.7,596.9 L1058.0,596.9 L1060.4,597.2 L1062.7,597.9 L1065.0,598.9 L1067.4,600.2 L1069.7,601.8 L1072.0,603.8 L1074.4,606.0 L1076.7,608.6 L1079.0,611.6 L1081.4,614.8 L1083.7,618.4 L1083.7,618.4"/>
<path d="M825.7,994.3 L828.0,989.4 L830.4,984.4 L832.7,979.3 L835.0,974.0 L837.4,968.7 L839.7,963.2 L842.0,957.5 L844.4,951.8 L846.7,945.9 L849.1,939.8 L851.4,933.7 L853.7,927.4 L856.1,920.9 L858.4,914.4 L860.7,907.7 L863.1,900.8 L865.4,893.9 L867.7,886.8 L870.1,879.5 L872.4,872.1 L874.7,864.6 L877.1,857.0 L879.4,849.2 L881.7,841.3 L884.1,833.2 L886.4,825.0 L888.7,816.7 L891.1,808.3 L893.4,799.8 L895.8,791.1 L898.1,782.4 L900.4,773.5 L902.8,764.5 L905.1,755.5 L907.4,746.3 L909.8,737.0 L910.9,732.4 M967.0,506.0 L969.3,497.7 L971.6,489.5 L974.0,481.5 L976.3,473.8 L978.6,466.3 L981.0,459.1 L983.3,452.2 L985.6,445.5 L988.0,439.1 L990.3,433.0 L992.7,427.3 L995.0,421.9 L997.3,416.8 L999.7,412.1 L1002.0,407.8 L1004.3,403.9 L1006.7,400.3 L1009.0,397.2 L1011.3,394.5 L1013.7,392.2 L1016.0,390.3 L1018.3,388.8 L1020.7,387.8 L1023.0,387.2 L1025.3,387.1 L1027.7,387.4 L1030.0,388.1 L1032.3,389.2 L1034.7,390.7 L1037.0,392.7 L1039.4,395.0 L1041.7,397.8 L1044.0,401.0 L1046.4,404.6 L1048.7,408.6 L1051.0,413.0 L1053.4,417.9 L1055.7,423.1 L1058.0,428.8 L1060.4,434.8 L1062.7,441.3 L1065.0,448.1 L1067.4,455.3 L1069.7,462.9 L1072.0,470.8 L1074.4,479.1 L1076.7,487.7 L1079.0,496.7 L1081.4,505.9 L1083.7,515.4 L1086.1,525.3 L1088.4,535.3 L1090.7,545.7 L1093.1,556.3 L1095.4,567.0 L1096.6,572.5"/>
<path d="M1012.5,666.2 L1014.8,662.5 L1017.2,659.1 L1019.5,656.0 L1021.8,653.3 L1024.2,650.9 L1026.5,649.0 L1028.8,647.4 L1031.2,646.1 L1033.5,645.3 L1035.9,644.9 L1038.2,644.8 L1040.5,645.2 L1042.9,645.8 L1045.2,646.9 L1047.5,648.3 L1049.9,650.1 L1052.2,652.2 L1054.5,654.8 L1056.9,657.6 L1059.2,660.9 L1061.5,664.5 L1063.9,668.5 L1063.9,668.5"/>
<path d="M986.8,594.5 L989.2,585.1 L991.5,575.8 L993.8,566.6 L996.2,557.6 L998.5,548.8 L1000.8,540.3 L1003.2,532.0 L1005.5,523.9 L1007.8,516.1 L1010.2,508.6 L1012.5,501.4 L1014.8,494.6 L1017.2,488.1 L1019.5,481.9 L1021.8,476.1 L1024.2,470.8 L1026.5,465.8 L1028.8,461.2 L1031.2,457.1 L1033.5,453.5 L1035.9,450.3 L1038.2,447.5 L1040.5,445.3 L1042.9,443.6 L1045.2,442.3 L1047.5,441.6 L1049.9,441.4 L1052.2,441.6 L1054.5,442.4 L1056.9,443.6 L1059.2,445.2 L1061.5,447.4 L1063.9,450.0 L1066.2,453.1 L1068.5,456.6 L1070.9,460.7 L1073.2,465.2 L1075.5,470.2 L1077.9,475.7 L1080.2,481.7 L1082.6,488.1 L1084.9,494.9 L1087.2,502.2 L1089.6,509.9 L1091.9,518.0 L1094.2,526.5 L1096.6,535.4 L1098.9,544.7 L1101.2,554.3 L1101.2,554.3"/>
<path d="M989.2,602.0 L991.5,596.1 L993.8,590.5 L996.2,585.1 L998.5,580.1 L1000.8,575.3 L1003.2,570.9 L1005.5,566.8 L1007.8,563.1 L1010.2,559.7 L1012.5,556.7 L1014.8,554.0 L1017.2,551.8 L1019.5,549.9 L1021.8,548.4 L1024.2,547.4 L1026.5,546.7 L1028.8,546.5 L1031.2,546.7 L1033.5,547.2 L1035.9,548.2 L1038.2,549.5 L1040.5,551.2 L1042.9,553.2 L1045.2,555.7 L1047.5,558.6 L1049.9,561.8 L1052.2,565.5 L1054.5,569.5 L1056.9,573.9 L1059.2,578.7 L1061.5,583.9 L1063.9,589.4 L1066.2,595.3 L1068.5,601.5 L1070.9,608.1 L1073.2,615.0 L1075.5,622.2 L1077.9,629.8 L1079.0,633.6"/>
<path d="M970.5,527.1 L972.8,516.6 L975.1,506.2 L977.5,496.0 L979.8,485.9 L982.1,475.9 L984.5,466.2 L986.8,456.7 L989.2,447.4 L991.5,438.3 L993.8,429.5 L996.2,421.0 L998.5,412.7 L1000.8,404.8 L1003.2,397.2 L1005.5,389.9 L1007.8,383.0 L1010.2,376.5 L1012.5,370.3 L1014.8,364.6 L1017.2,359.3 L1019.5,354.4 L1021.8,350.0 L1024.2,346.0 L1026.5,342.5 L1028.8,339.5 L1031.2,337.0 L1033.5,335.0 L1035.9,333.5 L1038.2,332.5 L1040.5,332.0 L1042.9,332.1 L1045.2,332.6 L1047.5,333.6 L1049.9,335.1 L1052.2,337.1 L1054.5,339.5 L1056.9,342.5 L1059.2,345.9 L1061.5,349.8 L1063.9,354.3 L1066.2,359.2 L1068.5,364.6 L1070.9,370.4 L1073.2,376.8 L1075.5,383.6 L1077.9,390.9 L1080.2,398.6 L1082.6,406.8 L1084.9,415.4 L1087.2,424.4 L1089.6,433.8 L1091.9,443.6 L1094.2,453.8 L1096.6,464.3 L1098.9,475.1 L1101.2,486.3 L1103.6,497.8 L1105.9,509.6 L1108.2,521.6 L1108.2,521.6"/>
<path d="M1027.7,685.8 L1030.0,682.8 L1032.3,680.0 L1034.7,677.4 L1037.0,675.2 L1039.4,673.2 L1041.7,671.5 L1044.0,670.1 L1046.4,669.0 L1048.7,668.2 L1051.0,667.7 L1053.4,667.4 L1055.7,667.5 L1058.0,667.9 L1060.4,668.5 L1061.5,668.9"/>
<path d="M982.1,575.2 L984.5,566.7 L986.8,558.4 L989.2,550.3 L991.5,542.5 L993.8,535.0 L996.2,527.9 L998.5,521.0 L1000.8,514.5 L1003.2,508.3 L1005.5,502.6 L1007.8,497.2 L1010.2,492.2 L1012.5,487.7 L1014.8,483.6 L1017.2,479.9 L1019.5,476.8 L1021.8,474.1 L1024.2,471.9 L1026.5,470.2 L1028.8,469.0 L1031.2,468.3 L1033.5,468.1 L1035.9,468.4 L1038.2,469.2 L1040.5,470.5 L1042.9,472.2 L1045.2,474.4 L1047.5,477.1 L1049.9,480.3 L1052.2,484.0 L1054.5,488.2 L1056.9,492.8 L1059.2,497.9 L1061.5,503.5 L1063.9,509.6 L1066.2,516.1 L1068.5,523.0 L1070.9,530.4 L1073.2,538.2 L1075.5,546.5 L1077.9,555.1 L1080.2,564.1 L1082.6,573.5 L1084.9,583.2 L1087.2,593.2 L1088.4,598.4"/>
<path d="M1000.8,640.8 L1003.2,634.4 L1005.5,628.2 L1007.8,622.3 L1010.2,616.6 L1012.5,611.2 L1014.8,606.1 L1017.2,601.3 L1019.5,596.9 L1021.8,592.7 L1024.2,588.9 L1026.5,585.5 L1028.8,582.4 L1031.2,579.7 L1033.5,577.4 L1035.9,575.5 L1038.2,574.0 L1040.5,572.9 L1042.9,572.2 L1045.2,571.9 L1047.5,572.0 L1049.9,572.6 L1052.2,573.4 L1054.5,574.7 L1056.9,576.4 L1059.2,578.4 L1061.5,580.9 L1063.9,583.7 L1066.2,586.9 L1068.5,590.5 L1070.9,594.6 L1073.2,598.9 L1075.5,603.7 L1077.9,608.9 L1080.2,614.4 L1082.6,620.2 L1082.6,620.2"/>
<path d="M982.1,577.8 L984.5,567.2 L986.8,556.6 L989.2,546.2 L991.5,535.8 L993.8,525.6 L996.2,515.5 L998.5,505.5 L1000.8,495.8 L1003.2,486.2 L1005.5,476.9 L1007.8,467.8 L1010.2,458.9 L1012.5,450.3 L1014.8,442.0 L1017.2,433.9 L1019.5,426.3 L1021.8,418.9 L1024.2,411.9 L1026.5,405.3 L1028.8,399.0 L1031.2,393.2 L1033.5,387.8 L1035.9,382.8 L1038.2,378.3 L1040.5,374.2 L1042.9,370.7 L1045.2,367.6 L1047.5,365.0 L1049.9,362.9 L1052.2,361.3 L1054.5,360.2 L1056.9,359.7 L1059.2,359.7 L1061.5,360.2 L1063.9,361.2 L1066.2,362.6 L1068.5,364.6 L1070.9,367.0 L1073.2,369.9 L1075.5,373.3 L1077.9,377.3 L1080.2,381.7 L1082.6,386.6 L1084.9,392.0 L1087.2,397.9 L1089.6,404.3 L1091.9,411.1 L1094.2,418.4 L1096.6,426.2 L1098.9,434.4 L1101.2,443.0 L1103.6,452.0 L1105.9,461.5 L1108.2,471.3 L1110.6,481.5 L1112.9,492.1 L1112.9,492.1"/>
<path d="M999.7,637.2 L1002.0,634.1 L1004.3,631.4 L1006.7,629.0 L1009.0,626.9 L1011.3,625.1 L1013.7,623.6 L1016.0,622.5 L1018.3,621.7 L1020.7,621.3 L1023.0,621.2 L1025.3,621.4 L1027.7,621.9 L1030.0,622.8 L1032.3,624.0 L1034.7,625.4 L1037.0,627.3 L1039.4,629.4 L1041.7,631.8 L1044.0,634.6 L1046.4,637.7 L1048.7,641.1 L1051.0,644.9 L1053.4,648.9 L1055.7,653.3 L1058.0,657.9 L1060.4,662.9 L1062.7,668.1 L1062.7,668.1"/>
<path d="M974.0,543.7 L976.3,535.2 L978.6,526.8 L981.0,518.7 L983.3,510.8 L985.6,503.0 L988.0,495.5 L990.3,488.3 L992.7,481.3 L995.0,474.6 L997.3,468.2 L999.7,462.0 L1002.0,456.2 L1004.3,450.7 L1006.7,445.6 L1009.0,440.8 L1011.3,436.4 L1013.7,432.3 L1016.0,428.7 L1018.3,425.4 L1020.7,422.6 L1023.0,420.1 L1025.3,418.1 L1027.7,416.5 L1030.0,415.3 L1032.3,414.6 L1034.7,414.4 L1037.0,414.5 L1039.4,415.1 L1041.7,416.0 L1044.0,417.4 L1046.4,419.2 L1048.7,421.4 L1051.0,424.0 L1053.4,427.0 L1055.7,430.4 L1058.0,434.3 L1060.4,438.6 L1062.7,443.2 L1065.0,448.3 L1067.4,453.8 L1069.7,459.7 L1072.0,466.0 L1074.4,472.7 L1076.7,479.7 L1079.0,487.1 L1081.4,494.9 L1083.7,503.0 L1086.1,511.4 L1088.4,520.2 L1090.7,529.2 L1093.1,538.6 L1095.4,548.2 L1097.7,558.1 L1098.9,563.2"/>
<path d="M995.0,624.0 L997.3,616.0 L999.7,608.3 L1002.0,600.7 L1004.3,593.4 L1006.7,586.4 L1009.0,579.6 L1011.3,573.1 L1013.7,566.9 L1016.0,561.1 L1018.3,555.6 L1020.7,550.4 L1023.0,545.6 L1025.3,541.2 L1027.7,537.2 L1030.0,533.6 L1032.3,530.4 L1034.7,527.7 L1037.0,525.4 L1039.4,523.5 L1041.7,522.1 L1044.0,521.2 L1046.4,520.8 L1048.7,520.8 L1051.0,521.2 L1053.4,522.1 L1055.7,523.4 L1058.0,525.2 L1060.4,527.4 L1062.7,530.0 L1065.0,533.1 L1067.4,536.7 L1069.7,540.6 L1072.0,545.1 L1074.4,549.9 L1076.7,555.2 L1079.0,560.9 L1081.4,567.0 L1083.7,573.6 L1086.1,580.5 L1088.4,587.8 L1090.7,595.5 L1090.7,595.5"/>
</g>
<path d="M825.7,1015.0 L828.0,1010.4 L830.4,1005.7 L832.7,1000.8 L835.0,995.8 L837.4,990.7 L839.7,985.4 L842.0,979.9 L844.4,974.4 L846.7,968.6 L849.1,962.7 L851.4,956.7 L853.7,950.5 L856.1,944.1 L858.4,937.6 L860.7,930.8 L863.1,924.0 L865.4,916.9 L867.7,909.7 L870.1,902.3 L872.4,894.7 L874.7,886.9 L877.1,878.9 L879.4,870.8 L881.7,862.5 L884.1,853.9 L886.4,845.2 L888.7,836.3 L891.1,827.3 L893.4,818.0 L895.8,808.5 L898.1,798.9 L900.4,789.1 L902.8,779.1 L905.1,768.9 L907.4,758.5 L909.8,748.0 L912.1,737.3 L914.4,726.4 L916.8,715.4 L919.1,704.2 L921.4,692.8 L923.8,681.3 L926.1,669.7 L928.4,657.9 L930.8,646.0 L933.1,634.0 L935.4,621.9 L937.8,609.7 L940.1,597.4 L942.5,585.0 L944.8,572.6 L947.1,560.1 L949.5,547.6 L951.8,535.1 L954.1,522.5 L956.5,510.0 L958.8,497.5 L961.1,485.0 L963.5,472.6 L965.8,460.2 L968.1,448.0 L970.5,435.8 L972.8,423.8 L975.1,412.0 L977.5,400.2 L979.8,388.7 L982.1,377.4 L984.5,366.4 L986.8,355.5 L989.2,345.0 L991.5,334.7 L993.8,324.8 L996.2,315.1 L998.5,305.9 L1000.8,297.0 L1003.2,288.5 L1005.5,280.4 L1007.8,272.8 L1010.2,265.6 L1012.5,258.9 L1014.8,252.6 L1017.2,246.9 L1019.5,241.7 L1021.8,237.0 L1024.2,232.9 L1026.5,229.4 L1028.8,226.4 L1031.2,224.0 L1033.5,222.2 L1035.9,221.1 L1038.2,220.5 L1040.5,220.6 L1042.9,221.2 L1045.2,222.3 L1047.5,224.0 L1049.9,226.3 L1052.2,229.2 L1054.5,232.6 L1056.9,236.6 L1059.2,241.2 L1061.5,246.4 L1063.9,252.1 L1066.2,258.4 L1068.5,265.3 L1070.9,272.7 L1073.2,280.6 L1075.5,289.1 L1077.9,298.1 L1080.2,307.7 L1082.6,317.7 L1084.9,328.2 L1087.2,339.2 L1089.6,350.6 L1091.9,362.5 L1094.2,374.7 L1096.6,387.4 L1098.9,400.4 L1101.2,413.8 L1103.6,427.4 L1105.9,441.4 L1108.2,455.6 L1110.6,470.1 L1112.9,484.8 L1115.2,499.7 L1117.6,514.8 L1119.9,530.0 L1122.2,545.3 L1124.6,560.7 L1126.9,576.2 L1129.2,591.7 L1131.6,607.2 L1133.9,622.7 L1136.3,638.2 L1138.6,653.6 L1140.9,668.9 L1143.3,684.2 L1145.6,699.3 L1147.9,714.3 L1150.3,729.1 L1152.6,743.7 L1154.9,758.2 L1157.3,772.4 L1159.6,786.5 L1161.9,800.3 L1164.3,813.8 L1166.6,827.1 L1168.9,840.1 L1171.3,852.9 L1173.6,865.3 L1176.0,877.5 L1178.3,889.4 L1180.6,900.9 L1183.0,912.2 L1185.3,923.2 L1187.6,933.8 L1190.0,944.2 L1192.3,954.2 L1194.6,963.9 L1197.0,973.3 L1199.3,982.4 L1201.6,991.2 L1204.0,999.7 L1206.3,1007.9 L1208.6,1015.9 L1211.0,1023.5 L1213.3,1030.8 L1215.6,1037.9 L1218.0,1044.7 L1220.3,1051.3 L1222.7,1057.5 L1225.0,1063.6 L1227.3,1069.3 L1229.7,1074.9 L1232.0,1080.2 L1234.3,1085.3 L1236.7,1090.2 L1239.0,1094.8 L1241.3,1099.3 L1243.7,1103.5 L1246.0,1107.6 L1248.3,1111.5 L1250.7,1115.2 L1253.0,1118.7 L1255.3,1122.1 L1257.7,1125.4 L1260.0,1128.4 L1262.3,1131.4 L1264.7,1134.1 L1267.0,1136.8 L1269.3,1139.3 L1271.7,1141.8 L1274.0,1144.0 L1276.4,1146.2 L1278.7,1148.3 L1281.0,1150.3 L1283.4,1152.2 L1285.7,1154.0 L1288.0,1155.7 L1290.4,1157.3 L1292.7,1158.8" fill="none" stroke="#00cf8a" stroke-width="2.4"/>
<path d="M825.7,1032.4 L828.0,1028.2 L830.4,1024.0 L832.7,1019.6 L835.0,1015.1 L837.4,1010.5 L839.7,1005.7 L842.0,1000.8 L844.4,995.8 L846.7,990.6 L849.1,985.3 L851.4,979.9 L853.7,974.3 L856.1,968.5 L858.4,962.6 L860.7,956.6 L863.1,950.4 L865.4,944.0 L867.7,937.5 L870.1,930.8 L872.4,923.9 L874.7,916.9 L877.1,909.7 L879.4,902.3 L881.7,894.8 L884.1,887.1 L886.4,879.2 L888.7,871.1 L891.1,862.9 L893.4,854.5 L895.8,845.9 L898.1,837.1 L900.4,828.2 L902.8,819.1 L905.1,809.8 L907.4,800.4 L909.8,790.7 L912.1,781.0 L914.4,771.0 L916.8,761.0 L919.1,750.7 L921.4,740.3 L923.8,729.8 L926.1,719.1 L928.4,708.3 L930.8,697.4 L933.1,686.4 L935.4,675.2 L937.8,664.0 L940.1,652.6 L942.5,641.2 L944.8,629.7 L947.1,618.2 L949.5,606.6 L951.8,594.9 L954.1,583.3 L956.5,571.6 L958.8,559.9 L961.1,548.3 L963.5,536.7 L965.8,525.1 L968.1,513.6 L970.5,502.2 L972.8,490.9 L975.1,479.6 L977.5,468.6 L979.8,457.7 L982.1,446.9 L984.5,436.4 L986.8,426.0 L989.2,415.9 L991.5,406.0 L993.8,396.4 L996.2,387.1 L998.5,378.1 L1000.8,369.4 L1003.2,361.1 L1005.5,353.1 L1007.8,345.5 L1010.2,338.3 L1012.5,331.5 L1014.8,325.2 L1017.2,319.3 L1019.5,313.9 L1021.8,308.9 L1024.2,304.5 L1026.5,300.5 L1028.8,297.1 L1031.2,294.3 L1033.5,292.0 L1035.9,290.2 L1038.2,289.0 L1040.5,288.3 L1042.9,288.3 L1045.2,288.7 L1047.5,289.7 L1049.9,291.2 L1052.2,293.2 L1054.5,295.8 L1056.9,298.9 L1059.2,302.5 L1061.5,306.6 L1063.9,311.3 L1066.2,316.6 L1068.5,322.3 L1070.9,328.6 L1073.2,335.4 L1075.5,342.7 L1077.9,350.5 L1080.2,358.8 L1082.6,367.6 L1084.9,376.8 L1087.2,386.5 L1089.6,396.6 L1091.9,407.2 L1094.2,418.1 L1096.6,429.5 L1098.9,441.2 L1101.2,453.2 L1103.6,465.6 L1105.9,478.2 L1108.2,491.2 L1110.6,504.4 L1112.9,517.8 L1115.2,531.4 L1117.6,545.2 L1119.9,559.2 L1122.2,573.3 L1124.6,587.6 L1126.9,601.9 L1129.2,616.3 L1131.6,630.7 L1133.9,645.1 L1136.3,659.5 L1138.6,674.0 L1140.9,688.3 L1143.3,702.6 L1145.6,716.8 L1147.9,730.9 L1150.3,744.9 L1152.6,758.7 L1154.9,772.3 L1157.3,785.8 L1159.6,799.1 L1161.9,812.2 L1164.3,825.1 L1166.6,837.7 L1168.9,850.1 L1171.3,862.3 L1173.6,874.2 L1176.0,885.9 L1178.3,897.2 L1180.6,908.3 L1183.0,919.2 L1185.3,929.7 L1187.6,939.9 L1190.0,949.9 L1192.3,959.6 L1194.6,969.0 L1197.0,978.1 L1199.3,986.9 L1201.6,995.4 L1204.0,1003.7 L1206.3,1011.6 L1208.6,1019.3 L1211.0,1026.8 L1213.3,1033.9 L1215.6,1040.8 L1218.0,1047.4 L1220.3,1053.8 L1222.7,1059.9 L1225.0,1065.8 L1227.3,1071.5 L1229.7,1076.9 L1232.0,1082.1 L1234.3,1087.1 L1236.7,1091.9 L1239.0,1096.4 L1241.3,1100.8 L1243.7,1105.0 L1246.0,1109.0 L1248.3,1112.8 L1250.7,1116.5 L1253.0,1119.9 L1255.3,1123.3 L1257.7,1126.4 L1260.0,1129.5 L1262.3,1132.4 L1264.7,1135.1 L1267.0,1137.7 L1269.3,1140.2 L1271.7,1142.6 L1274.0,1144.9 L1276.4,1147.0 L1278.7,1149.1 L1281.0,1151.0 L1283.4,1152.9 L1285.7,1154.7 L1288.0,1156.4 L1290.4,1158.0 L1292.7,1159.5" fill="none" stroke="#00cf8a" stroke-width="2.4"/>
<path d="M825.7,1051.0 L828.0,1047.4 L830.4,1043.7 L832.7,1039.9 L835.0,1036.0 L837.4,1032.0 L839.7,1027.8 L842.0,1023.5 L844.4,1019.2 L846.7,1014.6 L849.1,1010.0 L851.4,1005.2 L853.7,1000.3 L856.1,995.3 L858.4,990.1 L860.7,984.8 L863.1,979.3 L865.4,973.7 L867.7,967.9 L870.1,962.0 L872.4,955.9 L874.7,949.7 L877.1,943.3 L879.4,936.7 L881.7,930.0 L884.1,923.2 L886.4,916.1 L888.7,908.9 L891.1,901.5 L893.4,894.0 L895.8,886.3 L898.1,878.4 L900.4,870.3 L902.8,862.1 L905.1,853.7 L907.4,845.1 L909.8,836.3 L912.1,827.4 L914.4,818.3 L916.8,809.1 L919.1,799.6 L921.4,790.1 L923.8,780.3 L926.1,770.4 L928.4,760.4 L930.8,750.2 L933.1,739.8 L935.4,729.3 L937.8,718.7 L940.1,708.0 L942.5,697.1 L944.8,686.2 L947.1,675.1 L949.5,663.9 L951.8,652.7 L954.1,641.4 L956.5,630.0 L958.8,618.6 L961.1,607.1 L963.5,595.6 L965.8,584.1 L968.1,572.5 L970.5,561.0 L972.8,549.5 L975.1,538.1 L977.5,526.7 L979.8,515.4 L982.1,504.2 L984.5,493.1 L986.8,482.1 L989.2,471.2 L991.5,460.6 L993.8,450.1 L996.2,439.8 L998.5,429.7 L1000.8,419.8 L1003.2,410.2 L1005.5,400.9 L1007.8,391.9 L1010.2,383.2 L1012.5,374.8 L1014.8,366.8 L1017.2,359.1 L1019.5,351.9 L1021.8,345.0 L1024.2,338.6 L1026.5,332.6 L1028.8,327.0 L1031.2,322.0 L1033.5,317.4 L1035.9,313.3 L1038.2,309.7 L1040.5,306.7 L1042.9,304.2 L1045.2,302.2 L1047.5,300.8 L1049.9,300.0 L1052.2,299.7 L1054.5,299.9 L1056.9,300.7 L1059.2,301.9 L1061.5,303.7 L1063.9,306.0 L1066.2,308.9 L1068.5,312.2 L1070.9,316.1 L1073.2,320.6 L1075.5,325.5 L1077.9,331.0 L1080.2,337.0 L1082.6,343.5 L1084.9,350.5 L1087.2,358.0 L1089.6,366.0 L1091.9,374.5 L1094.2,383.4 L1096.6,392.8 L1098.9,402.6 L1101.2,412.9 L1103.6,423.5 L1105.9,434.6 L1108.2,446.0 L1110.6,457.7 L1112.9,469.8 L1115.2,482.2 L1117.6,494.9 L1119.9,507.8 L1122.2,521.0 L1124.6,534.4 L1126.9,547.9 L1129.2,561.7 L1131.6,575.6 L1133.9,589.6 L1136.3,603.7 L1138.6,617.9 L1140.9,632.1 L1143.3,646.3 L1145.6,660.6 L1147.9,674.8 L1150.3,689.0 L1152.6,703.2 L1154.9,717.2 L1157.3,731.2 L1159.6,745.0 L1161.9,758.7 L1164.3,772.3 L1166.6,785.7 L1168.9,798.9 L1171.3,811.9 L1173.6,824.7 L1176.0,837.3 L1178.3,849.6 L1180.6,861.7 L1183.0,873.6 L1185.3,885.2 L1187.6,896.5 L1190.0,907.6 L1192.3,918.4 L1194.6,928.9 L1197.0,939.1 L1199.3,949.1 L1201.6,958.8 L1204.0,968.1 L1206.3,977.2 L1208.6,986.1 L1211.0,994.6 L1213.3,1002.8 L1215.6,1010.8 L1218.0,1018.5 L1220.3,1026.0 L1222.7,1033.1 L1225.0,1040.0 L1227.3,1046.7 L1229.7,1053.1 L1232.0,1059.2 L1234.3,1065.1 L1236.7,1070.8 L1239.0,1076.3 L1241.3,1081.5 L1243.7,1086.5 L1246.0,1091.3 L1248.3,1095.9 L1250.7,1100.3 L1253.0,1104.5 L1255.3,1108.5 L1257.7,1112.3 L1260.0,1116.0 L1262.3,1119.5 L1264.7,1122.9 L1267.0,1126.1 L1269.3,1129.1 L1271.7,1132.0 L1274.0,1134.8 L1276.4,1137.4 L1278.7,1139.9 L1281.0,1142.3 L1283.4,1144.6 L1285.7,1146.8 L1288.0,1148.8 L1290.4,1150.8 L1292.7,1152.7" fill="none" stroke="#00cf8a" stroke-width="2.4"/>
<path d="M825.7,1054.7 L828.0,1051.2 L830.4,1047.6 L832.7,1043.9 L835.0,1040.1 L837.4,1036.2 L839.7,1032.1 L842.0,1028.0 L844.4,1023.7 L846.7,1019.3 L849.1,1014.8 L851.4,1010.1 L853.7,1005.3 L856.1,1000.4 L858.4,995.4 L860.7,990.2 L863.1,984.8 L865.4,979.4 L867.7,973.8 L870.1,968.0 L872.4,962.1 L874.7,956.0 L877.1,949.8 L879.4,943.4 L881.7,936.9 L884.1,930.2 L886.4,923.3 L888.7,916.3 L891.1,909.1 L893.4,901.8 L895.8,894.3 L898.1,886.6 L900.4,878.8 L902.8,870.7 L905.1,862.6 L907.4,854.2 L909.8,845.7 L912.1,837.0 L914.4,828.2 L916.8,819.2 L919.1,810.0 L921.4,800.7 L923.8,791.2 L926.1,781.6 L928.4,771.8 L930.8,761.9 L933.1,751.9 L935.4,741.7 L937.8,731.4 L940.1,721.0 L942.5,710.4 L944.8,699.8 L947.1,689.0 L949.5,678.2 L951.8,667.3 L954.1,656.3 L956.5,645.3 L958.8,634.2 L961.1,623.1 L963.5,611.9 L965.8,600.7 L968.1,589.6 L970.5,578.4 L972.8,567.3 L975.1,556.2 L977.5,545.2 L979.8,534.3 L982.1,523.4 L984.5,512.7 L986.8,502.1 L989.2,491.6 L991.5,481.3 L993.8,471.1 L996.2,461.2 L998.5,451.5 L1000.8,442.0 L1003.2,432.7 L1005.5,423.8 L1007.8,415.1 L1010.2,406.7 L1012.5,398.7 L1014.8,391.0 L1017.2,383.6 L1019.5,376.7 L1021.8,370.1 L1024.2,363.9 L1026.5,358.2 L1028.8,352.9 L1031.2,348.1 L1033.5,343.8 L1035.9,339.9 L1038.2,336.6 L1040.5,333.7 L1042.9,331.4 L1045.2,329.6 L1047.5,328.3 L1049.9,327.6 L1052.2,327.4 L1054.5,327.8 L1056.9,328.6 L1059.2,329.9 L1061.5,331.8 L1063.9,334.1 L1066.2,337.0 L1068.5,340.3 L1070.9,344.2 L1073.2,348.6 L1075.5,353.5 L1077.9,358.9 L1080.2,364.8 L1082.6,371.2 L1084.9,378.1 L1087.2,385.5 L1089.6,393.3 L1091.9,401.6 L1094.2,410.4 L1096.6,419.6 L1098.9,429.2 L1101.2,439.2 L1103.6,449.6 L1105.9,460.3 L1108.2,471.5 L1110.6,482.9 L1112.9,494.7 L1115.2,506.7 L1117.6,519.1 L1119.9,531.6 L1122.2,544.4 L1124.6,557.5 L1126.9,570.6 L1129.2,584.0 L1131.6,597.5 L1133.9,611.1 L1136.3,624.7 L1138.6,638.5 L1140.9,652.3 L1143.3,666.1 L1145.6,679.9 L1147.9,693.7 L1150.3,707.4 L1152.6,721.1 L1154.9,734.7 L1157.3,748.2 L1159.6,761.6 L1161.9,774.9 L1164.3,788.0 L1166.6,800.9 L1168.9,813.7 L1171.3,826.2 L1173.6,838.6 L1176.0,850.7 L1178.3,862.6 L1180.6,874.3 L1183.0,885.8 L1185.3,897.0 L1187.6,907.9 L1190.0,918.6 L1192.3,929.0 L1194.6,939.1 L1197.0,949.0 L1199.3,958.6 L1201.6,967.9 L1204.0,976.9 L1206.3,985.7 L1208.6,994.2 L1211.0,1002.4 L1213.3,1010.3 L1215.6,1018.0 L1218.0,1025.4 L1220.3,1032.6 L1222.7,1039.5 L1225.0,1046.1 L1227.3,1052.5 L1229.7,1058.6 L1232.0,1064.5 L1234.3,1070.2 L1236.7,1075.7 L1239.0,1080.9 L1241.3,1085.9 L1243.7,1090.7 L1246.0,1095.3 L1248.3,1099.8 L1250.7,1104.0 L1253.0,1108.0 L1255.3,1111.9 L1257.7,1115.6 L1260.0,1119.1 L1262.3,1122.5 L1264.7,1125.7 L1267.0,1128.7 L1269.3,1131.7 L1271.7,1134.4 L1274.0,1137.1 L1276.4,1139.6 L1278.7,1142.1 L1281.0,1144.4 L1283.4,1146.5 L1285.7,1148.6 L1288.0,1150.6 L1290.4,1152.5 L1292.7,1154.3" fill="none" stroke="#00cf8a" stroke-width="2.4"/>
<path d="M825.7,1073.4 L828.0,1070.3 L830.4,1067.1 L832.7,1063.9 L835.0,1060.5 L837.4,1057.1 L839.7,1053.5 L842.0,1049.9 L844.4,1046.1 L846.7,1042.3 L849.1,1038.3 L851.4,1034.3 L853.7,1030.1 L856.1,1025.8 L858.4,1021.4 L860.7,1016.9 L863.1,1012.3 L865.4,1007.5 L867.7,1002.7 L870.1,997.7 L872.4,992.6 L874.7,987.3 L877.1,982.0 L879.4,976.5 L881.7,970.9 L884.1,965.2 L886.4,959.3 L888.7,953.3 L891.1,947.2 L893.4,941.0 L895.8,934.6 L898.1,928.1 L900.4,921.5 L902.8,914.7 L905.1,907.8 L907.4,900.8 L909.8,893.7 L912.1,886.5 L914.4,879.1 L916.8,871.6 L919.1,864.1 L921.4,856.4 L923.8,848.6 L926.1,840.7 L928.4,832.7 L930.8,824.7 L933.1,816.5 L935.4,808.3 L937.8,800.0 L940.1,791.7 L942.5,783.3 L944.8,774.8 L947.1,766.3 L949.5,757.8 L951.8,749.2 L954.1,740.7 L956.5,732.1 L958.8,723.6 L961.1,715.1 L963.5,706.6 L965.8,698.1 L968.1,689.7 L970.5,681.4 L972.8,673.1 L975.1,664.9 L977.5,656.9 L979.8,649.0 L982.1,641.2 L984.5,633.5 L986.8,626.0 L989.2,618.7 L991.5,611.6 L993.8,604.7 L996.2,598.0 L998.5,591.5 L1000.8,585.3 L1003.2,579.3 L1005.5,573.6 L1007.8,568.2 L1010.2,563.1 L1012.5,558.4 L1014.8,553.9 L1017.2,549.8 L1019.5,546.0 L1021.8,542.6 L1024.2,539.6 L1026.5,536.9 L1028.8,534.7 L1031.2,532.8 L1033.5,531.3 L1035.9,530.3 L1038.2,529.7 L1040.5,529.5 L1042.9,529.6 L1045.2,530.2 L1047.5,531.1 L1049.9,532.5 L1052.2,534.2 L1054.5,536.3 L1056.9,538.8 L1059.2,541.7 L1061.5,545.0 L1063.9,548.6 L1066.2,552.7 L1068.5,557.2 L1070.9,562.0 L1073.2,567.2 L1075.5,572.8 L1077.9,578.7 L1080.2,585.0 L1082.6,591.7 L1084.9,598.6 L1087.2,605.9 L1089.6,613.6 L1091.9,621.5 L1094.2,629.7 L1096.6,638.1 L1098.9,646.9 L1101.2,655.8 L1103.6,665.0 L1105.9,674.5 L1108.2,684.1 L1110.6,693.8 L1112.9,703.8 L1115.2,713.9 L1117.6,724.1 L1119.9,734.4 L1122.2,744.8 L1124.6,755.3 L1126.9,765.8 L1129.2,776.4 L1131.6,786.9 L1133.9,797.5 L1136.3,808.1 L1138.6,818.7 L1140.9,829.2 L1143.3,839.6 L1145.6,850.0 L1147.9,860.2 L1150.3,870.4 L1152.6,880.5 L1154.9,890.4 L1157.3,900.2 L1159.6,909.9 L1161.9,919.4 L1164.3,928.8 L1166.6,937.9 L1168.9,946.9 L1171.3,955.7 L1173.6,964.4 L1176.0,972.8 L1178.3,981.0 L1180.6,989.0 L1183.0,996.8 L1185.3,1004.4 L1187.6,1011.8 L1190.0,1019.0 L1192.3,1026.0 L1194.6,1032.7 L1197.0,1039.3 L1199.3,1045.6 L1201.6,1051.8 L1204.0,1057.7 L1206.3,1063.4 L1208.6,1068.9 L1211.0,1074.3 L1213.3,1079.4 L1215.6,1084.3 L1218.0,1089.1 L1220.3,1093.6 L1222.7,1098.0 L1225.0,1102.2 L1227.3,1106.3 L1229.7,1110.2 L1232.0,1113.9 L1234.3,1117.4 L1236.7,1120.9 L1239.0,1124.1 L1241.3,1127.2 L1243.7,1130.2 L1246.0,1133.1 L1248.3,1135.8 L1250.7,1138.4 L1253.0,1140.9 L1255.3,1143.3 L1257.7,1145.5 L1260.0,1147.7 L1262.3,1149.8 L1264.7,1151.7 L1267.0,1153.6 L1269.3,1155.4 L1271.7,1157.1 L1274.0,1158.7 L1276.4,1160.2 L1278.7,1161.7 L1281.0,1163.1 L1283.4,1164.4 L1285.7,1165.6 L1288.0,1166.8 L1290.4,1168.0 L1292.7,1169.1" fill="none" stroke="#000" stroke-width="6.5" stroke-linejoin="round"/>
</g>
<line x1="804.7" y1="49.8" x2="1294.7" y2="49.8" stroke="#4a4a4a" stroke-width="5"/>
<line x1="825.7" y1="47.8" x2="825.7" y2="1214.0" stroke="#4a4a4a" stroke-width="5"/>
<line x1="1292.7" y1="47.8" x2="1292.7" y2="1214.0" stroke="#111" stroke-width="4"/>
<line x1="804.7" y1="1193.0" x2="1294.7" y2="1193.0" stroke="#111" stroke-width="4"/>
<line x1="814.7" y1="1111.3" x2="825.7" y2="1111.3" stroke="#4a4a4a" stroke-width="4"/>
<line x1="804.7" y1="1029.7" x2="825.7" y2="1029.7" stroke="#4a4a4a" stroke-width="4.5"/>
<line x1="814.7" y1="948.0" x2="825.7" y2="948.0" stroke="#4a4a4a" stroke-width="4"/>
<line x1="804.7" y1="866.4" x2="825.7" y2="866.4" stroke="#4a4a4a" stroke-width="4.5"/>
<line x1="814.7" y1="784.7" x2="825.7" y2="784.7" stroke="#4a4a4a" stroke-width="4"/>
<line x1="804.7" y1="703.1" x2="825.7" y2="703.1" stroke="#4a4a4a" stroke-width="4.5"/>
<line x1="814.7" y1="621.4" x2="825.7" y2="621.4" stroke="#4a4a4a" stroke-width="4"/>
<line x1="804.7" y1="539.7" x2="825.7" y2="539.7" stroke="#4a4a4a" stroke-width="4.5"/>
<line x1="814.7" y1="458.1" x2="825.7" y2="458.1" stroke="#4a4a4a" stroke-width="4"/>
<line x1="804.7" y1="376.4" x2="825.7" y2="376.4" stroke="#4a4a4a" stroke-width="4.5"/>
<line x1="814.7" y1="294.8" x2="825.7" y2="294.8" stroke="#4a4a4a" stroke-width="4"/>
<line x1="804.7" y1="213.1" x2="825.7" y2="213.1" stroke="#4a4a4a" stroke-width="4.5"/>
<line x1="814.7" y1="131.5" x2="825.7" y2="131.5" stroke="#4a4a4a" stroke-width="4"/>
<line x1="804.7" y1="49.8" x2="825.7" y2="49.8" stroke="#4a4a4a" stroke-width="4.5"/>
<line x1="825.7" y1="1193.0" x2="825.7" y2="1214.0" stroke="#4a4a4a" stroke-width="4.5"/>
<line x1="884.1" y1="1193.0" x2="884.1" y2="1204.0" stroke="#111" stroke-width="4"/>
<line x1="942.5" y1="1193.0" x2="942.5" y2="1214.0" stroke="#4a4a4a" stroke-width="4.5"/>
<line x1="1000.8" y1="1193.0" x2="1000.8" y2="1204.0" stroke="#111" stroke-width="4"/>
<line x1="1059.2" y1="1193.0" x2="1059.2" y2="1214.0" stroke="#4a4a4a" stroke-width="4.5"/>
<line x1="1117.6" y1="1193.0" x2="1117.6" y2="1204.0" stroke="#111" stroke-width="4"/>
<line x1="1176.0" y1="1193.0" x2="1176.0" y2="1214.0" stroke="#4a4a4a" stroke-width="4.5"/>
<line x1="1234.3" y1="1193.0" x2="1234.3" y2="1204.0" stroke="#111" stroke-width="4"/>
<line x1="1292.7" y1="1193.0" x2="1292.7" y2="1214.0" stroke="#111" stroke-width="4.5"/>
<text transform="translate(788.5,1207.3) scale(0.94,1)" font-size="51" text-anchor="end" fill="#111">0</text>
<text transform="translate(788.5,1044.0) scale(0.94,1)" font-size="51" text-anchor="end" fill="#111">10</text>
<text transform="translate(788.5,880.7) scale(0.94,1)" font-size="51" text-anchor="end" fill="#111">20</text>
<text transform="translate(788.5,717.4) scale(0.94,1)" font-size="51" text-anchor="end" fill="#111">30</text>
<text transform="translate(788.5,554.0) scale(0.94,1)" font-size="51" text-anchor="end" fill="#111">40</text>
<text transform="translate(788.5,390.7) scale(0.94,1)" font-size="51" text-anchor="end" fill="#111">50</text>
<text transform="translate(788.5,227.4) scale(0.94,1)" font-size="51" text-anchor="end" fill="#111">60</text>
<text transform="translate(788.5,64.1) scale(0.94,1)" font-size="51" text-anchor="end" fill="#111">70</text>
<text transform="translate(826.2,1267.3) scale(0.94,1)" font-size="51" text-anchor="middle" fill="#111">500</text>
<text transform="translate(943.0,1267.3) scale(0.94,1)" font-size="51" text-anchor="middle" fill="#111">550</text>
<text transform="translate(1059.7,1267.3) scale(0.94,1)" font-size="51" text-anchor="middle" fill="#111">600</text>
<text transform="translate(1176.5,1267.3) scale(0.94,1)" font-size="51" text-anchor="middle" fill="#111">650</text>
<text transform="translate(1293.2,1267.3) scale(0.94,1)" font-size="51" text-anchor="middle" fill="#111">700</text>
<clipPath id="cp3"><rect x="1399.5" y="49.8" width="467.5" height="1143.2"/></clipPath>
<g clip-path="url(#cp3)">
<path d="M1391.5,1081.6 L1393.5,1081.5 L1395.5,1081.5 L1397.6,1081.5 L1399.6,1081.4 L1401.6,1079.7 L1403.6,1077.9 L1405.7,1076.1 L1407.7,1074.2 L1409.7,1072.2 L1411.7,1070.2 L1413.8,1068.1 L1415.8,1066.0 L1417.8,1063.9 L1419.8,1062.7 L1421.8,1061.4 L1423.9,1060.1 L1425.9,1058.8 L1427.9,1057.5 L1429.9,1056.1 L1432.0,1054.8 L1434.0,1053.4 L1436.0,1051.9 L1438.0,1050.4 L1440.1,1048.9 L1442.1,1047.3 L1444.1,1045.7 L1446.1,1044.0 L1448.1,1042.2 L1450.2,1040.4 L1452.2,1038.4 L1454.2,1036.4 L1456.2,1034.3 L1458.3,1032.2 L1460.3,1029.9 L1462.3,1027.4 L1464.3,1024.7 L1466.4,1021.8 L1468.4,1018.8 L1470.4,1015.6 L1472.4,1012.2 L1474.4,1008.7 L1476.5,1005.0 L1478.5,1001.1 L1480.5,997.1 L1482.5,993.0 L1484.6,988.8 L1486.6,984.4 L1488.6,979.8 L1490.6,975.2 L1492.7,970.5 L1494.7,965.6 L1496.7,960.7 L1498.7,955.6 L1500.7,950.5 L1502.8,945.2 L1504.8,939.6 L1506.8,933.6 L1508.8,927.2 L1510.9,920.5 L1512.9,913.5 L1514.9,906.2 L1516.9,898.6 L1518.9,890.7 L1521.0,882.5 L1523.0,874.1 L1525.0,865.4 L1527.0,855.8 L1529.1,845.2 L1531.1,833.8 L1533.1,822.1 L1535.1,810.2 L1537.2,798.6 L1539.2,787.6 L1541.2,777.4 L1543.2,767.6 L1545.2,758.1 L1547.3,748.8 L1549.3,739.7 L1551.3,730.6 L1553.3,721.5 L1555.4,712.5 L1557.4,703.3 L1559.4,694.0 L1561.4,684.6 L1563.5,675.3 L1565.5,666.0 L1567.5,656.6 L1569.5,647.3 L1571.5,638.0 L1573.6,628.7 L1575.6,619.5 L1577.6,610.3 L1579.6,601.1 L1581.7,592.0 L1583.7,583.0 L1585.7,573.9 L1587.7,564.8 L1589.8,555.7 L1591.8,546.6 L1593.8,537.5 L1595.8,528.3 L1597.8,519.0 L1599.9,509.6 L1601.9,500.2 L1603.9,490.7 L1605.9,481.0 L1608.0,471.1 L1610.0,461.0 L1612.0,450.7 L1614.0,440.4 L1616.1,429.9 L1618.1,419.5 L1620.1,409.1 L1622.1,398.7 L1624.1,394.1 L1626.2,407.3 L1628.2,420.0 L1630.2,432.2 L1632.2,443.9 L1634.3,455.1 L1636.3,465.8 L1638.3,476.0 L1640.3,485.6 L1642.4,494.8 L1644.4,503.4 L1646.4,511.5 L1648.4,519.2 L1650.4,526.3 L1652.5,532.9 L1654.5,539.0 L1656.5,544.6 L1658.5,549.6 L1660.6,554.2 L1662.6,558.2 L1664.6,561.8 L1666.6,564.8 L1668.7,567.4 L1670.7,569.4 L1672.7,570.9 L1674.7,571.9 L1676.7,572.4 L1678.8,572.3 L1680.8,571.8 L1682.8,570.8 L1684.8,569.2 L1686.9,567.1 L1688.9,564.6 L1690.9,561.5 L1692.9,557.9 L1695.0,553.8 L1697.0,549.2 L1699.0,544.1 L1701.0,538.4 L1703.0,532.3 L1705.1,525.6 L1707.1,518.5 L1709.1,510.8 L1711.1,502.6 L1713.2,493.9 L1715.2,484.7 L1717.2,475.0 L1719.2,464.8 L1721.3,454.1 L1723.3,442.9 L1725.3,431.1 L1727.3,418.9 L1729.3,406.1 L1731.4,392.8 L1733.4,383.1 L1735.4,395.6 L1737.4,408.3 L1739.5,421.0 L1741.5,433.8 L1743.5,446.5 L1745.5,459.3 L1747.6,472.0 L1749.6,484.7 L1751.6,497.3 L1753.6,509.7 L1755.6,522.0 L1757.7,534.3 L1759.7,546.6 L1761.7,558.9 L1763.7,571.4 L1765.8,584.1 L1767.8,597.0 L1769.8,610.3 L1771.8,623.9 L1773.8,638.3 L1775.9,653.5 L1777.9,669.2 L1779.9,684.7 L1781.9,699.6 L1784.0,713.6 L1786.0,727.2 L1788.0,740.5 L1790.0,753.7 L1792.1,766.9 L1794.1,780.1 L1796.1,793.6 L1798.1,807.2 L1800.1,820.9 L1802.2,834.4 L1804.2,847.8 L1806.2,860.9 L1808.2,873.7 L1810.3,886.4 L1812.3,898.9 L1814.3,911.2 L1816.3,923.3 L1818.4,935.1 L1820.4,946.5 L1822.4,957.7 L1824.4,969.0 L1826.4,980.2 L1828.5,991.2 L1830.5,1001.8 L1832.5,1011.8 L1834.5,1020.9 L1836.6,1029.1 L1838.6,1036.3 L1840.6,1043.1 L1842.6,1049.6 L1844.7,1055.8 L1846.7,1061.7 L1848.7,1067.4 L1850.7,1072.8 L1852.7,1078.0 L1854.8,1082.9 L1856.8,1087.7 L1858.8,1092.3 L1860.8,1096.7 L1862.9,1100.9 L1864.9,1105.0 L1866.9,1109.0 L1868.9,1112.8 L1871.0,1116.3 L1873.0,1119.5 L1875.0,1122.6 L1875.0,1188.8 L1873.0,1188.3 L1871.0,1187.8 L1868.9,1187.2 L1866.9,1186.6 L1864.9,1185.9 L1862.9,1185.1 L1860.8,1184.3 L1858.8,1183.4 L1856.8,1182.5 L1854.8,1181.5 L1852.7,1180.4 L1850.7,1179.3 L1848.7,1178.1 L1846.7,1176.9 L1844.7,1175.5 L1842.6,1174.1 L1840.6,1172.6 L1838.6,1171.0 L1836.6,1169.4 L1834.5,1167.4 L1832.5,1165.2 L1830.5,1162.8 L1828.5,1160.1 L1826.4,1157.2 L1824.4,1154.0 L1822.4,1150.7 L1820.4,1147.2 L1818.4,1143.5 L1816.3,1139.7 L1814.3,1135.8 L1812.3,1131.7 L1810.3,1127.6 L1808.2,1123.3 L1806.2,1119.0 L1804.2,1114.7 L1802.2,1110.1 L1800.1,1105.2 L1798.1,1100.0 L1796.1,1094.4 L1794.1,1088.6 L1792.1,1082.6 L1790.0,1076.4 L1788.0,1070.0 L1786.0,1063.4 L1784.0,1056.8 L1781.9,1050.0 L1779.9,1043.3 L1777.9,1036.5 L1775.9,1029.7 L1773.8,1022.7 L1771.8,1015.4 L1769.8,1008.0 L1767.8,1000.4 L1765.8,992.6 L1763.7,984.8 L1761.7,976.9 L1759.7,969.0 L1757.7,961.2 L1755.6,953.5 L1753.6,945.9 L1751.6,938.3 L1749.6,930.7 L1747.6,923.1 L1745.5,915.5 L1743.5,907.9 L1741.5,900.3 L1739.5,892.8 L1737.4,885.2 L1735.4,877.6 L1733.4,870.0 L1731.4,862.4 L1729.3,854.6 L1727.3,846.7 L1725.3,838.7 L1723.3,830.8 L1721.3,822.8 L1719.2,815.0 L1717.2,807.4 L1715.2,799.9 L1713.2,792.8 L1711.1,785.9 L1709.1,779.4 L1707.1,772.5 L1705.1,765.3 L1703.0,758.0 L1701.0,750.6 L1699.0,743.2 L1697.0,736.0 L1695.0,729.1 L1692.9,722.5 L1690.9,716.5 L1688.9,711.0 L1686.9,706.3 L1684.8,702.4 L1682.8,699.5 L1680.8,697.7 L1678.8,697.0 L1676.7,697.3 L1674.7,698.3 L1672.7,699.8 L1670.7,702.0 L1668.7,704.6 L1666.6,707.7 L1664.6,711.3 L1662.6,715.2 L1660.6,719.5 L1658.5,724.0 L1656.5,728.8 L1654.5,733.8 L1652.5,739.0 L1650.4,744.3 L1648.4,749.7 L1646.4,755.1 L1644.4,760.5 L1642.4,765.8 L1640.3,771.1 L1638.3,776.2 L1636.3,781.1 L1634.3,785.8 L1632.2,790.7 L1630.2,795.8 L1628.2,801.0 L1626.2,806.4 L1624.1,811.9 L1622.1,817.5 L1620.1,823.2 L1618.1,828.9 L1616.1,834.7 L1614.0,840.5 L1612.0,846.3 L1610.0,852.1 L1608.0,857.8 L1605.9,863.5 L1603.9,869.2 L1601.9,874.9 L1599.9,880.5 L1597.8,886.2 L1595.8,891.8 L1593.8,897.5 L1591.8,903.3 L1589.8,909.0 L1587.7,914.8 L1585.7,920.6 L1583.7,926.4 L1581.7,932.3 L1579.6,938.3 L1577.6,944.3 L1575.6,950.3 L1573.6,956.6 L1571.5,963.1 L1569.5,969.7 L1567.5,976.4 L1565.5,983.2 L1563.5,990.0 L1561.4,996.7 L1559.4,1003.3 L1557.4,1009.8 L1555.4,1016.1 L1553.3,1022.1 L1551.3,1027.8 L1549.3,1033.1 L1547.3,1038.3 L1545.2,1043.5 L1543.2,1048.7 L1541.2,1053.8 L1539.2,1058.9 L1537.2,1063.8 L1535.1,1068.7 L1533.1,1073.5 L1531.1,1078.2 L1529.1,1082.7 L1527.0,1087.1 L1525.0,1091.3 L1523.0,1095.3 L1521.0,1099.2 L1518.9,1102.8 L1516.9,1106.2 L1514.9,1109.4 L1512.9,1112.3 L1510.9,1115.0 L1508.8,1117.5 L1506.8,1120.0 L1504.8,1122.5 L1502.8,1124.9 L1500.7,1127.2 L1498.7,1129.5 L1496.7,1131.7 L1494.7,1133.8 L1492.7,1135.9 L1490.6,1137.9 L1488.6,1139.9 L1486.6,1141.7 L1484.6,1143.5 L1482.5,1145.2 L1480.5,1146.8 L1478.5,1148.3 L1476.5,1149.7 L1474.4,1151.1 L1472.4,1152.3 L1470.4,1153.4 L1468.4,1154.4 L1466.4,1155.3 L1464.3,1156.1 L1462.3,1156.8 L1460.3,1157.5 L1458.3,1158.2 L1456.2,1158.8 L1454.2,1159.4 L1452.2,1160.0 L1450.2,1160.6 L1448.1,1161.1 L1446.1,1161.6 L1444.1,1162.1 L1442.1,1162.6 L1440.1,1163.1 L1438.0,1163.5 L1436.0,1164.0 L1434.0,1164.4 L1432.0,1164.8 L1429.9,1165.2 L1427.9,1165.6 L1425.9,1165.9 L1423.9,1166.3 L1421.8,1166.6 L1419.8,1167.0 L1417.8,1167.3 L1415.8,1167.6 L1413.8,1167.9 L1411.7,1168.2 L1409.7,1168.5 L1407.7,1168.8 L1405.7,1169.1 L1403.6,1169.4 L1401.6,1169.7 L1399.6,1170.0 L1397.6,1170.3 L1395.5,1170.5 L1393.5,1170.7 L1391.5,1170.9 Z" fill="#0a9dff"/>
<clipPath id="op3"><path d="M1391.5,0.0 L1391.5,1170.9 L1393.5,1170.7 L1395.5,1170.5 L1397.6,1170.3 L1399.6,1170.0 L1401.6,1169.7 L1403.6,1169.4 L1405.7,1169.1 L1407.7,1168.8 L1409.7,1168.5 L1411.7,1168.2 L1413.8,1167.9 L1415.8,1167.6 L1417.8,1167.3 L1419.8,1167.0 L1421.8,1166.6 L1423.9,1166.3 L1425.9,1165.9 L1427.9,1165.6 L1429.9,1165.2 L1432.0,1164.8 L1434.0,1164.4 L1436.0,1164.0 L1438.0,1163.5 L1440.1,1163.1 L1442.1,1162.6 L1444.1,1162.1 L1446.1,1161.6 L1448.1,1161.1 L1450.2,1160.6 L1452.2,1160.0 L1454.2,1159.4 L1456.2,1158.8 L1458.3,1158.2 L1460.3,1157.5 L1462.3,1156.8 L1464.3,1156.1 L1466.4,1155.3 L1468.4,1154.4 L1470.4,1153.4 L1472.4,1152.3 L1474.4,1151.1 L1476.5,1149.7 L1478.5,1148.3 L1480.5,1146.8 L1482.5,1145.2 L1484.6,1143.5 L1486.6,1141.7 L1488.6,1139.9 L1490.6,1137.9 L1492.7,1135.9 L1494.7,1133.8 L1496.7,1131.7 L1498.7,1129.5 L1500.7,1127.2 L1502.8,1124.9 L1504.8,1122.5 L1506.8,1120.0 L1508.8,1117.5 L1510.9,1115.0 L1512.9,1112.3 L1514.9,1109.4 L1516.9,1106.2 L1518.9,1102.8 L1521.0,1099.2 L1523.0,1095.3 L1525.0,1091.3 L1527.0,1087.1 L1529.1,1082.7 L1531.1,1078.2 L1533.1,1073.5 L1535.1,1068.7 L1537.2,1063.8 L1539.2,1058.9 L1541.2,1053.8 L1543.2,1048.7 L1545.2,1043.5 L1547.3,1038.3 L1549.3,1033.1 L1551.3,1027.8 L1553.3,1022.1 L1555.4,1016.1 L1557.4,1009.8 L1559.4,1003.3 L1561.4,996.7 L1563.5,990.0 L1565.5,983.2 L1567.5,976.4 L1569.5,969.7 L1571.5,963.1 L1573.6,956.6 L1575.6,950.3 L1577.6,944.3 L1579.6,938.3 L1581.7,932.3 L1583.7,926.4 L1585.7,920.6 L1587.7,914.8 L1589.8,909.0 L1591.8,903.3 L1593.8,897.5 L1595.8,891.8 L1597.8,886.2 L1599.9,880.5 L1601.9,874.9 L1603.9,869.2 L1605.9,863.5 L1608.0,857.8 L1610.0,852.1 L1612.0,846.3 L1614.0,840.5 L1616.1,834.7 L1618.1,828.9 L1620.1,823.2 L1622.1,817.5 L1624.1,811.9 L1626.2,806.4 L1628.2,801.0 L1630.2,795.8 L1632.2,790.7 L1634.3,785.8 L1636.3,781.1 L1638.3,776.2 L1640.3,771.1 L1642.4,765.8 L1644.4,760.5 L1646.4,755.1 L1648.4,749.7 L1650.4,744.3 L1652.5,739.0 L1654.5,733.8 L1656.5,728.8 L1658.5,724.0 L1660.6,719.5 L1662.6,715.2 L1664.6,711.3 L1666.6,707.7 L1668.7,704.6 L1670.7,702.0 L1672.7,699.8 L1674.7,698.3 L1676.7,697.3 L1678.8,697.0 L1680.8,697.7 L1682.8,699.5 L1684.8,702.4 L1686.9,706.3 L1688.9,711.0 L1690.9,716.5 L1692.9,722.5 L1695.0,729.1 L1697.0,736.0 L1699.0,743.2 L1701.0,750.6 L1703.0,758.0 L1705.1,765.3 L1707.1,772.5 L1709.1,779.4 L1711.1,785.9 L1713.2,792.8 L1715.2,799.9 L1717.2,807.4 L1719.2,815.0 L1721.3,822.8 L1723.3,830.8 L1725.3,838.7 L1727.3,846.7 L1729.3,854.6 L1731.4,862.4 L1733.4,870.0 L1735.4,877.6 L1737.4,885.2 L1739.5,892.8 L1741.5,900.3 L1743.5,907.9 L1745.5,915.5 L1747.6,923.1 L1749.6,930.7 L1751.6,938.3 L1753.6,945.9 L1755.6,953.5 L1757.7,961.2 L1759.7,969.0 L1761.7,976.9 L1763.7,984.8 L1765.8,992.6 L1767.8,1000.4 L1769.8,1008.0 L1771.8,1015.4 L1773.8,1022.7 L1775.9,1029.7 L1777.9,1036.5 L1779.9,1043.3 L1781.9,1050.0 L1784.0,1056.8 L1786.0,1063.4 L1788.0,1070.0 L1790.0,1076.4 L1792.1,1082.6 L1794.1,1088.6 L1796.1,1094.4 L1798.1,1100.0 L1800.1,1105.2 L1802.2,1110.1 L1804.2,1114.7 L1806.2,1119.0 L1808.2,1123.3 L1810.3,1127.6 L1812.3,1131.7 L1814.3,1135.8 L1816.3,1139.7 L1818.4,1143.5 L1820.4,1147.2 L1822.4,1150.7 L1824.4,1154.0 L1826.4,1157.2 L1828.5,1160.1 L1830.5,1162.8 L1832.5,1165.2 L1834.5,1167.4 L1836.6,1169.4 L1838.6,1171.0 L1840.6,1172.6 L1842.6,1174.1 L1844.7,1175.5 L1846.7,1176.9 L1848.7,1178.1 L1850.7,1179.3 L1852.7,1180.4 L1854.8,1181.5 L1856.8,1182.5 L1858.8,1183.4 L1860.8,1184.3 L1862.9,1185.1 L1864.9,1185.9 L1866.9,1186.6 L1868.9,1187.2 L1871.0,1187.8 L1873.0,1188.3 L1875.0,1188.8 L1875.0,0.0 Z"/></clipPath>
<g clip-path="url(#op3)" fill="none" stroke="#0a9dff" stroke-width="2.4">
<path d="M1635.6,470.4 L1637.9,463.0 L1640.3,456.1 L1642.6,449.5 L1644.9,443.4 L1647.3,437.8 L1649.6,432.6 L1652.0,427.9 L1654.3,423.7 L1656.6,420.0 L1659.0,416.8 L1661.3,414.2 L1663.6,412.0 L1666.0,410.4 L1668.3,409.3 L1670.7,408.8 L1673.0,408.8 L1675.3,409.6 L1677.7,411.1 L1680.0,413.3 L1682.3,416.2 L1684.7,419.7 L1687.0,424.0 L1689.3,428.8 L1691.7,434.3 L1694.0,440.4 L1696.4,447.1 L1698.7,454.3 L1701.0,462.0 L1703.4,470.3 L1705.7,479.0 L1708.0,488.2 L1710.4,497.8 L1712.7,507.9 L1712.7,507.9"/>
<path d="M1653.1,539.1 L1655.5,533.4 L1657.8,528.0 L1660.1,523.0 L1662.5,518.4 L1664.8,514.2 L1667.1,510.5 L1669.5,507.1 L1671.8,504.2 L1674.2,501.7 L1676.5,499.7 L1678.8,498.1 L1681.2,497.0 L1683.5,496.3 L1685.8,496.1 L1688.2,496.4 L1690.5,497.3 L1692.9,498.9 L1695.2,501.1 L1697.5,503.8 L1699.9,507.1 L1702.2,511.0 L1704.5,515.4 L1706.9,520.3 L1708.0,522.9"/>
<path d="M1442.7,1049.1 L1445.1,1045.9 L1447.4,1042.5 L1449.8,1039.0 L1452.1,1035.4 L1454.4,1031.7 L1456.8,1027.9 L1459.1,1023.9 L1461.4,1019.8 L1463.8,1015.5 L1466.1,1011.2 L1468.5,1006.7 L1470.8,1002.0 L1473.1,997.2 L1475.5,992.2 L1477.8,987.1 L1480.1,981.9 L1482.5,976.4 L1484.8,970.8 L1487.2,965.1 L1489.5,959.2 L1491.8,953.0 L1494.2,946.8 L1496.5,940.3 L1498.8,933.6 L1501.2,926.8 L1503.5,919.8 L1505.9,912.6 L1508.2,905.2 L1510.5,897.6 L1512.9,889.8 L1515.2,881.8 L1517.5,873.6 L1519.9,865.3 L1522.2,856.7 L1524.6,847.9 L1526.9,838.9 L1529.2,829.8 L1531.6,820.4 L1533.9,810.9 L1536.2,801.2 L1538.6,791.3 L1540.9,781.2 L1540.9,781.2 M1558.5,700.5 L1560.8,689.2 L1563.1,677.7 L1565.5,666.2 L1567.8,654.6 L1570.1,643.0 L1572.5,631.2 L1574.8,619.5 L1577.2,607.7 L1579.5,595.9 L1581.8,584.1 L1584.2,572.4 L1586.5,560.7 L1588.8,549.1 L1591.2,537.5 L1593.5,526.1 L1595.8,514.7 L1598.2,503.5 L1600.5,492.5 L1602.9,481.7 L1605.2,471.1 L1607.5,460.7 L1609.9,450.5 L1612.2,440.6 L1614.5,431.0 L1616.9,421.7 L1619.2,412.8 L1621.6,404.1 L1623.9,395.9 L1626.2,388.0 L1628.6,380.6 L1630.9,373.5 L1633.2,366.9 L1635.6,360.8 L1637.9,355.1 L1640.3,349.9 L1642.6,345.1 L1644.9,340.9 L1647.3,337.2 L1649.6,334.0 L1652.0,331.3 L1654.3,329.2 L1656.6,327.6 L1659.0,326.5 L1661.3,325.9 L1663.6,326.0 L1666.0,326.7 L1668.3,328.2 L1670.7,330.4 L1673.0,333.3 L1675.3,336.9 L1677.7,341.2 L1680.0,346.1 L1682.3,351.6 L1684.7,357.8 L1687.0,364.5 L1689.3,371.8 L1691.7,379.6 L1694.0,388.0 L1696.4,396.9 L1698.7,406.2 L1701.0,416.0 L1703.4,426.2 L1705.7,436.9 L1708.0,448.0 L1710.4,459.4 L1712.7,471.1 L1715.1,483.2 L1716.2,489.4"/>
<path d="M1659.0,553.6 L1661.3,551.0 L1663.6,548.7 L1666.0,546.8 L1668.3,545.2 L1670.7,544.1 L1673.0,543.3 L1675.3,542.9 L1677.7,542.9 L1680.0,543.5 L1682.3,544.5 L1684.7,546.1 L1687.0,548.2 L1689.3,550.8 L1691.7,553.8 L1694.0,557.4 L1695.2,559.3"/>
<path d="M1640.3,490.7 L1642.6,480.5 L1644.9,470.6 L1647.3,461.0 L1649.6,451.7 L1652.0,442.9 L1654.3,434.4 L1656.6,426.3 L1659.0,418.7 L1661.3,411.6 L1663.6,404.9 L1666.0,398.7 L1668.3,393.0 L1670.7,387.9 L1673.0,383.3 L1675.3,379.2 L1677.7,375.8 L1680.0,372.8 L1682.3,370.5 L1684.7,368.7 L1687.0,367.5 L1689.3,367.0 L1691.7,367.0 L1694.0,367.8 L1696.4,369.4 L1698.7,371.8 L1701.0,375.0 L1703.4,378.9 L1705.7,383.6 L1708.0,388.9 L1710.4,394.9 L1712.7,401.5 L1715.1,408.8 L1717.4,416.7 L1719.7,425.2 L1722.1,434.2 L1724.4,443.7 L1724.4,443.7"/>
<path d="M1639.1,486.9 L1641.4,481.4 L1643.8,476.4 L1646.1,471.7 L1648.4,467.6 L1650.8,463.9 L1653.1,460.7 L1655.5,457.9 L1657.8,455.7 L1660.1,453.9 L1662.5,452.7 L1664.8,451.9 L1667.1,451.7 L1669.5,452.0 L1671.8,453.1 L1674.2,454.8 L1676.5,457.2 L1678.8,460.2 L1681.2,463.9 L1683.5,468.1 L1685.8,473.0 L1688.2,478.4 L1690.5,484.4 L1692.9,490.9 L1695.2,497.9 L1697.5,505.4 L1699.9,513.3 L1702.2,521.7 L1704.5,530.6 L1704.5,530.6"/>
<path d="M1627.4,426.0 L1629.7,415.2 L1632.1,404.7 L1634.4,394.5 L1636.8,384.6 L1639.1,375.1 L1641.4,365.9 L1643.8,357.2 L1646.1,348.9 L1648.4,341.1 L1650.8,333.6 L1653.1,326.7 L1655.5,320.3 L1657.8,314.4 L1660.1,309.0 L1662.5,304.1 L1664.8,299.8 L1667.1,296.0 L1669.5,292.8 L1671.8,290.2 L1674.2,288.2 L1676.5,286.7 L1678.8,285.8 L1681.2,285.5 L1683.5,285.9 L1685.8,287.2 L1688.2,289.2 L1690.5,292.0 L1692.9,295.5 L1695.2,299.8 L1697.5,304.7 L1699.9,310.4 L1702.2,316.8 L1704.5,323.7 L1706.9,331.3 L1709.2,339.5 L1711.6,348.3 L1713.9,357.7 L1716.2,367.5 L1718.6,377.9 L1720.9,388.7 L1723.2,400.0 L1725.6,411.7 L1727.9,423.9 L1727.9,423.9"/>
<path d="M1439.2,1051.8 L1441.6,1048.6 L1443.9,1045.3 L1446.2,1041.9 L1448.6,1038.4 L1450.9,1034.8 L1453.3,1031.1 L1455.6,1027.2 L1457.9,1023.2 L1460.3,1019.1 L1462.6,1014.9 L1465.0,1010.5 L1467.3,1006.1 L1469.6,1001.4 L1472.0,996.7 L1474.3,991.8 L1476.6,986.7 L1479.0,981.5 L1481.3,976.2 L1483.7,970.7 L1486.0,965.0 L1488.3,959.2 L1490.7,953.2 L1493.0,947.1 L1495.3,940.8 L1497.7,934.3 L1500.0,927.6 L1502.3,920.8 L1504.7,913.9 L1507.0,906.7 L1509.4,899.4 L1511.7,891.9 L1514.0,884.2 L1516.4,876.4 L1518.7,868.4 L1521.0,860.2 L1523.4,851.9 L1525.7,843.3 L1528.1,834.7 L1530.4,825.8 L1532.7,816.8 L1535.1,807.7 L1537.4,798.4 L1538.6,793.7 M1628.6,427.6 L1630.9,421.9 L1633.2,416.7 L1635.6,411.8 L1637.9,407.3 L1640.3,403.3 L1642.6,399.8 L1644.9,396.6 L1647.3,394.0 L1649.6,391.8 L1652.0,390.1 L1654.3,388.8 L1656.6,388.0 L1659.0,387.7 L1661.3,387.9 L1663.6,388.8 L1666.0,390.3 L1668.3,392.5 L1670.7,395.2 L1673.0,398.6 L1675.3,402.5 L1677.7,407.0 L1680.0,412.1 L1682.3,417.7 L1684.7,423.8 L1687.0,430.4 L1689.3,437.5 L1691.7,445.0 L1694.0,453.0 L1696.4,461.4 L1698.7,470.2 L1701.0,479.4 L1703.4,488.9 L1705.7,498.8 L1708.0,509.1 L1709.2,514.3"/>
<path d="M1644.9,510.2 L1647.3,504.6 L1649.6,499.4 L1652.0,494.7 L1654.3,490.4 L1656.6,486.6 L1659.0,483.2 L1661.3,480.4 L1663.6,478.0 L1666.0,476.2 L1668.3,474.8 L1670.7,474.0 L1673.0,473.6 L1675.3,473.9 L1677.7,474.8 L1680.0,476.5 L1682.3,478.8 L1684.7,481.7 L1687.0,485.3 L1689.3,489.5 L1691.7,494.3 L1694.0,499.6 L1696.4,505.6 L1698.7,512.0 L1701.0,519.0 L1703.4,526.4 L1704.5,530.4"/>
<path d="M1632.1,455.3 L1634.4,444.2 L1636.8,433.4 L1639.1,422.9 L1641.4,412.7 L1643.8,402.8 L1646.1,393.3 L1648.4,384.2 L1650.8,375.5 L1653.1,367.3 L1655.5,359.4 L1657.8,352.1 L1660.1,345.2 L1662.5,338.9 L1664.8,333.0 L1667.1,327.7 L1669.5,323.0 L1671.8,318.8 L1674.2,315.1 L1676.5,312.1 L1678.8,309.6 L1681.2,307.7 L1683.5,306.5 L1685.8,305.8 L1688.2,305.7 L1690.5,306.4 L1692.9,307.9 L1695.2,310.2 L1697.5,313.3 L1699.9,317.1 L1702.2,321.7 L1704.5,327.0 L1706.9,333.0 L1709.2,339.6 L1711.6,346.9 L1713.9,354.8 L1716.2,363.3 L1718.6,372.4 L1720.9,382.0 L1723.2,392.2 L1725.6,402.8 L1727.9,413.9 L1729.1,419.7"/>
<path d="M1649.6,527.2 L1652.0,524.8 L1654.3,522.8 L1656.6,521.2 L1659.0,520.1 L1661.3,519.4 L1663.6,519.1 L1666.0,519.3 L1668.3,520.1 L1670.7,521.5 L1673.0,523.4 L1675.3,525.9 L1677.7,529.0 L1680.0,532.6 L1682.3,536.6 L1684.7,541.2 L1687.0,546.3 L1689.3,551.8 L1691.7,557.8 L1692.9,560.9"/>
<path d="M1630.9,444.2 L1633.2,435.4 L1635.6,426.8 L1637.9,418.7 L1640.3,410.9 L1642.6,403.5 L1644.9,396.4 L1647.3,389.8 L1649.6,383.6 L1652.0,377.9 L1654.3,372.6 L1656.6,367.7 L1659.0,363.3 L1661.3,359.4 L1663.6,356.1 L1666.0,353.2 L1668.3,350.8 L1670.7,348.9 L1673.0,347.5 L1675.3,346.6 L1677.7,346.3 L1680.0,346.5 L1682.3,347.5 L1684.7,349.2 L1687.0,351.5 L1689.3,354.5 L1691.7,358.2 L1694.0,362.5 L1696.4,367.4 L1698.7,372.9 L1701.0,379.0 L1703.4,385.6 L1705.7,392.8 L1708.0,400.5 L1710.4,408.7 L1712.7,417.3 L1715.1,426.5 L1717.4,436.0 L1719.7,446.0 L1722.1,456.4 L1722.1,456.4"/>
<path d="M1644.9,514.5 L1647.3,506.9 L1649.6,499.5 L1652.0,492.5 L1654.3,485.7 L1656.6,479.3 L1659.0,473.3 L1661.3,467.5 L1663.6,462.2 L1666.0,457.2 L1668.3,452.7 L1670.7,448.5 L1673.0,444.7 L1675.3,441.4 L1677.7,438.4 L1680.0,436.0 L1682.3,433.9 L1684.7,432.3 L1687.0,431.1 L1689.3,430.3 L1691.7,430.1 L1694.0,430.3 L1696.4,431.1 L1698.7,432.5 L1701.0,434.5 L1703.4,437.1 L1705.7,440.3 L1708.0,444.0 L1710.4,448.2 L1712.7,453.0 L1715.1,458.2 L1717.4,463.9 L1719.7,470.1 L1719.7,470.1 M1813.2,907.4 L1815.6,918.6 L1817.9,929.6 L1820.2,940.5 L1822.6,951.1 L1824.9,961.6 L1827.3,971.9 L1829.6,981.9 L1831.9,991.8 L1834.3,1001.4 L1836.6,1010.8 L1839.0,1019.9 L1841.3,1028.8 L1843.6,1037.4 L1846.0,1045.8 L1848.3,1054.0 L1850.6,1061.9 L1853.0,1069.5 L1855.3,1076.8 L1857.7,1083.9 L1860.0,1090.8 L1862.3,1097.3 L1864.7,1103.6 L1867.0,1109.6 L1867.0,1109.6"/>
<path d="M1590.0,556.9 L1592.3,543.5 L1594.7,530.2 L1597.0,517.0 L1599.4,503.8 L1601.7,490.7 L1604.0,477.7 L1606.4,464.9 L1608.7,452.3 L1611.0,439.8 L1613.4,427.6 L1615.7,415.7 L1618.1,404.0 L1620.4,392.7 L1622.7,381.6 L1625.1,371.0 L1627.4,360.7 L1629.7,350.9 L1632.1,341.5 L1634.4,332.5 L1636.8,324.0 L1639.1,316.1 L1641.4,308.6 L1643.8,301.7 L1646.1,295.4 L1648.4,289.6 L1650.8,284.4 L1653.1,279.9 L1655.5,275.9 L1657.8,272.6 L1660.1,269.9 L1662.5,267.9 L1664.8,266.5 L1667.1,265.7 L1669.5,265.6 L1671.8,266.4 L1674.2,268.0 L1676.5,270.5 L1678.8,273.9 L1681.2,278.1 L1683.5,283.0 L1685.8,288.8 L1688.2,295.3 L1690.5,302.5 L1692.9,310.4 L1695.2,319.0 L1697.5,328.2 L1699.9,338.0 L1702.2,348.4 L1704.5,359.4 L1706.9,370.9 L1709.2,382.9 L1711.6,395.4 L1713.9,408.4 L1716.2,421.7 L1718.6,435.5 L1720.9,449.6 L1722.1,456.8"/>
<path d="M1644.9,511.3 L1647.3,502.2 L1649.6,493.4 L1652.0,484.8 L1654.3,476.6 L1656.6,468.6 L1659.0,461.1 L1661.3,453.8 L1663.6,447.0 L1666.0,440.6 L1668.3,434.6 L1670.7,428.9 L1673.0,423.8 L1675.3,419.1 L1677.7,414.8 L1680.0,411.0 L1682.3,407.7 L1684.7,404.9 L1687.0,402.5 L1689.3,400.7 L1691.7,399.4 L1694.0,398.5 L1696.4,398.2 L1698.7,398.4 L1701.0,399.4 L1703.4,401.0 L1705.7,403.3 L1708.0,406.2 L1710.4,409.8 L1712.7,413.9 L1715.1,418.7 L1717.4,424.1 L1719.7,430.0 L1722.1,436.5 L1724.4,443.4 L1724.4,443.4 M1802.7,840.4 L1805.1,853.3 L1807.4,866.0 L1809.7,878.6 L1812.1,891.0 L1814.4,903.3 L1816.7,915.3 L1819.1,927.2 L1821.4,938.8 L1823.8,950.2 L1826.1,961.4 L1828.4,972.4 L1830.8,983.1 L1833.1,993.5 L1835.4,1003.7 L1837.8,1013.6 L1840.1,1023.2 L1842.5,1032.6 L1844.8,1041.7 L1847.1,1050.4 L1849.5,1058.9 L1851.8,1067.1 L1854.1,1075.0 L1856.5,1082.6 L1858.8,1089.9 L1861.2,1096.8 L1863.5,1103.5 L1864.7,1106.7"/>
<path d="M1641.4,499.5 L1643.8,496.2 L1646.1,493.3 L1648.4,490.9 L1650.8,488.8 L1653.1,487.2 L1655.5,486.0 L1657.8,485.2 L1660.1,484.8 L1662.5,484.9 L1664.8,485.6 L1667.1,486.9 L1669.5,488.7 L1671.8,491.2 L1674.2,494.1 L1676.5,497.6 L1678.8,501.6 L1681.2,506.0 L1683.5,511.0 L1685.8,516.4 L1688.2,522.3 L1690.5,528.6 L1692.9,535.4 L1695.2,542.5 L1697.5,550.0 L1697.5,550.0"/>
<path d="M1450.9,1041.9 L1453.3,1038.5 L1455.6,1035.1 L1457.9,1031.5 L1460.3,1027.8 L1462.6,1024.0 L1465.0,1020.0 L1467.3,1016.0 L1469.6,1011.8 L1472.0,1007.5 L1474.3,1003.1 L1476.6,998.5 L1479.0,993.8 L1481.3,988.9 L1483.7,983.9 L1486.0,978.7 L1488.3,973.4 L1490.7,968.0 L1493.0,962.3 L1495.3,956.6 L1497.7,950.6 L1500.0,944.5 L1502.3,938.2 L1504.7,931.8 L1507.0,925.2 L1509.4,918.3 L1511.7,911.4 L1514.0,904.2 L1516.4,896.9 L1518.7,889.3 L1521.0,881.6 L1523.4,873.8 L1524.6,869.7 M1626.2,418.0 L1628.6,409.1 L1630.9,400.5 L1633.2,392.2 L1635.6,384.3 L1637.9,376.7 L1640.3,369.5 L1642.6,362.8 L1644.9,356.4 L1647.3,350.4 L1649.6,344.9 L1652.0,339.9 L1654.3,335.3 L1656.6,331.1 L1659.0,327.5 L1661.3,324.3 L1663.6,321.6 L1666.0,319.4 L1668.3,317.8 L1670.7,316.6 L1673.0,315.9 L1675.3,315.7 L1677.7,316.2 L1680.0,317.4 L1682.3,319.2 L1684.7,321.8 L1687.0,324.9 L1689.3,328.7 L1691.7,333.2 L1694.0,338.2 L1696.4,343.8 L1698.7,349.9 L1701.0,356.7 L1703.4,363.9 L1705.7,371.6 L1708.0,379.9 L1710.4,388.6 L1712.7,397.7 L1715.1,407.3 L1717.4,417.3 L1719.7,427.7 L1722.1,438.4 L1724.4,449.5 L1724.4,449.5"/>
<path d="M1661.3,562.1 L1663.6,557.2 L1666.0,552.6 L1668.3,548.5 L1670.7,544.8 L1673.0,541.5 L1675.3,538.6 L1677.7,536.2 L1680.0,534.2 L1682.3,532.7 L1684.7,531.6 L1687.0,531.0 L1689.3,530.9 L1691.7,531.3 L1694.0,532.3 L1696.4,534.0 L1698.7,536.3 L1701.0,539.1 L1702.2,540.8"/>
<path d="M1627.4,426.6 L1629.7,418.6 L1632.1,411.1 L1634.4,404.0 L1636.8,397.4 L1639.1,391.2 L1641.4,385.4 L1643.8,380.2 L1646.1,375.5 L1648.4,371.2 L1650.8,367.5 L1653.1,364.4 L1655.5,361.7 L1657.8,359.6 L1660.1,358.1 L1662.5,357.1 L1664.8,356.6 L1667.1,356.7 L1669.5,357.6 L1671.8,359.3 L1674.2,361.6 L1676.5,364.7 L1678.8,368.5 L1681.2,373.0 L1683.5,378.1 L1685.8,383.8 L1688.2,390.2 L1690.5,397.1 L1692.9,404.6 L1695.2,412.7 L1697.5,421.3 L1699.9,430.4 L1702.2,439.9 L1704.5,449.9 L1706.9,460.4 L1709.2,471.2 L1711.6,482.5 L1713.9,494.1 L1713.9,494.1"/>
<path d="M1641.4,500.9 L1643.8,494.1 L1646.1,487.6 L1648.4,481.5 L1650.8,475.8 L1653.1,470.5 L1655.5,465.6 L1657.8,461.1 L1660.1,457.0 L1662.5,453.4 L1664.8,450.2 L1667.1,447.5 L1669.5,445.2 L1671.8,443.4 L1674.2,442.1 L1676.5,441.2 L1678.8,440.8 L1681.2,441.0 L1683.5,441.7 L1685.8,443.1 L1688.2,445.2 L1690.5,447.8 L1692.9,451.1 L1695.2,454.9 L1697.5,459.3 L1699.9,464.2 L1702.2,469.7 L1704.5,475.7 L1706.9,482.1 L1709.2,489.1 L1711.6,496.4 L1712.7,500.3"/>
<path d="M1630.9,450.0 L1633.2,438.7 L1635.6,427.7 L1637.9,417.0 L1640.3,406.4 L1642.6,396.2 L1644.9,386.3 L1647.3,376.6 L1649.6,367.3 L1652.0,358.4 L1654.3,349.8 L1656.6,341.6 L1659.0,333.9 L1661.3,326.5 L1663.6,319.6 L1666.0,313.2 L1668.3,307.2 L1670.7,301.7 L1673.0,296.7 L1675.3,292.2 L1677.7,288.3 L1680.0,284.8 L1682.3,281.9 L1684.7,279.6 L1687.0,277.7 L1689.3,276.5 L1691.7,275.7 L1694.0,275.6 L1696.4,276.1 L1698.7,277.3 L1701.0,279.3 L1703.4,282.1 L1705.7,285.5 L1708.0,289.6 L1710.4,294.4 L1712.7,299.9 L1715.1,305.9 L1717.4,312.6 L1719.7,319.9 L1722.1,327.7 L1724.4,336.1 L1726.8,345.0 L1729.1,354.4 L1731.4,364.3 L1733.8,374.6 L1736.1,385.4 L1738.4,396.6 L1740.8,408.2 L1743.1,420.2 L1745.5,432.5 L1747.8,445.1 L1750.1,458.1 L1752.5,471.3 L1754.8,484.8 L1757.1,498.5 L1759.5,512.5 L1761.8,526.7 L1764.2,541.0 L1766.5,555.5 L1768.8,570.2 L1771.2,584.9 L1773.5,599.8 L1775.8,614.7 L1778.2,629.8 L1780.5,644.8 L1782.8,659.9 L1785.2,675.0 L1787.5,690.0 L1789.9,705.1 L1792.2,720.1 L1794.5,735.0 L1796.9,749.8 L1799.2,764.6 L1801.5,779.2 L1803.9,793.7 L1806.2,808.1 L1808.6,822.3 L1810.9,836.3 L1813.2,850.2 L1815.6,863.8 L1817.9,877.3 L1820.2,890.5 L1822.6,903.5 L1824.9,916.2 L1827.3,928.7 L1829.6,940.9 L1831.9,952.9 L1834.3,964.6 L1836.6,975.9 L1839.0,987.0 L1841.3,997.8 L1843.6,1008.3 L1846.0,1018.5 L1848.3,1028.3 L1850.6,1037.8 L1853.0,1047.0 L1855.3,1055.9 L1857.7,1064.5 L1860.0,1072.7 L1862.3,1080.6 L1864.7,1088.1 L1867.0,1095.4 L1867.0,1095.4"/>
<path d="M1661.3,557.9 L1663.6,556.7 L1666.0,555.8 L1668.3,555.3 L1670.7,555.2 L1673.0,555.5 L1675.3,556.4 L1677.7,557.7 L1680.0,559.5 L1682.3,561.8 L1684.7,564.6 L1687.0,567.7 L1688.2,569.5"/>
<path d="M1637.9,483.7 L1640.3,474.0 L1642.6,464.7 L1644.9,455.8 L1647.3,447.2 L1649.6,439.0 L1652.0,431.3 L1654.3,424.1 L1656.6,417.3 L1659.0,410.9 L1661.3,405.1 L1663.6,399.8 L1666.0,395.1 L1668.3,390.8 L1670.7,387.2 L1673.0,384.1 L1675.3,381.6 L1677.7,379.6 L1680.0,378.2 L1682.3,377.5 L1684.7,377.3 L1687.0,377.8 L1689.3,379.2 L1691.7,381.3 L1694.0,384.2 L1696.4,387.9 L1698.7,392.2 L1701.0,397.3 L1703.4,403.1 L1705.7,409.5 L1708.0,416.5 L1710.4,424.2 L1712.7,432.4 L1715.1,441.2 L1717.4,450.5 L1719.7,460.3 L1720.9,465.4"/>
<path d="M1654.3,545.3 L1656.6,537.3 L1659.0,529.6 L1661.3,522.3 L1663.6,515.3 L1666.0,508.7 L1668.3,502.5 L1670.7,496.7 L1673.0,491.3 L1675.3,486.3 L1677.7,481.8 L1680.0,477.8 L1682.3,474.2 L1684.7,471.0 L1687.0,468.4 L1689.3,466.3 L1691.7,464.6 L1694.0,463.4 L1696.4,462.8 L1698.7,462.6 L1701.0,463.1 L1703.4,464.2 L1705.7,466.1 L1708.0,468.5 L1710.4,471.6 L1712.7,475.4 L1715.1,479.7 L1716.2,482.1"/>
<path d="M1436.9,1053.4 L1439.2,1050.2 L1441.6,1047.0 L1443.9,1043.6 L1446.2,1040.2 L1448.6,1036.6 L1450.9,1032.9 L1453.3,1029.0 L1455.6,1025.0 L1457.9,1020.9 L1460.3,1016.7 L1462.6,1012.3 L1465.0,1007.8 L1467.3,1003.1 L1469.6,998.3 L1472.0,993.3 L1474.3,988.1 L1476.6,982.8 L1479.0,977.3 L1481.3,971.6 L1483.7,965.8 L1486.0,959.8 L1488.3,953.6 L1490.7,947.2 L1493.0,940.6 L1495.3,933.8 L1497.7,926.8 L1500.0,919.7 L1502.3,912.3 L1504.7,904.7 L1507.0,896.9 L1509.4,888.9 L1511.7,880.7 L1514.0,872.3 L1516.4,863.6 L1518.7,854.8 L1521.0,845.7 L1523.4,836.5 L1525.7,827.0 L1528.1,817.3 L1530.4,807.4 L1532.7,797.3 L1535.1,787.0 L1537.4,776.5 L1539.8,765.8 L1542.1,754.9 L1544.4,743.8 L1546.8,732.6 L1549.1,721.2 L1551.4,709.7 L1553.8,697.9 L1556.1,686.1 L1558.5,674.1 L1560.8,662.0 L1563.1,649.9 L1565.5,637.6 L1567.8,625.2 L1570.1,612.8 L1572.5,600.4 L1574.8,587.9 L1577.2,575.4 L1579.5,563.0 L1581.8,550.5 L1584.2,538.1 L1586.5,525.8 L1588.8,513.6 L1591.2,501.5 L1593.5,489.5 L1595.8,477.7 L1598.2,466.0 L1600.5,454.6 L1602.9,443.4 L1605.2,432.4 L1607.5,421.7 L1609.9,411.4 L1612.2,401.3 L1614.5,391.6 L1616.9,382.2 L1619.2,373.2 L1621.6,364.6 L1623.9,356.5 L1626.2,348.8 L1628.6,341.5 L1630.9,334.8 L1633.2,328.5 L1635.6,322.7 L1637.9,317.5 L1640.3,312.8 L1642.6,308.7 L1644.9,305.1 L1647.3,302.1 L1649.6,299.6 L1652.0,297.7 L1654.3,296.4 L1656.6,295.7 L1659.0,295.6 L1661.3,296.2 L1663.6,297.7 L1666.0,299.9 L1668.3,302.9 L1670.7,306.6 L1673.0,311.1 L1675.3,316.2 L1677.7,322.0 L1680.0,328.5 L1682.3,335.7 L1684.7,343.4 L1687.0,351.7 L1689.3,360.6 L1691.7,370.1 L1694.0,380.0 L1696.4,390.5 L1698.7,401.4 L1701.0,412.8 L1703.4,424.6 L1705.7,436.7 L1708.0,449.3 L1710.4,462.2 L1712.7,475.4 L1715.1,489.0 L1715.1,489.0"/>
<path d="M1649.6,527.3 L1652.0,523.5 L1654.3,520.1 L1656.6,517.0 L1659.0,514.4 L1661.3,512.2 L1663.6,510.4 L1666.0,509.1 L1668.3,508.1 L1670.7,507.6 L1673.0,507.5 L1675.3,508.0 L1677.7,509.0 L1680.0,510.6 L1682.3,512.8 L1684.7,515.5 L1687.0,518.8 L1689.3,522.5 L1691.7,526.8 L1694.0,531.5 L1696.4,536.7 L1698.7,542.4 L1699.9,545.4"/>
<path d="M1633.2,456.0 L1635.6,446.6 L1637.9,437.4 L1640.3,428.5 L1642.6,420.0 L1644.9,411.7 L1647.3,403.8 L1649.6,396.3 L1652.0,389.2 L1654.3,382.4 L1656.6,376.1 L1659.0,370.2 L1661.3,364.7 L1663.6,359.7 L1666.0,355.1 L1668.3,351.1 L1670.7,347.4 L1673.0,344.3 L1675.3,341.7 L1677.7,339.6 L1680.0,337.9 L1682.3,336.8 L1684.7,336.2 L1687.0,336.1 L1689.3,336.6 L1691.7,337.9 L1694.0,339.8 L1696.4,342.4 L1698.7,345.7 L1701.0,349.5 L1703.4,354.0 L1705.7,359.1 L1708.0,364.8 L1710.4,371.0 L1712.7,377.8 L1715.1,385.1 L1717.4,392.9 L1719.7,401.2 L1722.1,409.9 L1724.4,419.1 L1726.8,428.7 L1726.8,428.7 M1814.4,914.2 L1816.7,926.2 L1819.1,937.9 L1821.4,949.5 L1823.8,960.8 L1826.1,971.8 L1828.4,982.6 L1830.8,993.1 L1833.1,1003.3 L1835.4,1013.2 L1837.8,1022.9 L1840.1,1032.3 L1842.5,1041.3 L1844.8,1050.1 L1847.1,1058.6 L1849.5,1066.8 L1851.8,1074.6 L1854.1,1082.2 L1856.5,1089.5 L1856.5,1089.5"/>
<path d="M1634.4,459.3 L1636.8,453.2 L1639.1,447.6 L1641.4,442.4 L1643.8,437.7 L1646.1,433.6 L1648.4,429.9 L1650.8,426.8 L1653.1,424.2 L1655.5,422.2 L1657.8,420.7 L1660.1,419.8 L1662.5,419.4 L1664.8,419.6 L1667.1,420.6 L1669.5,422.3 L1671.8,424.7 L1674.2,427.9 L1676.5,431.7 L1678.8,436.3 L1681.2,441.4 L1683.5,447.2 L1685.8,453.6 L1688.2,460.5 L1690.5,468.1 L1692.9,476.1 L1695.2,484.7 L1697.5,493.7 L1699.9,503.2 L1702.2,513.2 L1704.5,523.5 L1705.7,528.9"/>
<path d="M1623.9,403.7 L1626.2,392.2 L1628.6,381.0 L1630.9,370.2 L1633.2,359.7 L1635.6,349.5 L1637.9,339.8 L1640.3,330.6 L1642.6,321.7 L1644.9,313.4 L1647.3,305.5 L1649.6,298.2 L1652.0,291.4 L1654.3,285.2 L1656.6,279.5 L1659.0,274.4 L1661.3,269.9 L1663.6,266.0 L1666.0,262.7 L1668.3,260.0 L1670.7,258.0 L1673.0,256.6 L1675.3,255.8 L1677.7,255.7 L1680.0,256.4 L1682.3,258.0 L1684.7,260.4 L1687.0,263.6 L1689.3,267.6 L1691.7,272.5 L1694.0,278.1 L1696.4,284.4 L1698.7,291.4 L1701.0,299.1 L1703.4,307.5 L1705.7,316.5 L1708.0,326.2 L1710.4,336.4 L1712.7,347.1 L1715.1,358.4 L1717.4,370.2 L1719.7,382.5 L1722.1,395.2 L1724.4,408.3 L1726.8,421.9 L1727.9,428.8"/>
<path d="M1633.2,454.2 L1635.6,447.7 L1637.9,441.7 L1640.3,436.1 L1642.6,430.8 L1644.9,426.1 L1647.3,421.7 L1649.6,417.8 L1652.0,414.3 L1654.3,411.4 L1656.6,408.8 L1659.0,406.8 L1661.3,405.2 L1663.6,404.2 L1666.0,403.6 L1668.3,403.5 L1670.7,404.0 L1673.0,405.2 L1675.3,407.0 L1677.7,409.5 L1680.0,412.6 L1682.3,416.3 L1684.7,420.6 L1687.0,425.5 L1689.3,430.9 L1691.7,436.9 L1694.0,443.3 L1696.4,450.3 L1698.7,457.7 L1701.0,465.6 L1703.4,473.9 L1705.7,482.7 L1708.0,491.8 L1710.4,501.4 L1711.6,506.3"/>
<path d="M1649.6,528.1 L1652.0,522.9 L1654.3,518.1 L1656.6,513.7 L1659.0,509.6 L1661.3,505.9 L1663.6,502.6 L1666.0,499.7 L1668.3,497.1 L1670.7,495.0 L1673.0,493.3 L1675.3,491.9 L1677.7,491.0 L1680.0,490.5 L1682.3,490.4 L1684.7,490.9 L1687.0,491.9 L1689.3,493.5 L1691.7,495.6 L1694.0,498.2 L1696.4,501.4 L1698.7,505.0 L1701.0,509.2 L1703.4,513.8 L1705.7,518.8 L1706.9,521.5"/>
<path d="M1637.9,486.5 L1640.3,474.9 L1642.6,463.6 L1644.9,452.5 L1647.3,441.8 L1649.6,431.3 L1652.0,421.2 L1654.3,411.5 L1656.6,402.1 L1659.0,393.2 L1661.3,384.7 L1663.6,376.6 L1666.0,369.0 L1668.3,362.0 L1670.7,355.4 L1673.0,349.3 L1675.3,343.9 L1677.7,338.9 L1680.0,334.6 L1682.3,330.8 L1684.7,327.6 L1687.0,325.0 L1689.3,323.1 L1691.7,321.7 L1694.0,321.0 L1696.4,320.8 L1698.7,321.5 L1701.0,323.0 L1703.4,325.3 L1705.7,328.5 L1708.0,332.4 L1710.4,337.1 L1712.7,342.5 L1715.1,348.6 L1717.4,355.4 L1719.7,362.8 L1722.1,370.9 L1724.4,379.6 L1726.8,388.9 L1729.1,398.7 L1730.3,403.9 M1823.8,967.6 L1826.1,979.6 L1828.4,991.2 L1830.8,1002.5 L1833.1,1013.4 L1835.4,1024.0 L1837.8,1034.3 L1840.1,1044.2 L1840.1,1044.2"/>
<path d="M1653.1,538.7 L1655.5,537.6 L1657.8,537.0 L1660.1,536.8 L1662.5,537.2 L1664.8,538.2 L1667.1,539.8 L1669.5,541.9 L1671.8,544.6 L1674.2,547.9 L1676.5,551.7 L1678.8,556.0 L1681.2,560.8 L1683.5,566.1 L1685.8,571.8 L1685.8,571.8"/>
<path d="M1630.9,446.2 L1633.2,437.8 L1635.6,429.7 L1637.9,422.0 L1640.3,414.7 L1642.6,407.9 L1644.9,401.4 L1647.3,395.4 L1649.6,389.9 L1652.0,384.8 L1654.3,380.2 L1656.6,376.1 L1659.0,372.5 L1661.3,369.4 L1663.6,366.8 L1666.0,364.8 L1668.3,363.2 L1670.7,362.2 L1673.0,361.8 L1675.3,361.9 L1677.7,362.7 L1680.0,364.2 L1682.3,366.5 L1684.7,369.4 L1687.0,373.0 L1689.3,377.3 L1691.7,382.2 L1694.0,387.7 L1696.4,393.8 L1698.7,400.5 L1701.0,407.7 L1703.4,415.5 L1705.7,423.7 L1708.0,432.5 L1710.4,441.7 L1712.7,451.4 L1715.1,461.5 L1717.4,471.9 L1718.6,477.3"/>
<path d="M1646.1,515.1 L1648.4,508.0 L1650.8,501.3 L1653.1,494.8 L1655.5,488.7 L1657.8,483.0 L1660.1,477.6 L1662.5,472.7 L1664.8,468.1 L1667.1,464.0 L1669.5,460.2 L1671.8,456.9 L1674.2,454.1 L1676.5,451.6 L1678.8,449.7 L1681.2,448.1 L1683.5,447.0 L1685.8,446.4 L1688.2,446.2 L1690.5,446.6 L1692.9,447.6 L1695.2,449.3 L1697.5,451.5 L1699.9,454.3 L1702.2,457.7 L1704.5,461.6 L1706.9,466.1 L1709.2,471.1 L1711.6,476.6 L1713.9,482.5 L1716.2,489.0 L1716.2,489.0"/>
<path d="M1399.5,1082.7 L1401.8,1080.7 L1404.2,1078.7 L1406.5,1076.6 L1408.8,1074.5 L1411.2,1072.2 L1413.5,1069.9 L1415.9,1067.5 L1418.2,1065.1 L1420.5,1062.5 L1422.9,1059.9 L1425.2,1057.2 L1427.5,1054.4 L1429.9,1051.5 L1432.2,1048.5 L1434.6,1045.4 L1436.9,1042.2 L1439.2,1038.9 L1441.6,1035.5 L1443.9,1032.0 L1446.2,1028.3 L1448.6,1024.6 L1450.9,1020.7 L1453.3,1016.7 L1455.6,1012.6 L1457.9,1008.4 L1460.3,1004.0 L1462.6,999.5 L1465.0,994.8 L1467.3,990.0 L1469.6,985.1 L1472.0,980.0 L1474.3,974.7 L1476.6,969.3 L1479.0,963.8 L1481.3,958.0 L1483.7,952.1 L1486.0,946.1 L1488.3,939.8 L1490.7,933.4 L1493.0,926.8 L1495.3,920.1 L1497.7,913.1 L1500.0,906.0 L1502.3,898.7 L1504.7,891.2 L1507.0,883.5 L1509.4,875.6 L1511.7,867.5 L1514.0,859.2 L1516.4,850.7 L1518.7,842.1 L1521.0,833.2 L1523.4,824.2 L1525.7,814.9 L1528.1,805.5 L1530.4,795.9 L1532.7,786.1 L1535.1,776.1 L1537.4,766.0 L1539.8,755.6 L1542.1,745.2 L1544.4,734.5 L1546.8,723.7 L1549.1,712.7 L1551.4,701.6 L1553.8,690.4 L1556.1,679.0 L1558.5,667.5 L1560.8,655.9 L1563.1,644.2 L1565.5,632.5 L1567.8,620.6 L1570.1,608.7 L1572.5,596.8 L1574.8,584.8 L1577.2,572.8 L1579.5,560.8 L1581.8,548.8 L1584.2,536.9 L1586.5,525.0 L1588.8,513.2 L1591.2,501.4 L1593.5,489.8 L1595.8,478.3 L1598.2,466.9 L1600.5,455.7 L1602.9,444.7 L1605.2,433.9 L1607.5,423.3 L1609.9,412.9 L1612.2,402.8 L1614.5,393.0 L1616.9,383.5 L1619.2,374.3 L1621.6,365.4 L1623.9,356.9 L1626.2,348.8 L1628.6,341.0 L1630.9,333.7 L1633.2,326.8 L1635.6,320.3 L1637.9,314.3 L1640.3,308.7 L1642.6,303.6 L1644.9,299.0 L1647.3,294.9 L1649.6,291.3 L1652.0,288.2 L1654.3,285.6 L1656.6,283.6 L1659.0,282.0 L1661.3,281.0 L1663.6,280.6 L1666.0,280.7 L1668.3,281.5 L1670.7,283.0 L1673.0,285.3 L1675.3,288.2 L1677.7,291.9 L1680.0,296.1 L1682.3,301.1 L1684.7,306.6 L1687.0,312.7 L1689.3,319.4 L1691.7,326.7 L1694.0,334.5 L1696.4,342.9 L1698.7,351.7 L1701.0,361.0 L1703.4,370.8 L1705.7,381.0 L1708.0,391.7 L1710.4,402.7 L1712.7,414.1 L1715.1,425.9 L1717.4,438.0 L1719.7,450.4 L1722.1,463.1 L1722.1,463.1"/>
<path d="M1666.0,567.9 L1668.3,565.7 L1670.7,564.0 L1673.0,562.8 L1675.3,561.9 L1677.7,561.5 L1680.0,561.6 L1682.3,562.3 L1684.7,563.6 L1687.0,565.4 L1689.3,567.9 L1689.3,567.9"/>
<path d="M1641.4,500.1 L1643.8,490.5 L1646.1,481.2 L1648.4,472.2 L1650.8,463.6 L1653.1,455.3 L1655.5,447.3 L1657.8,439.8 L1660.1,432.6 L1662.5,425.9 L1664.8,419.6 L1667.1,413.7 L1669.5,408.3 L1671.8,403.5 L1674.2,399.0 L1676.5,395.1 L1678.8,391.7 L1681.2,388.9 L1683.5,386.5 L1685.8,384.7 L1688.2,383.4 L1690.5,382.7 L1692.9,382.5 L1695.2,382.9 L1697.5,384.1 L1699.9,386.1 L1702.2,388.7 L1704.5,392.0 L1706.9,396.0 L1709.2,400.6 L1711.6,405.9 L1713.9,411.8 L1716.2,418.2 L1718.6,425.3 L1720.9,432.8 L1723.2,440.9 L1724.4,445.2"/>
<path d="M1641.4,499.8 L1643.8,494.8 L1646.1,490.2 L1648.4,486.0 L1650.8,482.2 L1653.1,478.9 L1655.5,476.0 L1657.8,473.6 L1660.1,471.6 L1662.5,470.0 L1664.8,468.9 L1667.1,468.3 L1669.5,468.1 L1671.8,468.5 L1674.2,469.5 L1676.5,471.2 L1678.8,473.4 L1681.2,476.2 L1683.5,479.6 L1685.8,483.6 L1688.2,488.1 L1690.5,493.1 L1692.9,498.7 L1695.2,504.7 L1697.5,511.1 L1699.9,518.1 L1702.2,525.4 L1704.5,533.2 L1704.5,533.2"/>
<path d="M1628.6,434.5 L1630.9,424.3 L1633.2,414.4 L1635.6,404.8 L1637.9,395.5 L1640.3,386.5 L1642.6,378.0 L1644.9,369.7 L1647.3,361.9 L1649.6,354.5 L1652.0,347.5 L1654.3,340.9 L1656.6,334.8 L1659.0,329.2 L1661.3,324.0 L1663.6,319.3 L1666.0,315.2 L1668.3,311.5 L1670.7,308.4 L1673.0,305.8 L1675.3,303.7 L1677.7,302.1 L1680.0,301.1 L1682.3,300.6 L1684.7,300.7 L1687.0,301.6 L1689.3,303.1 L1691.7,305.4 L1694.0,308.4 L1696.4,312.1 L1698.7,316.4 L1701.0,321.4 L1703.4,327.0 L1705.7,333.2 L1708.0,340.0 L1710.4,347.4 L1712.7,355.3 L1715.1,363.7 L1717.4,372.6 L1719.7,382.1 L1722.1,391.9 L1724.4,402.3 L1726.8,413.0 L1727.9,418.5 M1829.6,999.8 L1831.9,1010.1 L1834.3,1020.1 L1836.6,1029.9 L1839.0,1039.3 L1840.1,1043.8"/>
<path d="M1661.3,557.9 L1663.6,552.5 L1666.0,547.4 L1668.3,542.6 L1670.7,538.2 L1673.0,534.1 L1675.3,530.3 L1677.7,526.9 L1680.0,523.9 L1682.3,521.2 L1684.7,518.9 L1687.0,517.0 L1689.3,515.5 L1691.7,514.4 L1694.0,513.6 L1696.4,513.3 L1698.7,513.4 L1701.0,514.0 L1703.4,515.1 L1705.7,516.8 L1708.0,518.9 L1708.0,518.9 M1816.7,928.4 L1819.1,938.4 L1821.4,948.4 L1823.8,958.1 L1826.1,967.8 L1828.4,977.2 L1830.8,986.5 L1833.1,995.6 L1835.4,1004.5 L1837.8,1013.3 L1840.1,1021.8 L1842.5,1030.1 L1844.8,1038.2 L1847.1,1046.1 L1849.5,1053.8 L1851.8,1061.3 L1854.1,1068.5 L1856.5,1075.5 L1858.8,1082.3 L1861.2,1088.8 L1863.5,1095.1 L1865.8,1101.2 L1867.0,1104.2"/>
<path d="M1625.1,409.1 L1627.4,401.0 L1629.7,393.4 L1632.1,386.2 L1634.4,379.5 L1636.8,373.3 L1639.1,367.6 L1641.4,362.4 L1643.8,357.8 L1646.1,353.7 L1648.4,350.2 L1650.8,347.2 L1653.1,344.9 L1655.5,343.1 L1657.8,341.9 L1660.1,341.3 L1662.5,341.2 L1664.8,342.0 L1667.1,343.6 L1669.5,346.0 L1671.8,349.1 L1674.2,353.0 L1676.5,357.6 L1678.8,362.8 L1681.2,368.8 L1683.5,375.4 L1685.8,382.7 L1688.2,390.5 L1690.5,399.0 L1692.9,408.0 L1695.2,417.5 L1697.5,427.5 L1699.9,438.1 L1702.2,449.0 L1704.5,460.4 L1706.9,472.2 L1709.2,484.4 L1711.6,497.0 L1712.7,503.4"/>
<path d="M1639.1,483.2 L1641.4,476.2 L1643.8,469.6 L1646.1,463.4 L1648.4,457.6 L1650.8,452.3 L1653.1,447.4 L1655.5,443.0 L1657.8,439.0 L1660.1,435.5 L1662.5,432.4 L1664.8,429.9 L1667.1,427.9 L1669.5,426.3 L1671.8,425.3 L1674.2,424.8 L1676.5,424.8 L1678.8,425.4 L1681.2,426.8 L1683.5,428.8 L1685.8,431.5 L1688.2,434.8 L1690.5,438.8 L1692.9,443.3 L1695.2,448.5 L1697.5,454.2 L1699.9,460.4 L1702.2,467.2 L1704.5,474.5 L1706.9,482.2 L1709.2,490.5 L1711.6,499.1 L1712.7,503.6"/>
<path d="M1628.6,435.8 L1630.9,424.2 L1633.2,412.8 L1635.6,401.6 L1637.9,390.8 L1640.3,380.2 L1642.6,370.0 L1644.9,360.1 L1647.3,350.5 L1649.6,341.4 L1652.0,332.6 L1654.3,324.3 L1656.6,316.4 L1659.0,309.0 L1661.3,302.1 L1663.6,295.6 L1666.0,289.7 L1668.3,284.3 L1670.7,279.4 L1673.0,275.0 L1675.3,271.3 L1677.7,268.1 L1680.0,265.4 L1682.3,263.3 L1684.7,261.9 L1687.0,261.0 L1689.3,260.6 L1691.7,261.0 L1694.0,262.2 L1696.4,264.1 L1698.7,266.9 L1701.0,270.3 L1703.4,274.6 L1705.7,279.5 L1708.0,285.1 L1710.4,291.4 L1712.7,298.3 L1715.1,305.9 L1717.4,314.1 L1719.7,322.8 L1722.1,332.1 L1724.4,341.9 L1726.8,352.3 L1729.1,363.1 L1731.4,374.4 L1733.8,386.1 L1736.1,398.2 L1738.4,410.8 L1740.8,423.7 L1743.1,436.9 L1745.5,450.4 L1747.8,464.3 L1750.1,478.4 L1752.5,492.8 L1754.8,507.4 L1757.1,522.2 L1759.5,537.2 L1761.8,552.4 L1764.2,567.6 L1766.5,583.0 L1768.8,598.5 L1771.2,614.1 L1773.5,629.8 L1775.8,645.4 L1778.2,661.1 L1780.5,676.8 L1782.8,692.4 L1785.2,708.0 L1787.5,723.5 L1789.9,739.0 L1792.2,754.3 L1794.5,769.6 L1796.9,784.7 L1799.2,799.6 L1801.5,814.4 L1803.9,829.0 L1806.2,843.5 L1808.6,857.7 L1810.9,871.6 L1813.2,885.4 L1815.6,898.9 L1817.9,912.1 L1820.2,925.1 L1822.6,937.8 L1824.9,950.2 L1827.3,962.3 L1829.6,974.1 L1831.9,985.6 L1834.3,996.7 L1836.6,1007.5 L1839.0,1018.0 L1841.3,1028.2 L1843.6,1038.0 L1846.0,1047.5 L1848.3,1056.6 L1850.6,1065.4 L1853.0,1073.8 L1855.3,1081.8 L1857.7,1089.6 L1860.0,1096.9 L1860.0,1096.9"/>
<path d="M1635.6,471.2 L1637.9,463.6 L1640.3,456.4 L1642.6,449.5 L1644.9,442.9 L1647.3,436.7 L1649.6,430.9 L1652.0,425.4 L1654.3,420.3 L1656.6,415.7 L1659.0,411.4 L1661.3,407.6 L1663.6,404.2 L1666.0,401.3 L1668.3,398.7 L1670.7,396.7 L1673.0,395.1 L1675.3,393.9 L1677.7,393.2 L1680.0,392.9 L1682.3,393.2 L1684.7,394.1 L1687.0,395.7 L1689.3,397.8 L1691.7,400.5 L1694.0,403.9 L1696.4,407.7 L1698.7,412.1 L1701.0,417.1 L1703.4,422.5 L1705.7,428.5 L1708.0,434.9 L1710.4,441.8 L1712.7,449.2 L1715.1,456.9 L1717.4,465.1 L1719.7,473.7 L1719.7,473.7"/>
<path d="M1655.5,545.6 L1657.8,538.3 L1660.1,531.2 L1662.5,524.6 L1664.8,518.4 L1667.1,512.5 L1669.5,507.2 L1671.8,502.2 L1674.2,497.7 L1676.5,493.7 L1678.8,490.1 L1681.2,487.1 L1683.5,484.5 L1685.8,482.4 L1688.2,480.9 L1690.5,479.8 L1692.9,479.3 L1695.2,479.3 L1697.5,479.9 L1699.9,481.3 L1702.2,483.4 L1704.5,486.1 L1706.9,489.5 L1709.2,493.5 L1711.6,498.1 L1712.7,500.6"/>
<path d="M1626.2,412.6 L1628.6,402.8 L1630.9,393.5 L1633.2,384.6 L1635.6,376.1 L1637.9,368.0 L1640.3,360.4 L1642.6,353.3 L1644.9,346.7 L1647.3,340.6 L1649.6,335.0 L1652.0,330.0 L1654.3,325.5 L1656.6,321.6 L1659.0,318.3 L1661.3,315.6 L1663.6,313.5 L1666.0,311.9 L1668.3,311.0 L1670.7,310.7 L1673.0,311.0 L1675.3,312.3 L1677.7,314.3 L1680.0,317.1 L1682.3,320.7 L1684.7,325.0 L1687.0,330.1 L1689.3,335.8 L1691.7,342.3 L1694.0,349.4 L1696.4,357.1 L1698.7,365.5 L1701.0,374.4 L1703.4,383.9 L1705.7,394.0 L1708.0,404.5 L1710.4,415.5 L1712.7,427.0 L1715.1,438.9 L1717.4,451.2 L1719.7,463.9 L1720.9,470.4"/>
<path d="M1657.8,553.3 L1660.1,548.7 L1662.5,544.5 L1664.8,540.6 L1667.1,537.2 L1669.5,534.2 L1671.8,531.6 L1674.2,529.4 L1676.5,527.7 L1678.8,526.3 L1681.2,525.5 L1683.5,525.0 L1685.8,525.0 L1688.2,525.6 L1690.5,526.7 L1692.9,528.5 L1695.2,530.8 L1697.5,533.6 L1699.9,537.0 L1702.2,541.0 L1702.2,541.0"/>
<path d="M1640.3,497.6 L1642.6,487.4 L1644.9,477.4 L1647.3,467.7 L1649.6,458.2 L1652.0,449.1 L1654.3,440.2 L1656.6,431.7 L1659.0,423.5 L1661.3,415.7 L1663.6,408.3 L1666.0,401.2 L1668.3,394.6 L1670.7,388.4 L1673.0,382.7 L1675.3,377.4 L1677.7,372.5 L1680.0,368.2 L1682.3,364.3 L1684.7,360.9 L1687.0,358.1 L1689.3,355.7 L1691.7,353.8 L1694.0,352.5 L1696.4,351.7 L1698.7,351.4 L1701.0,351.7 L1703.4,352.8 L1705.7,354.5 L1708.0,357.0 L1710.4,360.1 L1712.7,363.9 L1715.1,368.3 L1717.4,373.3 L1719.7,378.9 L1722.1,385.1 L1724.4,391.8 L1726.8,399.1 L1729.1,406.9 L1730.3,411.0 M1757.1,533.5 L1759.5,546.1 L1761.8,559.0 L1764.2,572.1 L1766.5,585.3 L1768.8,598.8 L1771.2,612.3 L1773.5,626.0 L1775.8,639.8 L1778.2,653.7 L1780.5,667.7 L1782.8,681.7 L1785.2,695.8 L1787.5,709.8 L1789.9,723.9 L1792.2,737.9 L1794.5,752.0 L1796.9,765.9 L1799.2,779.8 L1801.5,793.6 L1803.9,807.3 L1806.2,820.9 L1808.6,834.4 L1810.9,847.7 L1813.2,860.8 L1815.6,873.8 L1817.9,886.6 L1820.2,899.2 L1822.6,911.6 L1824.9,923.8 L1827.3,935.8 L1829.6,947.5 L1831.9,959.0 L1834.3,970.2 L1836.6,981.1 L1839.0,991.8 L1841.3,1002.2 L1843.6,1012.3 L1846.0,1022.1 L1848.3,1031.7 L1850.6,1040.9 L1853.0,1049.8 L1855.3,1058.4 L1857.7,1066.7 L1860.0,1074.7 L1862.3,1082.4 L1864.7,1089.8 L1867.0,1096.8 L1867.0,1096.8"/>
<path d="M1455.6,1037.1 L1457.9,1033.4 L1460.3,1029.5 L1462.6,1025.5 L1465.0,1021.4 L1467.3,1017.2 L1469.6,1012.8 L1472.0,1008.3 L1474.3,1003.7 L1476.6,998.9 L1479.0,994.0 L1481.3,988.9 L1483.7,983.8 L1486.0,978.4 L1488.3,972.9 L1490.7,967.3 L1493.0,961.5 L1495.3,955.5 L1497.7,949.4 L1500.0,943.2 L1502.3,936.7 L1504.7,930.1 L1507.0,923.4 L1509.4,916.5 L1511.7,909.4 L1514.0,902.2 L1516.4,894.8 L1518.7,887.2 L1521.0,879.5 L1523.4,871.6 L1525.7,863.5 L1526.9,859.5 M1634.4,459.4 L1636.8,455.1 L1639.1,451.2 L1641.4,447.7 L1643.8,444.7 L1646.1,442.0 L1648.4,439.8 L1650.8,438.1 L1653.1,436.8 L1655.5,435.9 L1657.8,435.5 L1660.1,435.5 L1662.5,436.2 L1664.8,437.4 L1667.1,439.3 L1669.5,441.8 L1671.8,444.8 L1674.2,448.4 L1676.5,452.5 L1678.8,457.1 L1681.2,462.3 L1683.5,467.9 L1685.8,474.0 L1688.2,480.6 L1690.5,487.6 L1692.9,495.0 L1695.2,502.8 L1697.5,511.1 L1699.9,519.6 L1702.2,528.6 L1704.5,537.9 L1704.5,537.9"/>
<path d="M1623.9,402.0 L1626.2,390.8 L1628.6,379.9 L1630.9,369.5 L1633.2,359.4 L1635.6,349.8 L1637.9,340.6 L1640.3,331.9 L1642.6,323.7 L1644.9,316.1 L1647.3,308.9 L1649.6,302.4 L1652.0,296.4 L1654.3,291.0 L1656.6,286.2 L1659.0,282.1 L1661.3,278.5 L1663.6,275.6 L1666.0,273.4 L1668.3,271.8 L1670.7,270.9 L1673.0,270.6 L1675.3,271.1 L1677.7,272.5 L1680.0,274.8 L1682.3,277.9 L1684.7,281.9 L1687.0,286.7 L1689.3,292.3 L1691.7,298.7 L1694.0,305.7 L1696.4,313.5 L1698.7,322.0 L1701.0,331.1 L1703.4,340.9 L1705.7,351.2 L1708.0,362.2 L1710.4,373.6 L1712.7,385.6 L1715.1,398.1 L1717.4,411.0 L1719.7,424.3 L1722.1,438.1 L1723.2,445.1"/>
<path d="M1666.0,566.2 L1668.3,562.6 L1670.7,559.4 L1673.0,556.6 L1675.3,554.3 L1677.7,552.4 L1680.0,550.9 L1682.3,549.8 L1684.7,549.2 L1687.0,549.0 L1689.3,549.3 L1691.7,550.3 L1694.0,551.8 L1696.4,553.9 L1696.4,553.9"/>
<path d="M1503.5,945.1 L1504.7,941.8 L1505.9,938.5 M1628.6,428.8 L1630.9,421.7 L1633.2,415.1 L1635.6,408.9 L1637.9,403.1 L1640.3,397.8 L1642.6,392.9 L1644.9,388.6 L1647.3,384.7 L1649.6,381.3 L1652.0,378.5 L1654.3,376.2 L1656.6,374.4 L1659.0,373.1 L1661.3,372.3 L1663.6,372.1 L1666.0,372.5 L1668.3,373.6 L1670.7,375.5 L1673.0,378.0 L1675.3,381.2 L1677.7,385.1 L1680.0,389.7 L1682.3,394.8 L1684.7,400.5 L1687.0,406.9 L1689.3,413.8 L1691.7,421.2 L1694.0,429.1 L1696.4,437.6 L1698.7,446.5 L1701.0,455.8 L1703.4,465.6 L1705.7,475.8 L1708.0,486.4 L1710.4,497.4 L1711.6,503.0"/>
<path d="M1642.6,505.7 L1644.9,499.6 L1647.3,493.9 L1649.6,488.6 L1652.0,483.6 L1654.3,479.1 L1656.6,475.0 L1659.0,471.2 L1661.3,467.9 L1663.6,465.1 L1666.0,462.6 L1668.3,460.6 L1670.7,459.1 L1673.0,458.0 L1675.3,457.3 L1677.7,457.1 L1680.0,457.5 L1682.3,458.4 L1684.7,460.0 L1687.0,462.2 L1689.3,465.0 L1691.7,468.3 L1694.0,472.2 L1696.4,476.6 L1698.7,481.5 L1701.0,486.9 L1703.4,492.8 L1705.7,499.2 L1708.0,506.0 L1710.4,513.3 L1710.4,513.3"/>
<path d="M1630.9,449.2 L1633.2,438.5 L1635.6,428.0 L1637.9,417.9 L1640.3,407.9 L1642.6,398.3 L1644.9,389.0 L1647.3,379.9 L1649.6,371.3 L1652.0,363.0 L1654.3,355.0 L1656.6,347.5 L1659.0,340.4 L1661.3,333.7 L1663.6,327.4 L1666.0,321.6 L1668.3,316.3 L1670.7,311.4 L1673.0,307.1 L1675.3,303.2 L1677.7,299.8 L1680.0,297.0 L1682.3,294.6 L1684.7,292.8 L1687.0,291.5 L1689.3,290.8 L1691.7,290.5 L1694.0,291.0 L1696.4,292.1 L1698.7,294.0 L1701.0,296.5 L1703.4,299.7 L1705.7,303.6 L1708.0,308.2 L1710.4,313.4 L1712.7,319.1 L1715.1,325.5 L1717.4,332.4 L1719.7,339.9 L1722.1,347.9 L1724.4,356.5 L1726.8,365.5 L1729.1,375.0 L1731.4,384.9 L1732.6,390.0 M1738.4,417.2 L1740.8,428.7 L1743.1,440.6 L1745.5,452.8 L1747.8,465.2 L1750.1,478.0 L1752.5,491.0 L1754.8,504.3 L1757.1,517.8 L1759.5,531.5 L1761.8,545.4 L1764.2,559.4 L1766.5,573.6 L1768.8,587.9 L1771.2,602.4 L1773.5,616.9 L1775.8,631.4 L1778.2,646.1 L1780.5,660.7 L1782.8,675.4 L1785.2,690.0 L1787.5,704.7 L1789.9,719.3 L1792.2,733.9 L1794.5,748.3 L1796.9,762.8 L1799.2,777.1 L1801.5,791.2 L1803.9,805.3 L1806.2,819.2 L1808.6,833.0 L1810.9,846.6 L1813.2,860.0 L1815.6,873.2 L1817.9,886.2 L1820.2,899.0 L1822.6,911.6 L1824.9,923.9 L1827.3,936.0 L1829.6,947.9 L1831.9,959.4 L1834.3,970.7 L1836.6,981.7 L1839.0,992.5 L1841.3,1002.9 L1843.6,1013.0 L1846.0,1022.9 L1848.3,1032.4 L1850.6,1041.6 L1853.0,1050.5 L1855.3,1059.1 L1857.7,1067.4 L1860.0,1075.4 L1862.3,1083.0 L1864.7,1090.3 L1867.0,1097.4 L1867.0,1097.4"/>
<path d="M1647.3,520.9 L1649.6,516.9 L1652.0,513.4 L1654.3,510.3 L1656.6,507.7 L1659.0,505.5 L1661.3,503.9 L1663.6,502.7 L1666.0,502.0 L1668.3,501.8 L1670.7,502.1 L1673.0,503.2 L1675.3,504.9 L1677.7,507.2 L1680.0,510.2 L1682.3,513.7 L1684.7,517.9 L1687.0,522.6 L1689.3,527.9 L1691.7,533.6 L1694.0,539.9 L1696.4,546.7 L1697.5,550.3"/>
<path d="M1632.1,452.3 L1634.4,442.2 L1636.8,432.4 L1639.1,423.0 L1641.4,413.8 L1643.8,405.1 L1646.1,396.8 L1648.4,388.9 L1650.8,381.4 L1653.1,374.4 L1655.5,367.9 L1657.8,361.8 L1660.1,356.3 L1662.5,351.3 L1664.8,346.8 L1667.1,342.9 L1669.5,339.5 L1671.8,336.6 L1674.2,334.4 L1676.5,332.7 L1678.8,331.6 L1681.2,331.0 L1683.5,331.1 L1685.8,331.9 L1688.2,333.6 L1690.5,336.0 L1692.9,339.1 L1695.2,343.0 L1697.5,347.6 L1699.9,352.9 L1702.2,358.8 L1704.5,365.4 L1706.9,372.6 L1709.2,380.3 L1711.6,388.7 L1713.9,397.6 L1716.2,407.0 L1718.6,417.0 L1720.9,427.4 L1723.2,438.2 L1724.4,443.8"/>
<path d="M1646.1,519.0 L1648.4,510.2 L1650.8,501.7 L1653.1,493.5 L1655.5,485.6 L1657.8,478.0 L1660.1,470.8 L1662.5,464.0 L1664.8,457.5 L1667.1,451.5 L1669.5,445.8 L1671.8,440.6 L1674.2,435.9 L1676.5,431.5 L1678.8,427.7 L1681.2,424.3 L1683.5,421.4 L1685.8,418.9 L1688.2,417.0 L1690.5,415.5 L1692.9,414.6 L1695.2,414.1 L1697.5,414.1 L1699.9,414.9 L1702.2,416.3 L1704.5,418.4 L1706.9,421.1 L1709.2,424.4 L1711.6,428.4 L1713.9,432.9 L1716.2,438.0 L1718.6,443.7 L1720.9,449.9 L1722.1,453.2 M1813.2,907.4 L1815.6,919.3 L1817.9,931.0 L1820.2,942.5 L1822.6,953.7 L1824.9,964.7 L1827.3,975.5 L1829.6,986.1 L1831.9,996.4 L1834.3,1006.4 L1836.6,1016.2 L1839.0,1025.7 L1841.3,1034.9 L1843.6,1043.8 L1846.0,1052.5 L1848.3,1060.9 L1850.6,1068.9 L1853.0,1076.7 L1855.3,1084.2 L1857.7,1091.4 L1858.8,1094.8"/>
<path d="M1399.5,1080.5 L1401.8,1078.5 L1404.2,1076.4 L1406.5,1074.3 L1408.8,1072.0 L1411.2,1069.7 L1413.5,1067.3 L1415.9,1064.9 L1418.2,1062.3 L1420.5,1059.7 L1422.9,1057.0 L1425.2,1054.1 L1427.5,1051.2 L1429.9,1048.2 L1432.2,1045.1 L1434.6,1041.9 L1436.9,1038.5 L1439.2,1035.1 L1441.6,1031.5 L1443.9,1027.8 L1446.2,1024.0 L1448.6,1020.1 L1450.9,1016.1 L1453.3,1011.9 L1455.6,1007.6 L1457.9,1003.1 L1460.3,998.5 L1462.6,993.8 L1465.0,988.9 L1467.3,983.8 L1469.6,978.6 L1472.0,973.2 L1474.3,967.7 L1476.6,962.0 L1479.0,956.1 L1481.3,950.0 L1483.7,943.8 L1486.0,937.4 L1488.3,930.8 L1490.7,924.0 L1493.0,917.0 L1495.3,909.8 L1497.7,902.4 L1500.0,894.9 L1502.3,887.1 L1504.7,879.1 L1507.0,870.9 L1509.4,862.5 L1511.7,853.9 L1514.0,845.1 L1516.4,836.1 L1518.7,826.9 L1521.0,817.4 L1523.4,807.8 L1525.7,797.9 L1528.1,787.9 L1530.4,777.6 L1532.7,767.2 L1535.1,756.5 L1537.4,745.7 L1539.8,734.7 L1542.1,723.5 L1544.4,712.1 L1546.8,700.6 L1549.1,688.9 L1551.4,677.1 L1553.8,665.1 L1556.1,653.0 L1558.5,640.8 L1560.8,628.5 L1563.1,616.1 L1565.5,603.6 L1567.8,591.0 L1570.1,578.4 L1572.5,565.8 L1574.8,553.1 L1577.2,540.5 L1579.5,527.8 L1581.8,515.2 L1584.2,502.6 L1586.5,490.2 L1588.8,477.8 L1591.2,465.5 L1593.5,453.4 L1595.8,441.4 L1598.2,429.6 L1600.5,418.0 L1602.9,406.6 L1605.2,395.5 L1607.5,384.6 L1609.9,374.0 L1612.2,363.7 L1614.5,353.8 L1616.9,344.2 L1619.2,335.0 L1621.6,326.2 L1623.9,317.7 L1626.2,309.7 L1628.6,302.2 L1630.9,295.1 L1633.2,288.5 L1635.6,282.4 L1637.9,276.8 L1640.3,271.7 L1642.6,267.2 L1644.9,263.1 L1647.3,259.7 L1649.6,256.8 L1652.0,254.4 L1654.3,252.7 L1656.6,251.5 L1659.0,250.8 L1661.3,250.8 L1663.6,251.5 L1666.0,253.0 L1668.3,255.2 L1670.7,258.3 L1673.0,262.0 L1675.3,266.5 L1677.7,271.6 L1680.0,277.4 L1682.3,283.9 L1684.7,291.0 L1687.0,298.7 L1689.3,306.9 L1691.7,315.8 L1694.0,325.2 L1696.4,335.1 L1698.7,345.5 L1701.0,356.3 L1703.4,367.6 L1705.7,379.4 L1708.0,391.5 L1710.4,404.0 L1712.7,416.9 L1715.1,430.1 L1717.4,443.6 L1719.7,457.5 L1720.9,464.5"/>
<path d="M1642.6,503.7 L1644.9,494.7 L1647.3,486.0 L1649.6,477.7 L1652.0,469.8 L1654.3,462.2 L1656.6,455.1 L1659.0,448.4 L1661.3,442.1 L1663.6,436.3 L1666.0,431.0 L1668.3,426.1 L1670.7,421.8 L1673.0,418.0 L1675.3,414.7 L1677.7,411.9 L1680.0,409.7 L1682.3,408.0 L1684.7,406.8 L1687.0,406.2 L1689.3,406.2 L1691.7,406.8 L1694.0,408.3 L1696.4,410.4 L1698.7,413.3 L1701.0,416.9 L1703.4,421.1 L1705.7,426.0 L1708.0,431.5 L1710.4,437.6 L1712.7,444.4 L1715.1,451.6 L1717.4,459.5 L1719.7,467.8 L1719.7,467.8"/>
<path d="M1644.9,510.2 L1647.3,506.5 L1649.6,503.3 L1652.0,500.5 L1654.3,498.1 L1656.6,496.3 L1659.0,494.8 L1661.3,493.8 L1663.6,493.3 L1666.0,493.3 L1668.3,493.9 L1670.7,495.1 L1673.0,496.9 L1675.3,499.3 L1677.7,502.4 L1680.0,505.9 L1682.3,510.1 L1684.7,514.8 L1687.0,520.0 L1689.3,525.7 L1691.7,531.9 L1694.0,538.5 L1696.4,545.6 L1698.7,553.1 L1698.7,553.1"/>
<path d="M1629.7,436.2 L1632.1,426.6 L1634.4,417.3 L1636.8,408.3 L1639.1,399.7 L1641.4,391.4 L1643.8,383.6 L1646.1,376.2 L1648.4,369.2 L1650.8,362.6 L1653.1,356.5 L1655.5,350.9 L1657.8,345.8 L1660.1,341.2 L1662.5,337.1 L1664.8,333.5 L1667.1,330.5 L1669.5,328.0 L1671.8,326.0 L1674.2,324.6 L1676.5,323.7 L1678.8,323.3 L1681.2,323.6 L1683.5,324.7 L1685.8,326.5 L1688.2,329.0 L1690.5,332.3 L1692.9,336.2 L1695.2,340.8 L1697.5,346.0 L1699.9,351.9 L1702.2,358.4 L1704.5,365.5 L1706.9,373.1 L1709.2,381.3 L1711.6,390.0 L1713.9,399.2 L1716.2,408.9 L1718.6,419.0 L1720.9,429.6 L1723.2,440.6 L1724.4,446.2"/>
<path d="M1664.8,568.0 L1667.1,563.7 L1669.5,559.6 L1671.8,556.0 L1674.2,552.6 L1676.5,549.7 L1678.8,547.1 L1681.2,545.0 L1683.5,543.1 L1685.8,541.7 L1688.2,540.7 L1690.5,540.1 L1692.9,539.8 L1695.2,540.1 L1697.5,540.8 L1699.9,542.1 L1701.0,542.9"/>
<path d="M1452.1,1040.8 L1454.4,1037.3 L1456.8,1033.7 L1459.1,1030.1 L1461.4,1026.2 L1463.8,1022.3 L1466.1,1018.3 L1468.5,1014.1 L1470.8,1009.8 L1473.1,1005.4 L1475.5,1000.8 L1477.8,996.1 L1480.1,991.2 L1482.5,986.3 L1484.8,981.1 L1487.2,975.8 L1489.5,970.4 L1491.8,964.8 L1494.2,959.1 L1496.5,953.2 L1498.8,947.1 L1501.2,940.9 L1503.5,934.5 L1505.9,928.0 L1508.2,921.2 L1510.5,914.3 L1512.9,907.3 L1515.2,900.0 L1517.5,892.6 L1519.9,885.0 L1522.2,877.3 L1524.6,869.4 L1525.7,865.3 M1628.6,434.6 L1630.9,427.2 L1633.2,420.2 L1635.6,413.5 L1637.9,407.2 L1640.3,401.3 L1642.6,395.8 L1644.9,390.7 L1647.3,386.0 L1649.6,381.8 L1652.0,378.0 L1654.3,374.6 L1656.6,371.8 L1659.0,369.3 L1661.3,367.4 L1663.6,365.9 L1666.0,364.9 L1668.3,364.4 L1670.7,364.4 L1673.0,364.9 L1675.3,366.2 L1677.7,368.1 L1680.0,370.6 L1682.3,373.7 L1684.7,377.4 L1687.0,381.7 L1689.3,386.6 L1691.7,392.0 L1694.0,397.9 L1696.4,404.3 L1698.7,411.2 L1701.0,418.6 L1703.4,426.5 L1705.7,434.8 L1708.0,443.5 L1710.4,452.6 L1712.7,462.1 L1715.1,471.9 L1717.4,482.1 L1717.4,482.1"/>
<path d="M1644.9,516.0 L1647.3,508.6 L1649.6,501.5 L1652.0,494.8 L1654.3,488.5 L1656.6,482.7 L1659.0,477.2 L1661.3,472.2 L1663.6,467.7 L1666.0,463.6 L1668.3,460.1 L1670.7,457.0 L1673.0,454.4 L1675.3,452.3 L1677.7,450.7 L1680.0,449.6 L1682.3,449.0 L1684.7,449.0 L1687.0,449.6 L1689.3,451.0 L1691.7,453.0 L1694.0,455.7 L1696.4,459.0 L1698.7,463.0 L1701.0,467.6 L1703.4,472.7 L1705.7,478.5 L1708.0,484.8 L1710.4,491.6 L1712.7,498.9 L1712.7,498.9"/>
<path d="M1635.6,467.6 L1637.9,455.8 L1640.3,444.1 L1642.6,432.7 L1644.9,421.6 L1647.3,410.7 L1649.6,400.1 L1652.0,389.9 L1654.3,380.0 L1656.6,370.5 L1659.0,361.4 L1661.3,352.6 L1663.6,344.4 L1666.0,336.6 L1668.3,329.2 L1670.7,322.4 L1673.0,316.0 L1675.3,310.2 L1677.7,304.9 L1680.0,300.2 L1682.3,296.0 L1684.7,292.4 L1687.0,289.4 L1689.3,286.9 L1691.7,285.1 L1694.0,283.8 L1696.4,283.1 L1698.7,283.1 L1701.0,283.8 L1703.4,285.4 L1705.7,287.8 L1708.0,290.9 L1710.4,294.8 L1712.7,299.4 L1715.1,304.8 L1717.4,310.8 L1719.7,317.5 L1722.1,324.8 L1724.4,332.8 L1726.8,341.4 L1729.1,350.5 L1731.4,360.2 L1733.8,370.5 L1736.1,381.2 L1738.4,392.4 L1740.8,404.0 L1743.1,416.1 L1745.5,428.6 L1747.8,441.4 L1750.1,454.6 L1752.5,468.2 L1754.8,482.0 L1757.1,496.1 L1759.5,510.5 L1761.8,525.1 L1764.2,539.9 L1766.5,554.9 L1768.8,570.1 L1771.2,585.4 L1773.5,600.8 L1775.8,616.3 L1778.2,631.8 L1780.5,647.4 L1782.8,663.1 L1785.2,678.8 L1787.5,694.4 L1789.9,710.0 L1792.2,725.6 L1794.5,741.1 L1796.9,756.4 L1799.2,771.7 L1801.5,786.9 L1803.9,801.9 L1806.2,816.8 L1808.6,831.4 L1810.9,845.9 L1813.2,860.2 L1815.6,874.3 L1817.9,888.1 L1820.2,901.6 L1822.6,915.0 L1824.9,928.0 L1827.3,940.7 L1829.6,953.2 L1831.9,965.4 L1834.3,977.2 L1836.6,988.7 L1839.0,999.9 L1841.3,1010.8 L1843.6,1021.3 L1846.0,1031.4 L1848.3,1041.3 L1850.6,1050.7 L1853.0,1059.8 L1855.3,1068.6 L1857.7,1077.0 L1860.0,1085.0 L1862.3,1092.7 L1864.7,1100.0 L1867.0,1107.0 L1867.0,1107.0"/>
<path d="M1664.8,565.1 L1667.1,566.1 L1669.5,567.5 L1671.8,569.5 L1674.2,572.0 L1676.5,575.0 L1676.5,575.0"/>
<path d="M1633.2,461.2 L1635.6,453.5 L1637.9,446.2 L1640.3,439.2 L1642.6,432.6 L1644.9,426.4 L1647.3,420.6 L1649.6,415.1 L1652.0,410.1 L1654.3,405.6 L1656.6,401.4 L1659.0,397.7 L1661.3,394.5 L1663.6,391.8 L1666.0,389.5 L1668.3,387.7 L1670.7,386.3 L1673.0,385.5 L1675.3,385.1 L1677.7,385.3 L1680.0,386.1 L1682.3,387.6 L1684.7,389.7 L1687.0,392.4 L1689.3,395.8 L1691.7,399.7 L1694.0,404.2 L1696.4,409.3 L1698.7,414.9 L1701.0,421.1 L1703.4,427.7 L1705.7,434.9 L1708.0,442.5 L1710.4,450.6 L1712.7,459.0 L1715.1,467.9 L1717.4,477.2 L1717.4,477.2"/>
<path d="M1649.6,529.5 L1652.0,523.2 L1654.3,517.2 L1656.6,511.5 L1659.0,506.2 L1661.3,501.2 L1663.6,496.6 L1666.0,492.3 L1668.3,488.4 L1670.7,484.8 L1673.0,481.7 L1675.3,478.9 L1677.7,476.6 L1680.0,474.6 L1682.3,473.1 L1684.7,471.9 L1687.0,471.2 L1689.3,470.9 L1691.7,471.0 L1694.0,471.7 L1696.4,473.0 L1698.7,474.8 L1701.0,477.1 L1703.4,480.0 L1705.7,483.4 L1708.0,487.2 L1710.4,491.6 L1712.7,496.4 L1713.9,499.0 M1826.1,981.3 L1828.4,990.8 L1830.8,1000.1 L1833.1,1009.1 L1835.4,1018.0 L1837.8,1026.6 L1840.1,1035.0 L1842.5,1043.2 L1844.8,1051.1 L1847.1,1058.8 L1849.5,1066.3 L1851.8,1073.5 L1854.1,1080.5 L1856.5,1087.2 L1858.8,1093.7 L1860.0,1096.8"/>
<path d="M1623.9,402.6 L1626.2,392.7 L1628.6,383.2 L1630.9,374.1 L1633.2,365.5 L1635.6,357.4 L1637.9,349.8 L1640.3,342.7 L1642.6,336.1 L1644.9,330.1 L1647.3,324.7 L1649.6,319.8 L1652.0,315.6 L1654.3,311.9 L1656.6,308.9 L1659.0,306.5 L1661.3,304.8 L1663.6,303.6 L1666.0,303.1 L1668.3,303.3 L1670.7,304.4 L1673.0,306.4 L1675.3,309.2 L1677.7,312.8 L1680.0,317.2 L1682.3,322.4 L1684.7,328.3 L1687.0,334.9 L1689.3,342.3 L1691.7,350.3 L1694.0,359.0 L1696.4,368.2 L1698.7,378.1 L1701.0,388.5 L1703.4,399.5 L1705.7,411.0 L1708.0,422.9 L1710.4,435.3 L1712.7,448.1 L1715.1,461.4 L1717.4,475.0 L1718.6,481.9"/>
<path d="M1654.3,544.8 L1656.6,540.1 L1659.0,535.7 L1661.3,531.8 L1663.6,528.3 L1666.0,525.2 L1668.3,522.5 L1670.7,520.4 L1673.0,518.6 L1675.3,517.3 L1677.7,516.5 L1680.0,516.2 L1682.3,516.3 L1684.7,517.1 L1687.0,518.5 L1689.3,520.5 L1691.7,523.2 L1694.0,526.3 L1696.4,530.1 L1698.7,534.4 L1701.0,539.2 L1702.2,541.8"/>
<path d="M1639.1,483.7 L1641.4,473.4 L1643.8,463.3 L1646.1,453.5 L1648.4,443.9 L1650.8,434.7 L1653.1,425.9 L1655.5,417.4 L1657.8,409.3 L1660.1,401.6 L1662.5,394.3 L1664.8,387.4 L1667.1,381.0 L1669.5,375.1 L1671.8,369.6 L1674.2,364.7 L1676.5,360.2 L1678.8,356.3 L1681.2,352.9 L1683.5,350.0 L1685.8,347.6 L1688.2,345.8 L1690.5,344.6 L1692.9,343.9 L1695.2,343.7 L1697.5,344.3 L1699.9,345.6 L1702.2,347.7 L1704.5,350.4 L1706.9,353.9 L1709.2,358.1 L1711.6,362.9 L1713.9,368.4 L1716.2,374.5 L1718.6,381.1 L1720.9,388.4 L1723.2,396.2 L1725.6,404.6 L1727.9,413.5 L1729.1,418.1 M1796.9,801.0 L1799.2,815.0 L1801.5,828.9 L1803.9,842.7 L1806.2,856.3 L1808.6,869.7 L1810.9,883.0 L1813.2,896.0 L1815.6,908.8 L1817.9,921.4 L1820.2,933.8 L1822.6,945.8 L1824.9,957.7 L1827.3,969.2 L1829.6,980.5 L1831.9,991.5 L1834.3,1002.2 L1836.6,1012.6 L1839.0,1022.7 L1841.3,1032.4 L1843.6,1041.9 L1846.0,1051.0 L1848.3,1059.8 L1850.6,1068.3 L1853.0,1076.4 L1855.3,1084.2 L1857.7,1091.7 L1857.7,1091.7"/>
<path d="M1636.8,477.2 L1639.1,470.9 L1641.4,465.0 L1643.8,459.5 L1646.1,454.4 L1648.4,449.7 L1650.8,445.4 L1653.1,441.5 L1655.5,438.2 L1657.8,435.2 L1660.1,432.7 L1662.5,430.7 L1664.8,429.2 L1667.1,428.1 L1669.5,427.5 L1671.8,427.4 L1674.2,427.9 L1676.5,429.0 L1678.8,430.8 L1681.2,433.1 L1683.5,436.1 L1685.8,439.7 L1688.2,443.9 L1690.5,448.6 L1692.9,453.8 L1695.2,459.6 L1697.5,465.9 L1699.9,472.6 L1702.2,479.8 L1704.5,487.5 L1706.9,495.6 L1709.2,504.1 L1710.4,508.5"/>
<path d="M1626.2,420.2 L1628.6,409.3 L1630.9,398.7 L1633.2,388.3 L1635.6,378.2 L1637.9,368.4 L1640.3,358.9 L1642.6,349.8 L1644.9,341.1 L1647.3,332.7 L1649.6,324.8 L1652.0,317.2 L1654.3,310.1 L1656.6,303.5 L1659.0,297.3 L1661.3,291.6 L1663.6,286.4 L1666.0,281.7 L1668.3,277.5 L1670.7,273.9 L1673.0,270.7 L1675.3,268.1 L1677.7,266.0 L1680.0,264.5 L1682.3,263.6 L1684.7,263.1 L1687.0,263.3 L1689.3,264.2 L1691.7,265.9 L1694.0,268.3 L1696.4,271.5 L1698.7,275.3 L1701.0,279.8 L1703.4,284.9 L1705.7,290.7 L1708.0,297.1 L1710.4,304.1 L1712.7,311.7 L1715.1,319.8 L1717.4,328.5 L1719.7,337.7 L1722.1,347.4 L1724.4,357.5 L1726.8,368.1 L1729.1,379.1 L1731.4,390.6 L1732.6,396.4 M1777.0,664.4 L1779.3,679.5 L1781.7,694.7 L1784.0,709.7 L1786.4,724.8 L1788.7,739.7 L1791.0,754.6 L1793.4,769.4 L1795.7,784.0 L1798.0,798.5 L1800.4,812.8 L1802.7,827.0 L1805.1,841.0 L1807.4,854.8 L1809.7,868.4 L1812.1,881.8 L1814.4,894.9 L1816.7,907.8 L1819.1,920.5 L1821.4,932.9 L1823.8,945.0 L1826.1,956.9 L1828.4,968.5 L1830.8,979.7 L1833.1,990.7 L1835.4,1001.4 L1837.8,1011.7 L1840.1,1021.8 L1842.5,1031.5 L1844.8,1040.9 L1847.1,1050.0 L1849.5,1058.7 L1851.8,1067.2 L1854.1,1075.3 L1856.5,1083.0 L1858.8,1090.5 L1861.2,1097.6 L1863.5,1104.4 L1863.5,1104.4"/>
<path d="M1629.7,433.8 L1632.1,427.8 L1634.4,422.4 L1636.8,417.4 L1639.1,412.9 L1641.4,408.9 L1643.8,405.4 L1646.1,402.4 L1648.4,400.0 L1650.8,398.1 L1653.1,396.7 L1655.5,395.9 L1657.8,395.6 L1660.1,395.9 L1662.5,396.9 L1664.8,398.7 L1667.1,401.2 L1669.5,404.4 L1671.8,408.3 L1674.2,412.8 L1676.5,417.9 L1678.8,423.7 L1681.2,430.0 L1683.5,437.0 L1685.8,444.4 L1688.2,452.4 L1690.5,460.9 L1692.9,469.8 L1695.2,479.3 L1697.5,489.1 L1699.9,499.4 L1702.2,510.0 L1704.5,521.0 L1705.7,526.7"/>
<path d="M1644.9,511.9 L1647.3,507.1 L1649.6,502.6 L1652.0,498.6 L1654.3,495.0 L1656.6,491.8 L1659.0,489.1 L1661.3,486.8 L1663.6,484.9 L1666.0,483.5 L1668.3,482.6 L1670.7,482.1 L1673.0,482.1 L1675.3,482.6 L1677.7,483.9 L1680.0,485.7 L1682.3,488.1 L1684.7,491.1 L1687.0,494.7 L1689.3,498.8 L1691.7,503.4 L1694.0,508.6 L1696.4,514.2 L1698.7,520.4 L1701.0,526.9 L1703.4,534.0 L1703.4,534.0"/>
<path d="M1630.9,448.9 L1633.2,438.7 L1635.6,428.8 L1637.9,419.1 L1640.3,409.8 L1642.6,400.8 L1644.9,392.1 L1647.3,383.8 L1649.6,375.9 L1652.0,368.4 L1654.3,361.4 L1656.6,354.7 L1659.0,348.5 L1661.3,342.8 L1663.6,337.5 L1666.0,332.8 L1668.3,328.5 L1670.7,324.8 L1673.0,321.5 L1675.3,318.8 L1677.7,316.6 L1680.0,315.0 L1682.3,313.9 L1684.7,313.3 L1687.0,313.3 L1689.3,314.0 L1691.7,315.4 L1694.0,317.6 L1696.4,320.4 L1698.7,324.0 L1701.0,328.2 L1703.4,333.0 L1705.7,338.5 L1708.0,344.6 L1710.4,351.3 L1712.7,358.6 L1715.1,366.4 L1717.4,374.7 L1719.7,383.5 L1722.1,392.9 L1724.4,402.6 L1726.8,412.9 L1727.9,418.1 M1823.8,967.5 L1826.1,978.7 L1828.4,989.6 L1830.8,1000.3 L1833.1,1010.6 L1835.4,1020.6 L1837.8,1030.3 L1840.1,1039.7 L1842.5,1048.8 L1844.8,1057.5 L1846.0,1061.8"/>
<path d="M1650.8,532.9 L1653.1,531.1 L1655.5,529.7 L1657.8,528.7 L1660.1,528.1 L1662.5,527.9 L1664.8,528.1 L1667.1,528.9 L1669.5,530.2 L1671.8,532.0 L1674.2,534.3 L1676.5,537.1 L1678.8,540.4 L1681.2,544.1 L1683.5,548.3 L1685.8,553.0 L1688.2,558.0 L1690.5,563.5 L1691.7,566.4"/>
<path d="M1632.1,453.6 L1634.4,444.1 L1636.8,435.0 L1639.1,426.3 L1641.4,418.0 L1643.8,410.1 L1646.1,402.7 L1648.4,395.8 L1650.8,389.3 L1653.1,383.3 L1655.5,377.9 L1657.8,373.0 L1660.1,368.6 L1662.5,364.8 L1664.8,361.5 L1667.1,358.9 L1669.5,356.8 L1671.8,355.3 L1674.2,354.3 L1676.5,354.0 L1678.8,354.3 L1681.2,355.5 L1683.5,357.5 L1685.8,360.2 L1688.2,363.7 L1690.5,367.9 L1692.9,372.8 L1695.2,378.5 L1697.5,384.8 L1699.9,391.7 L1702.2,399.2 L1704.5,407.4 L1706.9,416.1 L1709.2,425.3 L1711.6,435.1 L1713.9,445.3 L1716.2,456.0 L1718.6,467.2 L1719.7,473.0"/>
<path d="M1647.3,519.6 L1649.6,511.6 L1652.0,503.9 L1654.3,496.6 L1656.6,489.6 L1659.0,483.0 L1661.3,476.9 L1663.6,471.1 L1666.0,465.8 L1668.3,460.9 L1670.7,456.4 L1673.0,452.4 L1675.3,448.9 L1677.7,445.9 L1680.0,443.4 L1682.3,441.3 L1684.7,439.8 L1687.0,438.7 L1689.3,438.2 L1691.7,438.2 L1694.0,438.8 L1696.4,440.2 L1698.7,442.2 L1701.0,444.9 L1703.4,448.2 L1705.7,452.1 L1708.0,456.6 L1710.4,461.7 L1712.7,467.4 L1715.1,473.6 L1717.4,480.4 L1717.4,480.4"/>
<path d="M1446.2,1045.9 L1448.6,1042.6 L1450.9,1039.1 L1453.3,1035.6 L1455.6,1031.9 L1457.9,1028.1 L1460.3,1024.2 L1462.6,1020.2 L1465.0,1016.0 L1467.3,1011.7 L1469.6,1007.2 L1472.0,1002.6 L1474.3,997.8 L1476.6,992.9 L1479.0,987.9 L1481.3,982.6 L1483.7,977.2 L1486.0,971.6 L1488.3,965.9 L1490.7,960.0 L1493.0,953.9 L1495.3,947.6 L1497.7,941.1 L1500.0,934.4 L1502.3,927.6 L1504.7,920.5 L1507.0,913.3 L1509.4,905.8 L1511.7,898.1 L1514.0,890.3 L1516.4,882.2 L1518.7,873.9 L1521.0,865.4 L1523.4,856.7 L1525.7,847.7 L1528.1,838.6 L1530.4,829.2 L1532.7,819.7 L1535.1,809.9 L1537.4,799.9 L1537.4,799.9 M1559.6,695.4 L1562.0,683.5 L1564.3,671.5 L1566.6,659.3 L1569.0,647.1 L1571.3,634.7 L1573.6,622.3 L1576.0,609.7 L1578.3,597.2 L1580.7,584.6 L1583.0,571.9 L1585.3,559.3 L1587.7,546.6 L1590.0,534.0 L1592.3,521.5 L1594.7,509.0 L1597.0,496.6 L1599.4,484.3 L1601.7,472.2 L1604.0,460.2 L1606.4,448.4 L1608.7,436.8 L1611.0,425.4 L1613.4,414.3 L1615.7,403.5 L1618.1,392.9 L1620.4,382.7 L1622.7,372.8 L1625.1,363.2 L1627.4,354.1 L1629.7,345.3 L1632.1,337.0 L1634.4,329.1 L1636.8,321.6 L1639.1,314.7 L1641.4,308.2 L1643.8,302.3 L1646.1,296.8 L1648.4,291.9 L1650.8,287.6 L1653.1,283.8 L1655.5,280.6 L1657.8,277.9 L1660.1,275.8 L1662.5,274.3 L1664.8,273.4 L1667.1,273.1 L1669.5,273.4 L1671.8,274.6 L1674.2,276.5 L1676.5,279.2 L1678.8,282.7 L1681.2,286.9 L1683.5,291.8 L1685.8,297.5 L1688.2,303.7 L1690.5,310.7 L1692.9,318.2 L1695.2,326.4 L1697.5,335.1 L1699.9,344.4 L1702.2,354.2 L1704.5,364.6 L1706.9,375.4 L1709.2,386.6 L1711.6,398.3 L1713.9,410.5 L1716.2,423.0 L1718.6,435.8 L1720.9,449.1 L1722.1,455.8"/>
<path d="M1663.6,563.1 L1666.0,560.4 L1668.3,558.1 L1670.7,556.1 L1673.0,554.6 L1675.3,553.4 L1677.7,552.6 L1680.0,552.1 L1682.3,552.1 L1684.7,552.6 L1687.0,553.7 L1689.3,555.2 L1691.7,557.3 L1694.0,559.8 L1694.0,559.8"/>
<path d="M1640.3,494.7 L1642.6,485.6 L1644.9,476.8 L1647.3,468.2 L1649.6,460.0 L1652.0,452.0 L1654.3,444.3 L1656.6,437.0 L1659.0,430.0 L1661.3,423.4 L1663.6,417.1 L1666.0,411.2 L1668.3,405.8 L1670.7,400.7 L1673.0,396.1 L1675.3,391.9 L1677.7,388.1 L1680.0,384.8 L1682.3,382.0 L1684.7,379.6 L1687.0,377.7 L1689.3,376.2 L1691.7,375.3 L1694.0,374.7 L1696.4,374.7 L1698.7,375.3 L1701.0,376.6 L1703.4,378.5 L1705.7,381.0 L1708.0,384.1 L1710.4,387.9 L1712.7,392.1 L1715.1,397.0 L1717.4,402.4 L1719.7,408.3 L1722.1,414.7 L1724.4,421.6 L1726.8,429.0 L1726.8,429.0 M1777.0,666.3 L1779.3,679.5 L1781.7,692.6 L1784.0,705.8 L1786.4,719.1 L1788.7,732.3 L1791.0,745.5 L1793.4,758.7 L1795.7,771.8 L1798.0,784.9 L1800.4,797.9 L1802.7,810.9 L1805.1,823.7 L1807.4,836.5 L1809.7,849.1 L1812.1,861.5 L1814.4,873.9 L1816.7,886.0 L1819.1,898.0 L1821.4,909.8 L1823.8,921.5 L1826.1,932.9 L1828.4,944.1 L1830.8,955.1 L1833.1,965.9 L1835.4,976.4 L1837.8,986.7 L1840.1,996.8 L1842.5,1006.6 L1844.8,1016.1 L1847.1,1025.4 L1849.5,1034.4 L1851.8,1043.1 L1854.1,1051.6 L1856.5,1059.7 L1858.8,1067.6 L1861.2,1075.3 L1863.5,1082.6 L1865.8,1089.6 L1867.0,1093.0"/>
<path d="M1637.9,481.3 L1640.3,476.9 L1642.6,473.1 L1644.9,469.7 L1647.3,466.8 L1649.6,464.4 L1652.0,462.5 L1654.3,461.1 L1656.6,460.2 L1659.0,459.9 L1661.3,460.1 L1663.6,461.0 L1666.0,462.5 L1668.3,464.8 L1670.7,467.7 L1673.0,471.3 L1675.3,475.4 L1677.7,480.2 L1680.0,485.5 L1682.3,491.4 L1684.7,497.9 L1687.0,504.8 L1689.3,512.3 L1691.7,520.2 L1694.0,528.6 L1696.4,537.4 L1698.7,546.7 L1699.9,551.4"/>
<path d="M1625.1,411.0 L1627.4,400.8 L1629.7,390.9 L1632.1,381.4 L1634.4,372.2 L1636.8,363.5 L1639.1,355.2 L1641.4,347.4 L1643.8,340.0 L1646.1,333.1 L1648.4,326.7 L1650.8,320.8 L1653.1,315.5 L1655.5,310.7 L1657.8,306.5 L1660.1,302.8 L1662.5,299.7 L1664.8,297.2 L1667.1,295.3 L1669.5,294.0 L1671.8,293.2 L1674.2,293.1 L1676.5,293.7 L1678.8,295.2 L1681.2,297.4 L1683.5,300.4 L1685.8,304.2 L1688.2,308.7 L1690.5,314.0 L1692.9,319.9 L1695.2,326.5 L1697.5,333.7 L1699.9,341.6 L1702.2,350.1 L1704.5,359.1 L1706.9,368.7 L1709.2,378.8 L1711.6,389.4 L1713.9,400.5 L1716.2,412.0 L1718.6,424.0 L1720.9,436.4 L1723.2,449.1 L1723.2,449.1"/>
<path d="M1655.5,544.3 L1657.8,538.9 L1660.1,533.8 L1662.5,529.2 L1664.8,524.9 L1667.1,521.0 L1669.5,517.5 L1671.8,514.4 L1674.2,511.7 L1676.5,509.5 L1678.8,507.6 L1681.2,506.2 L1683.5,505.3 L1685.8,504.7 L1688.2,504.6 L1690.5,505.1 L1692.9,506.2 L1695.2,507.8 L1697.5,510.0 L1699.9,512.8 L1702.2,516.1 L1704.5,519.9 L1706.9,524.2 L1706.9,524.2"/>
<path d="M1440.4,1050.8 L1442.7,1047.7 L1445.1,1044.4 L1447.4,1041.0 L1449.8,1037.5 L1452.1,1033.9 L1454.4,1030.2 L1456.8,1026.4 L1459.1,1022.4 L1461.4,1018.3 L1463.8,1014.1 L1466.1,1009.7 L1468.5,1005.2 L1470.8,1000.6 L1473.1,995.8 L1475.5,990.9 L1477.8,985.8 L1480.1,980.6 L1482.5,975.2 L1484.8,969.7 L1487.2,964.0 L1489.5,958.1 L1491.8,952.1 L1494.2,945.9 L1496.5,939.5 L1498.8,932.9 L1501.2,926.2 L1503.5,919.3 L1505.9,912.2 L1508.2,904.9 L1510.5,897.4 L1512.9,889.7 L1515.2,881.9 L1517.5,873.9 L1519.9,865.6 L1522.2,857.2 L1524.6,848.6 L1526.9,839.9 L1529.2,830.9 L1531.6,821.7 L1533.9,812.4 L1536.2,802.9 L1538.6,793.2 L1538.6,793.2 M1576.0,619.9 L1578.3,608.5 L1580.7,597.0 L1583.0,585.5 L1585.3,574.1 L1587.7,562.7 L1590.0,551.4 L1592.3,540.1 L1594.7,529.0 L1597.0,518.0 L1599.4,507.1 L1601.7,496.4 L1604.0,485.9 L1606.4,475.6 L1608.7,465.5 L1611.0,455.6 L1613.4,446.0 L1613.4,446.0 M1625.1,402.6 L1627.4,394.9 L1629.7,387.7 L1632.1,380.8 L1634.4,374.4 L1636.8,368.3 L1639.1,362.8 L1641.4,357.7 L1643.8,353.0 L1646.1,348.8 L1648.4,345.2 L1650.8,342.0 L1653.1,339.3 L1655.5,337.1 L1657.8,335.4 L1660.1,334.3 L1662.5,333.6 L1664.8,333.5 L1667.1,334.1 L1669.5,335.3 L1671.8,337.3 L1674.2,339.9 L1676.5,343.2 L1678.8,347.2 L1681.2,351.7 L1683.5,356.9 L1685.8,362.6 L1688.2,369.0 L1690.5,375.8 L1692.9,383.3 L1695.2,391.2 L1697.5,399.6 L1699.9,408.5 L1702.2,417.8 L1704.5,427.6 L1706.9,437.7 L1709.2,448.3 L1711.6,459.2 L1713.9,470.5 L1716.2,482.1 L1716.2,482.1"/>
<path d="M1637.9,479.9 L1640.3,473.1 L1642.6,466.6 L1644.9,460.5 L1647.3,454.7 L1649.6,449.3 L1652.0,444.3 L1654.3,439.7 L1656.6,435.5 L1659.0,431.7 L1661.3,428.3 L1663.6,425.3 L1666.0,422.8 L1668.3,420.7 L1670.7,419.0 L1673.0,417.8 L1675.3,417.0 L1677.7,416.7 L1680.0,416.9 L1682.3,417.7 L1684.7,419.0 L1687.0,421.0 L1689.3,423.6 L1691.7,426.7 L1694.0,430.4 L1696.4,434.6 L1698.7,439.3 L1701.0,444.5 L1703.4,450.3 L1705.7,456.5 L1708.0,463.1 L1710.4,470.2 L1712.7,477.7 L1715.1,485.6 L1716.2,489.7"/>
<path d="M1630.9,447.0 L1633.2,434.4 L1635.6,422.1 L1637.9,409.9 L1640.3,398.1 L1642.6,386.6 L1644.9,375.4 L1647.3,364.5 L1649.6,354.0 L1652.0,343.9 L1654.3,334.3 L1656.6,325.0 L1659.0,316.3 L1661.3,308.1 L1663.6,300.3 L1666.0,293.1 L1668.3,286.5 L1670.7,280.4 L1673.0,274.9 L1675.3,270.0 L1677.7,265.7 L1680.0,262.0 L1682.3,259.0 L1684.7,256.6 L1687.0,254.8 L1689.3,253.7 L1691.7,253.2 L1694.0,253.5 L1696.4,254.6 L1698.7,256.6 L1701.0,259.5 L1703.4,263.2 L1705.7,267.7 L1708.0,273.0 L1710.4,279.0 L1712.7,285.8 L1715.1,293.3 L1717.4,301.5 L1719.7,310.3 L1722.1,319.8 L1724.4,329.9 L1726.8,340.5 L1729.1,351.7 L1731.4,363.4 L1733.8,375.7 L1736.1,388.3 L1738.4,401.5 L1740.8,415.0 L1743.1,428.9 L1745.5,443.2 L1747.8,457.8 L1750.1,472.7 L1752.5,487.9 L1754.8,503.4 L1757.1,519.0 L1759.5,534.9 L1761.8,550.9 L1764.2,567.1 L1766.5,583.4 L1768.8,599.8 L1771.2,616.3 L1773.5,632.8 L1775.8,649.4 L1778.2,665.9 L1780.5,682.5 L1782.8,699.0 L1785.2,715.4 L1787.5,731.7 L1789.9,748.0 L1792.2,764.1 L1794.5,780.1 L1796.9,795.9 L1799.2,811.5 L1801.5,826.9 L1803.9,842.1 L1806.2,857.1 L1808.6,871.9 L1810.9,886.3 L1813.2,900.5 L1815.6,914.4 L1817.9,928.0 L1820.2,941.3 L1822.6,954.2 L1824.9,966.8 L1827.3,979.1 L1829.6,991.0 L1831.9,1002.6 L1834.3,1013.8 L1836.6,1024.6 L1839.0,1035.0 L1841.3,1045.1 L1843.6,1054.7 L1843.6,1054.7"/>
<path d="M1639.1,482.4 L1641.4,474.5 L1643.8,466.8 L1646.1,459.5 L1648.4,452.6 L1650.8,446.0 L1653.1,439.9 L1655.5,434.1 L1657.8,428.8 L1660.1,423.9 L1662.5,419.5 L1664.8,415.5 L1667.1,412.0 L1669.5,408.9 L1671.8,406.4 L1674.2,404.3 L1676.5,402.7 L1678.8,401.6 L1681.2,401.0 L1683.5,400.8 L1685.8,401.4 L1688.2,402.6 L1690.5,404.4 L1692.9,407.0 L1695.2,410.1 L1697.5,413.9 L1699.9,418.2 L1702.2,423.2 L1704.5,428.7 L1706.9,434.7 L1709.2,441.3 L1711.6,448.3 L1713.9,455.9 L1716.2,463.9 L1718.6,472.4 L1718.6,472.4"/>
<path d="M1656.6,547.0 L1659.0,540.6 L1661.3,534.6 L1663.6,528.8 L1666.0,523.4 L1668.3,518.3 L1670.7,513.6 L1673.0,509.3 L1675.3,505.3 L1677.7,501.7 L1680.0,498.5 L1682.3,495.7 L1684.7,493.3 L1687.0,491.4 L1689.3,489.8 L1691.7,488.7 L1694.0,487.9 L1696.4,487.6 L1698.7,487.8 L1701.0,488.5 L1703.4,489.8 L1705.7,491.7 L1708.0,494.1 L1710.4,497.0 L1712.7,500.5 L1712.7,500.5 M1816.7,928.9 L1819.1,939.3 L1821.4,949.7 L1823.8,959.8 L1826.1,969.8 L1828.4,979.6 L1830.8,989.2 L1833.1,998.5 L1835.4,1007.7 L1837.8,1016.7 L1840.1,1025.4 L1842.5,1034.0 L1844.8,1042.2 L1847.1,1050.3 L1849.5,1058.1 L1851.8,1065.7 L1854.1,1073.0 L1856.5,1080.1 L1858.8,1086.9 L1861.2,1093.5 L1863.5,1099.8 L1865.8,1105.9 L1867.0,1108.8"/>
<path d="M1399.5,1082.0 L1401.8,1080.0 L1404.2,1077.9 L1406.5,1075.8 L1408.8,1073.5 L1411.2,1071.2 L1413.5,1068.8 L1415.9,1066.4 L1418.2,1063.8 L1420.5,1061.2 L1422.9,1058.5 L1425.2,1055.7 L1427.5,1052.8 L1429.9,1049.8 L1432.2,1046.7 L1434.6,1043.5 L1436.9,1040.2 L1439.2,1036.9 L1441.6,1033.4 L1443.9,1029.8 L1446.2,1026.0 L1448.6,1022.2 L1450.9,1018.2 L1453.3,1014.1 L1455.6,1009.9 L1457.9,1005.6 L1460.3,1001.1 L1462.6,996.5 L1465.0,991.8 L1467.3,986.9 L1469.6,981.8 L1472.0,976.7 L1474.3,971.3 L1476.6,965.8 L1479.0,960.2 L1481.3,954.4 L1483.7,948.4 L1486.0,942.3 L1488.3,936.0 L1490.7,929.5 L1493.0,922.9 L1495.3,916.1 L1497.7,909.1 L1500.0,901.9 L1502.3,894.6 L1504.7,887.1 L1507.0,879.4 L1509.4,871.5 L1511.7,863.4 L1514.0,855.2 L1516.4,846.8 L1518.7,838.2 L1521.0,829.4 L1523.4,820.4 L1525.7,811.3 L1528.1,802.0 L1530.4,792.5 L1532.7,782.9 L1535.1,773.0 L1537.4,763.1 L1539.8,753.0 L1542.1,742.7 L1544.4,732.3 L1546.8,721.8 L1549.1,711.1 L1551.4,700.3 L1553.8,689.4 L1556.1,678.4 L1558.5,667.4 L1560.8,656.2 L1563.1,645.0 L1565.5,633.7 L1567.8,622.4 L1570.1,611.0 L1572.5,599.7 L1574.8,588.3 L1577.2,576.9 L1579.5,565.6 L1581.8,554.3 L1584.2,543.1 L1586.5,532.0 L1588.8,520.9 L1591.2,510.0 L1593.5,499.2 L1595.8,488.5 L1598.2,478.0 L1600.5,467.7 L1602.9,457.6 L1605.2,447.7 L1607.5,438.1 L1609.9,428.7 L1612.2,419.6 L1614.5,410.8 L1616.9,402.3 L1619.2,394.1 L1621.6,386.2 L1623.9,378.8 L1626.2,371.7 L1628.6,365.0 L1630.9,358.7 L1633.2,352.8 L1635.6,347.3 L1637.9,342.3 L1640.3,337.8 L1642.6,333.7 L1644.9,330.0 L1647.3,326.9 L1649.6,324.2 L1652.0,322.0 L1654.3,320.4 L1656.6,319.2 L1659.0,318.5 L1661.3,318.3 L1663.6,318.7 L1666.0,319.8 L1668.3,321.5 L1670.7,324.0 L1673.0,327.0 L1675.3,330.7 L1677.7,335.0 L1680.0,339.9 L1682.3,345.4 L1684.7,351.4 L1687.0,358.0 L1689.3,365.1 L1691.7,372.7 L1694.0,380.7 L1696.4,389.3 L1698.7,398.3 L1701.0,407.7 L1703.4,417.5 L1705.7,427.7 L1708.0,438.2 L1710.4,449.1 L1712.7,460.4 L1715.1,471.9 L1717.4,483.8 L1717.4,483.8"/>
<path d="M1656.6,548.4 L1659.0,545.0 L1661.3,542.0 L1663.6,539.5 L1666.0,537.4 L1668.3,535.8 L1670.7,534.7 L1673.0,534.0 L1675.3,533.8 L1677.7,534.2 L1680.0,535.3 L1682.3,536.9 L1684.7,539.2 L1687.0,542.1 L1689.3,545.6 L1691.7,549.6 L1694.0,554.2 L1695.2,556.7"/>
<path d="M1637.9,482.9 L1640.3,472.9 L1642.6,463.1 L1644.9,453.7 L1647.3,444.6 L1649.6,435.9 L1652.0,427.5 L1654.3,419.6 L1656.6,412.0 L1659.0,404.9 L1661.3,398.3 L1663.6,392.2 L1666.0,386.5 L1668.3,381.3 L1670.7,376.7 L1673.0,372.6 L1675.3,369.0 L1677.7,365.9 L1680.0,363.5 L1682.3,361.5 L1684.7,360.2 L1687.0,359.4 L1689.3,359.1 L1691.7,359.6 L1694.0,360.9 L1696.4,362.9 L1698.7,365.6 L1701.0,369.1 L1703.4,373.3 L1705.7,378.2 L1708.0,383.7 L1710.4,389.9 L1712.7,396.6 L1715.1,404.0 L1717.4,412.0 L1719.7,420.5 L1722.1,429.5 L1724.4,439.0 L1724.4,439.0"/>
<path d="M1637.9,477.1 L1640.3,471.8 L1642.6,466.9 L1644.9,462.5 L1647.3,458.5 L1649.6,455.0 L1652.0,451.9 L1654.3,449.3 L1656.6,447.2 L1659.0,445.6 L1661.3,444.4 L1663.6,443.7 L1666.0,443.5 L1668.3,443.9 L1670.7,445.0 L1673.0,446.7 L1675.3,449.1 L1677.7,452.1 L1680.0,455.6 L1682.3,459.8 L1684.7,464.6 L1687.0,469.9 L1689.3,475.7 L1691.7,482.0 L1694.0,488.9 L1696.4,496.2 L1698.7,503.9 L1701.0,512.1 L1703.4,520.7 L1705.7,529.7 L1705.7,529.7"/>
<path d="M1626.2,413.0 L1628.6,402.5 L1630.9,392.3 L1633.2,382.4 L1635.6,372.9 L1637.9,363.7 L1640.3,354.9 L1642.6,346.5 L1644.9,338.5 L1647.3,330.9 L1649.6,323.8 L1652.0,317.2 L1654.3,311.0 L1656.6,305.3 L1659.0,300.2 L1661.3,295.5 L1663.6,291.4 L1666.0,287.8 L1668.3,284.8 L1670.7,282.3 L1673.0,280.4 L1675.3,279.1 L1677.7,278.3 L1680.0,278.0 L1682.3,278.5 L1684.7,279.8 L1687.0,281.8 L1689.3,284.5 L1691.7,288.0 L1694.0,292.2 L1696.4,297.0 L1698.7,302.6 L1701.0,308.8 L1703.4,315.6 L1705.7,323.0 L1708.0,330.9 L1710.4,339.5 L1712.7,348.6 L1715.1,358.2 L1717.4,368.2 L1719.7,378.8 L1722.1,389.8 L1724.4,401.2 L1726.8,413.0 L1727.9,419.1"/>
<path d="M1671.8,574.7 L1674.2,571.4 L1676.5,568.5 L1678.8,566.0 L1681.2,563.8 L1683.5,562.0 L1685.8,560.5 L1688.2,559.4 L1690.5,558.7 L1692.9,558.4 L1694.0,558.3"/>
<path d="M1632.1,453.3 L1634.4,445.1 L1636.8,437.2 L1639.1,429.8 L1641.4,422.9 L1643.8,416.4 L1646.1,410.4 L1648.4,404.9 L1650.8,399.9 L1653.1,395.5 L1655.5,391.6 L1657.8,388.2 L1660.1,385.4 L1662.5,383.2 L1664.8,381.5 L1667.1,380.4 L1669.5,379.9 L1671.8,380.0 L1674.2,380.9 L1676.5,382.5 L1678.8,385.0 L1681.2,388.1 L1683.5,392.0 L1685.8,396.6 L1688.2,401.9 L1690.5,407.8 L1692.9,414.4 L1695.2,421.5 L1697.5,429.3 L1699.9,437.6 L1702.2,446.4 L1704.5,455.8 L1706.9,465.7 L1709.2,476.0 L1711.6,486.7 L1713.9,497.9 L1713.9,497.9"/>
<path d="M1647.3,524.5 L1649.6,517.6 L1652.0,511.1 L1654.3,504.9 L1656.6,499.2 L1659.0,493.9 L1661.3,489.0 L1663.6,484.5 L1666.0,480.5 L1668.3,476.9 L1670.7,473.8 L1673.0,471.2 L1675.3,469.1 L1677.7,467.4 L1680.0,466.2 L1682.3,465.6 L1684.7,465.4 L1687.0,465.8 L1689.3,466.8 L1691.7,468.6 L1694.0,471.0 L1696.4,474.0 L1698.7,477.6 L1701.0,481.8 L1703.4,486.6 L1705.7,491.9 L1708.0,497.8 L1710.4,504.1 L1711.6,507.5"/>
<path d="M1636.8,473.6 L1639.1,462.2 L1641.4,451.0 L1643.8,440.0 L1646.1,429.3 L1648.4,418.9 L1650.8,408.8 L1653.1,399.0 L1655.5,389.5 L1657.8,380.4 L1660.1,371.7 L1662.5,363.4 L1664.8,355.5 L1667.1,348.1 L1669.5,341.1 L1671.8,334.6 L1674.2,328.6 L1676.5,323.1 L1678.8,318.1 L1681.2,313.7 L1683.5,309.8 L1685.8,306.4 L1688.2,303.6 L1690.5,301.4 L1692.9,299.7 L1695.2,298.6 L1697.5,298.1 L1699.9,298.2 L1702.2,299.1 L1704.5,300.7 L1706.9,303.2 L1709.2,306.3 L1711.6,310.2 L1713.9,314.8 L1716.2,320.1 L1718.6,326.0 L1720.9,332.6 L1723.2,339.8 L1725.6,347.6 L1727.9,356.0 L1730.3,364.9 L1732.6,374.3 L1734.9,384.3 L1737.3,394.7 L1739.6,405.6 L1741.9,416.9 L1744.3,428.7 L1746.6,440.8 L1749.0,453.3 L1751.3,466.1 L1753.6,479.2 L1756.0,492.7 L1758.3,506.4 L1760.6,520.3 L1763.0,534.5 L1765.3,548.9 L1767.7,563.4 L1770.0,578.1 L1772.3,593.0 L1774.7,607.9 L1777.0,623.0 L1779.3,638.1 L1781.7,653.3 L1784.0,668.5 L1786.4,683.7 L1788.7,698.9 L1791.0,714.1 L1793.4,729.2 L1795.7,744.3 L1798.0,759.3 L1800.4,774.2 L1802.7,789.0 L1805.1,803.6 L1807.4,818.1 L1809.7,832.4 L1812.1,846.6 L1814.4,860.5 L1816.7,874.3 L1819.1,887.8 L1821.4,901.1 L1823.8,914.1 L1826.1,926.9 L1828.4,939.4 L1830.8,951.7 L1833.1,963.6 L1835.4,975.3 L1837.8,986.6 L1840.1,997.7 L1842.5,1008.4 L1844.8,1018.8 L1847.1,1028.8 L1849.5,1038.6 L1851.8,1048.0 L1854.1,1057.0 L1856.5,1065.7 L1858.8,1074.1 L1861.2,1082.1 L1863.5,1089.8 L1865.8,1097.1 L1867.0,1100.7"/>
<path d="M1646.1,516.2 L1648.4,514.2 L1650.8,512.6 L1653.1,511.5 L1655.5,510.7 L1657.8,510.4 L1660.1,510.5 L1662.5,511.2 L1664.8,512.5 L1667.1,514.3 L1669.5,516.7 L1671.8,519.6 L1674.2,523.0 L1676.5,526.9 L1678.8,531.2 L1681.2,536.1 L1683.5,541.4 L1685.8,547.1 L1688.2,553.3 L1690.5,559.9 L1691.7,563.3"/>
<path d="M1455.6,1037.4 L1457.9,1033.8 L1460.3,1030.1 L1462.6,1026.3 L1465.0,1022.4 L1467.3,1018.4 L1469.6,1014.2 L1472.0,1009.9 L1474.3,1005.5 L1476.6,1000.9 L1479.0,996.2 L1481.3,991.4 L1483.7,986.4 L1486.0,981.3 L1488.3,976.0 L1490.7,970.5 L1493.0,964.9 L1495.3,959.2 L1497.7,953.2 L1500.0,947.2 L1502.3,940.9 L1504.7,934.5 L1507.0,927.9 L1509.4,921.1 L1511.7,914.1 L1514.0,907.0 L1516.4,899.7 L1518.7,892.2 L1521.0,884.6 L1521.0,884.6 M1627.4,425.9 L1629.7,417.6 L1632.1,409.7 L1634.4,402.0 L1636.8,394.8 L1639.1,387.9 L1641.4,381.5 L1643.8,375.4 L1646.1,369.8 L1648.4,364.6 L1650.8,359.9 L1653.1,355.6 L1655.5,351.8 L1657.8,348.4 L1660.1,345.6 L1662.5,343.2 L1664.8,341.3 L1667.1,339.9 L1669.5,339.0 L1671.8,338.6 L1674.2,338.8 L1676.5,339.6 L1678.8,341.1 L1681.2,343.3 L1683.5,346.1 L1685.8,349.6 L1688.2,353.7 L1690.5,358.3 L1692.9,363.6 L1695.2,369.4 L1697.5,375.8 L1699.9,382.7 L1702.2,390.0 L1704.5,397.9 L1706.9,406.3 L1709.2,415.1 L1711.6,424.3 L1713.9,433.9 L1716.2,444.0 L1718.6,454.4 L1720.9,465.1 L1720.9,465.1"/>
<path d="M1643.8,506.6 L1646.1,498.2 L1648.4,490.1 L1650.8,482.4 L1653.1,475.1 L1655.5,468.2 L1657.8,461.7 L1660.1,455.7 L1662.5,450.1 L1664.8,445.0 L1667.1,440.4 L1669.5,436.3 L1671.8,432.7 L1674.2,429.6 L1676.5,427.0 L1678.8,424.9 L1681.2,423.4 L1683.5,422.5 L1685.8,422.0 L1688.2,422.2 L1690.5,423.1 L1692.9,424.8 L1695.2,427.1 L1697.5,430.2 L1699.9,433.9 L1702.2,438.3 L1704.5,443.3 L1706.9,448.9 L1709.2,455.1 L1711.6,461.9 L1713.9,469.3 L1716.2,477.1 L1717.4,481.3"/>
<path d="M1443.9,1048.1 L1446.2,1044.9 L1448.6,1041.5 L1450.9,1037.9 L1453.3,1034.3 L1455.6,1030.5 L1457.9,1026.6 L1460.3,1022.6 L1462.6,1018.4 L1465.0,1014.1 L1467.3,1009.6 L1469.6,1005.0 L1472.0,1000.2 L1474.3,995.3 L1476.6,990.2 L1479.0,984.9 L1481.3,979.5 L1483.7,973.9 L1486.0,968.1 L1488.3,962.1 L1490.7,956.0 L1493.0,949.6 L1495.3,943.1 L1497.7,936.3 L1500.0,929.3 L1502.3,922.2 L1504.7,914.8 L1507.0,907.2 L1509.4,899.4 L1511.7,891.4 L1514.0,883.1 L1516.4,874.7 L1518.7,866.0 L1521.0,857.0 L1523.4,847.9 L1525.7,838.5 L1528.1,828.9 L1530.4,819.1 L1532.7,809.0 L1535.1,798.8 L1537.4,788.3 L1539.8,777.6 L1542.1,766.6 L1544.4,755.5 L1546.8,744.2 L1549.1,732.6 L1551.4,720.9 L1553.8,709.0 L1556.1,696.9 L1558.5,684.7 L1560.8,672.3 L1563.1,659.7 L1565.5,647.1 L1567.8,634.3 L1570.1,621.4 L1572.5,608.4 L1574.8,595.4 L1577.2,582.3 L1579.5,569.1 L1581.8,556.0 L1584.2,542.8 L1586.5,529.7 L1588.8,516.6 L1591.2,503.6 L1593.5,490.7 L1595.8,477.8 L1598.2,465.1 L1600.5,452.6 L1602.9,440.3 L1605.2,428.1 L1607.5,416.2 L1609.9,404.6 L1612.2,393.2 L1614.5,382.2 L1616.9,371.5 L1619.2,361.1 L1621.6,351.1 L1623.9,341.5 L1626.2,332.4 L1628.6,323.7 L1630.9,315.4 L1633.2,307.7 L1635.6,300.4 L1637.9,293.7 L1640.3,287.6 L1642.6,281.9 L1644.9,276.9 L1647.3,272.4 L1649.6,268.6 L1652.0,265.3 L1654.3,262.6 L1656.6,260.6 L1659.0,259.1 L1661.3,258.3 L1663.6,258.2 L1666.0,258.8 L1668.3,260.2 L1670.7,262.6 L1673.0,265.7 L1675.3,269.6 L1677.7,274.3 L1680.0,279.7 L1682.3,285.9 L1684.7,292.7 L1687.0,300.3 L1689.3,308.5 L1691.7,317.3 L1694.0,326.7 L1696.4,336.7 L1698.7,347.3 L1701.0,358.3 L1703.4,369.9 L1705.7,381.9 L1708.0,394.4 L1710.4,407.3 L1712.7,420.6 L1715.1,434.3 L1717.4,448.3 L1719.7,462.6 L1720.9,469.9"/>
<path d="M1671.8,572.3 L1674.2,571.6 L1676.5,571.2 L1678.8,571.4 L1681.2,572.0 L1683.5,573.2 L1683.5,573.2"/>
<path d="M1640.3,496.6 L1642.6,487.9 L1644.9,479.4 L1647.3,471.2 L1649.6,463.3 L1652.0,455.7 L1654.3,448.5 L1656.6,441.6 L1659.0,435.2 L1661.3,429.1 L1663.6,423.4 L1666.0,418.1 L1668.3,413.3 L1670.7,408.9 L1673.0,404.9 L1675.3,401.5 L1677.7,398.4 L1680.0,395.9 L1682.3,393.8 L1684.7,392.2 L1687.0,391.1 L1689.3,390.5 L1691.7,390.3 L1694.0,390.8 L1696.4,392.0 L1698.7,393.8 L1701.0,396.2 L1703.4,399.3 L1705.7,402.9 L1708.0,407.2 L1710.4,412.0 L1712.7,417.4 L1715.1,423.3 L1717.4,429.8 L1719.7,436.7 L1722.1,444.1 L1723.2,448.0 M1814.4,914.8 L1816.7,926.5 L1819.1,937.9 L1821.4,949.2 L1823.8,960.2 L1826.1,971.0 L1828.4,981.5 L1830.8,991.8 L1833.1,1001.9 L1835.4,1011.7 L1837.8,1021.2 L1840.1,1030.4 L1842.5,1039.4 L1844.8,1048.1 L1847.1,1056.5 L1849.5,1064.6 L1851.8,1072.5 L1854.1,1080.0 L1856.5,1087.3 L1858.8,1094.2 L1860.0,1097.6"/>
<path d="M1642.6,500.1 L1644.9,496.0 L1647.3,492.3 L1649.6,488.9 L1652.0,485.9 L1654.3,483.3 L1656.6,481.2 L1659.0,479.4 L1661.3,478.0 L1663.6,477.1 L1666.0,476.5 L1668.3,476.4 L1670.7,476.8 L1673.0,477.8 L1675.3,479.4 L1677.7,481.4 L1680.0,484.0 L1682.3,487.2 L1684.7,490.8 L1687.0,494.9 L1689.3,499.5 L1691.7,504.6 L1694.0,510.1 L1696.4,516.1 L1698.7,522.4 L1701.0,529.2 L1703.4,536.3 L1703.4,536.3"/>
<path d="M1630.9,440.7 L1633.2,429.9 L1635.6,419.4 L1637.9,409.3 L1640.3,399.5 L1642.6,390.1 L1644.9,381.1 L1647.3,372.6 L1649.6,364.5 L1652.0,356.9 L1654.3,349.8 L1656.6,343.2 L1659.0,337.1 L1661.3,331.6 L1663.6,326.6 L1666.0,322.2 L1668.3,318.4 L1670.7,315.2 L1673.0,312.6 L1675.3,310.5 L1677.7,309.1 L1680.0,308.3 L1682.3,308.2 L1684.7,308.8 L1687.0,310.2 L1689.3,312.5 L1691.7,315.6 L1694.0,319.4 L1696.4,324.0 L1698.7,329.4 L1701.0,335.4 L1703.4,342.2 L1705.7,349.6 L1708.0,357.6 L1710.4,366.3 L1712.7,375.5 L1715.1,385.3 L1717.4,395.6 L1719.7,406.5 L1722.1,417.8 L1724.4,429.6 L1725.6,435.6"/>
<path d="M1663.6,562.7 L1666.0,557.2 L1668.3,552.1 L1670.7,547.3 L1673.0,542.9 L1675.3,538.9 L1677.7,535.3 L1680.0,532.1 L1682.3,529.4 L1684.7,527.1 L1687.0,525.2 L1689.3,523.7 L1691.7,522.7 L1694.0,522.1 L1696.4,522.0 L1698.7,522.4 L1701.0,523.5 L1703.4,525.1 L1705.7,527.3 L1705.7,527.3"/>
<path d="M1446.2,1046.4 L1448.6,1043.0 L1450.9,1039.5 L1453.3,1035.9 L1455.6,1032.1 L1457.9,1028.2 L1460.3,1024.2 L1462.6,1020.0 L1465.0,1015.7 L1467.3,1011.3 L1469.6,1006.7 L1472.0,1002.0 L1474.3,997.2 L1476.6,992.1 L1479.0,987.0 L1481.3,981.6 L1483.7,976.2 L1486.0,970.5 L1488.3,964.7 L1490.7,958.7 L1493.0,952.5 L1495.3,946.1 L1497.7,939.6 L1500.0,932.9 L1502.3,926.0 L1504.7,918.9 L1507.0,911.6 L1509.4,904.2 L1511.7,896.5 L1514.0,888.6 L1516.4,880.6 L1518.7,872.4 L1521.0,863.9 L1523.4,855.3 L1525.7,846.5 L1528.1,837.5 L1530.4,828.3 L1532.7,818.9 L1535.1,809.4 L1537.4,799.6 L1537.4,799.6 M1574.8,625.2 L1577.2,613.6 L1579.5,602.1 L1581.8,590.6 L1584.2,579.1 L1586.5,567.7 L1588.8,556.4 L1591.2,545.2 L1593.5,534.1 L1595.8,523.1 L1598.2,512.3 L1600.5,501.7 L1602.9,491.3 L1605.2,481.0 L1607.5,471.1 L1609.9,461.4 L1612.2,452.0 L1612.2,452.0 M1625.1,406.0 L1627.4,398.9 L1629.7,392.2 L1632.1,385.9 L1634.4,380.1 L1636.8,374.8 L1639.1,369.9 L1641.4,365.5 L1643.8,361.6 L1646.1,358.2 L1648.4,355.4 L1650.8,353.0 L1653.1,351.2 L1655.5,349.9 L1657.8,349.1 L1660.1,348.9 L1662.5,349.3 L1664.8,350.4 L1667.1,352.2 L1669.5,354.8 L1671.8,358.0 L1674.2,361.9 L1676.5,366.4 L1678.8,371.6 L1681.2,377.4 L1683.5,383.7 L1685.8,390.7 L1688.2,398.1 L1690.5,406.1 L1692.9,414.6 L1695.2,423.6 L1697.5,433.0 L1699.9,442.9 L1702.2,453.2 L1704.5,463.8 L1706.9,474.9 L1709.2,486.3 L1711.6,498.0 L1712.7,504.0"/>
<path d="M1639.1,482.0 L1641.4,475.8 L1643.8,470.0 L1646.1,464.6 L1648.4,459.6 L1650.8,455.0 L1653.1,450.8 L1655.5,447.1 L1657.8,443.7 L1660.1,440.8 L1662.5,438.3 L1664.8,436.3 L1667.1,434.7 L1669.5,433.6 L1671.8,432.9 L1674.2,432.7 L1676.5,433.1 L1678.8,434.0 L1681.2,435.6 L1683.5,437.8 L1685.8,440.6 L1688.2,444.0 L1690.5,447.9 L1692.9,452.3 L1695.2,457.3 L1697.5,462.8 L1699.9,468.7 L1702.2,475.2 L1704.5,482.1 L1706.9,489.4 L1709.2,497.1 L1711.6,505.3 L1711.6,505.3"/>
<path d="M1627.4,427.7 L1629.7,417.0 L1632.1,406.4 L1634.4,396.2 L1636.8,386.2 L1639.1,376.5 L1641.4,367.1 L1643.8,358.0 L1646.1,349.3 L1648.4,340.9 L1650.8,332.9 L1653.1,325.4 L1655.5,318.2 L1657.8,311.5 L1660.1,305.2 L1662.5,299.4 L1664.8,294.0 L1667.1,289.1 L1669.5,284.7 L1671.8,280.8 L1674.2,277.4 L1676.5,274.6 L1678.8,272.2 L1681.2,270.4 L1683.5,269.1 L1685.8,268.3 L1688.2,268.1 L1690.5,268.5 L1692.9,269.6 L1695.2,271.5 L1697.5,274.0 L1699.9,277.2 L1702.2,281.1 L1704.5,285.7 L1706.9,290.9 L1709.2,296.6 L1711.6,303.0 L1713.9,310.0 L1716.2,317.5 L1718.6,325.5 L1720.9,334.1 L1723.2,343.2 L1725.6,352.7 L1727.9,362.7 L1730.3,373.1 L1732.6,383.9 L1734.9,395.1 L1737.3,406.7 L1739.6,418.6 L1741.9,430.9 L1744.3,443.5 L1746.6,456.4 L1749.0,469.5 L1751.3,482.9 L1753.6,496.5 L1756.0,510.3 L1758.3,524.3 L1760.6,538.5 L1763.0,552.8 L1765.3,567.3 L1767.7,581.9 L1770.0,596.5 L1772.3,611.3 L1774.7,626.1 L1777.0,640.9 L1779.3,655.8 L1781.7,670.7 L1784.0,685.5 L1786.4,700.4 L1788.7,715.1 L1791.0,729.9 L1793.4,744.5 L1795.7,759.1 L1798.0,773.5 L1800.4,787.8 L1802.7,802.0 L1805.1,816.1 L1807.4,830.0 L1809.7,843.7 L1812.1,857.2 L1814.4,870.5 L1816.7,883.6 L1819.1,896.5 L1821.4,909.2 L1823.8,921.6 L1826.1,933.7 L1828.4,945.6 L1830.8,957.3 L1833.1,968.6 L1835.4,979.7 L1837.8,990.5 L1840.1,1001.0 L1842.5,1011.2 L1844.8,1021.1 L1847.1,1030.7 L1849.5,1040.0 L1851.8,1048.9 L1854.1,1057.6 L1856.5,1065.9 L1858.8,1073.9 L1861.2,1081.6 L1863.5,1089.0 L1865.8,1096.0 L1867.0,1099.5"/>
<path d="M1656.6,548.6 L1659.0,547.3 L1661.3,546.4 L1663.6,546.0 L1666.0,546.0 L1668.3,546.6 L1670.7,547.9 L1673.0,549.7 L1675.3,552.1 L1677.7,555.1 L1680.0,558.6 L1682.3,562.7 L1684.7,567.2 L1687.0,572.3 L1687.0,572.3"/>
</g>
<path d="M1399.5,1098.3 L1401.8,1097.0 L1404.2,1095.6 L1406.5,1094.2 L1408.8,1092.7 L1411.2,1091.1 L1413.5,1089.5 L1415.9,1087.9 L1418.2,1086.2 L1420.5,1084.4 L1422.9,1082.6 L1425.2,1080.7 L1427.5,1078.7 L1429.9,1076.6 L1432.2,1074.5 L1434.6,1072.3 L1436.9,1070.1 L1439.2,1067.7 L1441.6,1065.3 L1443.9,1062.8 L1446.2,1060.1 L1448.6,1057.4 L1450.9,1054.6 L1453.3,1051.8 L1455.6,1048.8 L1457.9,1045.7 L1460.3,1042.4 L1462.6,1039.1 L1465.0,1035.7 L1467.3,1032.1 L1469.6,1028.5 L1472.0,1024.7 L1474.3,1020.8 L1476.6,1016.7 L1479.0,1012.5 L1481.3,1008.2 L1483.7,1003.7 L1486.0,999.0 L1488.3,994.3 L1490.7,989.3 L1493.0,984.2 L1495.3,979.0 L1497.7,973.5 L1500.0,967.9 L1502.3,962.1 L1504.7,956.2 L1507.0,950.0 L1509.4,943.7 L1511.7,937.1 L1514.0,930.4 L1516.4,923.4 L1518.7,916.3 L1521.0,909.0 L1523.4,901.4 L1525.7,893.6 L1528.1,885.6 L1530.4,877.4 L1532.7,869.0 L1535.1,860.3 L1537.4,851.5 L1539.8,842.4 L1542.1,833.0 L1544.4,823.5 L1546.8,813.7 L1549.1,803.7 L1551.4,793.4 L1553.8,783.0 L1556.1,772.3 L1558.5,761.4 L1560.8,750.2 L1563.1,738.9 L1565.5,727.4 L1567.8,715.6 L1570.1,703.7 L1572.5,691.6 L1574.8,679.3 L1577.2,666.8 L1579.5,654.2 L1581.8,641.4 L1584.2,628.5 L1586.5,615.5 L1588.8,602.3 L1591.2,589.1 L1593.5,575.7 L1595.8,562.3 L1598.2,548.9 L1600.5,535.4 L1602.9,521.9 L1605.2,508.4 L1607.5,495.0 L1609.9,481.6 L1612.2,468.2 L1614.5,455.0 L1616.9,441.8 L1619.2,428.8 L1621.6,416.0 L1623.9,403.3 L1626.2,390.9 L1628.6,378.7 L1630.9,366.7 L1633.2,355.0 L1635.6,343.7 L1637.9,332.6 L1640.3,321.9 L1642.6,311.6 L1644.9,301.7 L1647.3,292.2 L1649.6,283.2 L1652.0,274.6 L1654.3,266.5 L1656.6,258.9 L1659.0,251.8 L1661.3,245.3 L1663.6,239.3 L1666.0,233.9 L1668.3,229.1 L1670.7,224.8 L1673.0,221.2 L1675.3,218.2 L1677.7,215.7 L1680.0,213.9 L1682.3,212.7 L1684.7,212.2 L1687.0,212.3 L1689.3,213.2 L1691.7,215.1 L1694.0,217.7 L1696.4,221.1 L1698.7,225.4 L1701.0,230.4 L1703.4,236.1 L1705.7,242.6 L1708.0,249.8 L1710.4,257.6 L1712.7,266.1 L1715.1,275.3 L1717.4,285.0 L1719.7,295.3 L1722.1,306.1 L1724.4,317.5 L1726.8,329.4 L1729.1,341.7 L1731.4,354.5 L1733.8,367.7 L1736.1,381.3 L1738.4,395.3 L1740.8,409.6 L1743.1,424.3 L1745.5,439.2 L1747.8,454.4 L1750.1,469.9 L1752.5,485.6 L1754.8,501.5 L1757.1,517.5 L1759.5,533.7 L1761.8,550.1 L1764.2,566.5 L1766.5,583.0 L1768.8,599.6 L1771.2,616.2 L1773.5,632.8 L1775.8,649.4 L1778.2,666.0 L1780.5,682.6 L1782.8,699.0 L1785.2,715.4 L1787.5,731.7 L1789.9,747.9 L1792.2,763.9 L1794.5,779.7 L1796.9,795.4 L1799.2,810.9 L1801.5,826.2 L1803.9,841.2 L1806.2,856.1 L1808.6,870.6 L1810.9,884.9 L1813.2,898.9 L1815.6,912.7 L1817.9,926.1 L1820.2,939.2 L1822.6,952.0 L1824.9,964.4 L1827.3,976.6 L1829.6,988.3 L1831.9,999.8 L1834.3,1010.8 L1836.6,1021.5 L1839.0,1031.9 L1841.3,1041.8 L1843.6,1051.4 L1846.0,1060.7 L1848.3,1069.5 L1850.6,1078.0 L1853.0,1086.1 L1855.3,1093.8 L1857.7,1101.2 L1860.0,1108.2 L1862.3,1114.8 L1864.7,1121.1 L1867.0,1127.0" fill="none" stroke="#0a9dff" stroke-width="2.4"/>
<path d="M1399.5,1101.9 L1401.8,1100.6 L1404.2,1099.2 L1406.5,1097.7 L1408.8,1096.2 L1411.2,1094.6 L1413.5,1093.0 L1415.9,1091.3 L1418.2,1089.5 L1420.5,1087.7 L1422.9,1085.8 L1425.2,1083.8 L1427.5,1081.7 L1429.9,1079.6 L1432.2,1077.3 L1434.6,1075.0 L1436.9,1072.6 L1439.2,1070.1 L1441.6,1067.5 L1443.9,1064.8 L1446.2,1062.0 L1448.6,1059.1 L1450.9,1056.1 L1453.3,1052.9 L1455.6,1049.7 L1457.9,1046.3 L1460.3,1042.8 L1462.6,1039.2 L1465.0,1035.4 L1467.3,1031.5 L1469.6,1027.4 L1472.0,1023.2 L1474.3,1018.9 L1476.6,1014.3 L1479.0,1009.6 L1481.3,1004.8 L1483.7,999.8 L1486.0,994.5 L1488.3,989.1 L1490.7,983.5 L1493.0,977.8 L1495.3,971.8 L1497.7,965.6 L1500.0,959.2 L1502.3,952.6 L1504.7,945.7 L1507.0,938.7 L1509.4,931.4 L1511.7,923.8 L1514.0,916.0 L1516.4,908.0 L1518.7,899.8 L1521.0,891.2 L1523.4,882.5 L1525.7,873.4 L1528.1,864.2 L1530.4,854.6 L1532.7,844.8 L1535.1,834.7 L1537.4,824.4 L1539.8,813.8 L1542.1,802.9 L1544.4,791.8 L1546.8,780.4 L1549.1,768.8 L1551.4,756.9 L1553.8,744.8 L1556.1,732.4 L1558.5,719.8 L1560.8,707.0 L1563.1,693.9 L1565.5,680.7 L1567.8,667.3 L1570.1,653.7 L1572.5,639.9 L1574.8,626.0 L1577.2,612.0 L1579.5,597.8 L1581.8,583.6 L1584.2,569.3 L1586.5,554.9 L1588.8,540.5 L1591.2,526.2 L1593.5,511.8 L1595.8,497.5 L1598.2,483.2 L1600.5,469.1 L1602.9,455.0 L1605.2,441.2 L1607.5,427.5 L1609.9,414.1 L1612.2,400.9 L1614.5,388.0 L1616.9,375.4 L1619.2,363.1 L1621.6,351.2 L1623.9,339.7 L1626.2,328.7 L1628.6,318.1 L1630.9,308.0 L1633.2,298.4 L1635.6,289.4 L1637.9,280.9 L1640.3,273.0 L1642.6,265.8 L1644.9,259.1 L1647.3,253.2 L1649.6,247.8 L1652.0,243.2 L1654.3,239.3 L1656.6,236.0 L1659.0,233.5 L1661.3,231.7 L1663.6,230.6 L1666.0,230.3 L1668.3,230.8 L1670.7,232.3 L1673.0,234.8 L1675.3,238.2 L1677.7,242.5 L1680.0,247.8 L1682.3,253.9 L1684.7,260.8 L1687.0,268.6 L1689.3,277.1 L1691.7,286.4 L1694.0,296.4 L1696.4,307.1 L1698.7,318.4 L1701.0,330.3 L1703.4,342.9 L1705.7,356.0 L1708.0,369.6 L1710.4,383.7 L1712.7,398.2 L1715.1,413.2 L1717.4,428.6 L1719.7,444.3 L1722.1,460.4 L1724.4,476.8 L1726.8,493.4 L1729.1,510.3 L1731.4,527.4 L1733.8,544.7 L1736.1,562.1 L1738.4,579.6 L1740.8,597.2 L1743.1,614.9 L1745.5,632.7 L1747.8,650.4 L1750.1,668.1 L1752.5,685.8 L1754.8,703.4 L1757.1,720.9 L1759.5,738.3 L1761.8,755.5 L1764.2,772.6 L1766.5,789.5 L1768.8,806.2 L1771.2,822.7 L1773.5,838.9 L1775.8,854.9 L1778.2,870.5 L1780.5,885.9 L1782.8,900.9 L1785.2,915.6 L1787.5,930.0 L1789.9,944.0 L1792.2,957.6 L1794.5,970.9 L1796.9,983.7 L1799.2,996.2 L1801.5,1008.2 L1803.9,1019.8 L1806.2,1031.0 L1808.6,1041.8 L1810.9,1052.1 L1813.2,1062.0 L1815.6,1071.5 L1817.9,1080.5 L1820.2,1089.1 L1822.6,1097.3 L1824.9,1105.0 L1827.3,1112.4 L1829.6,1119.3 L1831.9,1125.8 L1834.3,1131.9 L1836.6,1137.6 L1839.0,1142.9 L1841.3,1147.9 L1843.6,1152.5 L1846.0,1156.8 L1848.3,1160.7 L1850.6,1164.3 L1853.0,1167.6 L1855.3,1170.6 L1857.7,1173.4 L1860.0,1175.8 L1862.3,1178.1 L1864.7,1180.1 L1867.0,1181.9" fill="none" stroke="#0a9dff" stroke-width="2.4"/>
<path d="M1399.5,1101.6 L1401.8,1100.2 L1404.2,1098.8 L1406.5,1097.3 L1408.8,1095.8 L1411.2,1094.2 L1413.5,1092.6 L1415.9,1090.8 L1418.2,1089.1 L1420.5,1087.2 L1422.9,1085.3 L1425.2,1083.3 L1427.5,1081.3 L1429.9,1079.1 L1432.2,1076.9 L1434.6,1074.6 L1436.9,1072.2 L1439.2,1069.7 L1441.6,1067.2 L1443.9,1064.5 L1446.2,1061.7 L1448.6,1058.9 L1450.9,1055.9 L1453.3,1052.8 L1455.6,1049.6 L1457.9,1046.3 L1460.3,1042.9 L1462.6,1039.3 L1465.0,1035.6 L1467.3,1031.8 L1469.6,1027.9 L1472.0,1023.8 L1474.3,1019.5 L1476.6,1015.1 L1479.0,1010.6 L1481.3,1005.9 L1483.7,1001.0 L1486.0,996.0 L1488.3,990.8 L1490.7,985.4 L1493.0,979.8 L1495.3,974.1 L1497.7,968.1 L1500.0,962.0 L1502.3,955.6 L1504.7,949.1 L1507.0,942.3 L1509.4,935.4 L1511.7,928.2 L1514.0,920.8 L1516.4,913.2 L1518.7,905.3 L1521.0,897.2 L1523.4,888.9 L1525.7,880.3 L1528.1,871.5 L1530.4,862.5 L1532.7,853.2 L1535.1,843.7 L1537.4,833.9 L1539.8,823.9 L1542.1,813.7 L1544.4,803.2 L1546.8,792.5 L1549.1,781.5 L1551.4,770.3 L1553.8,758.9 L1556.1,747.3 L1558.5,735.4 L1560.8,723.4 L1563.1,711.1 L1565.5,698.7 L1567.8,686.0 L1570.1,673.2 L1572.5,660.3 L1574.8,647.2 L1577.2,634.0 L1579.5,620.6 L1581.8,607.2 L1584.2,593.7 L1586.5,580.1 L1588.8,566.4 L1591.2,552.8 L1593.5,539.1 L1595.8,525.5 L1598.2,511.9 L1600.5,498.4 L1602.9,485.0 L1605.2,471.7 L1607.5,458.5 L1609.9,445.5 L1612.2,432.7 L1614.5,420.1 L1616.9,407.8 L1619.2,395.8 L1621.6,384.0 L1623.9,372.6 L1626.2,361.6 L1628.6,350.9 L1630.9,340.7 L1633.2,330.9 L1635.6,321.5 L1637.9,312.7 L1640.3,304.3 L1642.6,296.5 L1644.9,289.2 L1647.3,282.5 L1649.6,276.4 L1652.0,270.9 L1654.3,266.0 L1656.6,261.8 L1659.0,258.1 L1661.3,255.2 L1663.6,252.8 L1666.0,251.2 L1668.3,250.2 L1670.7,249.9 L1673.0,250.3 L1675.3,251.7 L1677.7,254.0 L1680.0,257.1 L1682.3,261.1 L1684.7,266.0 L1687.0,271.6 L1689.3,278.0 L1691.7,285.2 L1694.0,293.0 L1696.4,301.6 L1698.7,310.9 L1701.0,320.7 L1703.4,331.2 L1705.7,342.3 L1708.0,353.9 L1710.4,366.0 L1712.7,378.7 L1715.1,391.8 L1717.4,405.3 L1719.7,419.3 L1722.1,433.6 L1724.4,448.3 L1726.8,463.4 L1729.1,478.7 L1731.4,494.3 L1733.8,510.1 L1736.1,526.1 L1738.4,542.4 L1740.8,558.7 L1743.1,575.3 L1745.5,591.9 L1747.8,608.6 L1750.1,625.4 L1752.5,642.2 L1754.8,659.1 L1757.1,675.9 L1759.5,692.7 L1761.8,709.4 L1764.2,726.0 L1766.5,742.5 L1768.8,759.0 L1771.2,775.2 L1773.5,791.3 L1775.8,807.2 L1778.2,823.0 L1780.5,838.4 L1782.8,853.7 L1785.2,868.7 L1787.5,883.5 L1789.9,897.9 L1792.2,912.1 L1794.5,925.9 L1796.9,939.4 L1799.2,952.6 L1801.5,965.4 L1803.9,977.9 L1806.2,990.1 L1808.6,1001.8 L1810.9,1013.2 L1813.2,1024.2 L1815.6,1034.8 L1817.9,1045.0 L1820.2,1054.8 L1822.6,1064.2 L1824.9,1073.2 L1827.3,1081.8 L1829.6,1090.0 L1831.9,1097.8 L1834.3,1105.3 L1836.6,1112.3 L1839.0,1119.0 L1841.3,1125.3 L1843.6,1131.2 L1846.0,1136.7 L1848.3,1141.9 L1850.6,1146.8 L1853.0,1151.3 L1855.3,1155.5 L1857.7,1159.4 L1860.0,1163.0 L1862.3,1166.3 L1864.7,1169.3 L1867.0,1172.0" fill="none" stroke="#0a9dff" stroke-width="2.4"/>
<path d="M1399.5,1119.7 L1401.8,1118.6 L1404.2,1117.4 L1406.5,1116.2 L1408.8,1115.0 L1411.2,1113.7 L1413.5,1112.4 L1415.9,1111.0 L1418.2,1109.6 L1420.5,1108.1 L1422.9,1106.6 L1425.2,1105.0 L1427.5,1103.3 L1429.9,1101.6 L1432.2,1099.9 L1434.6,1098.0 L1436.9,1096.1 L1439.2,1094.2 L1441.6,1092.1 L1443.9,1090.1 L1446.2,1087.9 L1448.6,1085.6 L1450.9,1083.3 L1453.3,1080.9 L1455.6,1078.4 L1457.9,1075.8 L1460.3,1073.2 L1462.6,1070.4 L1465.0,1067.6 L1467.3,1064.6 L1469.6,1061.6 L1472.0,1058.4 L1474.3,1055.2 L1476.6,1051.8 L1479.0,1048.4 L1481.3,1044.8 L1483.7,1041.1 L1486.0,1037.3 L1488.3,1033.3 L1490.7,1029.2 L1493.0,1025.0 L1495.3,1020.7 L1497.7,1016.2 L1500.0,1011.6 L1502.3,1006.9 L1504.7,1002.0 L1507.0,997.0 L1509.4,991.8 L1511.7,986.4 L1514.0,980.9 L1516.4,975.3 L1518.7,969.5 L1521.0,963.5 L1523.4,957.4 L1525.7,951.1 L1528.1,944.6 L1530.4,938.0 L1532.7,931.2 L1535.1,924.2 L1537.4,917.1 L1539.8,909.8 L1542.1,902.4 L1544.4,894.7 L1546.8,886.9 L1549.1,879.0 L1551.4,870.9 L1553.8,862.6 L1556.1,854.2 L1558.5,845.6 L1560.8,836.9 L1563.1,828.1 L1565.5,819.1 L1567.8,810.0 L1570.1,800.7 L1572.5,791.4 L1574.8,781.9 L1577.2,772.4 L1579.5,762.8 L1581.8,753.1 L1584.2,743.3 L1586.5,733.5 L1588.8,723.6 L1591.2,713.7 L1593.5,703.8 L1595.8,693.9 L1598.2,684.0 L1600.5,674.1 L1602.9,664.3 L1605.2,654.5 L1607.5,644.8 L1609.9,635.2 L1612.2,625.7 L1614.5,616.4 L1616.9,607.1 L1619.2,598.1 L1621.6,589.2 L1623.9,580.6 L1626.2,572.1 L1628.6,563.9 L1630.9,555.9 L1633.2,548.2 L1635.6,540.8 L1637.9,533.7 L1640.3,527.0 L1642.6,520.5 L1644.9,514.4 L1647.3,508.7 L1649.6,503.3 L1652.0,498.4 L1654.3,493.8 L1656.6,489.7 L1659.0,486.0 L1661.3,482.7 L1663.6,479.8 L1666.0,477.4 L1668.3,475.4 L1670.7,473.9 L1673.0,472.9 L1675.3,472.3 L1677.7,472.1 L1680.0,472.6 L1682.3,473.7 L1684.7,475.4 L1687.0,477.7 L1689.3,480.6 L1691.7,484.0 L1694.0,488.0 L1696.4,492.6 L1698.7,497.6 L1701.0,503.2 L1703.4,509.3 L1705.7,515.8 L1708.0,522.8 L1710.4,530.2 L1712.7,538.0 L1715.1,546.2 L1717.4,554.8 L1719.7,563.7 L1722.1,573.0 L1724.4,582.6 L1726.8,592.4 L1729.1,602.6 L1731.4,613.0 L1733.8,623.7 L1736.1,634.6 L1738.4,645.7 L1740.8,657.0 L1743.1,668.5 L1745.5,680.1 L1747.8,691.8 L1750.1,703.7 L1752.5,715.7 L1754.8,727.7 L1757.1,739.8 L1759.5,752.0 L1761.8,764.2 L1764.2,776.4 L1766.5,788.6 L1768.8,800.8 L1771.2,813.0 L1773.5,825.1 L1775.8,837.2 L1778.2,849.2 L1780.5,861.1 L1782.8,872.9 L1785.2,884.6 L1787.5,896.2 L1789.9,907.7 L1792.2,918.9 L1794.5,930.1 L1796.9,941.0 L1799.2,951.8 L1801.5,962.4 L1803.9,972.8 L1806.2,983.0 L1808.6,992.9 L1810.9,1002.6 L1813.2,1012.1 L1815.6,1021.4 L1817.9,1030.4 L1820.2,1039.2 L1822.6,1047.7 L1824.9,1055.9 L1827.3,1063.9 L1829.6,1071.6 L1831.9,1079.0 L1834.3,1086.2 L1836.6,1093.1 L1839.0,1099.7 L1841.3,1106.0 L1843.6,1112.1 L1846.0,1117.9 L1848.3,1123.4 L1850.6,1128.6 L1853.0,1133.6 L1855.3,1138.3 L1857.7,1142.8 L1860.0,1147.0 L1862.3,1151.0 L1864.7,1154.7 L1867.0,1158.2" fill="none" stroke="#000" stroke-width="6.5" stroke-linejoin="round"/>
</g>
<line x1="1378.5" y1="49.8" x2="1869.0" y2="49.8" stroke="#4a4a4a" stroke-width="5"/>
<line x1="1399.5" y1="47.8" x2="1399.5" y2="1214.0" stroke="#111" stroke-width="5"/>
<line x1="1867.0" y1="47.8" x2="1867.0" y2="1214.0" stroke="#111" stroke-width="4"/>
<line x1="1378.5" y1="1193.0" x2="1869.0" y2="1193.0" stroke="#111" stroke-width="4"/>
<line x1="1388.5" y1="1111.3" x2="1399.5" y2="1111.3" stroke="#4a4a4a" stroke-width="4"/>
<line x1="1378.5" y1="1029.7" x2="1399.5" y2="1029.7" stroke="#4a4a4a" stroke-width="4.5"/>
<line x1="1388.5" y1="948.0" x2="1399.5" y2="948.0" stroke="#4a4a4a" stroke-width="4"/>
<line x1="1378.5" y1="866.4" x2="1399.5" y2="866.4" stroke="#4a4a4a" stroke-width="4.5"/>
<line x1="1388.5" y1="784.7" x2="1399.5" y2="784.7" stroke="#4a4a4a" stroke-width="4"/>
<line x1="1378.5" y1="703.1" x2="1399.5" y2="703.1" stroke="#4a4a4a" stroke-width="4.5"/>
<line x1="1388.5" y1="621.4" x2="1399.5" y2="621.4" stroke="#4a4a4a" stroke-width="4"/>
<line x1="1378.5" y1="539.7" x2="1399.5" y2="539.7" stroke="#4a4a4a" stroke-width="4.5"/>
<line x1="1388.5" y1="458.1" x2="1399.5" y2="458.1" stroke="#4a4a4a" stroke-width="4"/>
<line x1="1378.5" y1="376.4" x2="1399.5" y2="376.4" stroke="#4a4a4a" stroke-width="4.5"/>
<line x1="1388.5" y1="294.8" x2="1399.5" y2="294.8" stroke="#4a4a4a" stroke-width="4"/>
<line x1="1378.5" y1="213.1" x2="1399.5" y2="213.1" stroke="#4a4a4a" stroke-width="4.5"/>
<line x1="1388.5" y1="131.5" x2="1399.5" y2="131.5" stroke="#4a4a4a" stroke-width="4"/>
<line x1="1378.5" y1="49.8" x2="1399.5" y2="49.8" stroke="#4a4a4a" stroke-width="4.5"/>
<line x1="1399.5" y1="1193.0" x2="1399.5" y2="1214.0" stroke="#4a4a4a" stroke-width="4.5"/>
<line x1="1457.9" y1="1193.0" x2="1457.9" y2="1204.0" stroke="#111" stroke-width="4"/>
<line x1="1516.4" y1="1193.0" x2="1516.4" y2="1214.0" stroke="#4a4a4a" stroke-width="4.5"/>
<line x1="1574.8" y1="1193.0" x2="1574.8" y2="1204.0" stroke="#111" stroke-width="4"/>
<line x1="1633.2" y1="1193.0" x2="1633.2" y2="1214.0" stroke="#4a4a4a" stroke-width="4.5"/>
<line x1="1691.7" y1="1193.0" x2="1691.7" y2="1204.0" stroke="#111" stroke-width="4"/>
<line x1="1750.1" y1="1193.0" x2="1750.1" y2="1214.0" stroke="#4a4a4a" stroke-width="4.5"/>
<line x1="1808.6" y1="1193.0" x2="1808.6" y2="1204.0" stroke="#111" stroke-width="4"/>
<line x1="1867.0" y1="1193.0" x2="1867.0" y2="1214.0" stroke="#111" stroke-width="4.5"/>
<text transform="translate(1363.0,1207.3) scale(0.94,1)" font-size="51" text-anchor="end" fill="#111">0</text>
<text transform="translate(1363.0,1044.0) scale(0.94,1)" font-size="51" text-anchor="end" fill="#111">10</text>
<text transform="translate(1363.0,880.7) scale(0.94,1)" font-size="51" text-anchor="end" fill="#111">20</text>
<text transform="translate(1363.0,717.4) scale(0.94,1)" font-size="51" text-anchor="end" fill="#111">30</text>
<text transform="translate(1363.0,554.0) scale(0.94,1)" font-size="51" text-anchor="end" fill="#111">40</text>
<text transform="translate(1363.0,390.7) scale(0.94,1)" font-size="51" text-anchor="end" fill="#111">50</text>
<text transform="translate(1363.0,227.4) scale(0.94,1)" font-size="51" text-anchor="end" fill="#111">60</text>
<text transform="translate(1363.0,64.1) scale(0.94,1)" font-size="51" text-anchor="end" fill="#111">70</text>
<text transform="translate(1400.0,1267.3) scale(0.94,1)" font-size="51" text-anchor="middle" fill="#111">500</text>
<text transform="translate(1516.9,1267.3) scale(0.94,1)" font-size="51" text-anchor="middle" fill="#111">550</text>
<text transform="translate(1633.8,1267.3) scale(0.94,1)" font-size="51" text-anchor="middle" fill="#111">600</text>
<text transform="translate(1750.6,1267.3) scale(0.94,1)" font-size="51" text-anchor="middle" fill="#111">650</text>
<text transform="translate(1867.5,1267.3) scale(0.94,1)" font-size="51" text-anchor="middle" fill="#111">700</text>
<text transform="translate(21.0,130.0)" font-size="94" text-anchor="start" fill="#111">(a)</text>
<text transform="translate(372.3,136.7) scale(0.955,1)" font-size="85" text-anchor="middle" fill="#000" font-weight="bold" font-style="italic">Lot.1</text>
<text transform="translate(955.4,136.7) scale(0.967,1)" font-size="85" text-anchor="middle" fill="#000" font-weight="bold" font-style="italic">Lot.2</text>
<text transform="translate(1521.6,136.7) scale(0.96,1)" font-size="85" text-anchor="middle" fill="#000" font-weight="bold" font-style="italic">Lot.3</text>
<text transform="translate(135.6,619.6) rotate(-90)" font-size="58.7" text-anchor="middle" fill="#111">Normalized scattering signal</text>
<text transform="translate(481.9,1356.7)" font-size="58.5" text-anchor="middle" fill="#111">wavelength (nm)</text>
<text transform="translate(1058.6,1356.7)" font-size="58.5" text-anchor="middle" fill="#111">wavelength(nm)</text>
<text transform="translate(1634.1,1356.7)" font-size="58.5" text-anchor="middle" fill="#111">wavelength (nm)</text>
<text transform="translate(21.0,1512.2)" font-size="94" text-anchor="start" fill="#111">(b)</text>
<text transform="translate(128.5,1821.2) rotate(-90)" font-size="64" text-anchor="middle" fill="#111">Amplitude</text>
<clipPath id="hc0"><rect x="249" y="1432.3" width="475.5" height="784.3"/></clipPath>
<g clip-path="url(#hc0)">
<g shape-rendering="crispEdges">
<rect x="375.2" y="1432.2" width="23.7" height="20.2" fill="#ff0000"/>
<rect x="398.4" y="1432.2" width="46.9" height="20.2" fill="#ff1100"/>
<rect x="444.9" y="1432.2" width="58.5" height="20.2" fill="#ff2200"/>
<rect x="502.9" y="1432.2" width="35.3" height="20.2" fill="#ff3300"/>
<rect x="537.8" y="1432.2" width="12.1" height="20.2" fill="#ff4400"/>
<rect x="549.4" y="1432.2" width="35.3" height="20.2" fill="#ff5500"/>
<rect x="584.2" y="1432.2" width="12.1" height="20.2" fill="#ff4400"/>
<rect x="595.8" y="1432.2" width="23.7" height="20.2" fill="#ff3300"/>
<rect x="619.0" y="1432.2" width="23.7" height="20.2" fill="#ff2200"/>
<rect x="642.2" y="1432.2" width="58.5" height="20.2" fill="#ff1100"/>
<rect x="375.2" y="1451.9" width="12.1" height="20.2" fill="#ff0000"/>
<rect x="410.0" y="1451.9" width="23.7" height="20.2" fill="#ff1100"/>
<rect x="433.3" y="1451.9" width="23.7" height="20.2" fill="#ff2200"/>
<rect x="456.5" y="1451.9" width="12.1" height="20.2" fill="#ff4400"/>
<rect x="468.1" y="1451.9" width="23.7" height="20.2" fill="#ff3300"/>
<rect x="491.3" y="1451.9" width="12.1" height="20.2" fill="#ff5500"/>
<rect x="502.9" y="1451.9" width="12.1" height="20.2" fill="#ff7700"/>
<rect x="514.5" y="1451.9" width="12.1" height="20.2" fill="#ff8800"/>
<rect x="526.1" y="1451.9" width="12.1" height="20.2" fill="#ff5500"/>
<rect x="537.8" y="1451.9" width="12.1" height="20.2" fill="#ff9900"/>
<rect x="549.4" y="1451.9" width="23.7" height="20.2" fill="#ffaa00"/>
<rect x="572.6" y="1451.9" width="35.3" height="20.2" fill="#ff9900"/>
<rect x="607.4" y="1451.9" width="12.1" height="20.2" fill="#ff7700"/>
<rect x="619.0" y="1451.9" width="23.7" height="20.2" fill="#ff6600"/>
<rect x="642.2" y="1451.9" width="12.1" height="20.2" fill="#ff3300"/>
<rect x="653.8" y="1451.9" width="23.7" height="20.2" fill="#ff2200"/>
<rect x="677.1" y="1451.9" width="23.7" height="20.2" fill="#ff1100"/>
<rect x="317.2" y="1471.5" width="12.1" height="20.2" fill="#ff0000"/>
<rect x="375.2" y="1471.5" width="12.1" height="20.2" fill="#ff0000"/>
<rect x="410.0" y="1471.5" width="23.7" height="20.2" fill="#ff1100"/>
<rect x="433.3" y="1471.5" width="12.1" height="20.2" fill="#ff2200"/>
<rect x="444.9" y="1471.5" width="12.1" height="20.2" fill="#ff3300"/>
<rect x="456.5" y="1471.5" width="12.1" height="20.2" fill="#ff6600"/>
<rect x="468.1" y="1471.5" width="12.1" height="20.2" fill="#ff4400"/>
<rect x="479.7" y="1471.5" width="12.1" height="20.2" fill="#ff5500"/>
<rect x="491.3" y="1471.5" width="23.7" height="20.2" fill="#ff8800"/>
<rect x="514.5" y="1471.5" width="12.1" height="20.2" fill="#ff9900"/>
<rect x="526.1" y="1471.5" width="12.1" height="20.2" fill="#ffee00"/>
<rect x="537.8" y="1471.5" width="12.1" height="20.2" fill="#ffaa00"/>
<rect x="549.4" y="1471.5" width="12.1" height="20.2" fill="#ffcc00"/>
<rect x="561.0" y="1471.5" width="12.1" height="20.2" fill="#ffaa00"/>
<rect x="572.6" y="1471.5" width="12.1" height="20.2" fill="#ff8800"/>
<rect x="584.2" y="1471.5" width="23.7" height="20.2" fill="#ff7700"/>
<rect x="607.4" y="1471.5" width="12.1" height="20.2" fill="#ff6600"/>
<rect x="619.0" y="1471.5" width="12.1" height="20.2" fill="#ff5500"/>
<rect x="630.6" y="1471.5" width="12.1" height="20.2" fill="#ff4400"/>
<rect x="642.2" y="1471.5" width="12.1" height="20.2" fill="#ff3300"/>
<rect x="653.8" y="1471.5" width="12.1" height="20.2" fill="#ff2200"/>
<rect x="665.5" y="1471.5" width="12.1" height="20.2" fill="#ff1100"/>
<rect x="352.0" y="1491.2" width="12.1" height="20.2" fill="#ff0000"/>
<rect x="375.2" y="1491.2" width="23.7" height="20.2" fill="#ff0000"/>
<rect x="398.4" y="1491.2" width="35.3" height="20.2" fill="#ff1100"/>
<rect x="433.3" y="1491.2" width="23.7" height="20.2" fill="#ff2200"/>
<rect x="456.5" y="1491.2" width="12.1" height="20.2" fill="#ff4400"/>
<rect x="468.1" y="1491.2" width="12.1" height="20.2" fill="#ff7700"/>
<rect x="479.7" y="1491.2" width="12.1" height="20.2" fill="#ff6600"/>
<rect x="491.3" y="1491.2" width="12.1" height="20.2" fill="#ff7700"/>
<rect x="502.9" y="1491.2" width="12.1" height="20.2" fill="#ffff00"/>
<rect x="514.5" y="1491.2" width="12.1" height="20.2" fill="#ffcc00"/>
<rect x="526.1" y="1491.2" width="12.1" height="20.2" fill="#ffdd00"/>
<rect x="537.8" y="1491.2" width="12.1" height="20.2" fill="#ffee00"/>
<rect x="549.4" y="1491.2" width="12.1" height="20.2" fill="#ffff00"/>
<rect x="561.0" y="1491.2" width="12.1" height="20.2" fill="#ffdd00"/>
<rect x="572.6" y="1491.2" width="12.1" height="20.2" fill="#ff8800"/>
<rect x="584.2" y="1491.2" width="12.1" height="20.2" fill="#ff7700"/>
<rect x="595.8" y="1491.2" width="12.1" height="20.2" fill="#ff4400"/>
<rect x="607.4" y="1491.2" width="12.1" height="20.2" fill="#ff2200"/>
<rect x="619.0" y="1491.2" width="58.5" height="20.2" fill="#ff1100"/>
<rect x="282.3" y="1510.8" width="12.1" height="20.2" fill="#ff0000"/>
<rect x="328.8" y="1510.8" width="70.2" height="20.2" fill="#ff0000"/>
<rect x="398.4" y="1510.8" width="46.9" height="20.2" fill="#ff1100"/>
<rect x="444.9" y="1510.8" width="12.1" height="20.2" fill="#ff2200"/>
<rect x="456.5" y="1510.8" width="12.1" height="20.2" fill="#ff3300"/>
<rect x="468.1" y="1510.8" width="23.7" height="20.2" fill="#ff6600"/>
<rect x="491.3" y="1510.8" width="12.1" height="20.2" fill="#ff9900"/>
<rect x="502.9" y="1510.8" width="12.1" height="20.2" fill="#ffbb00"/>
<rect x="514.5" y="1510.8" width="12.1" height="20.2" fill="#ffaa00"/>
<rect x="526.1" y="1510.8" width="23.7" height="20.2" fill="#ffbb00"/>
<rect x="549.4" y="1510.8" width="23.7" height="20.2" fill="#ffaa00"/>
<rect x="572.6" y="1510.8" width="12.1" height="20.2" fill="#ff7700"/>
<rect x="584.2" y="1510.8" width="12.1" height="20.2" fill="#ff5500"/>
<rect x="595.8" y="1510.8" width="23.7" height="20.2" fill="#ff2200"/>
<rect x="619.0" y="1510.8" width="46.9" height="20.2" fill="#ff1100"/>
<rect x="688.7" y="1510.8" width="23.7" height="20.2" fill="#ff0000"/>
<rect x="352.0" y="1530.5" width="12.1" height="20.2" fill="#ff0000"/>
<rect x="375.2" y="1530.5" width="23.7" height="20.2" fill="#ff0000"/>
<rect x="398.4" y="1530.5" width="46.9" height="20.2" fill="#ff1100"/>
<rect x="444.9" y="1530.5" width="23.7" height="20.2" fill="#ff2200"/>
<rect x="468.1" y="1530.5" width="12.1" height="20.2" fill="#ff4400"/>
<rect x="479.7" y="1530.5" width="12.1" height="20.2" fill="#ff5500"/>
<rect x="491.3" y="1530.5" width="35.3" height="20.2" fill="#ff6600"/>
<rect x="526.1" y="1530.5" width="12.1" height="20.2" fill="#ffbb00"/>
<rect x="537.8" y="1530.5" width="12.1" height="20.2" fill="#ff8800"/>
<rect x="549.4" y="1530.5" width="12.1" height="20.2" fill="#ff7700"/>
<rect x="561.0" y="1530.5" width="23.7" height="20.2" fill="#ff6600"/>
<rect x="584.2" y="1530.5" width="12.1" height="20.2" fill="#ff4400"/>
<rect x="595.8" y="1530.5" width="12.1" height="20.2" fill="#ff3300"/>
<rect x="607.4" y="1530.5" width="23.7" height="20.2" fill="#ff2200"/>
<rect x="630.6" y="1530.5" width="12.1" height="20.2" fill="#ff1100"/>
<rect x="653.8" y="1530.5" width="23.7" height="20.2" fill="#ff0000"/>
<rect x="700.3" y="1530.5" width="12.1" height="20.2" fill="#ff0000"/>
<rect x="352.0" y="1550.2" width="12.1" height="20.2" fill="#ff0000"/>
<rect x="375.2" y="1550.2" width="12.1" height="20.2" fill="#ff0000"/>
<rect x="398.4" y="1550.2" width="46.9" height="20.2" fill="#ff1100"/>
<rect x="444.9" y="1550.2" width="23.7" height="20.2" fill="#ff2200"/>
<rect x="468.1" y="1550.2" width="12.1" height="20.2" fill="#ff3300"/>
<rect x="479.7" y="1550.2" width="12.1" height="20.2" fill="#ff2200"/>
<rect x="491.3" y="1550.2" width="12.1" height="20.2" fill="#ff3300"/>
<rect x="502.9" y="1550.2" width="12.1" height="20.2" fill="#ff4400"/>
<rect x="514.5" y="1550.2" width="35.3" height="20.2" fill="#ff5500"/>
<rect x="549.4" y="1550.2" width="12.1" height="20.2" fill="#ff2200"/>
<rect x="561.0" y="1550.2" width="12.1" height="20.2" fill="#ff4400"/>
<rect x="572.6" y="1550.2" width="23.7" height="20.2" fill="#ff3300"/>
<rect x="595.8" y="1550.2" width="12.1" height="20.2" fill="#ff2200"/>
<rect x="607.4" y="1550.2" width="58.5" height="20.2" fill="#ff1100"/>
<rect x="677.1" y="1550.2" width="12.1" height="20.2" fill="#ff0000"/>
<rect x="375.2" y="1569.8" width="23.7" height="20.2" fill="#ff0000"/>
<rect x="398.4" y="1569.8" width="58.5" height="20.2" fill="#ff1100"/>
<rect x="456.5" y="1569.8" width="70.2" height="20.2" fill="#ff2200"/>
<rect x="526.1" y="1569.8" width="35.3" height="20.2" fill="#ff3300"/>
<rect x="561.0" y="1569.8" width="23.7" height="20.2" fill="#ff2200"/>
<rect x="584.2" y="1569.8" width="58.5" height="20.2" fill="#ff1100"/>
<rect x="677.1" y="1569.8" width="12.1" height="20.2" fill="#ff0000"/>
<rect x="375.2" y="1589.5" width="35.3" height="20.2" fill="#ff0000"/>
<rect x="410.0" y="1589.5" width="58.5" height="20.2" fill="#ff1100"/>
<rect x="468.1" y="1589.5" width="12.1" height="20.2" fill="#ff2200"/>
<rect x="479.7" y="1589.5" width="12.1" height="20.2" fill="#ff1100"/>
<rect x="491.3" y="1589.5" width="12.1" height="20.2" fill="#ff2200"/>
<rect x="502.9" y="1589.5" width="12.1" height="20.2" fill="#ff3300"/>
<rect x="514.5" y="1589.5" width="12.1" height="20.2" fill="#ff1100"/>
<rect x="526.1" y="1589.5" width="12.1" height="20.2" fill="#ff3300"/>
<rect x="537.8" y="1589.5" width="35.3" height="20.2" fill="#ff2200"/>
<rect x="572.6" y="1589.5" width="70.2" height="20.2" fill="#ff1100"/>
<rect x="677.1" y="1589.5" width="23.7" height="20.2" fill="#ff0000"/>
<rect x="711.9" y="1589.5" width="12.1" height="20.2" fill="#ff0000"/>
<rect x="352.0" y="1609.1" width="12.1" height="20.2" fill="#ff0000"/>
<rect x="375.2" y="1609.1" width="23.7" height="20.2" fill="#ff0000"/>
<rect x="410.0" y="1609.1" width="12.1" height="20.2" fill="#ff0000"/>
<rect x="421.6" y="1609.1" width="209.5" height="20.2" fill="#ff1100"/>
<rect x="282.3" y="1628.8" width="12.1" height="20.2" fill="#ff0000"/>
<rect x="375.2" y="1628.8" width="12.1" height="20.2" fill="#ff0000"/>
<rect x="410.0" y="1628.8" width="12.1" height="20.2" fill="#ff0000"/>
<rect x="433.3" y="1628.8" width="23.7" height="20.2" fill="#ff0000"/>
<rect x="468.1" y="1628.8" width="139.8" height="20.2" fill="#ff0000"/>
<rect x="653.8" y="1628.8" width="12.1" height="20.2" fill="#ff0000"/>
<rect x="410.0" y="1648.5" width="232.7" height="20.2" fill="#ff0000"/>
<rect x="363.6" y="1668.1" width="12.1" height="20.2" fill="#ff0000"/>
<rect x="386.8" y="1668.1" width="12.1" height="20.2" fill="#ff0000"/>
<rect x="410.0" y="1668.1" width="23.7" height="20.2" fill="#ff0000"/>
<rect x="444.9" y="1668.1" width="151.4" height="20.2" fill="#ff0000"/>
<rect x="619.0" y="1668.1" width="12.1" height="20.2" fill="#ff0000"/>
<rect x="642.2" y="1668.1" width="12.1" height="20.2" fill="#ff0000"/>
<rect x="665.5" y="1668.1" width="12.1" height="20.2" fill="#ff0000"/>
<rect x="398.4" y="1687.8" width="12.1" height="20.2" fill="#ff0000"/>
<rect x="421.6" y="1687.8" width="12.1" height="20.2" fill="#ff0000"/>
<rect x="444.9" y="1687.8" width="128.2" height="20.2" fill="#ff0000"/>
<rect x="584.2" y="1687.8" width="58.5" height="20.2" fill="#ff0000"/>
<rect x="677.1" y="1687.8" width="12.1" height="20.2" fill="#ff0000"/>
<rect x="700.3" y="1687.8" width="23.7" height="20.2" fill="#ff0000"/>
<rect x="328.8" y="1707.4" width="23.7" height="20.2" fill="#ff0000"/>
<rect x="421.6" y="1707.4" width="116.6" height="20.2" fill="#ff0000"/>
<rect x="549.4" y="1707.4" width="70.2" height="20.2" fill="#ff0000"/>
<rect x="642.2" y="1707.4" width="12.1" height="20.2" fill="#ff0000"/>
<rect x="340.4" y="1727.1" width="12.1" height="20.2" fill="#ff0000"/>
<rect x="410.0" y="1727.1" width="23.7" height="20.2" fill="#ff0000"/>
<rect x="444.9" y="1727.1" width="93.4" height="20.2" fill="#ff0000"/>
<rect x="549.4" y="1727.1" width="35.3" height="20.2" fill="#ff0000"/>
<rect x="619.0" y="1727.1" width="12.1" height="20.2" fill="#ff0000"/>
<rect x="677.1" y="1727.1" width="12.1" height="20.2" fill="#ff0000"/>
<rect x="410.0" y="1746.8" width="93.4" height="20.2" fill="#ff0000"/>
<rect x="514.5" y="1746.8" width="23.7" height="20.2" fill="#ff0000"/>
<rect x="549.4" y="1746.8" width="35.3" height="20.2" fill="#ff0000"/>
<rect x="677.1" y="1746.8" width="23.7" height="20.2" fill="#ff0000"/>
<rect x="340.4" y="1766.4" width="12.1" height="20.2" fill="#ff0000"/>
<rect x="398.4" y="1766.4" width="70.2" height="20.2" fill="#ff0000"/>
<rect x="479.7" y="1766.4" width="46.9" height="20.2" fill="#ff0000"/>
<rect x="537.8" y="1766.4" width="58.5" height="20.2" fill="#ff0000"/>
<rect x="398.4" y="1786.1" width="12.1" height="20.2" fill="#ff0000"/>
<rect x="444.9" y="1786.1" width="12.1" height="20.2" fill="#ff0000"/>
<rect x="479.7" y="1786.1" width="12.1" height="20.2" fill="#ff0000"/>
<rect x="502.9" y="1786.1" width="23.7" height="20.2" fill="#ff0000"/>
<rect x="549.4" y="1786.1" width="12.1" height="20.2" fill="#ff0000"/>
<rect x="572.6" y="1786.1" width="23.7" height="20.2" fill="#ff0000"/>
<rect x="619.0" y="1786.1" width="12.1" height="20.2" fill="#ff0000"/>
<rect x="270.7" y="1805.7" width="12.1" height="20.2" fill="#ff0000"/>
<rect x="398.4" y="1805.7" width="23.7" height="20.2" fill="#ff0000"/>
<rect x="456.5" y="1805.7" width="81.8" height="20.2" fill="#ff0000"/>
<rect x="549.4" y="1805.7" width="35.3" height="20.2" fill="#ff0000"/>
<rect x="595.8" y="1805.7" width="23.7" height="20.2" fill="#ff0000"/>
<rect x="398.4" y="1825.4" width="46.9" height="20.2" fill="#ff0000"/>
<rect x="456.5" y="1825.4" width="23.7" height="20.2" fill="#ff0000"/>
<rect x="502.9" y="1825.4" width="58.5" height="20.2" fill="#ff0000"/>
<rect x="584.2" y="1825.4" width="23.7" height="20.2" fill="#ff0000"/>
<rect x="421.6" y="1845.1" width="12.1" height="20.2" fill="#ff0000"/>
<rect x="456.5" y="1845.1" width="23.7" height="20.2" fill="#ff0000"/>
<rect x="526.1" y="1845.1" width="35.3" height="20.2" fill="#ff0000"/>
<rect x="584.2" y="1845.1" width="12.1" height="20.2" fill="#ff0000"/>
<rect x="456.5" y="1864.7" width="35.3" height="20.2" fill="#ff0000"/>
<rect x="526.1" y="1864.7" width="58.5" height="20.2" fill="#ff0000"/>
<rect x="607.4" y="1864.7" width="12.1" height="20.2" fill="#ff0000"/>
<rect x="444.9" y="1884.4" width="70.2" height="20.2" fill="#ff0000"/>
<rect x="537.8" y="1884.4" width="35.3" height="20.2" fill="#ff0000"/>
<rect x="410.0" y="1904.0" width="12.1" height="20.2" fill="#ff0000"/>
<rect x="433.3" y="1904.0" width="12.1" height="20.2" fill="#ff0000"/>
<rect x="456.5" y="1904.0" width="12.1" height="20.2" fill="#ff0000"/>
<rect x="479.7" y="1904.0" width="12.1" height="20.2" fill="#ff0000"/>
<rect x="502.9" y="1904.0" width="12.1" height="20.2" fill="#ff0000"/>
<rect x="526.1" y="1904.0" width="12.1" height="20.2" fill="#ff0000"/>
<rect x="595.8" y="1904.0" width="12.1" height="20.2" fill="#ff0000"/>
<rect x="468.1" y="1923.7" width="12.1" height="20.2" fill="#ff0000"/>
<rect x="502.9" y="1923.7" width="12.1" height="20.2" fill="#ff0000"/>
<rect x="526.1" y="1923.7" width="35.3" height="20.2" fill="#ff0000"/>
<rect x="642.2" y="1923.7" width="12.1" height="20.2" fill="#ff0000"/>
<rect x="305.6" y="1943.4" width="12.1" height="20.2" fill="#ff0000"/>
<rect x="421.6" y="1943.4" width="12.1" height="20.2" fill="#ff0000"/>
<rect x="456.5" y="1943.4" width="70.2" height="20.2" fill="#ff0000"/>
<rect x="537.8" y="1943.4" width="12.1" height="20.2" fill="#ff0000"/>
<rect x="561.0" y="1943.4" width="12.1" height="20.2" fill="#ff0000"/>
<rect x="595.8" y="1943.4" width="12.1" height="20.2" fill="#ff0000"/>
<rect x="630.6" y="1943.4" width="12.1" height="20.2" fill="#ff0000"/>
<rect x="433.3" y="1963.0" width="12.1" height="20.2" fill="#ff0000"/>
<rect x="468.1" y="1963.0" width="23.7" height="20.2" fill="#ff0000"/>
<rect x="514.5" y="1963.0" width="46.9" height="20.2" fill="#ff0000"/>
<rect x="456.5" y="1982.7" width="46.9" height="20.2" fill="#ff0000"/>
<rect x="549.4" y="1982.7" width="12.1" height="20.2" fill="#ff0000"/>
<rect x="572.6" y="1982.7" width="12.1" height="20.2" fill="#ff0000"/>
<rect x="630.6" y="1982.7" width="12.1" height="20.2" fill="#ff0000"/>
<rect x="665.5" y="1982.7" width="12.1" height="20.2" fill="#ff0000"/>
<rect x="444.9" y="2002.3" width="12.1" height="20.2" fill="#ff0000"/>
<rect x="549.4" y="2002.3" width="12.1" height="20.2" fill="#ff0000"/>
<rect x="572.6" y="2002.3" width="12.1" height="20.2" fill="#ff0000"/>
<rect x="607.4" y="2002.3" width="12.1" height="20.2" fill="#ff0000"/>
<rect x="468.1" y="2022.0" width="23.7" height="20.2" fill="#ff0000"/>
<rect x="595.8" y="2022.0" width="12.1" height="20.2" fill="#ff0000"/>
<rect x="700.3" y="2022.0" width="12.1" height="20.2" fill="#ff0000"/>
<rect x="468.1" y="2041.7" width="23.7" height="20.2" fill="#ff0000"/>
<rect x="561.0" y="2041.7" width="12.1" height="20.2" fill="#ff0000"/>
<rect x="619.0" y="2041.7" width="12.1" height="20.2" fill="#ff0000"/>
<rect x="642.2" y="2041.7" width="12.1" height="20.2" fill="#ff0000"/>
<rect x="468.1" y="2061.3" width="12.1" height="20.2" fill="#ff0000"/>
<rect x="526.1" y="2061.3" width="12.1" height="20.2" fill="#ff0000"/>
<rect x="561.0" y="2061.3" width="23.7" height="20.2" fill="#ff0000"/>
<rect x="619.0" y="2061.3" width="12.1" height="20.2" fill="#ff0000"/>
<rect x="410.0" y="2081.0" width="12.1" height="20.2" fill="#ff0000"/>
<rect x="502.9" y="2081.0" width="12.1" height="20.2" fill="#ff0000"/>
<rect x="526.1" y="2081.0" width="12.1" height="20.2" fill="#ff0000"/>
<rect x="561.0" y="2081.0" width="23.7" height="20.2" fill="#ff0000"/>
<rect x="642.2" y="2081.0" width="12.1" height="20.2" fill="#ff0000"/>
<rect x="479.7" y="2100.6" width="35.3" height="20.2" fill="#ff0000"/>
<rect x="526.1" y="2100.6" width="23.7" height="20.2" fill="#ff0000"/>
<rect x="468.1" y="2120.3" width="12.1" height="20.2" fill="#ff0000"/>
<rect x="491.3" y="2120.3" width="23.7" height="20.2" fill="#ff0000"/>
<rect x="537.8" y="2120.3" width="12.1" height="20.2" fill="#ff0000"/>
<rect x="561.0" y="2120.3" width="12.1" height="20.2" fill="#ff0000"/>
<rect x="607.4" y="2120.3" width="12.1" height="20.2" fill="#ff0000"/>
<rect x="479.7" y="2140.0" width="12.1" height="20.2" fill="#ff0000"/>
<rect x="526.1" y="2140.0" width="12.1" height="20.2" fill="#ff0000"/>
<rect x="572.6" y="2140.0" width="12.1" height="20.2" fill="#ff0000"/>
<rect x="514.5" y="2159.6" width="23.7" height="20.2" fill="#ff0000"/>
<rect x="607.4" y="2159.6" width="12.1" height="20.2" fill="#ff0000"/>
<rect x="642.2" y="2159.6" width="12.1" height="20.2" fill="#ff0000"/>
<rect x="282.3" y="2179.3" width="12.1" height="20.2" fill="#ff0000"/>
<rect x="352.0" y="2179.3" width="12.1" height="20.2" fill="#ff0000"/>
<rect x="398.4" y="2179.3" width="12.1" height="20.2" fill="#ff0000"/>
<rect x="433.3" y="2179.3" width="12.1" height="20.2" fill="#ff0000"/>
<rect x="502.9" y="2179.3" width="12.1" height="20.2" fill="#ff0000"/>
<rect x="526.1" y="2179.3" width="12.1" height="20.2" fill="#ff0000"/>
<rect x="572.6" y="2179.3" width="23.7" height="20.2" fill="#ff0000"/>
<rect x="502.9" y="2198.9" width="23.7" height="20.2" fill="#ff0000"/>
<rect x="537.8" y="2198.9" width="12.1" height="20.2" fill="#ff0000"/>
</g>
<line x1="253.3" y1="1432.3" x2="253.3" y2="2216.6" stroke="#000" stroke-opacity="0.05" stroke-width="2.2"/>
<line x1="253.3" y1="1432.3" x2="253.3" y2="1438.3" stroke="#333" stroke-width="2.5"/>
<line x1="253.3" y1="2210.6" x2="253.3" y2="2216.6" stroke="#333" stroke-width="2.5"/>
<line x1="369.4" y1="1432.3" x2="369.4" y2="2216.6" stroke="#000" stroke-opacity="0.05" stroke-width="2.2"/>
<line x1="369.4" y1="1432.3" x2="369.4" y2="1438.3" stroke="#333" stroke-width="2.5"/>
<line x1="369.4" y1="2210.6" x2="369.4" y2="2216.6" stroke="#333" stroke-width="2.5"/>
<line x1="485.5" y1="1432.3" x2="485.5" y2="2216.6" stroke="#000" stroke-opacity="0.05" stroke-width="2.2"/>
<line x1="485.5" y1="1432.3" x2="485.5" y2="1438.3" stroke="#333" stroke-width="2.5"/>
<line x1="485.5" y1="2210.6" x2="485.5" y2="2216.6" stroke="#333" stroke-width="2.5"/>
<line x1="601.6" y1="1432.3" x2="601.6" y2="2216.6" stroke="#000" stroke-opacity="0.05" stroke-width="2.2"/>
<line x1="601.6" y1="1432.3" x2="601.6" y2="1438.3" stroke="#333" stroke-width="2.5"/>
<line x1="601.6" y1="2210.6" x2="601.6" y2="2216.6" stroke="#333" stroke-width="2.5"/>
<line x1="717.7" y1="1432.3" x2="717.7" y2="2216.6" stroke="#000" stroke-opacity="0.05" stroke-width="2.2"/>
<line x1="717.7" y1="1432.3" x2="717.7" y2="1438.3" stroke="#333" stroke-width="2.5"/>
<line x1="717.7" y1="2210.6" x2="717.7" y2="2216.6" stroke="#333" stroke-width="2.5"/>
<line x1="249" y1="1619.0" x2="724.5" y2="1619.0" stroke="#000" stroke-opacity="0.05" stroke-width="2.2"/>
<line x1="249" y1="1619.0" x2="255" y2="1619.0" stroke="#333" stroke-width="2.5"/>
<line x1="718.5" y1="1619.0" x2="724.5" y2="1619.0" stroke="#333" stroke-width="2.5"/>
<line x1="249" y1="1815.6" x2="724.5" y2="1815.6" stroke="#000" stroke-opacity="0.05" stroke-width="2.2"/>
<line x1="249" y1="1815.6" x2="255" y2="1815.6" stroke="#333" stroke-width="2.5"/>
<line x1="718.5" y1="1815.6" x2="724.5" y2="1815.6" stroke="#333" stroke-width="2.5"/>
<line x1="249" y1="2012.2" x2="724.5" y2="2012.2" stroke="#000" stroke-opacity="0.05" stroke-width="2.2"/>
<line x1="249" y1="2012.2" x2="255" y2="2012.2" stroke="#333" stroke-width="2.5"/>
<line x1="718.5" y1="2012.2" x2="724.5" y2="2012.2" stroke="#333" stroke-width="2.5"/>
<line x1="249" y1="2208.8" x2="724.5" y2="2208.8" stroke="#000" stroke-opacity="0.05" stroke-width="2.2"/>
<line x1="249" y1="2208.8" x2="255" y2="2208.8" stroke="#333" stroke-width="2.5"/>
<line x1="718.5" y1="2208.8" x2="724.5" y2="2208.8" stroke="#333" stroke-width="2.5"/>
</g>
<rect x="249" y="1432.3" width="475.5" height="784.3" fill="none" stroke="#111" stroke-width="4.5"/>
<text transform="translate(233.0,1635.0) scale(0.97,1)" font-size="45" text-anchor="end" fill="#333">50</text>
<text transform="translate(233.0,1831.6) scale(0.97,1)" font-size="45" text-anchor="end" fill="#333">100</text>
<text transform="translate(233.0,2028.2) scale(0.97,1)" font-size="45" text-anchor="end" fill="#333">150</text>
<text transform="translate(233.0,2224.8) scale(0.97,1)" font-size="45" text-anchor="end" fill="#333">200</text>
<text transform="translate(250.8,2280.3) scale(0.97,1)" font-size="45" text-anchor="middle" fill="#333">560</text>
<text transform="translate(367.0,2280.3) scale(0.97,1)" font-size="45" text-anchor="middle" fill="#333">580</text>
<text transform="translate(481.5,2280.3) scale(0.97,1)" font-size="45" text-anchor="middle" fill="#333">600</text>
<text transform="translate(597.6,2280.3) scale(0.97,1)" font-size="45" text-anchor="middle" fill="#333">620</text>
<text transform="translate(713.7,2280.3) scale(0.97,1)" font-size="45" text-anchor="middle" fill="#333">640</text>
<text transform="translate(483.9,2346.8)" font-size="48" text-anchor="middle" fill="#333">wavelength (nm)</text>
<clipPath id="hc1"><rect x="823.2" y="1428.6" width="473.5" height="789.4000000000001"/></clipPath>
<g clip-path="url(#hc1)">
<g shape-rendering="crispEdges">
<rect x="871.8" y="1430.4" width="23.6" height="21.7" fill="#008066"/>
<rect x="894.9" y="1430.4" width="35.1" height="21.7" fill="#118866"/>
<rect x="929.5" y="1430.4" width="35.1" height="21.7" fill="#229166"/>
<rect x="964.1" y="1430.4" width="12.0" height="21.7" fill="#55aa66"/>
<rect x="975.7" y="1430.4" width="12.0" height="21.7" fill="#229166"/>
<rect x="987.2" y="1430.4" width="12.0" height="21.7" fill="#55aa66"/>
<rect x="998.7" y="1430.4" width="35.1" height="21.7" fill="#66b366"/>
<rect x="1033.3" y="1430.4" width="12.0" height="21.7" fill="#77bb66"/>
<rect x="1044.9" y="1430.4" width="35.1" height="21.7" fill="#44a266"/>
<rect x="1079.5" y="1430.4" width="12.0" height="21.7" fill="#339966"/>
<rect x="1091.0" y="1430.4" width="12.0" height="21.7" fill="#44a266"/>
<rect x="1102.5" y="1430.4" width="23.6" height="21.7" fill="#339966"/>
<rect x="1125.6" y="1430.4" width="12.0" height="21.7" fill="#229166"/>
<rect x="1137.1" y="1430.4" width="23.6" height="21.7" fill="#118866"/>
<rect x="1160.2" y="1430.4" width="23.6" height="21.7" fill="#008066"/>
<rect x="837.2" y="1451.6" width="12.0" height="21.7" fill="#008066"/>
<rect x="871.8" y="1451.6" width="12.0" height="21.7" fill="#008066"/>
<rect x="906.4" y="1451.6" width="46.6" height="21.7" fill="#008066"/>
<rect x="952.6" y="1451.6" width="23.6" height="21.7" fill="#118866"/>
<rect x="975.7" y="1451.6" width="12.0" height="21.7" fill="#229166"/>
<rect x="987.2" y="1451.6" width="12.0" height="21.7" fill="#339966"/>
<rect x="998.7" y="1451.6" width="12.0" height="21.7" fill="#55aa66"/>
<rect x="1010.3" y="1451.6" width="12.0" height="21.7" fill="#88c466"/>
<rect x="1021.8" y="1451.6" width="12.0" height="21.7" fill="#cce666"/>
<rect x="1033.3" y="1451.6" width="12.0" height="21.7" fill="#99cc66"/>
<rect x="1044.9" y="1451.6" width="12.0" height="21.7" fill="#cce666"/>
<rect x="1056.4" y="1451.6" width="12.0" height="21.7" fill="#99cc66"/>
<rect x="1067.9" y="1451.6" width="23.6" height="21.7" fill="#88c466"/>
<rect x="1091.0" y="1451.6" width="12.0" height="21.7" fill="#77bb66"/>
<rect x="1102.5" y="1451.6" width="12.0" height="21.7" fill="#44a266"/>
<rect x="1114.1" y="1451.6" width="23.6" height="21.7" fill="#339966"/>
<rect x="1137.1" y="1451.6" width="35.1" height="21.7" fill="#118866"/>
<rect x="883.4" y="1472.9" width="35.1" height="21.7" fill="#008066"/>
<rect x="918.0" y="1472.9" width="12.0" height="21.7" fill="#118866"/>
<rect x="929.5" y="1472.9" width="12.0" height="21.7" fill="#008066"/>
<rect x="941.1" y="1472.9" width="35.1" height="21.7" fill="#118866"/>
<rect x="975.7" y="1472.9" width="12.0" height="21.7" fill="#229166"/>
<rect x="987.2" y="1472.9" width="12.0" height="21.7" fill="#55aa66"/>
<rect x="998.7" y="1472.9" width="12.0" height="21.7" fill="#66b366"/>
<rect x="1010.3" y="1472.9" width="35.1" height="21.7" fill="#99cc66"/>
<rect x="1044.9" y="1472.9" width="12.0" height="21.7" fill="#ffff66"/>
<rect x="1056.4" y="1472.9" width="12.0" height="21.7" fill="#aad566"/>
<rect x="1067.9" y="1472.9" width="12.0" height="21.7" fill="#ddee66"/>
<rect x="1079.5" y="1472.9" width="12.0" height="21.7" fill="#88c466"/>
<rect x="1091.0" y="1472.9" width="12.0" height="21.7" fill="#77bb66"/>
<rect x="1102.5" y="1472.9" width="12.0" height="21.7" fill="#44a266"/>
<rect x="1114.1" y="1472.9" width="12.0" height="21.7" fill="#339966"/>
<rect x="1125.6" y="1472.9" width="23.6" height="21.7" fill="#229166"/>
<rect x="1171.8" y="1472.9" width="23.6" height="21.7" fill="#008066"/>
<rect x="883.4" y="1494.1" width="35.1" height="21.7" fill="#008066"/>
<rect x="918.0" y="1494.1" width="46.6" height="21.7" fill="#118866"/>
<rect x="964.1" y="1494.1" width="23.6" height="21.7" fill="#229166"/>
<rect x="987.2" y="1494.1" width="12.0" height="21.7" fill="#339966"/>
<rect x="998.7" y="1494.1" width="35.1" height="21.7" fill="#66b366"/>
<rect x="1033.3" y="1494.1" width="23.6" height="21.7" fill="#bbdd66"/>
<rect x="1056.4" y="1494.1" width="12.0" height="21.7" fill="#99cc66"/>
<rect x="1067.9" y="1494.1" width="12.0" height="21.7" fill="#77bb66"/>
<rect x="1079.5" y="1494.1" width="12.0" height="21.7" fill="#66b366"/>
<rect x="1091.0" y="1494.1" width="12.0" height="21.7" fill="#55aa66"/>
<rect x="1102.5" y="1494.1" width="12.0" height="21.7" fill="#44a266"/>
<rect x="1114.1" y="1494.1" width="12.0" height="21.7" fill="#229166"/>
<rect x="1125.6" y="1494.1" width="23.6" height="21.7" fill="#118866"/>
<rect x="1148.7" y="1494.1" width="35.1" height="21.7" fill="#008066"/>
<rect x="1194.8" y="1494.1" width="12.0" height="21.7" fill="#008066"/>
<rect x="860.3" y="1515.3" width="12.0" height="21.7" fill="#008066"/>
<rect x="883.4" y="1515.3" width="46.6" height="21.7" fill="#008066"/>
<rect x="929.5" y="1515.3" width="12.0" height="21.7" fill="#118866"/>
<rect x="941.1" y="1515.3" width="12.0" height="21.7" fill="#008066"/>
<rect x="952.6" y="1515.3" width="12.0" height="21.7" fill="#118866"/>
<rect x="964.1" y="1515.3" width="12.0" height="21.7" fill="#229166"/>
<rect x="975.7" y="1515.3" width="12.0" height="21.7" fill="#339966"/>
<rect x="987.2" y="1515.3" width="12.0" height="21.7" fill="#229166"/>
<rect x="998.7" y="1515.3" width="12.0" height="21.7" fill="#339966"/>
<rect x="1010.3" y="1515.3" width="12.0" height="21.7" fill="#44a266"/>
<rect x="1021.8" y="1515.3" width="23.6" height="21.7" fill="#66b366"/>
<rect x="1044.9" y="1515.3" width="12.0" height="21.7" fill="#55aa66"/>
<rect x="1056.4" y="1515.3" width="12.0" height="21.7" fill="#44a266"/>
<rect x="1067.9" y="1515.3" width="35.1" height="21.7" fill="#339966"/>
<rect x="1102.5" y="1515.3" width="12.0" height="21.7" fill="#229166"/>
<rect x="1114.1" y="1515.3" width="12.0" height="21.7" fill="#339966"/>
<rect x="1125.6" y="1515.3" width="12.0" height="21.7" fill="#118866"/>
<rect x="1137.1" y="1515.3" width="46.6" height="21.7" fill="#008066"/>
<rect x="883.4" y="1536.6" width="23.6" height="21.7" fill="#008066"/>
<rect x="906.4" y="1536.6" width="12.0" height="21.7" fill="#118866"/>
<rect x="918.0" y="1536.6" width="12.0" height="21.7" fill="#008066"/>
<rect x="929.5" y="1536.6" width="12.0" height="21.7" fill="#229166"/>
<rect x="941.1" y="1536.6" width="12.0" height="21.7" fill="#008066"/>
<rect x="952.6" y="1536.6" width="12.0" height="21.7" fill="#118866"/>
<rect x="964.1" y="1536.6" width="12.0" height="21.7" fill="#229166"/>
<rect x="975.7" y="1536.6" width="23.6" height="21.7" fill="#339966"/>
<rect x="998.7" y="1536.6" width="12.0" height="21.7" fill="#229166"/>
<rect x="1010.3" y="1536.6" width="12.0" height="21.7" fill="#55aa66"/>
<rect x="1021.8" y="1536.6" width="12.0" height="21.7" fill="#339966"/>
<rect x="1033.3" y="1536.6" width="12.0" height="21.7" fill="#44a266"/>
<rect x="1044.9" y="1536.6" width="46.6" height="21.7" fill="#339966"/>
<rect x="1091.0" y="1536.6" width="23.6" height="21.7" fill="#229166"/>
<rect x="1114.1" y="1536.6" width="23.6" height="21.7" fill="#118866"/>
<rect x="1137.1" y="1536.6" width="46.6" height="21.7" fill="#008066"/>
<rect x="1241.0" y="1536.6" width="12.0" height="21.7" fill="#008066"/>
<rect x="883.4" y="1557.8" width="35.1" height="21.7" fill="#008066"/>
<rect x="918.0" y="1557.8" width="12.0" height="21.7" fill="#229166"/>
<rect x="929.5" y="1557.8" width="12.0" height="21.7" fill="#118866"/>
<rect x="941.1" y="1557.8" width="12.0" height="21.7" fill="#008066"/>
<rect x="952.6" y="1557.8" width="35.1" height="21.7" fill="#118866"/>
<rect x="987.2" y="1557.8" width="12.0" height="21.7" fill="#229166"/>
<rect x="998.7" y="1557.8" width="23.6" height="21.7" fill="#339966"/>
<rect x="1021.8" y="1557.8" width="12.0" height="21.7" fill="#229166"/>
<rect x="1033.3" y="1557.8" width="23.6" height="21.7" fill="#118866"/>
<rect x="1056.4" y="1557.8" width="12.0" height="21.7" fill="#008066"/>
<rect x="1067.9" y="1557.8" width="58.2" height="21.7" fill="#118866"/>
<rect x="1125.6" y="1557.8" width="23.6" height="21.7" fill="#008066"/>
<rect x="883.4" y="1579.0" width="35.1" height="21.7" fill="#008066"/>
<rect x="918.0" y="1579.0" width="58.2" height="21.7" fill="#118866"/>
<rect x="975.7" y="1579.0" width="12.0" height="21.7" fill="#339966"/>
<rect x="987.2" y="1579.0" width="46.6" height="21.7" fill="#118866"/>
<rect x="1033.3" y="1579.0" width="12.0" height="21.7" fill="#008066"/>
<rect x="1044.9" y="1579.0" width="69.7" height="21.7" fill="#118866"/>
<rect x="1114.1" y="1579.0" width="23.6" height="21.7" fill="#008066"/>
<rect x="1148.7" y="1579.0" width="23.6" height="21.7" fill="#008066"/>
<rect x="1183.3" y="1579.0" width="12.0" height="21.7" fill="#008066"/>
<rect x="1217.9" y="1579.0" width="12.0" height="21.7" fill="#008066"/>
<rect x="894.9" y="1600.3" width="58.2" height="21.7" fill="#118866"/>
<rect x="952.6" y="1600.3" width="23.6" height="21.7" fill="#229166"/>
<rect x="975.7" y="1600.3" width="92.8" height="21.7" fill="#118866"/>
<rect x="1067.9" y="1600.3" width="46.6" height="21.7" fill="#008066"/>
<rect x="1125.6" y="1600.3" width="23.6" height="21.7" fill="#008066"/>
<rect x="871.8" y="1621.5" width="12.0" height="21.7" fill="#008066"/>
<rect x="894.9" y="1621.5" width="162.0" height="21.7" fill="#008066"/>
<rect x="1067.9" y="1621.5" width="23.6" height="21.7" fill="#008066"/>
<rect x="1114.1" y="1621.5" width="23.6" height="21.7" fill="#008066"/>
<rect x="1183.3" y="1621.5" width="12.0" height="21.7" fill="#008066"/>
<rect x="871.8" y="1642.8" width="219.7" height="21.7" fill="#008066"/>
<rect x="1102.5" y="1642.8" width="12.0" height="21.7" fill="#008066"/>
<rect x="1125.6" y="1642.8" width="12.0" height="21.7" fill="#008066"/>
<rect x="906.4" y="1664.0" width="173.5" height="21.7" fill="#008066"/>
<rect x="1102.5" y="1664.0" width="35.1" height="21.7" fill="#008066"/>
<rect x="883.4" y="1685.2" width="12.0" height="21.7" fill="#008066"/>
<rect x="918.0" y="1685.2" width="162.0" height="21.7" fill="#008066"/>
<rect x="1137.1" y="1685.2" width="12.0" height="21.7" fill="#008066"/>
<rect x="1194.8" y="1685.2" width="12.0" height="21.7" fill="#008066"/>
<rect x="894.9" y="1706.5" width="23.6" height="21.7" fill="#008066"/>
<rect x="929.5" y="1706.5" width="127.4" height="21.7" fill="#008066"/>
<rect x="1091.0" y="1706.5" width="12.0" height="21.7" fill="#008066"/>
<rect x="1137.1" y="1706.5" width="12.0" height="21.7" fill="#008066"/>
<rect x="894.9" y="1727.7" width="12.0" height="21.7" fill="#008066"/>
<rect x="918.0" y="1727.7" width="138.9" height="21.7" fill="#008066"/>
<rect x="1067.9" y="1727.7" width="23.6" height="21.7" fill="#008066"/>
<rect x="1102.5" y="1727.7" width="23.6" height="21.7" fill="#008066"/>
<rect x="894.9" y="1748.9" width="162.0" height="21.7" fill="#008066"/>
<rect x="894.9" y="1770.2" width="115.8" height="21.7" fill="#008066"/>
<rect x="1033.3" y="1770.2" width="12.0" height="21.7" fill="#008066"/>
<rect x="1056.4" y="1770.2" width="12.0" height="21.7" fill="#008066"/>
<rect x="1079.5" y="1770.2" width="12.0" height="21.7" fill="#008066"/>
<rect x="1102.5" y="1770.2" width="12.0" height="21.7" fill="#008066"/>
<rect x="894.9" y="1791.4" width="12.0" height="21.7" fill="#008066"/>
<rect x="918.0" y="1791.4" width="58.2" height="21.7" fill="#008066"/>
<rect x="987.2" y="1791.4" width="35.1" height="21.7" fill="#008066"/>
<rect x="1033.3" y="1791.4" width="23.6" height="21.7" fill="#008066"/>
<rect x="1079.5" y="1791.4" width="12.0" height="21.7" fill="#008066"/>
<rect x="883.4" y="1812.6" width="12.0" height="21.7" fill="#008066"/>
<rect x="906.4" y="1812.6" width="12.0" height="21.7" fill="#008066"/>
<rect x="929.5" y="1812.6" width="69.7" height="21.7" fill="#008066"/>
<rect x="1010.3" y="1812.6" width="12.0" height="21.7" fill="#008066"/>
<rect x="1079.5" y="1812.6" width="12.0" height="21.7" fill="#008066"/>
<rect x="883.4" y="1833.9" width="12.0" height="21.7" fill="#008066"/>
<rect x="906.4" y="1833.9" width="81.2" height="21.7" fill="#008066"/>
<rect x="998.7" y="1833.9" width="23.6" height="21.7" fill="#008066"/>
<rect x="1033.3" y="1833.9" width="12.0" height="21.7" fill="#008066"/>
<rect x="1056.4" y="1833.9" width="23.6" height="21.7" fill="#008066"/>
<rect x="906.4" y="1855.1" width="23.6" height="21.7" fill="#008066"/>
<rect x="941.1" y="1855.1" width="69.7" height="21.7" fill="#008066"/>
<rect x="1044.9" y="1855.1" width="12.0" height="21.7" fill="#008066"/>
<rect x="1067.9" y="1855.1" width="46.6" height="21.7" fill="#008066"/>
<rect x="848.8" y="1876.3" width="12.0" height="21.7" fill="#008066"/>
<rect x="929.5" y="1876.3" width="23.6" height="21.7" fill="#008066"/>
<rect x="964.1" y="1876.3" width="35.1" height="21.7" fill="#008066"/>
<rect x="1010.3" y="1876.3" width="23.6" height="21.7" fill="#008066"/>
<rect x="1044.9" y="1876.3" width="12.0" height="21.7" fill="#008066"/>
<rect x="1102.5" y="1876.3" width="12.0" height="21.7" fill="#008066"/>
<rect x="918.0" y="1897.6" width="12.0" height="21.7" fill="#008066"/>
<rect x="941.1" y="1897.6" width="81.2" height="21.7" fill="#008066"/>
<rect x="1044.9" y="1897.6" width="23.6" height="21.7" fill="#008066"/>
<rect x="941.1" y="1918.8" width="46.6" height="21.7" fill="#008066"/>
<rect x="998.7" y="1918.8" width="12.0" height="21.7" fill="#008066"/>
<rect x="1044.9" y="1918.8" width="12.0" height="21.7" fill="#008066"/>
<rect x="952.6" y="1940.0" width="12.0" height="21.7" fill="#008066"/>
<rect x="998.7" y="1940.0" width="12.0" height="21.7" fill="#008066"/>
<rect x="1021.8" y="1940.0" width="12.0" height="21.7" fill="#008066"/>
<rect x="1091.0" y="1940.0" width="12.0" height="21.7" fill="#008066"/>
<rect x="941.1" y="1961.3" width="23.6" height="21.7" fill="#008066"/>
<rect x="998.7" y="1961.3" width="12.0" height="21.7" fill="#008066"/>
<rect x="1114.1" y="1961.3" width="12.0" height="21.7" fill="#008066"/>
<rect x="952.6" y="1982.5" width="12.0" height="21.7" fill="#008066"/>
<rect x="1010.3" y="1982.5" width="12.0" height="21.7" fill="#008066"/>
<rect x="1044.9" y="1982.5" width="12.0" height="21.7" fill="#008066"/>
<rect x="894.9" y="2003.7" width="12.0" height="21.7" fill="#008066"/>
<rect x="929.5" y="2003.7" width="12.0" height="21.7" fill="#008066"/>
<rect x="952.6" y="2003.7" width="46.6" height="21.7" fill="#008066"/>
<rect x="1021.8" y="2003.7" width="23.6" height="21.7" fill="#008066"/>
<rect x="929.5" y="2025.0" width="12.0" height="21.7" fill="#008066"/>
<rect x="952.6" y="2025.0" width="12.0" height="21.7" fill="#008066"/>
<rect x="975.7" y="2025.0" width="35.1" height="21.7" fill="#008066"/>
<rect x="1067.9" y="2025.0" width="12.0" height="21.7" fill="#008066"/>
<rect x="918.0" y="2046.2" width="12.0" height="21.7" fill="#008066"/>
<rect x="941.1" y="2046.2" width="23.6" height="21.7" fill="#008066"/>
<rect x="987.2" y="2046.2" width="23.6" height="21.7" fill="#008066"/>
<rect x="1021.8" y="2046.2" width="12.0" height="21.7" fill="#008066"/>
<rect x="1091.0" y="2046.2" width="12.0" height="21.7" fill="#008066"/>
<rect x="906.4" y="2067.4" width="12.0" height="21.7" fill="#008066"/>
<rect x="941.1" y="2067.4" width="58.2" height="21.7" fill="#008066"/>
<rect x="1021.8" y="2067.4" width="12.0" height="21.7" fill="#008066"/>
<rect x="1044.9" y="2067.4" width="12.0" height="21.7" fill="#008066"/>
<rect x="906.4" y="2088.7" width="35.1" height="21.7" fill="#008066"/>
<rect x="952.6" y="2088.7" width="35.1" height="21.7" fill="#008066"/>
<rect x="1010.3" y="2088.7" width="12.0" height="21.7" fill="#008066"/>
<rect x="1044.9" y="2088.7" width="23.6" height="21.7" fill="#008066"/>
<rect x="929.5" y="2109.9" width="12.0" height="21.7" fill="#008066"/>
<rect x="998.7" y="2109.9" width="23.6" height="21.7" fill="#008066"/>
<rect x="1067.9" y="2109.9" width="12.0" height="21.7" fill="#008066"/>
<rect x="871.8" y="2131.2" width="12.0" height="21.7" fill="#008066"/>
<rect x="906.4" y="2131.2" width="12.0" height="21.7" fill="#008066"/>
<rect x="929.5" y="2131.2" width="46.6" height="21.7" fill="#008066"/>
<rect x="1010.3" y="2131.2" width="12.0" height="21.7" fill="#008066"/>
<rect x="1033.3" y="2131.2" width="12.0" height="21.7" fill="#008066"/>
<rect x="1137.1" y="2131.2" width="12.0" height="21.7" fill="#008066"/>
<rect x="918.0" y="2152.4" width="12.0" height="21.7" fill="#008066"/>
<rect x="941.1" y="2152.4" width="12.0" height="21.7" fill="#008066"/>
<rect x="964.1" y="2152.4" width="12.0" height="21.7" fill="#008066"/>
<rect x="987.2" y="2152.4" width="12.0" height="21.7" fill="#008066"/>
<rect x="1033.3" y="2152.4" width="23.6" height="21.7" fill="#008066"/>
<rect x="1067.9" y="2152.4" width="12.0" height="21.7" fill="#008066"/>
<rect x="941.1" y="2173.6" width="35.1" height="21.7" fill="#008066"/>
<rect x="1056.4" y="2173.6" width="12.0" height="21.7" fill="#008066"/>
<rect x="918.0" y="2194.9" width="12.0" height="21.7" fill="#008066"/>
<rect x="941.1" y="2194.9" width="12.0" height="21.7" fill="#008066"/>
<rect x="975.7" y="2194.9" width="12.0" height="21.7" fill="#008066"/>
<rect x="998.7" y="2194.9" width="12.0" height="21.7" fill="#008066"/>
<rect x="1033.3" y="2194.9" width="12.0" height="21.7" fill="#008066"/>
</g>
<line x1="831.5" y1="1428.6" x2="831.5" y2="2218" stroke="#000" stroke-opacity="0.05" stroke-width="2.2"/>
<line x1="831.5" y1="1428.6" x2="831.5" y2="1434.6" stroke="#333" stroke-width="2.5"/>
<line x1="831.5" y1="2212" x2="831.5" y2="2218" stroke="#333" stroke-width="2.5"/>
<line x1="946.9" y1="1428.6" x2="946.9" y2="2218" stroke="#000" stroke-opacity="0.05" stroke-width="2.2"/>
<line x1="946.9" y1="1428.6" x2="946.9" y2="1434.6" stroke="#333" stroke-width="2.5"/>
<line x1="946.9" y1="2212" x2="946.9" y2="2218" stroke="#333" stroke-width="2.5"/>
<line x1="1062.2" y1="1428.6" x2="1062.2" y2="2218" stroke="#000" stroke-opacity="0.05" stroke-width="2.2"/>
<line x1="1062.2" y1="1428.6" x2="1062.2" y2="1434.6" stroke="#333" stroke-width="2.5"/>
<line x1="1062.2" y1="2212" x2="1062.2" y2="2218" stroke="#333" stroke-width="2.5"/>
<line x1="1177.5" y1="1428.6" x2="1177.5" y2="2218" stroke="#000" stroke-opacity="0.05" stroke-width="2.2"/>
<line x1="1177.5" y1="1428.6" x2="1177.5" y2="1434.6" stroke="#333" stroke-width="2.5"/>
<line x1="1177.5" y1="2212" x2="1177.5" y2="2218" stroke="#333" stroke-width="2.5"/>
<line x1="1292.9" y1="1428.6" x2="1292.9" y2="2218" stroke="#000" stroke-opacity="0.05" stroke-width="2.2"/>
<line x1="1292.9" y1="1428.6" x2="1292.9" y2="1434.6" stroke="#333" stroke-width="2.5"/>
<line x1="1292.9" y1="2212" x2="1292.9" y2="2218" stroke="#333" stroke-width="2.5"/>
<line x1="823.2" y1="1568.4" x2="1296.7" y2="1568.4" stroke="#000" stroke-opacity="0.05" stroke-width="2.2"/>
<line x1="823.2" y1="1568.4" x2="829.2" y2="1568.4" stroke="#333" stroke-width="2.5"/>
<line x1="1290.7" y1="1568.4" x2="1296.7" y2="1568.4" stroke="#333" stroke-width="2.5"/>
<line x1="823.2" y1="1780.8" x2="1296.7" y2="1780.8" stroke="#000" stroke-opacity="0.05" stroke-width="2.2"/>
<line x1="823.2" y1="1780.8" x2="829.2" y2="1780.8" stroke="#333" stroke-width="2.5"/>
<line x1="1290.7" y1="1780.8" x2="1296.7" y2="1780.8" stroke="#333" stroke-width="2.5"/>
<line x1="823.2" y1="1993.1" x2="1296.7" y2="1993.1" stroke="#000" stroke-opacity="0.05" stroke-width="2.2"/>
<line x1="823.2" y1="1993.1" x2="829.2" y2="1993.1" stroke="#333" stroke-width="2.5"/>
<line x1="1290.7" y1="1993.1" x2="1296.7" y2="1993.1" stroke="#333" stroke-width="2.5"/>
<line x1="823.2" y1="2205.4" x2="1296.7" y2="2205.4" stroke="#000" stroke-opacity="0.05" stroke-width="2.2"/>
<line x1="823.2" y1="2205.4" x2="829.2" y2="2205.4" stroke="#333" stroke-width="2.5"/>
<line x1="1290.7" y1="2205.4" x2="1296.7" y2="2205.4" stroke="#333" stroke-width="2.5"/>
</g>
<rect x="823.2" y="1428.6" width="473.5" height="789.4000000000001" fill="none" stroke="#111" stroke-width="4.5"/>
<text transform="translate(810.2,1584.4) scale(0.97,1)" font-size="45" text-anchor="end" fill="#333">50</text>
<text transform="translate(810.2,1796.8) scale(0.97,1)" font-size="45" text-anchor="end" fill="#333">100</text>
<text transform="translate(810.2,2009.1) scale(0.97,1)" font-size="45" text-anchor="end" fill="#333">150</text>
<text transform="translate(810.2,2221.4) scale(0.97,1)" font-size="45" text-anchor="end" fill="#333">200</text>
<text transform="translate(829.9,2277.6) scale(0.97,1)" font-size="45" text-anchor="middle" fill="#333">560</text>
<text transform="translate(943.9,2277.6) scale(0.97,1)" font-size="45" text-anchor="middle" fill="#333">570</text>
<text transform="translate(1061.5,2277.6) scale(0.97,1)" font-size="45" text-anchor="middle" fill="#333">580</text>
<text transform="translate(1175.6,2277.6) scale(0.97,1)" font-size="45" text-anchor="middle" fill="#333">590</text>
<text transform="translate(1291.3,2277.6) scale(0.97,1)" font-size="45" text-anchor="middle" fill="#333">600</text>
<text transform="translate(1062.4,2347.0)" font-size="48" text-anchor="middle" fill="#333">wavelength (nm)</text>
<clipPath id="hc2"><rect x="1410.3" y="1427.8" width="472.20000000000005" height="780.7"/></clipPath>
<g clip-path="url(#hc2)">
<g shape-rendering="crispEdges">
<rect x="1525.5" y="1425.0" width="12.1" height="21.6" fill="#0000ff"/>
<rect x="1548.7" y="1425.0" width="35.2" height="21.6" fill="#0000ff"/>
<rect x="1595.0" y="1425.0" width="12.1" height="21.6" fill="#0000ff"/>
<rect x="1606.6" y="1425.0" width="12.1" height="21.6" fill="#0011f6"/>
<rect x="1618.1" y="1425.0" width="23.7" height="21.6" fill="#0033e6"/>
<rect x="1641.3" y="1425.0" width="12.1" height="21.6" fill="#0044dd"/>
<rect x="1652.9" y="1425.0" width="35.2" height="21.6" fill="#0055d4"/>
<rect x="1687.6" y="1425.0" width="35.2" height="21.6" fill="#0099b2"/>
<rect x="1722.4" y="1425.0" width="12.1" height="21.6" fill="#0033e6"/>
<rect x="1733.9" y="1425.0" width="23.7" height="21.6" fill="#0044dd"/>
<rect x="1757.1" y="1425.0" width="12.1" height="21.6" fill="#0088bb"/>
<rect x="1768.7" y="1425.0" width="12.1" height="21.6" fill="#0022ee"/>
<rect x="1780.3" y="1425.0" width="12.1" height="21.6" fill="#0033e6"/>
<rect x="1791.8" y="1425.0" width="35.2" height="21.6" fill="#0022ee"/>
<rect x="1826.6" y="1425.0" width="23.7" height="21.6" fill="#0033e6"/>
<rect x="1525.5" y="1446.1" width="12.1" height="21.6" fill="#0000ff"/>
<rect x="1548.7" y="1446.1" width="12.1" height="21.6" fill="#0000ff"/>
<rect x="1583.4" y="1446.1" width="23.7" height="21.6" fill="#0000ff"/>
<rect x="1606.6" y="1446.1" width="12.1" height="21.6" fill="#0022ee"/>
<rect x="1618.1" y="1446.1" width="12.1" height="21.6" fill="#0011f6"/>
<rect x="1629.7" y="1446.1" width="12.1" height="21.6" fill="#0000ff"/>
<rect x="1641.3" y="1446.1" width="12.1" height="21.6" fill="#0044dd"/>
<rect x="1652.9" y="1446.1" width="12.1" height="21.6" fill="#0088bb"/>
<rect x="1664.5" y="1446.1" width="12.1" height="21.6" fill="#0044dd"/>
<rect x="1676.0" y="1446.1" width="12.1" height="21.6" fill="#0077c3"/>
<rect x="1687.6" y="1446.1" width="23.7" height="21.6" fill="#00aaaa"/>
<rect x="1710.8" y="1446.1" width="12.1" height="21.6" fill="#00ff80"/>
<rect x="1722.4" y="1446.1" width="12.1" height="21.6" fill="#00aaaa"/>
<rect x="1733.9" y="1446.1" width="12.1" height="21.6" fill="#0055d4"/>
<rect x="1745.5" y="1446.1" width="23.7" height="21.6" fill="#0099b2"/>
<rect x="1768.7" y="1446.1" width="35.2" height="21.6" fill="#0055d4"/>
<rect x="1803.4" y="1446.1" width="35.2" height="21.6" fill="#0044dd"/>
<rect x="1838.2" y="1446.1" width="23.7" height="21.6" fill="#0022ee"/>
<rect x="1456.0" y="1467.3" width="35.2" height="21.6" fill="#0000ff"/>
<rect x="1502.3" y="1467.3" width="23.7" height="21.6" fill="#0000ff"/>
<rect x="1537.1" y="1467.3" width="12.1" height="21.6" fill="#0000ff"/>
<rect x="1571.8" y="1467.3" width="12.1" height="21.6" fill="#0000ff"/>
<rect x="1595.0" y="1467.3" width="12.1" height="21.6" fill="#0022ee"/>
<rect x="1606.6" y="1467.3" width="12.1" height="21.6" fill="#0011f6"/>
<rect x="1618.1" y="1467.3" width="12.1" height="21.6" fill="#0033e6"/>
<rect x="1629.7" y="1467.3" width="12.1" height="21.6" fill="#0022ee"/>
<rect x="1641.3" y="1467.3" width="12.1" height="21.6" fill="#0099b2"/>
<rect x="1652.9" y="1467.3" width="12.1" height="21.6" fill="#00aaaa"/>
<rect x="1664.5" y="1467.3" width="35.2" height="21.6" fill="#0099b2"/>
<rect x="1699.2" y="1467.3" width="12.1" height="21.6" fill="#0044dd"/>
<rect x="1710.8" y="1467.3" width="12.1" height="21.6" fill="#00aaaa"/>
<rect x="1722.4" y="1467.3" width="12.1" height="21.6" fill="#0088bb"/>
<rect x="1733.9" y="1467.3" width="23.7" height="21.6" fill="#0077c3"/>
<rect x="1757.1" y="1467.3" width="35.2" height="21.6" fill="#0033e6"/>
<rect x="1791.8" y="1467.3" width="12.1" height="21.6" fill="#0099b2"/>
<rect x="1803.4" y="1467.3" width="23.7" height="21.6" fill="#0022ee"/>
<rect x="1826.6" y="1467.3" width="12.1" height="21.6" fill="#0011f6"/>
<rect x="1838.2" y="1467.3" width="12.1" height="21.6" fill="#0022ee"/>
<rect x="1849.7" y="1467.3" width="12.1" height="21.6" fill="#0011f6"/>
<rect x="1502.3" y="1488.4" width="12.1" height="21.6" fill="#0000ff"/>
<rect x="1548.7" y="1488.4" width="46.8" height="21.6" fill="#0000ff"/>
<rect x="1606.6" y="1488.4" width="12.1" height="21.6" fill="#0022ee"/>
<rect x="1618.1" y="1488.4" width="23.7" height="21.6" fill="#0033e6"/>
<rect x="1641.3" y="1488.4" width="12.1" height="21.6" fill="#0055d4"/>
<rect x="1652.9" y="1488.4" width="12.1" height="21.6" fill="#0099b2"/>
<rect x="1664.5" y="1488.4" width="12.1" height="21.6" fill="#0055d4"/>
<rect x="1676.0" y="1488.4" width="12.1" height="21.6" fill="#00ee88"/>
<rect x="1687.6" y="1488.4" width="12.1" height="21.6" fill="#0011f6"/>
<rect x="1699.2" y="1488.4" width="12.1" height="21.6" fill="#0099b2"/>
<rect x="1710.8" y="1488.4" width="23.7" height="21.6" fill="#00aaaa"/>
<rect x="1733.9" y="1488.4" width="12.1" height="21.6" fill="#0099b2"/>
<rect x="1745.5" y="1488.4" width="23.7" height="21.6" fill="#0088bb"/>
<rect x="1768.7" y="1488.4" width="23.7" height="21.6" fill="#0055d4"/>
<rect x="1791.8" y="1488.4" width="23.7" height="21.6" fill="#0044dd"/>
<rect x="1815.0" y="1488.4" width="35.2" height="21.6" fill="#0033e6"/>
<rect x="1849.7" y="1488.4" width="12.1" height="21.6" fill="#0022ee"/>
<rect x="1872.9" y="1488.4" width="12.1" height="21.6" fill="#0000ff"/>
<rect x="1444.4" y="1509.6" width="12.1" height="21.6" fill="#0000ff"/>
<rect x="1502.3" y="1509.6" width="12.1" height="21.6" fill="#0000ff"/>
<rect x="1537.1" y="1509.6" width="12.1" height="21.6" fill="#0000ff"/>
<rect x="1571.8" y="1509.6" width="12.1" height="21.6" fill="#0000ff"/>
<rect x="1595.0" y="1509.6" width="12.1" height="21.6" fill="#0000ff"/>
<rect x="1618.1" y="1509.6" width="23.7" height="21.6" fill="#0011f6"/>
<rect x="1641.3" y="1509.6" width="12.1" height="21.6" fill="#0044dd"/>
<rect x="1652.9" y="1509.6" width="12.1" height="21.6" fill="#0055d4"/>
<rect x="1664.5" y="1509.6" width="23.7" height="21.6" fill="#0066cc"/>
<rect x="1687.6" y="1509.6" width="12.1" height="21.6" fill="#0099b2"/>
<rect x="1699.2" y="1509.6" width="12.1" height="21.6" fill="#0088bb"/>
<rect x="1710.8" y="1509.6" width="12.1" height="21.6" fill="#0066cc"/>
<rect x="1722.4" y="1509.6" width="12.1" height="21.6" fill="#0055d4"/>
<rect x="1733.9" y="1509.6" width="12.1" height="21.6" fill="#0088bb"/>
<rect x="1745.5" y="1509.6" width="23.7" height="21.6" fill="#0044dd"/>
<rect x="1768.7" y="1509.6" width="12.1" height="21.6" fill="#0033e6"/>
<rect x="1780.3" y="1509.6" width="12.1" height="21.6" fill="#0088bb"/>
<rect x="1791.8" y="1509.6" width="12.1" height="21.6" fill="#0011f6"/>
<rect x="1803.4" y="1509.6" width="12.1" height="21.6" fill="#0044dd"/>
<rect x="1826.6" y="1509.6" width="12.1" height="21.6" fill="#0066cc"/>
<rect x="1838.2" y="1509.6" width="12.1" height="21.6" fill="#0011f6"/>
<rect x="1872.9" y="1509.6" width="12.1" height="21.6" fill="#0000ff"/>
<rect x="1409.7" y="1530.7" width="12.1" height="21.6" fill="#0000ff"/>
<rect x="1502.3" y="1530.7" width="12.1" height="21.6" fill="#0000ff"/>
<rect x="1525.5" y="1530.7" width="12.1" height="21.6" fill="#0000ff"/>
<rect x="1606.6" y="1530.7" width="12.1" height="21.6" fill="#0000ff"/>
<rect x="1618.1" y="1530.7" width="12.1" height="21.6" fill="#0011f6"/>
<rect x="1629.7" y="1530.7" width="12.1" height="21.6" fill="#0022ee"/>
<rect x="1641.3" y="1530.7" width="23.7" height="21.6" fill="#0011f6"/>
<rect x="1664.5" y="1530.7" width="12.1" height="21.6" fill="#0088bb"/>
<rect x="1676.0" y="1530.7" width="12.1" height="21.6" fill="#0011f6"/>
<rect x="1687.6" y="1530.7" width="23.7" height="21.6" fill="#0044dd"/>
<rect x="1710.8" y="1530.7" width="23.7" height="21.6" fill="#0022ee"/>
<rect x="1733.9" y="1530.7" width="12.1" height="21.6" fill="#0066cc"/>
<rect x="1745.5" y="1530.7" width="12.1" height="21.6" fill="#0022ee"/>
<rect x="1757.1" y="1530.7" width="12.1" height="21.6" fill="#00aaaa"/>
<rect x="1768.7" y="1530.7" width="12.1" height="21.6" fill="#0077c3"/>
<rect x="1780.3" y="1530.7" width="23.7" height="21.6" fill="#0044dd"/>
<rect x="1803.4" y="1530.7" width="46.8" height="21.6" fill="#0022ee"/>
<rect x="1861.3" y="1530.7" width="12.1" height="21.6" fill="#0000ff"/>
<rect x="1456.0" y="1551.8" width="12.1" height="21.6" fill="#0000ff"/>
<rect x="1490.8" y="1551.8" width="12.1" height="21.6" fill="#0000ff"/>
<rect x="1537.1" y="1551.8" width="12.1" height="21.6" fill="#0000ff"/>
<rect x="1583.4" y="1551.8" width="23.7" height="21.6" fill="#0000ff"/>
<rect x="1606.6" y="1551.8" width="23.7" height="21.6" fill="#0011f6"/>
<rect x="1629.7" y="1551.8" width="12.1" height="21.6" fill="#0022ee"/>
<rect x="1641.3" y="1551.8" width="12.1" height="21.6" fill="#0033e6"/>
<rect x="1664.5" y="1551.8" width="23.7" height="21.6" fill="#0044dd"/>
<rect x="1687.6" y="1551.8" width="12.1" height="21.6" fill="#0055d4"/>
<rect x="1699.2" y="1551.8" width="12.1" height="21.6" fill="#0099b2"/>
<rect x="1710.8" y="1551.8" width="12.1" height="21.6" fill="#0088bb"/>
<rect x="1722.4" y="1551.8" width="12.1" height="21.6" fill="#0077c3"/>
<rect x="1733.9" y="1551.8" width="12.1" height="21.6" fill="#0066cc"/>
<rect x="1745.5" y="1551.8" width="12.1" height="21.6" fill="#00bba2"/>
<rect x="1757.1" y="1551.8" width="12.1" height="21.6" fill="#0033e6"/>
<rect x="1768.7" y="1551.8" width="12.1" height="21.6" fill="#0011f6"/>
<rect x="1780.3" y="1551.8" width="12.1" height="21.6" fill="#0044dd"/>
<rect x="1791.8" y="1551.8" width="12.1" height="21.6" fill="#0033e6"/>
<rect x="1803.4" y="1551.8" width="35.2" height="21.6" fill="#0022ee"/>
<rect x="1849.7" y="1551.8" width="12.1" height="21.6" fill="#0033e6"/>
<rect x="1872.9" y="1551.8" width="12.1" height="21.6" fill="#0011f6"/>
<rect x="1490.8" y="1573.0" width="12.1" height="21.6" fill="#0000ff"/>
<rect x="1537.1" y="1573.0" width="12.1" height="21.6" fill="#0000ff"/>
<rect x="1583.4" y="1573.0" width="35.2" height="21.6" fill="#0000ff"/>
<rect x="1629.7" y="1573.0" width="12.1" height="21.6" fill="#0000ff"/>
<rect x="1641.3" y="1573.0" width="12.1" height="21.6" fill="#0011f6"/>
<rect x="1652.9" y="1573.0" width="23.7" height="21.6" fill="#0044dd"/>
<rect x="1676.0" y="1573.0" width="23.7" height="21.6" fill="#0055d4"/>
<rect x="1699.2" y="1573.0" width="23.7" height="21.6" fill="#0044dd"/>
<rect x="1722.4" y="1573.0" width="12.1" height="21.6" fill="#0055d4"/>
<rect x="1733.9" y="1573.0" width="12.1" height="21.6" fill="#00aaaa"/>
<rect x="1745.5" y="1573.0" width="12.1" height="21.6" fill="#0044dd"/>
<rect x="1757.1" y="1573.0" width="23.7" height="21.6" fill="#0022ee"/>
<rect x="1780.3" y="1573.0" width="12.1" height="21.6" fill="#0011f6"/>
<rect x="1791.8" y="1573.0" width="12.1" height="21.6" fill="#0088bb"/>
<rect x="1803.4" y="1573.0" width="23.7" height="21.6" fill="#0033e6"/>
<rect x="1826.6" y="1573.0" width="23.7" height="21.6" fill="#0022ee"/>
<rect x="1861.3" y="1573.0" width="12.1" height="21.6" fill="#0000ff"/>
<rect x="1479.2" y="1594.1" width="12.1" height="21.6" fill="#0000ff"/>
<rect x="1502.3" y="1594.1" width="12.1" height="21.6" fill="#0000ff"/>
<rect x="1560.2" y="1594.1" width="23.7" height="21.6" fill="#0000ff"/>
<rect x="1595.0" y="1594.1" width="23.7" height="21.6" fill="#0000ff"/>
<rect x="1618.1" y="1594.1" width="23.7" height="21.6" fill="#0022ee"/>
<rect x="1641.3" y="1594.1" width="23.7" height="21.6" fill="#0033e6"/>
<rect x="1676.0" y="1594.1" width="12.1" height="21.6" fill="#0044dd"/>
<rect x="1687.6" y="1594.1" width="12.1" height="21.6" fill="#0033e6"/>
<rect x="1699.2" y="1594.1" width="12.1" height="21.6" fill="#0044dd"/>
<rect x="1710.8" y="1594.1" width="12.1" height="21.6" fill="#0055d4"/>
<rect x="1722.4" y="1594.1" width="12.1" height="21.6" fill="#0044dd"/>
<rect x="1733.9" y="1594.1" width="12.1" height="21.6" fill="#0033e6"/>
<rect x="1745.5" y="1594.1" width="12.1" height="21.6" fill="#0044dd"/>
<rect x="1757.1" y="1594.1" width="12.1" height="21.6" fill="#0022ee"/>
<rect x="1768.7" y="1594.1" width="12.1" height="21.6" fill="#0011f6"/>
<rect x="1791.8" y="1594.1" width="35.2" height="21.6" fill="#0011f6"/>
<rect x="1826.6" y="1594.1" width="12.1" height="21.6" fill="#0022ee"/>
<rect x="1838.2" y="1594.1" width="35.2" height="21.6" fill="#0011f6"/>
<rect x="1432.9" y="1615.3" width="12.1" height="21.6" fill="#0000ff"/>
<rect x="1548.7" y="1615.3" width="12.1" height="21.6" fill="#0000ff"/>
<rect x="1583.4" y="1615.3" width="12.1" height="21.6" fill="#0000ff"/>
<rect x="1618.1" y="1615.3" width="12.1" height="21.6" fill="#0000ff"/>
<rect x="1629.7" y="1615.3" width="12.1" height="21.6" fill="#0022ee"/>
<rect x="1641.3" y="1615.3" width="23.7" height="21.6" fill="#0011f6"/>
<rect x="1664.5" y="1615.3" width="23.7" height="21.6" fill="#0022ee"/>
<rect x="1687.6" y="1615.3" width="12.1" height="21.6" fill="#0033e6"/>
<rect x="1699.2" y="1615.3" width="12.1" height="21.6" fill="#0022ee"/>
<rect x="1710.8" y="1615.3" width="12.1" height="21.6" fill="#0033e6"/>
<rect x="1722.4" y="1615.3" width="12.1" height="21.6" fill="#0022ee"/>
<rect x="1733.9" y="1615.3" width="23.7" height="21.6" fill="#0011f6"/>
<rect x="1757.1" y="1615.3" width="12.1" height="21.6" fill="#0066cc"/>
<rect x="1780.3" y="1615.3" width="46.8" height="21.6" fill="#0011f6"/>
<rect x="1849.7" y="1615.3" width="12.1" height="21.6" fill="#0011f6"/>
<rect x="1583.4" y="1636.4" width="12.1" height="21.6" fill="#0000ff"/>
<rect x="1618.1" y="1636.4" width="12.1" height="21.6" fill="#0000ff"/>
<rect x="1641.3" y="1636.4" width="23.7" height="21.6" fill="#0011f6"/>
<rect x="1664.5" y="1636.4" width="23.7" height="21.6" fill="#0022ee"/>
<rect x="1687.6" y="1636.4" width="35.2" height="21.6" fill="#0011f6"/>
<rect x="1722.4" y="1636.4" width="23.7" height="21.6" fill="#0022ee"/>
<rect x="1745.5" y="1636.4" width="23.7" height="21.6" fill="#0011f6"/>
<rect x="1768.7" y="1636.4" width="23.7" height="21.6" fill="#0055d4"/>
<rect x="1803.4" y="1636.4" width="12.1" height="21.6" fill="#0011f6"/>
<rect x="1826.6" y="1636.4" width="23.7" height="21.6" fill="#0011f6"/>
<rect x="1861.3" y="1636.4" width="12.1" height="21.6" fill="#0011f6"/>
<rect x="1456.0" y="1657.5" width="12.1" height="21.6" fill="#0000ff"/>
<rect x="1479.2" y="1657.5" width="12.1" height="21.6" fill="#0000ff"/>
<rect x="1548.7" y="1657.5" width="23.7" height="21.6" fill="#0000ff"/>
<rect x="1583.4" y="1657.5" width="23.7" height="21.6" fill="#0000ff"/>
<rect x="1641.3" y="1657.5" width="58.4" height="21.6" fill="#0011f6"/>
<rect x="1699.2" y="1657.5" width="35.2" height="21.6" fill="#0022ee"/>
<rect x="1757.1" y="1657.5" width="46.8" height="21.6" fill="#0011f6"/>
<rect x="1838.2" y="1657.5" width="12.1" height="21.6" fill="#0011f6"/>
<rect x="1502.3" y="1678.7" width="12.1" height="21.6" fill="#0000ff"/>
<rect x="1537.1" y="1678.7" width="12.1" height="21.6" fill="#0000ff"/>
<rect x="1571.8" y="1678.7" width="12.1" height="21.6" fill="#0000ff"/>
<rect x="1595.0" y="1678.7" width="12.1" height="21.6" fill="#0000ff"/>
<rect x="1618.1" y="1678.7" width="12.1" height="21.6" fill="#0000ff"/>
<rect x="1664.5" y="1678.7" width="12.1" height="21.6" fill="#0077c3"/>
<rect x="1676.0" y="1678.7" width="12.1" height="21.6" fill="#0011f6"/>
<rect x="1699.2" y="1678.7" width="46.8" height="21.6" fill="#0011f6"/>
<rect x="1757.1" y="1678.7" width="35.2" height="21.6" fill="#0011f6"/>
<rect x="1838.2" y="1678.7" width="12.1" height="21.6" fill="#0011f6"/>
<rect x="1421.3" y="1699.8" width="12.1" height="21.6" fill="#0000ff"/>
<rect x="1560.2" y="1699.8" width="12.1" height="21.6" fill="#0000ff"/>
<rect x="1595.0" y="1699.8" width="12.1" height="21.6" fill="#0000ff"/>
<rect x="1641.3" y="1699.8" width="23.7" height="21.6" fill="#0011f6"/>
<rect x="1676.0" y="1699.8" width="104.7" height="21.6" fill="#0011f6"/>
<rect x="1791.8" y="1699.8" width="12.1" height="21.6" fill="#0011f6"/>
<rect x="1595.0" y="1721.0" width="12.1" height="21.6" fill="#0000ff"/>
<rect x="1652.9" y="1721.0" width="12.1" height="21.6" fill="#0011f6"/>
<rect x="1687.6" y="1721.0" width="35.2" height="21.6" fill="#0011f6"/>
<rect x="1733.9" y="1721.0" width="23.7" height="21.6" fill="#0011f6"/>
<rect x="1768.7" y="1721.0" width="23.7" height="21.6" fill="#0011f6"/>
<rect x="1815.0" y="1721.0" width="12.1" height="21.6" fill="#0011f6"/>
<rect x="1838.2" y="1721.0" width="12.1" height="21.6" fill="#0011f6"/>
<rect x="1560.2" y="1742.1" width="12.1" height="21.6" fill="#0000ff"/>
<rect x="1618.1" y="1742.1" width="23.7" height="21.6" fill="#0000ff"/>
<rect x="1664.5" y="1742.1" width="35.2" height="21.6" fill="#0011f6"/>
<rect x="1710.8" y="1742.1" width="12.1" height="21.6" fill="#0011f6"/>
<rect x="1733.9" y="1742.1" width="35.2" height="21.6" fill="#0011f6"/>
<rect x="1838.2" y="1742.1" width="12.1" height="21.6" fill="#0011f6"/>
<rect x="1502.3" y="1763.2" width="12.1" height="21.6" fill="#0000ff"/>
<rect x="1537.1" y="1763.2" width="12.1" height="21.6" fill="#0000ff"/>
<rect x="1560.2" y="1763.2" width="12.1" height="21.6" fill="#0000ff"/>
<rect x="1583.4" y="1763.2" width="12.1" height="21.6" fill="#0000ff"/>
<rect x="1710.8" y="1763.2" width="12.1" height="21.6" fill="#0011f6"/>
<rect x="1745.5" y="1763.2" width="12.1" height="21.6" fill="#0011f6"/>
<rect x="1780.3" y="1763.2" width="23.7" height="21.6" fill="#0011f6"/>
<rect x="1826.6" y="1763.2" width="12.1" height="21.6" fill="#0011f6"/>
<rect x="1571.8" y="1784.4" width="12.1" height="21.6" fill="#0000ff"/>
<rect x="1606.6" y="1784.4" width="12.1" height="21.6" fill="#0000ff"/>
<rect x="1629.7" y="1784.4" width="12.1" height="21.6" fill="#0000ff"/>
<rect x="1710.8" y="1784.4" width="12.1" height="21.6" fill="#0011f6"/>
<rect x="1733.9" y="1784.4" width="12.1" height="21.6" fill="#0011f6"/>
<rect x="1768.7" y="1784.4" width="12.1" height="21.6" fill="#0011f6"/>
<rect x="1513.9" y="1805.5" width="12.1" height="21.6" fill="#0000ff"/>
<rect x="1652.9" y="1805.5" width="12.1" height="21.6" fill="#0011f6"/>
<rect x="1676.0" y="1805.5" width="12.1" height="21.6" fill="#0011f6"/>
<rect x="1722.4" y="1805.5" width="12.1" height="21.6" fill="#0011f6"/>
<rect x="1745.5" y="1805.5" width="12.1" height="21.6" fill="#0011f6"/>
<rect x="1768.7" y="1805.5" width="12.1" height="21.6" fill="#0011f6"/>
<rect x="1791.8" y="1805.5" width="12.1" height="21.6" fill="#0011f6"/>
<rect x="1513.9" y="1826.7" width="12.1" height="21.6" fill="#0000ff"/>
<rect x="1583.4" y="1826.7" width="12.1" height="21.6" fill="#0000ff"/>
<rect x="1618.1" y="1826.7" width="23.7" height="21.6" fill="#0000ff"/>
<rect x="1664.5" y="1826.7" width="12.1" height="21.6" fill="#0000ff"/>
<rect x="1745.5" y="1826.7" width="23.7" height="21.6" fill="#0000ff"/>
<rect x="1780.3" y="1826.7" width="12.1" height="21.6" fill="#0000ff"/>
<rect x="1826.6" y="1826.7" width="23.7" height="21.6" fill="#0000ff"/>
<rect x="1571.8" y="1847.8" width="12.1" height="21.6" fill="#0000ff"/>
<rect x="1676.0" y="1847.8" width="23.7" height="21.6" fill="#0000ff"/>
<rect x="1768.7" y="1847.8" width="23.7" height="21.6" fill="#0000ff"/>
<rect x="1815.0" y="1847.8" width="23.7" height="21.6" fill="#0000ff"/>
<rect x="1571.8" y="1868.9" width="12.1" height="21.6" fill="#0000ff"/>
<rect x="1595.0" y="1868.9" width="12.1" height="21.6" fill="#0000ff"/>
<rect x="1629.7" y="1868.9" width="12.1" height="21.6" fill="#0000ff"/>
<rect x="1699.2" y="1868.9" width="12.1" height="21.6" fill="#0000ff"/>
<rect x="1722.4" y="1868.9" width="12.1" height="21.6" fill="#0000ff"/>
<rect x="1745.5" y="1868.9" width="12.1" height="21.6" fill="#0000ff"/>
<rect x="1768.7" y="1868.9" width="12.1" height="21.6" fill="#0000ff"/>
<rect x="1525.5" y="1890.1" width="12.1" height="21.6" fill="#0000ff"/>
<rect x="1652.9" y="1890.1" width="12.1" height="21.6" fill="#0000ff"/>
<rect x="1687.6" y="1890.1" width="12.1" height="21.6" fill="#0000ff"/>
<rect x="1722.4" y="1890.1" width="12.1" height="21.6" fill="#0000ff"/>
<rect x="1768.7" y="1890.1" width="12.1" height="21.6" fill="#0000ff"/>
<rect x="1791.8" y="1890.1" width="12.1" height="21.6" fill="#0000ff"/>
<rect x="1537.1" y="1911.2" width="12.1" height="21.6" fill="#0000ff"/>
<rect x="1629.7" y="1911.2" width="12.1" height="21.6" fill="#0000ff"/>
<rect x="1676.0" y="1911.2" width="35.2" height="21.6" fill="#0000ff"/>
<rect x="1780.3" y="1911.2" width="12.1" height="21.6" fill="#0000ff"/>
<rect x="1560.2" y="1932.4" width="12.1" height="21.6" fill="#0000ff"/>
<rect x="1664.5" y="1932.4" width="12.1" height="21.6" fill="#0000ff"/>
<rect x="1560.2" y="1953.5" width="12.1" height="21.6" fill="#0000ff"/>
<rect x="1595.0" y="1953.5" width="12.1" height="21.6" fill="#0000ff"/>
<rect x="1652.9" y="1953.5" width="12.1" height="21.6" fill="#0000ff"/>
<rect x="1676.0" y="1953.5" width="12.1" height="21.6" fill="#0000ff"/>
<rect x="1699.2" y="1953.5" width="23.7" height="21.6" fill="#0000ff"/>
<rect x="1745.5" y="1953.5" width="12.1" height="21.6" fill="#0000ff"/>
<rect x="1583.4" y="1974.6" width="12.1" height="21.6" fill="#0000ff"/>
<rect x="1618.1" y="1974.6" width="12.1" height="21.6" fill="#0000ff"/>
<rect x="1664.5" y="1974.6" width="12.1" height="21.6" fill="#0000ff"/>
<rect x="1722.4" y="1974.6" width="12.1" height="21.6" fill="#0000ff"/>
<rect x="1745.5" y="1974.6" width="12.1" height="21.6" fill="#0000ff"/>
<rect x="1780.3" y="1974.6" width="12.1" height="21.6" fill="#0000ff"/>
<rect x="1849.7" y="1974.6" width="12.1" height="21.6" fill="#0000ff"/>
<rect x="1606.6" y="1995.8" width="12.1" height="21.6" fill="#0000ff"/>
<rect x="1629.7" y="1995.8" width="12.1" height="21.6" fill="#0000ff"/>
<rect x="1652.9" y="1995.8" width="12.1" height="21.6" fill="#0000ff"/>
<rect x="1733.9" y="1995.8" width="12.1" height="21.6" fill="#0000ff"/>
<rect x="1849.7" y="1995.8" width="12.1" height="21.6" fill="#0000ff"/>
<rect x="1421.3" y="2016.9" width="12.1" height="21.6" fill="#0000ff"/>
<rect x="1571.8" y="2016.9" width="12.1" height="21.6" fill="#0000ff"/>
<rect x="1664.5" y="2016.9" width="12.1" height="21.6" fill="#0000ff"/>
<rect x="1687.6" y="2016.9" width="23.7" height="21.6" fill="#0000ff"/>
<rect x="1791.8" y="2016.9" width="12.1" height="21.6" fill="#0000ff"/>
<rect x="1826.6" y="2016.9" width="12.1" height="21.6" fill="#0000ff"/>
<rect x="1467.6" y="2038.1" width="12.1" height="21.6" fill="#0000ff"/>
<rect x="1513.9" y="2038.1" width="12.1" height="21.6" fill="#0000ff"/>
<rect x="1618.1" y="2038.1" width="12.1" height="21.6" fill="#0000ff"/>
<rect x="1595.0" y="2059.2" width="12.1" height="21.6" fill="#0000ff"/>
<rect x="1641.3" y="2059.2" width="12.1" height="21.6" fill="#0000ff"/>
<rect x="1780.3" y="2059.2" width="12.1" height="21.6" fill="#0000ff"/>
<rect x="1548.7" y="2080.3" width="12.1" height="21.6" fill="#0000ff"/>
<rect x="1606.6" y="2080.3" width="12.1" height="21.6" fill="#0000ff"/>
<rect x="1733.9" y="2080.3" width="12.1" height="21.6" fill="#0000ff"/>
<rect x="1757.1" y="2080.3" width="12.1" height="21.6" fill="#0000ff"/>
<rect x="1641.3" y="2101.5" width="12.1" height="21.6" fill="#0000ff"/>
<rect x="1710.8" y="2101.5" width="23.7" height="21.6" fill="#0000ff"/>
<rect x="1757.1" y="2101.5" width="23.7" height="21.6" fill="#0000ff"/>
<rect x="1803.4" y="2101.5" width="12.1" height="21.6" fill="#0000ff"/>
<rect x="1757.1" y="2122.6" width="12.1" height="21.6" fill="#0000ff"/>
<rect x="1699.2" y="2143.8" width="12.1" height="21.6" fill="#0000ff"/>
<rect x="1791.8" y="2143.8" width="12.1" height="21.6" fill="#0000ff"/>
<rect x="1502.3" y="2164.9" width="12.1" height="21.6" fill="#0000ff"/>
<rect x="1571.8" y="2164.9" width="12.1" height="21.6" fill="#0000ff"/>
<rect x="1664.5" y="2164.9" width="12.1" height="21.6" fill="#0000ff"/>
<rect x="1722.4" y="2164.9" width="12.1" height="21.6" fill="#0000ff"/>
<rect x="1757.1" y="2164.9" width="12.1" height="21.6" fill="#0000ff"/>
<rect x="1733.9" y="2186.0" width="12.1" height="21.6" fill="#0000ff"/>
<rect x="1791.8" y="2186.0" width="12.1" height="21.6" fill="#0000ff"/>
</g>
<line x1="1415.5" y1="1427.8" x2="1415.5" y2="2208.5" stroke="#000" stroke-opacity="0.05" stroke-width="2.2"/>
<line x1="1415.5" y1="1427.8" x2="1415.5" y2="1433.8" stroke="#333" stroke-width="2.5"/>
<line x1="1415.5" y1="2202.5" x2="1415.5" y2="2208.5" stroke="#333" stroke-width="2.5"/>
<line x1="1531.3" y1="1427.8" x2="1531.3" y2="2208.5" stroke="#000" stroke-opacity="0.05" stroke-width="2.2"/>
<line x1="1531.3" y1="1427.8" x2="1531.3" y2="1433.8" stroke="#333" stroke-width="2.5"/>
<line x1="1531.3" y1="2202.5" x2="1531.3" y2="2208.5" stroke="#333" stroke-width="2.5"/>
<line x1="1647.1" y1="1427.8" x2="1647.1" y2="2208.5" stroke="#000" stroke-opacity="0.05" stroke-width="2.2"/>
<line x1="1647.1" y1="1427.8" x2="1647.1" y2="1433.8" stroke="#333" stroke-width="2.5"/>
<line x1="1647.1" y1="2202.5" x2="1647.1" y2="2208.5" stroke="#333" stroke-width="2.5"/>
<line x1="1762.9" y1="1427.8" x2="1762.9" y2="2208.5" stroke="#000" stroke-opacity="0.05" stroke-width="2.2"/>
<line x1="1762.9" y1="1427.8" x2="1762.9" y2="1433.8" stroke="#333" stroke-width="2.5"/>
<line x1="1762.9" y1="2202.5" x2="1762.9" y2="2208.5" stroke="#333" stroke-width="2.5"/>
<line x1="1878.7" y1="1427.8" x2="1878.7" y2="2208.5" stroke="#000" stroke-opacity="0.05" stroke-width="2.2"/>
<line x1="1878.7" y1="1427.8" x2="1878.7" y2="1433.8" stroke="#333" stroke-width="2.5"/>
<line x1="1878.7" y1="2202.5" x2="1878.7" y2="2208.5" stroke="#333" stroke-width="2.5"/>
<line x1="1410.3" y1="1562.4" x2="1882.5" y2="1562.4" stroke="#000" stroke-opacity="0.05" stroke-width="2.2"/>
<line x1="1410.3" y1="1562.4" x2="1416.3" y2="1562.4" stroke="#333" stroke-width="2.5"/>
<line x1="1876.5" y1="1562.4" x2="1882.5" y2="1562.4" stroke="#333" stroke-width="2.5"/>
<line x1="1410.3" y1="1773.8" x2="1882.5" y2="1773.8" stroke="#000" stroke-opacity="0.05" stroke-width="2.2"/>
<line x1="1410.3" y1="1773.8" x2="1416.3" y2="1773.8" stroke="#333" stroke-width="2.5"/>
<line x1="1876.5" y1="1773.8" x2="1882.5" y2="1773.8" stroke="#333" stroke-width="2.5"/>
<line x1="1410.3" y1="1985.2" x2="1882.5" y2="1985.2" stroke="#000" stroke-opacity="0.05" stroke-width="2.2"/>
<line x1="1410.3" y1="1985.2" x2="1416.3" y2="1985.2" stroke="#333" stroke-width="2.5"/>
<line x1="1876.5" y1="1985.2" x2="1882.5" y2="1985.2" stroke="#333" stroke-width="2.5"/>
<line x1="1410.3" y1="2196.6" x2="1882.5" y2="2196.6" stroke="#000" stroke-opacity="0.05" stroke-width="2.2"/>
<line x1="1410.3" y1="2196.6" x2="1416.3" y2="2196.6" stroke="#333" stroke-width="2.5"/>
<line x1="1876.5" y1="2196.6" x2="1882.5" y2="2196.6" stroke="#333" stroke-width="2.5"/>
</g>
<rect x="1410.3" y="1427.8" width="472.20000000000005" height="780.7" fill="none" stroke="#111" stroke-width="4.5"/>
<text transform="translate(1394.4,1578.4) scale(0.97,1)" font-size="45" text-anchor="end" fill="#333">50</text>
<text transform="translate(1394.4,1789.8) scale(0.97,1)" font-size="45" text-anchor="end" fill="#333">100</text>
<text transform="translate(1394.4,2001.2) scale(0.97,1)" font-size="45" text-anchor="end" fill="#333">150</text>
<text transform="translate(1394.4,2212.6) scale(0.97,1)" font-size="45" text-anchor="end" fill="#333">200</text>
<text transform="translate(1414.0,2269.3) scale(0.97,1)" font-size="45" text-anchor="middle" fill="#333">560</text>
<text transform="translate(1529.8,2269.3) scale(0.97,1)" font-size="45" text-anchor="middle" fill="#333">580</text>
<text transform="translate(1645.5,2269.3) scale(0.97,1)" font-size="45" text-anchor="middle" fill="#333">600</text>
<text transform="translate(1760.4,2269.3) scale(0.97,1)" font-size="45" text-anchor="middle" fill="#333">620</text>
<text transform="translate(1875.2,2269.3) scale(0.97,1)" font-size="45" text-anchor="middle" fill="#333">640</text>
<text transform="translate(1647.3,2338.8)" font-size="48" text-anchor="middle" fill="#333">wavelength (nm)</text>
</svg></body></html>
